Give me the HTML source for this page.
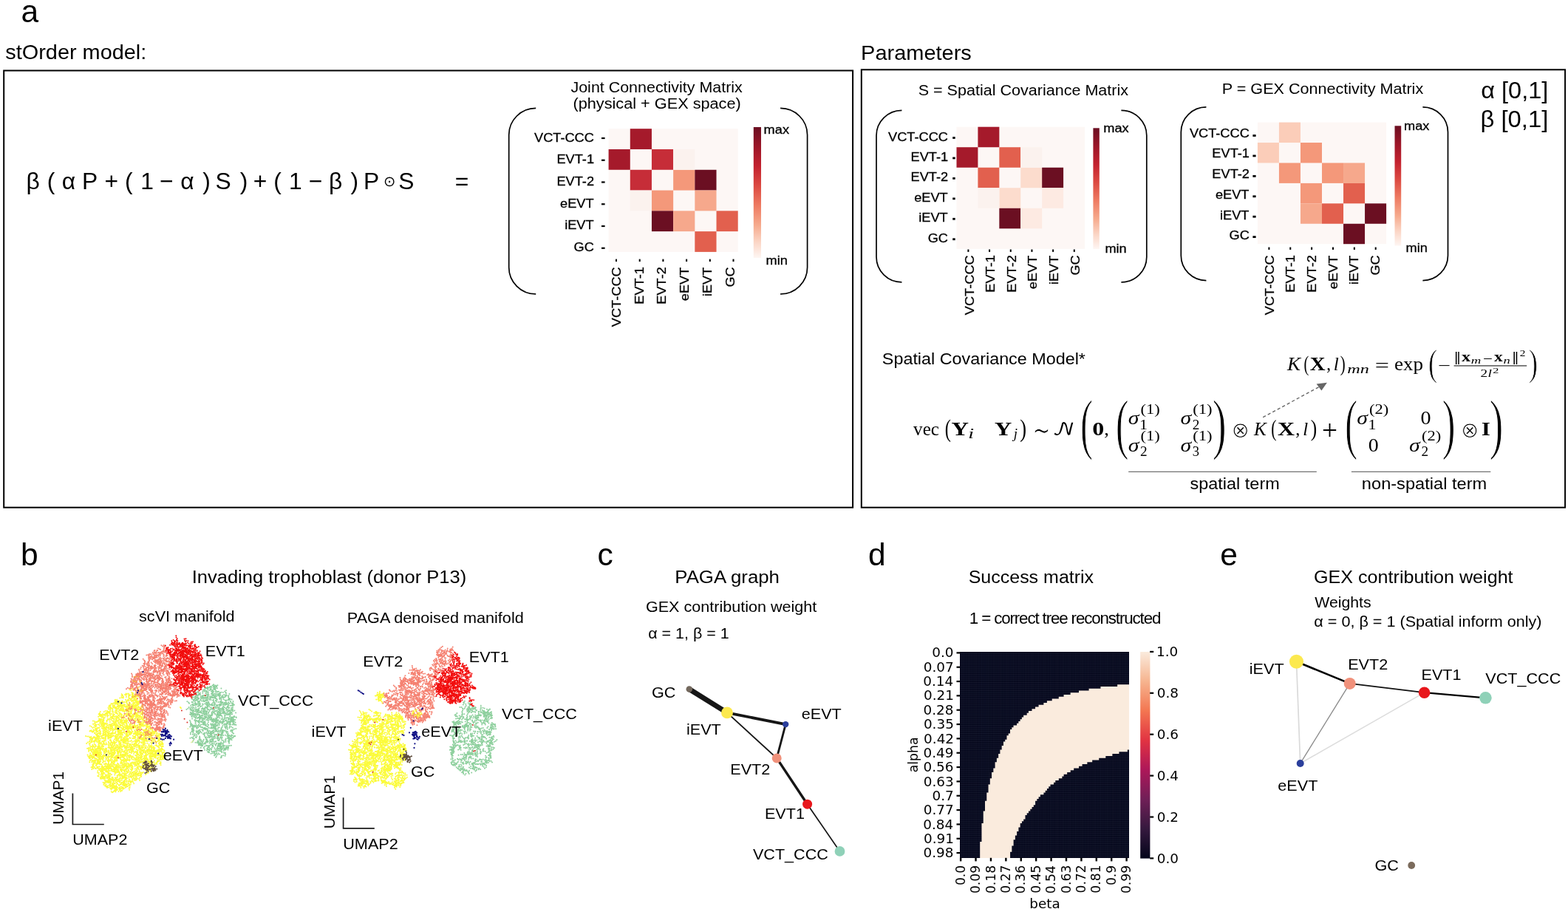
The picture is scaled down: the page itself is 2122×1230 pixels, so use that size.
<!DOCTYPE html>
<html lang="en"><head><meta charset="utf-8"><title>stOrder model figure</title>
<style>html,body{margin:0;padding:0;background:#fff}svg{display:block}</style>
</head><body>
<svg width="2122" height="1230" viewBox="0 0 2122 1230">
<rect width="2122" height="1230" fill="#fff"/>
<g fill="#000" font-family="Liberation Sans, DejaVu Sans, sans-serif">
<defs><linearGradient id="reds" x1="0" y1="0" x2="0" y2="1"><stop offset="0" stop-color="#6b0f22"/><stop offset="0.15" stop-color="#9c1628"/><stop offset="0.3" stop-color="#c3222f"/><stop offset="0.45" stop-color="#dc4a42"/><stop offset="0.6" stop-color="#ee7b62"/><stop offset="0.75" stop-color="#f6aa8d"/><stop offset="0.88" stop-color="#fbd6c6"/><stop offset="1" stop-color="#fef6f3"/></linearGradient></defs>
<text x="28.45" y="29.6" font-size="42.5">a</text>
<text transform="translate(7.28 80.3) scale(1.0526 1.0000)" font-size="27.45">stOrder model:</text>
<text transform="translate(1165.08 81) scale(1.0526 1.0000)" font-size="27.52">Parameters</text>
<rect x="5.2" y="95.5" width="1148.9" height="591.2" fill="none" stroke="#000" stroke-width="2"/>
<rect x="1165.8" y="94.3" width="952.3" height="592.4" fill="none" stroke="#000" stroke-width="2"/>
<text x="35.53" y="255.7" font-size="31.8">β</text>
<text x="63.69" y="255.7" font-size="31.8">(</text>
<text x="83.73" y="255.7" font-size="31.8">α</text>
<text x="110.96" y="255.7" font-size="31.8">P</text>
<text x="141.47" y="255.7" font-size="31.8">+</text>
<text x="168.99" y="255.7" font-size="31.8">(</text>
<text x="190.22" y="255.7" font-size="31.8">1</text>
<text x="216.07" y="255.7" font-size="31.8">−</text>
<text x="244.23" y="255.7" font-size="31.8">α</text>
<text x="274.34" y="255.7" font-size="31.8">)</text>
<text x="291.47" y="255.7" font-size="31.8">S</text>
<text x="324.84" y="255.7" font-size="31.8">)</text>
<text x="342.67" y="255.7" font-size="31.8">+</text>
<text x="370.19" y="255.7" font-size="31.8">(</text>
<text x="391.12" y="255.7" font-size="31.8">1</text>
<text x="417.87" y="255.7" font-size="31.8">−</text>
<text x="444.93" y="255.7" font-size="31.8">β</text>
<text x="474.54" y="255.7" font-size="31.8">)</text>
<text x="491.96" y="255.7" font-size="31.8">P</text>
<text x="539.17" y="255.7" font-size="31.8">S</text>
<text x="615.77" y="255.7" font-size="31.8">=</text>
<text x="519.01" y="252.2" font-size="19.5" font-family="'DejaVu Sans','Liberation Sans',sans-serif">⊙</text>
<text transform="translate(772.48 125.4) scale(1.0526 1.0000)" font-size="20.38">Joint Connectivity Matrix</text>
<text transform="translate(775.5 146.7) scale(1.0526 1.0000)" font-size="20.63">(physical + GEX space)</text>
<text transform="translate(1242.63 128.6) scale(1.0526 1.0000)" font-size="20.49">S = Spatial Covariance Matrix</text>
<text transform="translate(1653.77 126.6) scale(1.0526 1.0000)" font-size="20.52">P = GEX Connectivity Matrix</text>
<text transform="translate(2004.3 132.7) scale(1.0526 1.0000)" font-size="30.86">α [0,1]</text>
<text transform="translate(2003.47 171.7) scale(1.0526 1.0000)" font-size="31.18">β [0,1]</text>
<rect x="823.6" y="174.2" width="175.1" height="166.7" fill="#fdf7f5"/>
<rect x="852.78" y="174.2" width="29.18" height="27.78" fill="#a51a2b"/>
<rect x="881.97" y="201.98" width="29.18" height="27.78" fill="#c62d38"/>
<rect x="911.15" y="229.77" width="29.18" height="27.78" fill="#f4987a"/>
<rect x="940.33" y="229.77" width="29.18" height="27.78" fill="#6b0f22"/>
<rect x="940.33" y="257.55" width="29.18" height="27.78" fill="#f6a88c"/>
<rect x="969.52" y="285.33" width="29.18" height="27.78" fill="#e2604e"/>
<rect x="911.15" y="201.98" width="29.18" height="27.78" fill="#fbf2ee"/>
<rect x="823.6" y="201.98" width="29.18" height="27.78" fill="#a51a2b"/>
<rect x="852.78" y="229.77" width="29.18" height="27.78" fill="#c62d38"/>
<rect x="881.97" y="257.55" width="29.18" height="27.78" fill="#f4987a"/>
<rect x="881.97" y="285.33" width="29.18" height="27.78" fill="#6b0f22"/>
<rect x="911.15" y="285.33" width="29.18" height="27.78" fill="#f6a88c"/>
<rect x="940.33" y="313.12" width="29.18" height="27.78" fill="#e2604e"/>
<rect x="852.78" y="257.55" width="29.18" height="27.78" fill="#fbf2ee"/>
<text transform="translate(722.99 191.5) scale(1.0526 1.0000)" font-size="17.29" stroke="#000" stroke-width="0.3">VCT-CCC</text>
<rect x="814" y="185.9" width="4.6" height="2.2" fill="#000"/>
<text transform="translate(753.47 221.2) scale(1.0526 1.0000)" font-size="17.29" stroke="#000" stroke-width="0.3">EVT-1</text>
<rect x="814" y="215.65" width="4.6" height="2.2" fill="#000"/>
<text transform="translate(753.47 250.9) scale(1.0526 1.0000)" font-size="17.29" stroke="#000" stroke-width="0.3">EVT-2</text>
<rect x="814" y="245.4" width="4.6" height="2.2" fill="#000"/>
<text transform="translate(758.06 280.6) scale(1.0526 1.0000)" font-size="17.29" stroke="#000" stroke-width="0.3">eEVT</text>
<rect x="814" y="275.15" width="4.6" height="2.2" fill="#000"/>
<text transform="translate(764.14 310.3) scale(1.0526 1.0000)" font-size="17.29" stroke="#000" stroke-width="0.3">iEVT</text>
<rect x="814" y="304.9" width="4.6" height="2.2" fill="#000"/>
<text transform="translate(776.58 340) scale(1.0526 1.0000)" font-size="17.29" stroke="#000" stroke-width="0.3">GC</text>
<rect x="814" y="334.65" width="4.6" height="2.2" fill="#000"/>
<text transform="translate(840 442.21) rotate(-90) scale(1.0526 1.0000)" font-size="17.29" stroke="#000" stroke-width="0.3">VCT-CCC</text>
<rect x="833" y="350.6" width="2" height="3.4" fill="#000"/>
<text transform="translate(870.74 411.73) rotate(-90) scale(1.0526 1.0000)" font-size="17.29" stroke="#000" stroke-width="0.3">EVT-1</text>
<rect x="864.7" y="350.6" width="2" height="3.4" fill="#000"/>
<text transform="translate(901.48 411.73) rotate(-90) scale(1.0526 1.0000)" font-size="17.29" stroke="#000" stroke-width="0.3">EVT-2</text>
<rect x="896.4" y="350.6" width="2" height="3.4" fill="#000"/>
<text transform="translate(932.22 407.14) rotate(-90) scale(1.0526 1.0000)" font-size="17.29" stroke="#000" stroke-width="0.3">eEVT</text>
<rect x="928.1" y="350.6" width="2" height="3.4" fill="#000"/>
<text transform="translate(962.96 401.06) rotate(-90) scale(1.0526 1.0000)" font-size="17.29" stroke="#000" stroke-width="0.3">iEVT</text>
<rect x="959.8" y="350.6" width="2" height="3.4" fill="#000"/>
<text transform="translate(993.7 388.62) rotate(-90) scale(1.0526 1.0000)" font-size="17.29" stroke="#000" stroke-width="0.3">GC</text>
<rect x="991.5" y="350.6" width="2" height="3.4" fill="#000"/>
<rect x="1019.8" y="172" width="10.2" height="177" fill="url(#reds)"/>
<text transform="translate(1033.62 181.3) scale(1.0526 1.0000)" font-size="17.29" stroke="#000" stroke-width="0.3">max</text>
<text transform="translate(1036.62 357.8) scale(1.0526 1.0000)" font-size="17.29" stroke="#000" stroke-width="0.3">min</text>
<path d="M725.2 146.4 C705.04 146.4 688.7 162.58 688.7 182.53 L688.7 361.76 C688.7 381.72 705.04 397.9 725.2 397.9" fill="none" stroke="#000" stroke-width="1.7"/>
<path d="M1056.1 146.4 C1076.26 146.4 1092.6 162.58 1092.6 182.53 L1092.6 361.76 C1092.6 381.72 1076.26 397.9 1056.1 397.9" fill="none" stroke="#000" stroke-width="1.7"/>
<rect x="1294.5" y="171.7" width="173.5" height="165.1" fill="#fdf7f5"/>
<rect x="1323.42" y="171.7" width="28.92" height="27.52" fill="#a51a2b"/>
<rect x="1352.33" y="199.22" width="28.92" height="27.52" fill="#e2604e"/>
<rect x="1381.25" y="226.73" width="28.92" height="27.52" fill="#fcdccd"/>
<rect x="1410.17" y="226.73" width="28.92" height="27.52" fill="#6b0f22"/>
<rect x="1410.17" y="254.25" width="28.92" height="27.52" fill="#fdeae2"/>
<rect x="1381.25" y="199.22" width="28.92" height="27.52" fill="#fbf2ee"/>
<rect x="1294.5" y="199.22" width="28.92" height="27.52" fill="#a51a2b"/>
<rect x="1323.42" y="226.73" width="28.92" height="27.52" fill="#e2604e"/>
<rect x="1352.33" y="254.25" width="28.92" height="27.52" fill="#fcdccd"/>
<rect x="1352.33" y="281.77" width="28.92" height="27.52" fill="#6b0f22"/>
<rect x="1381.25" y="281.77" width="28.92" height="27.52" fill="#fdeae2"/>
<rect x="1323.42" y="254.25" width="28.92" height="27.52" fill="#fbf2ee"/>
<text transform="translate(1202.09 190.6) scale(1.0526 1.0000)" font-size="17.29" stroke="#000" stroke-width="0.3">VCT-CCC</text>
<rect x="1289.2" y="185.1" width="3.5" height="2.8" fill="#000"/>
<text transform="translate(1232.57 218.04) scale(1.0526 1.0000)" font-size="17.29" stroke="#000" stroke-width="0.3">EVT-1</text>
<rect x="1289.2" y="212.54" width="3.5" height="2.8" fill="#000"/>
<text transform="translate(1232.57 245.48) scale(1.0526 1.0000)" font-size="17.29" stroke="#000" stroke-width="0.3">EVT-2</text>
<rect x="1289.2" y="239.98" width="3.5" height="2.8" fill="#000"/>
<text transform="translate(1237.16 272.92) scale(1.0526 1.0000)" font-size="17.29" stroke="#000" stroke-width="0.3">eEVT</text>
<rect x="1289.2" y="267.42" width="3.5" height="2.8" fill="#000"/>
<text transform="translate(1243.24 300.36) scale(1.0526 1.0000)" font-size="17.29" stroke="#000" stroke-width="0.3">iEVT</text>
<rect x="1289.2" y="294.86" width="3.5" height="2.8" fill="#000"/>
<text transform="translate(1255.68 327.8) scale(1.0526 1.0000)" font-size="17.29" stroke="#000" stroke-width="0.3">GC</text>
<rect x="1289.2" y="322.3" width="3.5" height="2.8" fill="#000"/>
<text transform="translate(1317.6 426.21) rotate(-90) scale(1.0526 1.0000)" font-size="17.29" stroke="#000" stroke-width="0.3">VCT-CCC</text>
<rect x="1309.4" y="337.5" width="2" height="3.4" fill="#000"/>
<text transform="translate(1346.18 395.73) rotate(-90) scale(1.0526 1.0000)" font-size="17.29" stroke="#000" stroke-width="0.3">EVT-1</text>
<rect x="1338.08" y="337.5" width="2" height="3.4" fill="#000"/>
<text transform="translate(1374.76 395.73) rotate(-90) scale(1.0526 1.0000)" font-size="17.29" stroke="#000" stroke-width="0.3">EVT-2</text>
<rect x="1366.76" y="337.5" width="2" height="3.4" fill="#000"/>
<text transform="translate(1403.34 391.14) rotate(-90) scale(1.0526 1.0000)" font-size="17.29" stroke="#000" stroke-width="0.3">eEVT</text>
<rect x="1395.44" y="337.5" width="2" height="3.4" fill="#000"/>
<text transform="translate(1431.92 385.06) rotate(-90) scale(1.0526 1.0000)" font-size="17.29" stroke="#000" stroke-width="0.3">iEVT</text>
<rect x="1424.12" y="337.5" width="2" height="3.4" fill="#000"/>
<text transform="translate(1460.5 372.62) rotate(-90) scale(1.0526 1.0000)" font-size="17.29" stroke="#000" stroke-width="0.3">GC</text>
<rect x="1452.8" y="337.5" width="2" height="3.4" fill="#000"/>
<rect x="1479.4" y="173.3" width="8.4" height="163.7" fill="url(#reds)"/>
<text transform="translate(1493.32 178.8) scale(1.0526 1.0000)" font-size="17.29" stroke="#000" stroke-width="0.3">max</text>
<text transform="translate(1495.42 342.3) scale(1.0526 1.0000)" font-size="17.29" stroke="#000" stroke-width="0.3">min</text>
<path d="M1220.4 149.3 C1201.4 149.3 1186 164.55 1186 183.36 L1186 347.74 C1186 366.55 1201.4 381.8 1220.4 381.8" fill="none" stroke="#000" stroke-width="1.7"/>
<path d="M1517.4 149.3 C1536.4 149.3 1551.8 164.55 1551.8 183.36 L1551.8 347.74 C1551.8 366.55 1536.4 381.8 1517.4 381.8" fill="none" stroke="#000" stroke-width="1.7"/>
<rect x="1701.9" y="165.6" width="174.2" height="164.6" fill="#fdf7f5"/>
<rect x="1730.93" y="165.6" width="29.03" height="27.43" fill="#fbcdb9"/>
<rect x="1759.97" y="193.03" width="29.03" height="27.43" fill="#f4987a"/>
<rect x="1789" y="220.47" width="29.03" height="27.43" fill="#f4987a"/>
<rect x="1818.03" y="220.47" width="29.03" height="27.43" fill="#f6a88c"/>
<rect x="1818.03" y="247.9" width="29.03" height="27.43" fill="#e2604e"/>
<rect x="1847.07" y="275.33" width="29.03" height="27.43" fill="#6b0f22"/>
<rect x="1701.9" y="193.03" width="29.03" height="27.43" fill="#fbcdb9"/>
<rect x="1730.93" y="220.47" width="29.03" height="27.43" fill="#f4987a"/>
<rect x="1759.97" y="247.9" width="29.03" height="27.43" fill="#f4987a"/>
<rect x="1759.97" y="275.33" width="29.03" height="27.43" fill="#f6a88c"/>
<rect x="1789" y="275.33" width="29.03" height="27.43" fill="#e2604e"/>
<rect x="1818.03" y="302.77" width="29.03" height="27.43" fill="#6b0f22"/>
<text transform="translate(1609.89 185.5) scale(1.0526 1.0000)" font-size="17.29" stroke="#000" stroke-width="0.3">VCT-CCC</text>
<rect x="1695.4" y="182.1" width="4.2" height="2.8" fill="#000"/>
<text transform="translate(1640.37 213.26) scale(1.0526 1.0000)" font-size="17.29" stroke="#000" stroke-width="0.3">EVT-1</text>
<rect x="1695.4" y="209.52" width="4.2" height="2.8" fill="#000"/>
<text transform="translate(1640.37 241.02) scale(1.0526 1.0000)" font-size="17.29" stroke="#000" stroke-width="0.3">EVT-2</text>
<rect x="1695.4" y="236.94" width="4.2" height="2.8" fill="#000"/>
<text transform="translate(1644.96 268.78) scale(1.0526 1.0000)" font-size="17.29" stroke="#000" stroke-width="0.3">eEVT</text>
<rect x="1695.4" y="264.36" width="4.2" height="2.8" fill="#000"/>
<text transform="translate(1651.04 296.54) scale(1.0526 1.0000)" font-size="17.29" stroke="#000" stroke-width="0.3">iEVT</text>
<rect x="1695.4" y="291.78" width="4.2" height="2.8" fill="#000"/>
<text transform="translate(1663.48 324.3) scale(1.0526 1.0000)" font-size="17.29" stroke="#000" stroke-width="0.3">GC</text>
<rect x="1695.4" y="319.2" width="4.2" height="2.8" fill="#000"/>
<text transform="translate(1723.9 426.21) rotate(-90) scale(1.0526 1.0000)" font-size="17.29" stroke="#000" stroke-width="0.3">VCT-CCC</text>
<rect x="1716.4" y="334.5" width="2" height="3.4" fill="#000"/>
<text transform="translate(1752.46 395.73) rotate(-90) scale(1.0526 1.0000)" font-size="17.29" stroke="#000" stroke-width="0.3">EVT-1</text>
<rect x="1745.26" y="334.5" width="2" height="3.4" fill="#000"/>
<text transform="translate(1781.02 395.73) rotate(-90) scale(1.0526 1.0000)" font-size="17.29" stroke="#000" stroke-width="0.3">EVT-2</text>
<rect x="1774.12" y="334.5" width="2" height="3.4" fill="#000"/>
<text transform="translate(1809.58 391.14) rotate(-90) scale(1.0526 1.0000)" font-size="17.29" stroke="#000" stroke-width="0.3">eEVT</text>
<rect x="1802.98" y="334.5" width="2" height="3.4" fill="#000"/>
<text transform="translate(1838.14 385.06) rotate(-90) scale(1.0526 1.0000)" font-size="17.29" stroke="#000" stroke-width="0.3">iEVT</text>
<rect x="1831.84" y="334.5" width="2" height="3.4" fill="#000"/>
<text transform="translate(1866.7 372.62) rotate(-90) scale(1.0526 1.0000)" font-size="17.29" stroke="#000" stroke-width="0.3">GC</text>
<rect x="1860.7" y="334.5" width="2" height="3.4" fill="#000"/>
<rect x="1887.5" y="170.3" width="8.7" height="162.2" fill="url(#reds)"/>
<text transform="translate(1900.02 176.4) scale(1.0526 1.0000)" font-size="17.29" stroke="#000" stroke-width="0.3">max</text>
<text transform="translate(1902.62 341.1) scale(1.0526 1.0000)" font-size="17.29" stroke="#000" stroke-width="0.3">min</text>
<path d="M1632.4 144.9 C1613.57 144.9 1598.3 160.01 1598.3 178.66 L1598.3 345.84 C1598.3 364.49 1613.57 379.6 1632.4 379.6" fill="none" stroke="#000" stroke-width="1.7"/>
<path d="M1925.4 144.9 C1944.23 144.9 1959.5 160.01 1959.5 178.66 L1959.5 345.84 C1959.5 364.49 1944.23 379.6 1925.4 379.6" fill="none" stroke="#000" stroke-width="1.7"/>
<text transform="translate(1193.85 493) scale(1.0526 1.0000)" font-size="22.19">Spatial Covariance Model*</text>
<text transform="translate(1236.1 589.1) scale(0.9718 1.0000)" font-size="25.9" font-family="'Liberation Serif','DejaVu Serif',serif">vec</text>
<text transform="translate(1278.72 590.98) scale(0.7109 1.0000)" font-size="34.51" font-family="'Liberation Serif','DejaVu Serif',serif">(</text>
<text transform="translate(1287.61 589.1) scale(1.2534 1.0000)" font-size="25.9" font-family="'Liberation Serif','DejaVu Serif',serif" font-weight="bold">Y</text>
<text transform="translate(1310.25 593.3) scale(1.5125 1.0000)" font-size="18.65" font-family="'Liberation Serif','DejaVu Serif',serif" font-style="italic">i</text>
<text transform="translate(1346.02 589.1) scale(1.2422 1.0000)" font-size="25.9" font-family="'Liberation Serif','DejaVu Serif',serif" font-weight="bold">Y</text>
<text transform="translate(1371.78 593.3) scale(1.0137 1.0000)" font-size="18.65" font-family="'Liberation Serif','DejaVu Serif',serif" font-style="italic">j</text>
<text transform="translate(1380.2 590.98) scale(0.7691 1.0000)" font-size="34.51" font-family="'Liberation Serif','DejaVu Serif',serif">)</text>
<text transform="translate(1397.35 596.13) scale(0.7160 1.0000)" font-size="40.57" font-family="'DejaVu Sans','Liberation Sans',sans-serif" stroke="#fff" stroke-width="0.9" vector-effect="non-scaling-stroke">∼</text>
<text transform="translate(1424.55 588.94) scale(1.0941 1.0000)" font-size="24.6" font-family="'DejaVu Math TeX Gyre','DejaVu Serif','Liberation Serif',serif">𝒩</text>
<text transform="translate(1461.96 604.45) scale(0.5660 1.0000)" font-size="90" font-family="'Liberation Serif','DejaVu Serif',serif" stroke="#fff" stroke-width="1.2" vector-effect="non-scaling-stroke">(</text>
<text transform="translate(1478.18 589.1) scale(1.2391 1.0000)" font-size="25.9" font-family="'Liberation Serif','DejaVu Serif',serif" font-weight="bold">0</text>
<text transform="translate(1494.17 589.1) scale(1.0213 1.0000)" font-size="25.9" font-family="'Liberation Serif','DejaVu Serif',serif">,</text>
<text transform="translate(1509.76 604.45) scale(0.5954 1.0000)" font-size="90" font-family="'Liberation Serif','DejaVu Serif',serif" stroke="#fff" stroke-width="1.2" vector-effect="non-scaling-stroke">(</text>
<text transform="translate(1526.65 574) scale(1.2067 1.0000)" font-size="24.7" font-family="'Liberation Serif','DejaVu Serif',serif" font-style="italic">σ</text>
<text transform="translate(1543.5 559.7) scale(1.2082 1.0000)" font-size="18.65" font-family="'Liberation Serif','DejaVu Serif',serif">(1)</text>
<text transform="translate(1541.93 580.6) scale(1.2110 1.0000)" font-size="18.14" font-family="'Liberation Serif','DejaVu Serif',serif">1</text>
<text transform="translate(1597.45 574) scale(1.2067 1.0000)" font-size="24.7" font-family="'Liberation Serif','DejaVu Serif',serif" font-style="italic">σ</text>
<text transform="translate(1614.3 559.7) scale(1.2082 1.0000)" font-size="18.65" font-family="'Liberation Serif','DejaVu Serif',serif">(1)</text>
<text transform="translate(1613.83 580.6) scale(1.0615 1.0000)" font-size="18.14" font-family="'Liberation Serif','DejaVu Serif',serif">2</text>
<text transform="translate(1526.65 610.6) scale(1.2067 1.0000)" font-size="24.7" font-family="'Liberation Serif','DejaVu Serif',serif" font-style="italic">σ</text>
<text transform="translate(1543.5 596.3) scale(1.2082 1.0000)" font-size="18.65" font-family="'Liberation Serif','DejaVu Serif',serif">(1)</text>
<text transform="translate(1543.03 617.2) scale(1.0615 1.0000)" font-size="18.14" font-family="'Liberation Serif','DejaVu Serif',serif">2</text>
<text transform="translate(1597.45 610.6) scale(1.2067 1.0000)" font-size="24.7" font-family="'Liberation Serif','DejaVu Serif',serif" font-style="italic">σ</text>
<text transform="translate(1614.3 596.3) scale(1.2082 1.0000)" font-size="18.65" font-family="'Liberation Serif','DejaVu Serif',serif">(1)</text>
<text transform="translate(1613.76 617.2) scale(1.0236 1.0000)" font-size="18.14" font-family="'Liberation Serif','DejaVu Serif',serif">3</text>
<text transform="translate(1640.79 604.45) scale(0.6325 1.0000)" font-size="90" font-family="'Liberation Serif','DejaVu Serif',serif" stroke="#fff" stroke-width="1.2" vector-effect="non-scaling-stroke">)</text>
<text transform="translate(1666.58 592.35) scale(0.9796 1.0000)" font-size="29.7" font-family="'DejaVu Sans','Liberation Sans',sans-serif" stroke="#fff" stroke-width="0.9" vector-effect="non-scaling-stroke">⊗</text>
<text transform="translate(1697.08 589.1) scale(0.9692 1.0000)" font-size="25.9" font-family="'Liberation Serif','DejaVu Serif',serif" font-style="italic">K</text>
<text transform="translate(1720.34 590.44) scale(0.6844 1.0000)" font-size="31.43" font-family="'Liberation Serif','DejaVu Serif',serif">(</text>
<text transform="translate(1729.02 589.1) scale(1.2300 1.0000)" font-size="25.9" font-family="'Liberation Serif','DejaVu Serif',serif" font-weight="bold">X</text>
<text transform="translate(1753.14 589.1) scale(0.9466 1.0000)" font-size="25.9" font-family="'Liberation Serif','DejaVu Serif',serif">,</text>
<text transform="translate(1763.36 589.1) scale(0.9561 1.0000)" font-size="25.9" font-family="'Liberation Serif','DejaVu Serif',serif" font-style="italic">l</text>
<text transform="translate(1773.84 590.44) scale(0.8077 1.0000)" font-size="31.43" font-family="'Liberation Serif','DejaVu Serif',serif">)</text>
<text transform="translate(1788.92 594.8) scale(0.9839 1.0000)" font-size="37.87" font-family="'Liberation Serif','DejaVu Serif',serif">+</text>
<text transform="translate(1819.92 604.45) scale(0.5786 1.0000)" font-size="90" font-family="'Liberation Serif','DejaVu Serif',serif" stroke="#fff" stroke-width="1.2" vector-effect="non-scaling-stroke">(</text>
<text transform="translate(1836.25 574) scale(1.2067 1.0000)" font-size="24.7" font-family="'Liberation Serif','DejaVu Serif',serif" font-style="italic">σ</text>
<text transform="translate(1853.1 559.7) scale(1.2082 1.0000)" font-size="18.65" font-family="'Liberation Serif','DejaVu Serif',serif">(2)</text>
<text transform="translate(1851.53 580.6) scale(1.2110 1.0000)" font-size="18.14" font-family="'Liberation Serif','DejaVu Serif',serif">1</text>
<text transform="translate(1922.62 574) scale(1.0865 1.0000)" font-size="25.9" font-family="'Liberation Serif','DejaVu Serif',serif">0</text>
<text transform="translate(1851.82 610.6) scale(1.0775 1.0000)" font-size="25.9" font-family="'Liberation Serif','DejaVu Serif',serif">0</text>
<text transform="translate(1907.05 610.6) scale(1.2067 1.0000)" font-size="24.7" font-family="'Liberation Serif','DejaVu Serif',serif" font-style="italic">σ</text>
<text transform="translate(1923.9 596.3) scale(1.2082 1.0000)" font-size="18.65" font-family="'Liberation Serif','DejaVu Serif',serif">(2)</text>
<text transform="translate(1923.43 617.2) scale(1.0615 1.0000)" font-size="18.14" font-family="'Liberation Serif','DejaVu Serif',serif">2</text>
<text transform="translate(1951.56 604.45) scale(0.6068 1.0000)" font-size="90" font-family="'Liberation Serif','DejaVu Serif',serif" stroke="#fff" stroke-width="1.2" vector-effect="non-scaling-stroke">)</text>
<text transform="translate(1976.88 592.35) scale(0.9796 1.0000)" font-size="29.7" font-family="'DejaVu Sans','Liberation Sans',sans-serif" stroke="#fff" stroke-width="0.9" vector-effect="non-scaling-stroke">⊗</text>
<text transform="translate(2005.09 589.1) scale(1.1700 1.0000)" font-size="25.9" font-family="'Liberation Serif','DejaVu Serif',serif" font-weight="bold">I</text>
<text transform="translate(2015.59 604.45) scale(0.6325 1.0000)" font-size="90" font-family="'Liberation Serif','DejaVu Serif',serif" stroke="#fff" stroke-width="1.2" vector-effect="non-scaling-stroke">)</text>
<rect x="1527.2" y="637.8" width="254.6" height="1.2" fill="#6e6e6e"/>
<rect x="1828.9" y="637.8" width="188.4" height="1.2" fill="#6e6e6e"/>
<text transform="translate(1610.51 662.2) scale(1.0526 1.0000)" font-size="22.29">spatial term</text>
<text transform="translate(1842.86 662.2) scale(1.0526 1.0000)" font-size="22.45">non-spatial term</text>
<text transform="translate(1742.11 501.2) scale(1.0438 1.0000)" font-size="25.9" font-family="'Liberation Serif','DejaVu Serif',serif" font-style="italic">K</text>
<text transform="translate(1764.58 501.74) scale(0.6893 1.0000)" font-size="29.56" font-family="'Liberation Serif','DejaVu Serif',serif">(</text>
<text transform="translate(1772.87 501.2) scale(1.1142 1.0000)" font-size="25.9" font-family="'Liberation Serif','DejaVu Serif',serif" font-weight="bold">X</text>
<text transform="translate(1795.19 501.2) scale(0.8967 1.0000)" font-size="25.9" font-family="'Liberation Serif','DejaVu Serif',serif">,</text>
<text transform="translate(1804.74 501.2) scale(0.9744 1.0000)" font-size="25.9" font-family="'Liberation Serif','DejaVu Serif',serif" font-style="italic">l</text>
<text transform="translate(1813.78 501.74) scale(0.7026 1.0000)" font-size="29.56" font-family="'Liberation Serif','DejaVu Serif',serif">)</text>
<text transform="translate(1823.35 505.2) scale(1.5091 1.0000)" font-size="16.06" font-family="'Liberation Serif','DejaVu Serif',serif" font-style="italic">mn</text>
<text transform="translate(1860.87 503.35) scale(1.3322 1.0000)" font-size="25.6" font-family="'Liberation Serif','DejaVu Serif',serif">=</text>
<text transform="translate(1887.05 501.2) scale(1.0455 1.0000)" font-size="25.9" font-family="'Liberation Serif','DejaVu Serif',serif">exp</text>
<text transform="translate(1933.04 507.62) scale(0.7102 1.0000)" font-size="51.54" font-family="'Liberation Serif','DejaVu Serif',serif" stroke="#fff" stroke-width="0.8" vector-effect="non-scaling-stroke">(</text>
<text transform="translate(1946.04 502.15) scale(1.3895 1.0000)" font-size="21.82" font-family="'Liberation Serif','DejaVu Serif',serif">−</text>
<text transform="translate(1967.78 493.3) scale(1.3123 1.0000)" font-size="24.89" font-family="'Liberation Serif','DejaVu Serif',serif">‖</text>
<text transform="translate(1978 489.4) scale(1.3142 1.0000)" font-size="18.6" font-family="'Liberation Serif','DejaVu Serif',serif" font-weight="bold">x</text>
<text transform="translate(1990.84 492.2) scale(1.4896 1.0000)" font-size="12.6" font-family="'Liberation Serif','DejaVu Serif',serif" font-style="italic">m</text>
<text transform="translate(2007.07 491.5) scale(1.1474 1.0000)" font-size="20" font-family="'Liberation Serif','DejaVu Serif',serif">−</text>
<text transform="translate(2022.1 489.4) scale(1.2708 1.0000)" font-size="18.6" font-family="'Liberation Serif','DejaVu Serif',serif" font-weight="bold">x</text>
<text transform="translate(2034.55 492.2) scale(1.4753 1.0000)" font-size="12.6" font-family="'Liberation Serif','DejaVu Serif',serif" font-style="italic">n</text>
<text transform="translate(2046.28 493.3) scale(1.3123 1.0000)" font-size="24.89" font-family="'Liberation Serif','DejaVu Serif',serif">‖</text>
<text transform="translate(2056.69 481.5) scale(1.2346 1.0000)" font-size="12.4" font-family="'Liberation Serif','DejaVu Serif',serif">2</text>
<rect x="1967.6" y="494.4" width="98.6" height="1.1" fill="#1a1a1a"/>
<text transform="translate(2003.53 509.9) scale(1.2506 1.0000)" font-size="15.4" font-family="'Liberation Serif','DejaVu Serif',serif">2</text>
<text transform="translate(2013.42 509.9) scale(1.2678 1.0000)" font-size="15.4" font-family="'Liberation Serif','DejaVu Serif',serif" font-style="italic">l</text>
<text transform="translate(2020.15 505.3) scale(1.4815 1.0000)" font-size="11" font-family="'Liberation Serif','DejaVu Serif',serif">2</text>
<text transform="translate(2068.69 507.62) scale(0.7164 1.0000)" font-size="51.54" font-family="'Liberation Serif','DejaVu Serif',serif" stroke="#fff" stroke-width="0.8" vector-effect="non-scaling-stroke">)</text>
<path d="M1709.2 564.6 L1785.5 523.4" fill="none" stroke="#666" stroke-width="1.4" stroke-dasharray="4.2 3.2"/>
<path d="M1795.9 517.8 L1781.6 519.5 L1788.4 528.5 Z" fill="#666"/>
<text x="28.03" y="764.9" font-size="42.5">b</text>
<text transform="translate(259.7 789.1) scale(1.0526 1.0000)" font-size="24.25">Invading trophoblast (donor P13)</text>
<text transform="translate(188.06 840.9) scale(1.0526 1.0000)" font-size="20.51">scVI manifold</text>
<text transform="translate(469.87 843.3) scale(1.0526 1.0000)" font-size="20.56">PAGA denoised manifold</text>
<path d="M156.9 957.2h0M158.5 958.7h0M182.4 954.6h0M180.4 955.5h0M178.2 955.6h0M140.7 979.8h0M142.9 979.5h0M145.1 979.2h0M131.1 988.1h0M170.6 1035.4h0M172.2 1036.8h0M174.8 952.1h0M159.6 1044.3h0M182.2 975.5h0M157.6 1025.1h0M155.4 1025.1h0M149.2 1006.7h0M150.6 1008.4h0M148.7 1038.0h0M162.7 954.7h0M164.1 956.4h0M131.9 1021.9h0M129.9 1022.7h0M127.9 1021.8h0M151.8 971.2h0M158.3 1002.2h0M160.5 1002.4h0M146.8 992.7h0M145.7 990.7h0M153.8 1060.9h0M208.3 1000.8h0M207.3 1002.8h0M151.3 1042.2h0M153.2 1043.4h0M172.0 1043.9h0M146.5 1007.1h0M172.2 1015.8h0M173.8 1014.3h0M155.9 1046.4h0M151.4 983.0h0M171.2 939.1h0M169.2 956.0h0M136.2 1034.5h0M146.7 964.4h0M145.3 966.1h0M145.0 968.3h0M146.0 993.1h0M145.3 991.0h0M143.4 989.8h0M191.0 990.8h0M189.7 992.6h0M187.9 993.9h0M146.7 1055.1h0M148.9 1055.2h0M151.1 1054.9h0M190.1 958.5h0M144.1 1064.1h0M132.0 1016.7h0M131.6 1018.8h0M200.3 1020.8h0M198.1 1021.1h0M135.9 989.6h0M135.0 987.6h0M192.8 999.9h0M194.5 1001.2h0M161.1 973.7h0M120.8 1025.9h0M122.1 1024.2h0M121.4 1022.1h0M172.4 1027.7h0M170.4 1028.7h0M171.6 1046.2h0M135.3 1002.7h0M125.6 1025.2h0M123.8 1024.1h0M121.6 1023.9h0M182.1 1012.8h0M180.0 1013.4h0M177.8 1013.3h0M190.7 1025.4h0M191.4 1027.4h0M196.8 1033.8h0M161.5 1013.2h0M161.9 1011.1h0M163.8 1010.0h0M157.1 1066.8h0M155.0 1066.5h0M177.6 1009.8h0M178.8 1011.7h0M178.2 1016.5h0M177.2 1014.6h0M175.0 1014.1h0M177.0 983.4h0M175.0 982.6h0M188.1 1012.6h0M190.0 1013.7h0M191.6 1015.3h0M174.1 962.7h0M147.4 1043.3h0M145.2 1043.4h0M143.1 1044.0h0M150.4 1058.0h0M149.4 1060.0h0M142.1 1040.2h0M140.1 1041.2h0M138.1 1042.1h0M185.8 1048.4h0M152.6 1051.9h0M152.8 1054.1h0M152.8 1056.3h0M162.5 974.0h0M164.3 972.7h0M185.1 1020.1h0M132.8 1031.8h0M135.0 1031.9h0M130.7 986.7h0M197.2 991.6h0M122.1 1013.1h0M120.1 1014.1h0M186.9 1032.9h0M184.9 1033.7h0M174.4 1024.2h0M204.3 992.2h0M206.4 991.4h0M176.6 998.8h0M178.6 942.4h0M180.1 940.8h0M151.4 1051.8h0M153.0 1053.4h0M177.7 990.6h0M177.2 992.7h0M174.2 1042.0h0M218.9 1024.6h0M219.0 1022.4h0M219.2 1020.2h0M172.4 955.2h0M172.4 953.0h0M177.6 964.2h0M176.1 962.5h0M176.1 960.3h0M133.3 995.6h0M132.6 1030.9h0M134.6 1031.8h0M156.5 1045.9h0M171.9 1008.9h0M171.7 1011.1h0M151.9 1037.0h0M151.6 1034.8h0M150.4 1033.0h0M195.2 995.8h0M197.1 994.8h0M199.3 995.2h0M163.2 1071.0h0M132.7 1017.5h0M131.8 1015.5h0M158.8 1041.7h0M157.1 1040.3h0M156.1 1038.3h0M210.9 999.6h0M217.9 1007.3h0M216.9 1009.2h0M163.8 999.9h0M163.2 997.8h0M161.5 996.4h0M151.7 1060.8h0M213.1 1030.1h0M210.3 1008.6h0M204.5 1029.5h0M185.7 985.1h0M186.7 983.1h0M188.9 982.9h0M148.3 1038.2h0M146.9 1036.4h0M178.7 942.6h0M180.0 944.4h0M215.4 1006.9h0M161.4 1025.0h0M163.6 1025.2h0M184.1 1036.0h0M185.0 1051.2h0M156.1 977.6h0M168.3 1047.4h0M170.4 1046.9h0M165.9 986.9h0M167.1 985.0h0M169.1 984.1h0M145.5 970.1h0M145.0 967.9h0M145.2 965.7h0M157.9 965.4h0M156.1 964.2h0M181.6 955.3h0M183.4 954.1h0M135.5 982.9h0M134.5 980.9h0M135.2 978.8h0M171.3 1029.6h0M173.2 1028.5h0M175.1 1029.6h0M163.9 1069.6h0M173.7 977.8h0M203.2 982.3h0M201.0 982.4h0M205.0 1023.9h0M203.7 1025.7h0M145.4 969.9h0M146.6 968.1h0M220.1 1005.6h0M220.3 1007.8h0M184.0 971.2h0M184.8 969.1h0M198.8 1002.0h0M198.4 999.8h0M199.6 998.0h0M177.1 1059.1h0M176.4 1057.0h0M175.4 1055.1h0M176.7 1034.5h0M178.3 1036.1h0M179.6 1037.8h0M156.8 1034.9h0M157.8 1036.8h0M158.3 1039.0h0M126.6 987.2h0M126.7 989.4h0M125.1 990.8h0M163.1 1025.5h0M163.3 1027.7h0M164.9 1029.3h0M125.9 1013.7h0M188.6 968.6h0M171.9 1049.8h0M174.0 1050.4h0M176.1 1051.1h0M214.6 1011.2h0M202.2 1011.7h0M200.8 1013.4h0M200.3 1015.6h0M126.5 1037.5h0M126.4 1035.3h0M126.1 1033.1h0M167.4 1017.7h0M136.0 1053.5h0M192.3 1001.5h0M191.3 999.6h0M190.8 997.4h0M163.3 1022.2h0M163.7 1020.1h0M163.7 1017.9h0M193.6 1034.0h0M143.0 993.8h0M140.8 993.9h0M182.5 1034.5h0M122.1 1019.6h0M150.4 981.9h0M149.3 980.0h0M194.1 1008.2h0M192.5 1009.7h0M155.6 1046.2h0M163.4 1000.3h0M165.6 1000.4h0M147.1 1065.5h0M145.0 1066.1h0M143.5 1064.5h0M202.7 1035.9h0M164.8 985.3h0M166.9 985.9h0M131.6 986.0h0M130.0 987.5h0M171.2 979.6h0M136.4 999.4h0M167.2 998.4h0M168.8 996.9h0M129.8 999.7h0M130.4 1001.8h0M174.2 941.4h0M176.2 940.6h0M218.6 1007.2h0M160.2 990.3h0M159.9 988.1h0M159.4 985.9h0M155.6 947.6h0M157.6 948.3h0M156.8 950.4h0M174.3 948.6h0M166.9 998.4h0M168.2 1000.1h0M169.0 1002.2h0M211.4 993.1h0M211.8 995.2h0M204.2 991.0h0M206.0 989.8h0M206.1 987.6h0M153.7 995.6h0M151.8 996.6h0M150.3 998.3h0M125.2 1025.2h0M209.7 990.8h0M211.4 989.4h0M212.3 987.4h0M219.7 1010.0h0M217.6 1009.2h0M215.5 1008.6h0M133.5 1003.4h0M167.2 1061.1h0M169.1 1062.2h0M189.5 1030.5h0M191.7 1030.9h0M193.6 1029.9h0M140.1 999.5h0M175.0 970.0h0M177.2 969.8h0M179.1 968.7h0M153.3 1058.2h0M154.2 1056.1h0M138.6 1027.6h0M139.6 1029.6h0M134.7 1027.1h0M132.8 1028.3h0M131.0 1027.1h0M165.6 974.6h0M186.3 985.9h0M185.8 990.1h0M167.5 983.6h0M169.7 983.8h0M160.2 1011.4h0M162.0 1010.0h0M184.5 958.5h0M132.8 984.7h0M131.0 1034.5h0M161.3 990.6h0M159.6 989.2h0M158.4 987.3h0M144.9 1058.1h0M142.7 1058.6h0M141.7 1060.6h0M148.0 1051.6h0M146.1 1050.6h0M143.9 1050.2h0M152.8 1071.8h0M150.7 1071.2h0M192.3 976.4h0M191.4 978.4h0M189.4 979.4h0M219.9 1026.0h0M180.6 969.9h0M178.2 1046.1h0M177.9 1048.3h0M205.0 1012.8h0M207.1 1012.3h0M208.0 1010.2h0M207.5 998.9h0M174.3 956.1h0M174.8 958.2h0M213.3 1021.7h0M211.1 1021.6h0M209.8 1019.8h0M153.5 957.4h0M155.6 956.6h0M198.1 1027.0h0M195.9 1027.3h0M193.8 1026.7h0M178.2 956.2h0M179.9 957.5h0M184.4 1025.8h0M182.2 1025.7h0M146.6 1048.0h0M144.5 1048.5h0M143.6 1050.5h0M166.8 1065.7h0M166.3 1067.8h0M165.2 1069.7h0M185.4 950.8h0M177.3 962.6h0M157.8 948.6h0M167.0 957.9h0M167.6 960.0h0M124.5 1030.3h0M134.0 1027.2h0M136.8 972.9h0M176.6 1058.5h0M170.4 1048.8h0M168.7 1050.2h0M167.8 1052.3h0M169.0 1026.4h0M126.0 1021.0h0M127.5 1019.5h0M129.1 1018.0h0M189.5 957.5h0M191.1 959.0h0M192.9 960.2h0M147.8 962.9h0M145.6 963.2h0M189.9 994.2h0M129.5 1016.1h0M129.4 1013.9h0M185.3 940.5h0M183.8 942.2h0M183.4 944.3h0M153.6 981.4h0M151.5 981.8h0M149.7 980.6h0M217.9 1013.1h0M220.0 1013.8h0M155.8 952.7h0M154.2 951.3h0M156.4 1023.3h0M158.4 1022.2h0M159.8 1020.6h0M155.0 1008.6h0M156.8 1009.9h0M163.5 954.8h0M162.8 952.8h0M161.6 950.9h0M147.7 1040.4h0M149.5 1039.1h0M150.1 1037.0h0M158.8 1065.6h0M160.8 1066.5h0M162.8 1067.5h0M148.9 976.9h0M162.4 955.2h0M164.4 956.0h0M174.7 973.8h0M162.4 1016.4h0M160.5 1017.7h0M159.0 1019.2h0M216.4 1017.5h0M218.4 1016.7h0M192.2 954.2h0M125.5 1025.1h0M127.4 1023.8h0M181.2 1060.3h0M180.2 1058.3h0M170.1 983.9h0M170.4 986.1h0M179.4 937.5h0M153.4 1017.9h0M154.2 1015.8h0M163.0 1022.4h0M165.2 1022.4h0M143.5 1027.6h0M185.6 1021.3h0M183.9 1022.6h0M135.4 1039.9h0M136.3 1041.9h0M138.4 1042.7h0M188.9 985.7h0M205.4 1002.1h0M178.9 982.4h0M176.9 983.4h0M176.0 985.4h0M125.3 1008.1h0M124.2 1010.0h0M158.2 971.7h0M147.5 1062.4h0M149.7 1062.5h0M151.9 1062.1h0M208.0 989.7h0M206.1 990.9h0M204.4 992.3h0M177.9 1016.8h0M178.0 1019.0h0M221.7 1024.9h0M222.2 1022.8h0M224.0 1021.5h0M150.9 1016.5h0M152.4 1018.0h0M152.4 1020.2h0M151.3 1014.5h0M150.1 1012.6h0M172.5 982.7h0M170.6 981.7h0M168.5 981.1h0M163.9 956.0h0M163.6 958.2h0M162.3 960.0h0M164.0 952.9h0M165.9 954.0h0M155.8 984.1h0M157.8 984.9h0M161.8 968.9h0M163.5 970.3h0M137.6 1012.7h0M139.8 1012.8h0M171.1 1053.6h0M168.1 1021.3h0M168.8 1023.3h0M167.6 1025.2h0M152.1 1061.4h0M186.6 963.0h0M140.7 963.3h0M142.6 962.1h0M148.5 974.6h0M181.4 1049.8h0M179.4 1050.7h0M177.8 1052.3h0M131.4 977.0h0M133.4 976.0h0M134.5 974.1h0M148.5 974.1h0M146.3 973.8h0M162.6 1048.6h0M160.5 1047.9h0M147.5 1030.3h0M158.4 1011.6h0M200.3 1027.6h0M200.9 1029.7h0M150.2 1063.5h0M149.1 1061.6h0M164.8 992.1h0M182.7 948.4h0M182.1 946.3h0M180.7 944.6h0M168.4 1059.2h0M150.9 1048.2h0M148.7 1048.8h0M214.0 1025.1h0M166.9 984.0h0M165.7 985.9h0M165.0 988.0h0M134.0 974.6h0M134.1 972.4h0M136.2 1043.5h0M134.5 1042.1h0M138.3 968.5h0M136.8 966.9h0M183.5 974.9h0M183.2 972.7h0M176.9 1033.2h0M175.2 1034.7h0M176.1 1036.7h0M179.6 1053.8h0M181.7 1053.2h0M199.8 984.0h0M201.1 985.7h0M191.2 1050.8h0M190.5 1048.8h0M189.7 1046.7h0M177.1 1022.5h0M175.8 1024.3h0M128.1 1031.2h0M129.1 1029.2h0M139.3 981.2h0M156.8 985.4h0M155.1 986.8h0M158.4 981.7h0M156.4 980.9h0M155.7 978.8h0M165.9 943.4h0M164.4 941.8h0M165.1 939.7h0M189.6 993.2h0M190.1 991.1h0M155.2 1019.9h0M180.5 947.2h0M182.6 948.0h0M184.5 949.0h0M216.4 1025.8h0M216.0 1028.0h0M215.0 1030.0h0M160.5 1071.0h0M161.6 1069.1h0M128.8 1007.8h0M155.9 991.2h0M154.0 992.3h0M152.0 993.3h0M175.6 1036.3h0M173.7 1037.3h0M192.2 962.9h0M132.3 1050.1h0M167.6 1016.7h0M169.5 1015.7h0M171.7 1015.5h0M159.5 988.1h0M135.0 1009.5h0M133.7 1011.2h0M195.2 1037.6h0M193.9 1035.8h0M192.7 1033.9h0M217.0 1024.1h0M217.3 1021.9h0M174.7 1039.3h0M158.8 1057.6h0M157.2 1059.0h0M124.8 1029.1h0M127.0 1029.1h0M128.3 1030.9h0M168.1 962.2h0M165.9 962.2h0M201.5 1038.3h0M201.4 1040.5h0M196.6 998.5h0M195.3 996.7h0M194.4 994.7h0M192.8 1027.4h0M177.8 1033.9h0M177.8 1036.1h0M123.7 989.4h0M121.5 989.4h0M167.0 1057.3h0M168.5 1055.7h0M175.9 979.9h0M176.2 982.1h0M199.0 988.1h0M196.8 987.8h0M137.3 1009.9h0M148.8 958.3h0M146.5 973.3h0M152.4 1006.6h0M153.8 1004.8h0M153.6 1002.6h0M155.1 1005.8h0M154.1 1003.9h0M205.1 1006.7h0M204.3 1004.7h0M204.8 1002.6h0M179.2 1013.7h0M179.1 1011.5h0M188.0 1033.0h0M186.1 1034.1h0M215.5 998.6h0M215.5 1000.8h0M138.6 975.5h0M204.7 1014.2h0M202.6 1014.8h0M170.9 973.3h0M139.4 1006.5h0M178.9 1057.1h0M172.6 1040.2h0M173.9 1042.0h0M174.4 1044.2h0M135.8 972.9h0M137.9 973.4h0M140.0 974.3h0M189.9 983.3h0M165.3 954.6h0M163.1 955.0h0M161.0 954.8h0M169.4 1052.1h0M168.2 1050.2h0M168.0 1048.0h0M160.0 950.7h0M159.6 948.6h0M158.3 946.8h0M181.9 957.3h0M179.7 957.0h0M175.5 982.2h0M176.3 980.1h0M178.5 980.3h0M149.3 986.5h0M209.5 1021.9h0M146.6 1048.0h0M188.2 1053.9h0M189.1 1055.9h0M127.2 1031.3h0M128.6 1029.6h0M196.5 974.8h0M137.7 1042.5h0M139.9 1042.3h0M198.1 1022.3h0M198.3 1024.5h0M199.4 1026.4h0M211.7 1022.0h0M211.1 1024.2h0M180.6 973.7h0M179.6 971.7h0M178.2 970.0h0M130.0 976.9h0M128.0 976.1h0M125.9 975.5h0M168.5 967.0h0M166.8 968.4h0M164.9 967.1h0M183.4 1047.5h0M182.9 1045.3h0M180.8 1044.6h0M133.2 1029.3h0M172.1 1000.4h0M169.9 1000.9h0M170.2 959.9h0M170.2 962.1h0M139.4 1024.3h0M176.1 972.9h0M141.2 985.2h0M143.4 985.2h0M189.9 1031.4h0M188.0 1032.5h0M185.8 1032.3h0M161.0 1066.9h0M147.4 1062.7h0M145.4 1063.5h0M168.2 954.6h0M177.6 1032.5h0M179.6 1031.5h0M165.4 1051.3h0M166.4 1053.3h0M158.5 974.7h0M159.6 976.1h0M157.5 976.8h0M155.9 978.3h0M200.1 1014.0h0M160.3 955.8h0M184.0 970.6h0M184.9 968.6h0M187.1 968.3h0M203.8 1023.8h0M206.0 1024.0h0M169.2 1036.6h0M159.2 995.9h0M160.3 994.1h0M160.9 991.9h0M177.4 1051.7h0M176.5 1049.7h0M174.6 1048.5h0M205.8 986.9h0M203.6 987.2h0M129.0 997.9h0M129.3 1000.1h0M130.2 1002.1h0M158.0 1052.0h0M158.5 1054.2h0M160.3 1055.4h0M203.5 1030.0h0M187.6 992.3h0M187.0 990.2h0M185.5 988.5h0M161.6 961.2h0M168.9 1021.1h0M167.2 1022.5h0M166.0 1024.4h0M149.9 988.2h0M148.3 989.7h0M146.9 991.4h0M171.0 1052.0h0M170.0 1054.0h0M163.1 1060.9h0M161.3 1062.2h0M143.5 1022.9h0M143.8 1020.7h0M142.1 1019.3h0M187.0 990.2h0M189.2 990.3h0M191.4 990.4h0M132.7 1018.9h0M131.6 1020.8h0M133.3 1022.3h0M158.4 1059.8h0M163.3 1035.7h0M161.1 1036.3h0M148.3 1054.4h0M148.5 1056.6h0M146.4 1057.3h0M194.7 999.9h0M192.5 999.8h0M190.3 1000.0h0M192.8 1012.6h0M192.4 1014.8h0M167.5 1027.6h0M169.2 1029.0h0M170.7 1030.6h0M195.5 1032.7h0M195.3 1030.5h0M197.2 1029.3h0M166.5 1060.3h0M167.6 1058.4h0M168.4 1056.4h0M153.2 988.6h0M176.7 990.7h0M174.9 989.4h0M152.0 1024.9h0M218.6 1006.6h0M201.1 1036.2h0M198.9 1036.2h0M193.0 1004.1h0M194.6 1002.6h0M195.0 1000.4h0M162.7 1056.1h0M164.8 1055.7h0M165.6 1053.6h0M144.7 1044.5h0M143.9 1042.5h0M142.1 1041.2h0M202.7 1041.5h0M200.5 1041.7h0M170.6 1018.4h0M172.0 1020.1h0M126.8 990.0h0M127.9 991.9h0M153.7 963.4h0M150.9 958.3h0M149.5 960.0h0M149.4 962.2h0M152.0 1031.9h0M153.6 1033.4h0M154.4 1035.4h0M160.4 1034.1h0M127.5 1025.5h0M129.6 1026.3h0M131.3 1027.6h0M217.5 1003.6h0M215.6 1004.7h0M145.6 1058.1h0M147.3 1056.7h0M200.6 1016.2h0M198.4 1016.6h0M196.6 1017.8h0M136.4 1023.8h0M135.7 1025.9h0M185.3 958.4h0M186.9 957.0h0M175.3 933.3h0M177.3 934.3h0M157.6 985.9h0M149.5 1014.3h0M149.3 1016.5h0M149.0 1018.7h0M205.1 1011.2h0M191.3 1011.0h0M198.5 991.6h0M128.5 997.5h0M199.8 1015.5h0M201.6 1014.2h0M203.7 1014.8h0M188.4 948.4h0M189.6 946.5h0M155.9 1015.5h0M155.7 1013.3h0M209.2 1025.0h0M176.3 982.6h0M177.3 984.6h0M177.8 986.8h0M177.5 986.0h0M178.3 988.0h0M163.6 978.2h0M163.5 976.0h0M182.5 1046.3h0M184.6 1046.0h0M186.7 1046.7h0M158.2 1065.7h0M156.1 1065.1h0M154.8 1063.3h0M147.5 1036.7h0M142.4 1029.8h0M140.2 1030.0h0M138.8 1031.7h0M201.6 1006.9h0M201.7 1009.1h0M203.9 1009.1h0M163.1 950.8h0M164.9 949.6h0M167.0 950.3h0M130.0 988.9h0M151.9 1015.7h0M149.9 1016.7h0M154.8 1020.3h0M156.1 1018.5h0M155.1 1016.6h0M151.8 1027.7h0M150.6 1029.6h0M154.3 1025.8h0M155.1 1027.8h0M155.9 1029.9h0M125.3 1012.9h0M126.6 1014.7h0M128.6 1015.5h0M172.3 985.6h0M173.4 983.7h0M175.6 983.3h0M162.8 1020.5h0M170.4 993.8h0M140.7 1052.5h0M138.5 1052.4h0M203.5 986.3h0M170.9 1018.3h0M150.6 1009.7h0M152.0 1060.4h0M151.6 1062.6h0M149.9 1063.9h0M158.7 1010.5h0M158.7 1008.3h0M173.3 1037.6h0M171.1 1037.7h0M211.5 1020.3h0M209.6 1021.5h0M207.6 1022.4h0M166.8 972.1h0M167.6 970.0h0M168.0 967.9h0M137.6 982.8h0M137.3 980.6h0M137.4 978.4h0M178.7 956.3h0M177.5 958.1h0M181.8 1007.5h0M130.7 999.7h0M136.2 1030.1h0M135.1 1032.0h0M133.3 1033.3h0M155.7 1040.0h0M153.7 1041.0h0M142.5 1048.2h0M141.4 1046.2h0M139.7 1044.8h0M170.6 956.4h0M204.0 1024.7h0M169.3 1045.9h0M167.1 1046.4h0M165.1 1047.3h0M170.9 942.9h0M170.6 940.8h0M170.5 938.6h0M164.4 958.8h0M172.8 986.7h0M140.3 1040.8h0M140.0 1038.6h0M141.6 1037.1h0M159.1 966.1h0M157.1 965.1h0M163.2 1061.3h0M164.4 1059.5h0M146.0 1040.0h0M144.0 1040.9h0M160.8 983.1h0M162.7 982.1h0M164.8 981.4h0M121.2 997.8h0M123.2 996.7h0M143.2 965.4h0M197.1 990.9h0M195.8 989.1h0M133.0 975.6h0M167.5 1030.8h0M185.2 946.4h0M184.3 948.4h0M184.1 950.6h0M199.8 1014.9h0M194.0 1015.9h0M193.9 1018.1h0M192.4 1019.7h0M157.8 965.2h0M156.1 963.9h0M140.6 1030.7h0M142.6 1029.9h0M165.3 1010.6h0M160.5 1012.6h0M172.0 1017.5h0M173.1 1019.4h0M191.1 1019.8h0M190.9 1022.0h0M191.5 981.3h0M193.7 981.1h0M193.7 988.0h0M191.9 986.7h0M190.5 985.0h0M206.4 1002.8h0M206.3 1005.0h0M170.9 1041.3h0M171.7 1043.3h0M172.9 1045.2h0M149.2 1007.7h0M151.4 1007.6h0M175.7 956.1h0M175.4 954.0h0M175.8 951.8h0M168.5 991.9h0M166.6 990.8h0M164.6 991.5h0M157.1 984.7h0M156.9 982.5h0M158.4 980.9h0M134.4 1018.1h0M132.2 1018.2h0M193.9 1008.4h0M185.5 1007.4h0M138.5 1047.4h0M140.2 1046.1h0M139.2 1044.1h0M133.3 975.4h0M135.5 975.3h0M152.8 1020.8h0M151.3 1022.3h0M149.4 1005.6h0M151.2 1004.3h0M172.7 955.4h0M171.0 979.2h0M170.5 977.0h0M172.0 975.4h0M193.8 1018.6h0M193.1 1020.7h0M191.2 1021.8h0M138.0 979.6h0M139.5 981.2h0M140.3 983.3h0M161.9 1002.9h0M162.1 1005.1h0M161.2 1007.1h0M157.4 957.7h0M158.9 956.2h0M161.1 955.7h0M169.7 1035.2h0M168.0 1033.7h0M165.8 1033.5h0M213.8 1022.6h0M214.3 1020.4h0M214.8 1018.3h0M140.3 989.6h0M140.5 991.8h0M142.4 992.9h0M175.3 1061.5h0M175.7 1063.7h0M175.6 1065.9h0M168.2 963.2h0M165.5 948.5h0M169.4 1012.5h0M168.5 1010.5h0M168.9 1008.4h0M152.2 987.8h0M150.5 986.3h0M219.4 1014.2h0M221.5 1014.9h0M157.4 1008.1h0M155.2 1008.1h0M150.2 1025.8h0M151.4 1024.0h0M152.9 1022.4h0M165.6 1021.0h0M167.6 1021.8h0M151.0 1019.7h0M170.6 1002.9h0M168.5 1003.2h0M195.2 977.2h0M151.6 991.9h0M152.4 989.9h0M152.5 987.7h0M131.1 1038.3h0M129.9 1040.1h0M151.9 979.6h0M153.6 978.2h0M172.8 996.1h0M170.7 995.7h0M147.1 1016.4h0M189.6 977.1h0M189.0 979.2h0M120.2 1015.6h0M167.8 955.2h0M169.2 953.5h0M133.4 999.7h0M132.8 1001.8h0M130.9 1002.9h0M210.8 1018.7h0M135.9 968.8h0M137.8 967.8h0M156.3 975.5h0M171.2 1019.9h0M172.5 1021.7h0M174.6 1022.2h0M172.8 986.6h0M184.2 1028.8h0M184.6 1031.0h0M183.0 1032.5h0M173.5 964.3h0M153.1 1033.3h0M154.9 1034.5h0M127.8 1019.5h0M158.9 1065.4h0M126.4 1029.2h0M134.9 1011.6h0M134.1 1013.6h0M133.7 1015.8h0M184.9 1013.9h0M186.1 1015.7h0M186.1 1017.9h0M129.6 1013.4h0M146.7 1041.3h0M147.1 1039.1h0M174.5 1028.0h0M155.7 949.1h0M156.0 951.3h0M157.8 1068.9h0M177.2 1046.9h0M155.4 1030.6h0M139.0 975.4h0M194.6 990.2h0M195.2 988.0h0M197.1 986.9h0M144.1 1007.3h0M178.6 1004.2h0M180.6 1003.4h0M182.5 1002.2h0M165.6 1036.0h0M154.0 955.9h0M153.0 954.0h0M151.3 952.5h0M163.9 1013.2h0M168.0 977.7h0M170.2 978.2h0M183.7 990.7h0M184.7 992.7h0M185.3 994.8h0M205.9 987.9h0M186.0 953.0h0M184.5 951.4h0M184.4 949.2h0M142.5 1062.9h0M194.1 1001.8h0M194.4 1004.0h0M193.9 1006.2h0M209.4 990.2h0M211.6 990.5h0M212.9 992.2h0M215.5 1011.5h0M214.0 1009.8h0M212.0 1009.0h0M164.5 990.7h0M165.2 992.8h0M148.8 1038.5h0M174.1 990.6h0M176.2 991.5h0M178.3 992.0h0M155.3 1018.9h0M176.4 967.5h0M174.4 966.4h0M181.9 942.5h0M181.5 944.7h0M141.6 1023.0h0M143.4 1021.7h0M148.8 960.4h0M149.4 958.3h0M198.4 984.5h0M200.4 983.7h0M202.4 982.8h0M177.5 1043.5h0M178.8 1041.7h0M172.7 986.0h0M171.9 984.0h0M172.8 981.9h0M191.4 1018.5h0M197.2 1011.0h0M195.1 1010.4h0M190.3 1013.4h0M189.1 1011.5h0M187.4 1010.1h0M210.9 1022.7h0M208.9 1023.4h0M206.8 1024.1h0M176.0 989.9h0M221.1 1017.7h0M218.9 1017.6h0M163.6 976.0h0M177.1 977.7h0M164.4 1058.9h0M208.8 1032.3h0M209.3 1034.5h0M196.4 1018.4h0M196.0 1016.3h0M194.1 1015.1h0M191.4 1048.4h0M190.4 1050.3h0M179.2 1054.7h0M126.4 1030.7h0M124.3 1031.3h0M158.5 1049.5h0M188.7 1036.8h0M162.8 1038.5h0M160.8 1039.6h0M158.7 1039.1h0M217.2 1000.3h0M215.5 1001.7h0M145.3 1051.7h0M143.2 1051.1h0M141.0 1050.9h0M155.3 1038.3h0M195.5 1034.5h0M206.0 1018.5h0M204.5 1020.1h0M202.3 1019.5h0M148.1 1019.0h0M161.3 984.5h0M160.5 986.5h0M161.4 988.6h0M195.7 1027.9h0M194.3 1029.7h0M130.8 993.9h0M132.5 995.4h0M134.2 996.8h0M138.7 1008.4h0M140.1 1010.1h0M191.4 1028.5h0M190.9 1030.6h0M189.4 1032.3h0M175.5 1046.9h0M176.3 1044.9h0M215.5 1005.5h0M216.7 1003.6h0M139.4 1046.8h0M137.4 1045.9h0M136.1 1044.1h0M176.0 1034.9h0M191.1 993.8h0M197.4 996.8h0M198.3 994.8h0M171.8 1034.4h0M174.0 1034.3h0M156.4 1041.8h0M157.9 1043.3h0M158.8 1045.3h0M182.0 993.1h0M184.0 994.0h0M186.1 993.6h0M161.9 948.9h0M160.0 949.9h0M158.7 951.7h0M143.5 1016.5h0M141.4 1017.0h0M135.4 968.9h0M136.9 967.2h0M138.8 966.2h0M182.9 992.6h0M184.3 994.3h0M203.8 1038.7h0M203.6 1040.9h0M203.9 1043.0h0M167.7 955.5h0M166.0 954.0h0M165.0 955.9h0M150.0 993.7h0M129.6 1035.5h0M130.3 1033.4h0M145.9 972.7h0M179.9 939.8h0M181.1 941.7h0M133.4 1007.0h0M133.8 1004.8h0M134.6 1002.7h0M180.4 948.3h0M168.7 1044.2h0M165.7 1029.2h0M163.9 1028.0h0M207.5 1031.6h0M205.7 1032.8h0M139.0 1040.6h0M202.7 1031.8h0M205.8 1009.6h0M154.2 1029.4h0M156.4 1029.3h0M158.6 1028.9h0M170.1 1032.7h0M195.3 1023.8h0M194.5 1025.9h0M155.6 950.9h0M177.9 965.6h0M175.9 964.8h0M137.9 997.7h0M140.1 998.0h0M177.4 991.5h0M166.1 955.0h0M166.2 957.2h0M166.0 959.4h0M180.4 998.9h0M154.5 1041.8h0M153.5 1043.8h0M139.8 1022.5h0M138.0 1023.8h0M135.8 1023.6h0M188.4 972.2h0M188.0 974.4h0M172.0 1053.1h0M170.6 1054.8h0M168.7 1056.0h0M169.7 997.5h0M181.5 1044.3h0M179.4 1045.0h0M184.8 954.1h0M185.6 952.0h0M186.7 950.1h0M150.2 1011.5h0M197.1 1048.0h0M198.6 1046.4h0M200.7 1045.7h0M183.0 990.7h0M183.1 992.9h0M205.0 1019.9h0M203.9 1021.7h0M202.9 1023.7h0M129.0 1013.8h0M155.3 981.0h0M205.9 1035.5h0M204.0 1034.3h0M201.9 1033.7h0M169.6 1014.9h0M169.4 1012.7h0M170.2 1010.7h0M180.0 1017.3h0M177.8 1017.5h0M175.8 1018.3h0M127.3 988.8h0M128.9 987.4h0M130.4 985.8h0M179.3 1010.6h0M181.3 1009.7h0M164.6 1013.5h0M199.7 1017.4h0M200.7 1015.4h0M202.0 1013.6h0M180.4 1047.8h0M131.5 993.0h0M130.6 995.0h0M182.0 1031.8h0M189.3 1012.6h0M126.1 1009.6h0M127.7 1011.1h0M128.2 1013.3h0M131.5 1028.2h0M133.7 1028.4h0M134.8 1030.3h0M172.5 1039.7h0M175.5 1007.8h0M207.6 991.7h0M131.8 992.9h0M155.3 1069.3h0M153.8 1070.9h0M152.0 1072.2h0M143.4 1012.5h0M164.1 1058.8h0M166.3 1059.1h0M167.9 1057.6h0M146.2 1059.0h0M144.1 1058.6h0M143.6 1056.5h0M133.8 1021.6h0M131.6 1021.3h0M129.4 1021.8h0M193.8 1045.0h0M202.3 1024.5h0M205.8 1015.5h0M141.2 1051.1h0M215.5 1000.4h0M164.4 966.4h0M162.3 966.1h0M147.2 1005.1h0M188.5 970.1h0M189.8 968.3h0M190.7 966.3h0M176.9 1061.4h0M177.1 1059.2h0M179.1 1015.2h0M176.9 1015.0h0M174.8 1015.8h0M136.1 973.6h0M197.8 1023.8h0M196.8 1021.8h0M197.5 1019.7h0M158.0 952.4h0M157.9 950.2h0M156.9 959.8h0M156.2 961.9h0M160.5 993.4h0M160.8 991.2h0M161.3 967.6h0M178.0 985.3h0M145.2 1024.1h0M146.8 1022.7h0M148.0 1020.8h0M171.4 939.4h0M143.8 986.7h0M142.1 988.2h0M140.8 967.7h0M139.1 969.0h0M137.3 970.4h0M201.8 999.1h0M201.7 996.9h0M125.2 1035.0h0M125.4 1037.2h0M123.5 1038.3h0M150.8 1031.0h0M157.3 1056.3h0M200.0 1039.6h0M202.2 1040.0h0M162.9 1047.7h0M161.6 1045.9h0M185.2 1044.5h0M204.6 1027.6h0M203.7 1025.6h0M205.4 985.3h0M134.6 1024.5h0M146.7 1008.0h0M195.1 998.7h0M160.6 1019.1h0M159.0 1017.6h0M157.7 1015.8h0M171.7 980.2h0M170.9 978.1h0M147.9 1011.1h0M176.4 965.2h0M177.8 963.4h0M178.6 961.4h0M160.0 975.3h0M158.1 974.3h0M156.3 975.7h0M118.5 1021.4h0M119.3 1023.4h0M120.5 1025.3h0M154.2 979.4h0M163.5 1037.9h0M195.2 1029.1h0M197.3 1029.6h0M199.1 1028.4h0M172.1 962.1h0M174.3 962.5h0M188.5 948.4h0M190.5 949.3h0M147.7 1059.0h0M149.7 1060.0h0M161.0 1004.7h0M162.1 1002.8h0M163.9 1001.6h0M152.2 1060.0h0M154.4 1059.5h0M128.9 1030.8h0M128.5 1028.6h0M183.1 1003.7h0M184.7 1002.1h0M189.3 1052.2h0M148.5 1054.7h0M150.5 1053.8h0M152.6 1053.4h0M205.2 993.0h0M205.3 995.2h0M141.0 1002.2h0M140.1 1004.2h0M151.1 1066.7h0M153.2 1065.9h0M155.4 1066.0h0M158.6 1026.7h0M158.8 1024.5h0M158.0 1022.4h0M152.3 983.9h0M163.7 1030.6h0M165.1 1032.3h0M162.3 1057.9h0M160.0 985.0h0M182.4 990.6h0M181.1 992.4h0M174.6 988.3h0M174.6 986.1h0M175.3 984.0h0M170.7 1010.2h0M168.9 1011.5h0M187.7 1006.1h0M186.9 1008.1h0M159.5 1016.2h0M161.6 1016.9h0M163.2 1018.3h0M183.8 1053.1h0M183.7 1050.9h0M181.9 1049.7h0M139.7 995.1h0M141.7 994.1h0M191.4 1038.5h0M140.3 1023.6h0M140.3 1025.8h0M139.3 1027.8h0M137.8 997.7h0M137.7 995.5h0M156.7 984.3h0M194.0 973.1h0M144.5 976.4h0M171.9 951.5h0M171.8 949.3h0M154.8 1031.6h0M156.0 1029.7h0M157.6 1028.3h0M203.3 984.2h0M199.4 977.5h0M143.2 1025.0h0M213.6 1003.1h0M215.4 1001.9h0M139.6 979.5h0M141.8 979.5h0M213.4 1015.2h0M215.5 1014.6h0M137.9 1013.4h0M139.3 1015.2h0M141.1 1016.4h0M152.2 961.7h0M195.3 975.2h0M194.5 977.3h0M193.4 979.2h0M143.0 1002.2h0M144.3 1049.3h0M146.5 1049.5h0M123.0 1004.6h0M123.8 1002.6h0M124.0 1000.4h0M154.0 1040.8h0M156.2 1041.0h0M143.5 1039.3h0M145.7 1039.0h0M162.2 980.6h0M154.2 1034.5h0M185.3 1017.2h0M185.6 1019.4h0M187.3 1020.9h0M149.1 985.4h0M147.5 983.9h0M156.3 985.5h0M157.5 983.7h0M159.3 982.4h0M134.8 1033.7h0M199.9 991.1h0M198.0 990.0h0M169.4 1006.0h0M169.4 1003.8h0M188.9 1044.0h0M189.8 1046.0h0M191.3 1047.6h0M207.0 989.5h0M208.6 991.0h0M208.6 993.2h0M173.9 986.4h0M171.8 985.7h0M169.7 986.4h0M155.8 1005.9h0M155.1 1003.8h0M130.9 986.0h0M130.2 988.1h0M180.0 956.8h0M178.1 955.8h0M176.0 955.0h0M188.6 969.3h0M190.2 970.8h0M192.2 971.7h0M176.0 980.2h0M178.2 980.4h0M131.5 976.4h0M133.6 975.7h0M159.1 985.5h0M148.9 1064.5h0M150.0 1066.4h0M146.8 1003.7h0M199.3 1005.7h0M155.3 1048.4h0M134.7 1002.9h0M167.8 952.9h0M206.5 1017.0h0M207.4 1015.0h0M208.9 1013.4h0M173.7 966.8h0M181.8 1006.2h0M136.3 1033.9h0M171.0 983.5h0M172.1 985.4h0M172.4 987.6h0M154.8 1038.8h0M153.2 1037.2h0M151.9 1035.5h0M178.2 960.3h0M176.0 960.3h0M166.6 1045.9h0M162.2 994.0h0M162.9 991.9h0M160.0 994.7h0M160.3 992.5h0M161.0 990.4h0M182.3 947.3h0M193.5 994.1h0M191.9 995.6h0M152.3 1024.6h0M154.5 1024.5h0M156.7 1024.2h0M163.9 1030.7h0M125.3 984.7h0M123.7 983.2h0M121.7 982.3h0M150.0 998.4h0M165.1 978.6h0M166.6 980.1h0M157.8 982.5h0M159.6 981.2h0M163.8 1000.3h0M164.3 998.2h0M163.4 996.2h0M164.7 1032.6h0M210.6 1016.3h0M212.7 1016.9h0M164.3 960.7h0M162.1 960.2h0M160.2 959.2h0M125.6 1036.9h0M125.4 1039.1h0M124.3 1041.0h0M182.1 950.8h0M180.0 951.7h0M186.7 961.6h0M187.0 959.4h0M187.8 957.3h0M166.4 1025.1h0M164.6 1023.7h0M158.2 1015.9h0M158.0 1013.8h0M156.5 1012.1h0M202.9 996.4h0M202.6 998.6h0M151.5 958.5h0M149.7 957.3h0M149.4 955.1h0M156.6 1011.1h0M156.1 1013.3h0M135.3 1017.8h0M158.1 963.5h0M157.5 961.4h0M156.9 959.3h0M163.2 1040.6h0M215.7 1021.4h0M214.1 1019.8h0M187.1 993.6h0M186.2 995.6h0M181.7 1055.5h0M198.3 980.0h0M154.3 1009.2h0M163.1 1020.3h0M169.6 1065.7h0M169.1 1063.6h0M167.1 1062.6h0M156.3 949.6h0M158.4 950.4h0M160.2 951.6h0M162.5 1006.2h0M133.4 1012.0h0M132.2 1010.1h0M130.0 1009.6h0M161.1 1010.9h0M159.8 1009.2h0M124.3 1017.0h0M136.0 1053.8h0M135.6 1027.3h0M179.2 969.9h0M178.6 972.0h0M176.6 972.9h0M168.7 983.5h0M162.0 956.1h0M160.5 957.7h0M159.4 959.6h0M215.4 992.5h0M202.8 1030.8h0M132.5 1030.5h0M134.0 1032.0h0M134.9 1034.0h0M187.8 1045.9h0M188.5 1043.8h0M188.5 1041.6h0M133.0 1013.4h0M135.2 1012.9h0M135.8 1015.0h0M156.0 987.0h0M158.0 986.0h0M158.3 1055.3h0M159.3 1057.3h0M190.5 969.8h0M192.5 970.7h0M193.0 972.8h0M153.4 1038.3h0M155.1 1039.7h0M155.7 1041.9h0M179.0 1007.0h0M176.8 1006.9h0M174.7 1006.4h0M132.7 980.2h0M175.6 1007.5h0M163.3 988.2h0M162.5 990.2h0M127.9 1022.0h0M161.9 984.2h0M159.8 984.9h0M159.4 987.1h0M166.4 978.2h0M168.0 976.7h0M169.2 974.8h0M154.5 1004.2h0M154.8 1006.3h0M161.9 964.2h0M175.0 1025.8h0M175.3 1023.6h0M175.9 1021.5h0M153.8 1010.4h0M152.0 1011.7h0M201.4 994.4h0M199.3 993.8h0M136.0 1022.2h0M135.2 1020.1h0M133.5 1018.8h0M170.6 1000.5h0M168.4 1000.9h0M166.6 1002.2h0M137.6 1039.2h0M137.5 1037.0h0M220.8 1018.9h0M173.9 1041.9h0M172.5 1002.6h0M171.2 1000.8h0M169.0 1001.1h0M169.3 956.5h0M171.1 955.2h0M145.5 1065.0h0M182.9 1055.5h0M184.8 1054.4h0M129.6 982.1h0M183.2 1022.0h0M185.3 1022.5h0M187.2 1023.7h0M207.0 1018.9h0M206.0 1020.9h0M205.3 1023.0h0M148.6 1001.6h0M162.8 1049.4h0M192.5 980.1h0M190.6 981.3h0M188.8 982.5h0M140.9 1005.9h0M139.9 1003.9h0M140.7 1001.9h0M125.3 1011.2h0M124.8 1013.3h0M123.0 1014.6h0M164.9 1044.2h0M217.5 1031.3h0M216.3 1033.2h0M179.2 989.9h0M134.3 1037.6h0M149.0 1008.0h0M147.4 1009.4h0M146.4 1011.4h0M151.1 1041.3h0M152.3 995.6h0M176.5 1032.8h0M163.6 975.3h0M162.9 977.3h0M160.8 978.1h0M206.3 1034.0h0M151.1 1018.6h0M150.1 1020.5h0M151.0 995.4h0M148.8 995.5h0M147.5 997.3h0M143.0 1049.8h0M141.5 1051.4h0M139.4 1050.9h0M132.4 1039.8h0M182.4 1036.4h0M171.5 1064.5h0M170.7 1062.5h0M169.5 1060.6h0M203.7 1024.8h0M205.2 1026.4h0M207.3 1027.1h0M214.6 1016.3h0M216.7 1015.7h0M218.9 1015.3h0M209.5 1001.5h0M207.7 1000.2h0M206.1 998.7h0M166.2 1001.2h0M167.5 974.2h0M196.9 1012.0h0M125.0 1037.4h0M159.6 953.4h0M161.6 954.4h0M163.8 954.5h0M155.8 996.6h0M153.8 995.7h0M125.1 1000.6h0M192.8 970.5h0M183.0 1003.5h0M183.0 1005.7h0M186.0 981.2h0M194.1 978.1h0M166.6 1021.4h0M164.4 1021.7h0M185.9 1017.2h0M186.8 1015.2h0M188.4 1013.6h0M174.7 1035.9h0M173.5 1037.7h0M172.2 1039.5h0M172.4 1061.3h0M174.4 1060.3h0M125.8 1008.5h0M152.5 1012.4h0M136.3 1014.8h0M134.2 1015.5h0M186.6 1002.3h0M186.7 1000.1h0M213.4 1015.9h0M215.0 1014.3h0M217.2 1014.4h0M138.5 1026.5h0M163.5 966.6h0M214.8 1016.7h0M214.5 1014.5h0M157.1 1037.7h0M159.3 1037.8h0M180.4 983.1h0M200.4 1015.2h0M201.9 1013.5h0M202.2 1011.4h0M137.5 1009.2h0M139.2 1007.8h0M141.4 1007.5h0M139.6 1058.8h0M157.6 973.4h0M157.1 971.3h0M157.0 969.1h0M180.7 968.1h0M182.6 967.1h0M184.7 967.9h0M129.5 1028.7h0M131.1 1027.2h0M148.5 1029.0h0M149.8 1027.2h0M126.5 1009.4h0M140.0 966.8h0M157.7 970.9h0M159.3 969.4h0M161.0 968.1h0M153.6 1062.1h0M151.5 1062.8h0M146.9 1031.5h0M193.3 968.3h0M194.8 970.0h0M196.9 970.5h0M200.0 989.1h0M143.6 1061.4h0M175.3 1057.3h0M177.5 1057.2h0M139.3 1007.7h0M137.3 1006.7h0M172.2 1037.7h0M125.2 1035.1h0M174.9 983.1h0M175.9 981.2h0M204.1 1033.5h0M201.9 1033.3h0M216.3 1020.1h0M214.1 1020.3h0M140.8 988.9h0M142.7 989.9h0M144.7 987.8h0M143.8 989.9h0M141.9 990.9h0M180.2 938.2h0M178.2 937.3h0M215.2 1028.5h0M213.7 1026.9h0M133.6 1006.2h0M133.7 1008.4h0M127.0 997.0h0M125.4 998.5h0M156.7 1036.2h0M158.4 1034.8h0M159.2 1032.8h0M154.4 967.3h0M188.4 964.7h0M186.3 964.4h0M184.1 964.8h0M146.8 1017.7h0M147.8 1019.7h0M144.8 1058.3h0M192.0 971.7h0M193.2 973.5h0M146.3 989.1h0M147.5 987.2h0M147.8 963.4h0M197.2 1017.7h0M181.0 1019.9h0M126.8 1010.0h0M137.5 1053.8h0M139.5 1052.8h0M141.6 1052.0h0M180.5 953.8h0M151.3 1041.3h0M135.4 978.0h0M137.5 977.4h0M152.1 963.4h0M147.6 996.0h0M146.1 994.5h0M186.9 1039.5h0M187.8 1037.4h0M187.9 1035.2h0M205.4 1014.9h0M204.3 1016.8h0M186.0 994.1h0M186.1 991.9h0M184.9 1025.0h0M220.7 1006.7h0M210.3 988.2h0M143.4 1037.0h0M197.7 977.6h0M171.2 1000.9h0M167.6 1028.1h0M169.6 1029.1h0M171.8 1028.9h0M162.8 990.9h0M162.9 993.1h0M192.7 1031.2h0M207.9 1011.3h0M205.7 1011.3h0M203.7 1010.3h0M189.1 1049.1h0M198.7 1003.1h0M153.0 988.3h0M155.1 987.6h0M156.1 985.6h0M172.2 969.1h0M172.0 966.9h0M171.4 964.7h0M196.2 1033.1h0M197.9 1034.5h0M139.7 987.1h0M139.3 989.3h0M139.7 991.5h0M201.3 1009.0h0M148.5 1039.9h0M146.3 1040.3h0M173.2 938.5h0M171.3 939.6h0M169.1 939.9h0M193.6 1011.6h0M191.4 1011.3h0M189.2 1010.8h0M122.0 988.8h0M146.9 959.6h0M146.6 957.4h0M147.5 955.4h0M123.5 1021.7h0M124.2 1023.7h0M125.9 1025.2h0M159.5 998.4h0M158.1 1000.1h0M156.6 1001.6h0M204.2 998.9h0M188.3 980.4h0M190.5 980.3h0M191.9 982.0h0M186.4 977.2h0M187.8 975.5h0M189.3 973.9h0M148.1 954.5h0M148.7 956.6h0M128.6 1021.3h0M168.6 1052.5h0M167.1 1050.8h0M165.4 1049.4h0M149.3 1066.8h0M150.5 1068.6h0M132.2 1011.8h0M133.7 1013.4h0M165.9 1028.2h0M167.5 1029.6h0M220.8 1009.9h0M177.9 1034.0h0M176.1 1035.2h0M174.1 1036.1h0M161.1 948.5h0M159.5 950.1h0M157.5 950.8h0M134.0 988.7h0M135.5 990.2h0M136.4 992.2h0M171.7 1006.4h0M166.1 1003.8h0M204.0 1033.1h0M202.2 1031.7h0M200.6 1030.2h0M185.2 1038.9h0M199.7 1017.9h0M198.5 1016.1h0M194.4 982.9h0M192.2 982.8h0M199.3 1028.4h0M198.5 1026.4h0M197.6 1024.4h0M124.7 1025.2h0M144.0 989.3h0M163.6 1007.2h0M163.6 1005.0h0M168.6 1030.2h0M168.2 1032.4h0M167.5 1034.5h0M207.3 1021.1h0M142.9 1056.5h0M142.0 1058.5h0M186.7 1030.0h0M185.9 1028.0h0M184.4 1026.4h0M178.0 1057.8h0M173.9 1042.4h0M148.5 1048.1h0M147.9 1050.3h0M146.8 1052.2h0M135.6 1030.7h0M133.4 1030.7h0M131.6 1029.9h0M156.0 1070.6h0M156.4 1068.4h0M168.7 1036.7h0M199.9 1018.3h0M200.6 1016.2h0M201.0 1014.1h0M171.9 976.3h0M169.9 977.2h0M168.1 978.5h0M158.3 1038.6h0M176.4 982.4h0M174.7 983.8h0M173.5 985.6h0M158.9 981.7h0M157.3 980.3h0M156.2 978.3h0M193.3 1000.1h0M194.9 1001.6h0M195.4 1003.8h0M184.1 991.0h0M186.1 990.1h0M194.6 1037.9h0M119.9 1012.5h0M198.9 1021.8h0M197.5 1023.5h0M179.0 983.3h0M180.6 981.8h0M182.1 980.2h0M155.3 970.1h0M221.2 1023.5h0M220.4 1025.5h0M219.4 1027.5h0M140.4 982.0h0M139.5 979.9h0M194.5 992.3h0M194.9 990.2h0M194.5 988.0h0M144.0 1013.7h0M152.6 1005.0h0M150.4 1005.0h0M148.9 1006.5h0M139.2 1024.8h0M137.6 1026.4h0M136.1 1028.0h0M152.9 967.9h0M151.3 969.4h0M144.8 975.0h0M149.5 1023.0h0M151.2 1024.4h0M139.7 979.7h0M140.1 977.5h0M147.6 994.6h0M148.6 992.6h0M133.3 1020.2h0M132.1 1022.1h0M131.7 1024.2h0M158.7 952.9h0M147.6 998.4h0M149.7 997.7h0M132.5 999.9h0M175.1 958.8h0M176.4 957.0h0M189.2 1008.7h0M142.3 995.9h0M140.3 995.0h0M163.8 1008.3h0M121.6 1024.0h0M122.5 1022.0h0M156.9 1028.8h0M161.3 1053.8h0M162.7 1052.1h0M154.2 973.2h0M170.7 982.5h0M174.8 1024.0h0M173.1 1022.7h0M171.0 978.4h0M170.9 975.4h0M168.8 975.9h0M121.9 1029.1h0M121.3 1031.2h0M182.1 966.2h0M182.7 964.1h0M182.3 961.9h0M170.6 1036.4h0M160.8 999.0h0M158.6 998.6h0M157.5 996.7h0M154.6 1066.7h0M156.4 1068.0h0M156.1 998.3h0M161.2 957.1h0M162.9 958.5h0M132.6 1037.9h0M134.7 1037.5h0M153.6 1002.4h0M154.8 1000.5h0M156.3 998.9h0M185.3 1030.5h0M186.1 1032.5h0M187.8 1033.9h0M190.7 998.4h0M166.5 1049.9h0M165.7 1051.9h0M164.3 1053.6h0M173.8 1022.7h0M211.4 988.9h0M202.5 990.6h0M200.5 991.7h0M199.6 993.6h0M125.8 1023.4h0M126.9 1021.5h0M176.7 1013.4h0M178.6 1012.3h0M168.5 1057.2h0M142.0 998.6h0M143.1 996.7h0M127.9 1004.1h0M128.8 1002.0h0M130.3 1000.4h0M140.9 1003.0h0M187.2 950.7h0M187.5 952.9h0M149.7 1033.9h0M151.3 1035.4h0M171.4 1013.8h0M173.5 1014.4h0M142.0 1063.3h0M140.3 1061.8h0M140.5 1059.6h0M217.9 1006.2h0M219.1 1004.4h0M168.8 975.8h0M167.7 977.7h0M165.5 977.2h0M138.6 985.5h0M196.5 1015.9h0M198.6 1015.1h0M128.1 1002.3h0M126.3 1003.5h0M174.9 1035.6h0M195.0 981.3h0M168.2 1037.2h0M169.7 1035.5h0M152.4 1055.4h0M154.6 1055.1h0M176.1 1003.1h0M173.9 1003.1h0M166.3 957.6h0M133.5 1025.6h0M179.4 998.9h0M159.2 1051.5h0M159.4 1049.3h0M144.6 983.9h0M146.7 984.6h0M203.9 1015.4h0M213.7 997.2h0M212.7 995.2h0M127.6 1019.5h0M175.8 1028.0h0M149.9 993.0h0M152.1 993.0h0M167.8 1067.0h0M193.0 991.9h0M190.9 991.5h0M188.9 992.5h0M188.3 1022.1h0M189.6 1023.9h0M191.5 1025.0h0M164.1 1060.7h0M165.8 1062.0h0M167.7 1063.2h0M161.6 1004.8h0M160.6 1002.9h0M160.0 1000.8h0M174.2 941.0h0M174.2 943.2h0M174.4 945.4h0M155.5 1015.9h0M153.5 1015.0h0M151.4 1014.2h0M202.3 1015.0h0M202.2 1017.2h0M203.3 1019.1h0M146.0 1029.3h0M200.6 1013.2h0M199.9 1011.1h0M181.6 984.4h0M183.0 982.7h0M185.1 982.1h0M138.8 999.2h0M137.8 997.2h0M138.7 995.3h0M160.7 1056.6h0M161.7 1058.6h0M129.0 1019.9h0M127.0 1018.9h0M125.0 1018.1h0M209.2 1015.6h0M207.4 1016.9h0M170.7 992.0h0M172.8 991.5h0M175.0 991.3h0M186.0 948.7h0M188.1 949.2h0M189.8 950.6h0M182.9 956.8h0M181.4 958.5h0M173.3 955.8h0M175.2 954.7h0M155.9 1004.4h0M196.5 1005.7h0M131.9 1033.7h0M136.9 1018.9h0M137.3 1021.1h0M162.4 1068.7h0M162.2 1066.6h0M181.8 1034.1h0M184.0 1034.0h0M166.5 1039.6h0M193.6 1007.2h0M195.3 1005.7h0M190.3 1026.9h0M190.7 1024.8h0M167.2 1031.0h0M165.4 1032.3h0M163.4 1033.2h0M126.7 1033.8h0M137.5 1034.3h0M138.4 1036.3h0M138.7 1038.4h0M172.5 999.5h0M156.4 1026.7h0M158.6 1026.5h0M160.7 1025.9h0M159.1 1036.0h0M160.8 1037.4h0M151.1 970.4h0M198.9 984.1h0M185.1 1042.0h0M183.2 1043.1h0M141.4 1052.4h0M139.2 1052.8h0M137.8 1051.1h0M176.7 1011.8h0M177.6 1009.8h0M176.5 1007.9h0M194.3 1015.4h0M195.5 1013.5h0M197.2 1012.1h0M201.3 1037.0h0M203.2 1036.0h0M160.7 955.3h0M162.9 954.7h0M165.0 954.1h0M136.7 975.2h0M147.1 1027.8h0M149.3 1028.4h0M146.2 1028.4h0M146.6 1026.3h0M147.3 1024.2h0M137.6 977.5h0M135.6 976.6h0M171.9 984.4h0M170.3 985.8h0M170.4 1022.0h0M170.0 1019.9h0M169.1 1017.9h0M187.4 955.8h0M186.5 953.8h0M186.3 951.6h0M120.8 1023.8h0M136.7 1047.9h0M136.9 1050.1h0M135.8 1052.0h0M161.3 1013.8h0M157.4 975.1h0M182.0 951.3h0M180.3 949.9h0M178.2 949.1h0M152.2 1055.5h0M160.7 1057.1h0M162.4 1055.7h0M162.3 1053.5h0M162.2 944.4h0M164.4 944.1h0M166.6 944.4h0M199.7 1032.6h0M214.9 1005.8h0M216.6 1007.1h0M158.6 1067.9h0M156.8 1069.1h0M154.7 1069.8h0M177.5 953.2h0M179.7 953.5h0M151.5 978.9h0M150.6 980.9h0M149.3 982.7h0M150.0 1023.2h0M150.4 1021.1h0M203.8 996.4h0M153.5 1010.7h0M151.3 1010.8h0M149.6 1012.2h0M163.9 961.2h0M166.0 961.9h0M165.0 1058.7h0M166.9 1059.8h0M179.2 985.0h0M185.6 988.1h0M157.7 1010.9h0M141.8 970.7h0M140.0 971.9h0M133.5 1003.1h0M135.3 1005.1h0M204.5 1009.0h0M141.2 1041.7h0M141.1 1039.5h0M139.7 1037.8h0M194.7 1037.9h0M153.8 1057.0h0M156.0 1057.0h0M185.1 941.4h0M187.0 942.4h0M188.8 943.8h0M183.6 1016.8h0M139.0 1022.8h0M142.0 1042.3h0M172.0 1016.5h0M183.6 982.2h0M183.5 984.4h0M163.6 1043.1h0M165.6 1042.1h0M167.7 1043.0h0M135.9 1013.4h0M135.1 1011.4h0M133.8 1009.6h0M178.8 1024.4h0M183.8 969.4h0M186.0 969.2h0M131.3 996.1h0M156.4 1071.4h0M157.4 1069.4h0M123.6 1016.6h0M157.7 983.8h0M157.2 981.6h0M146.2 1057.1h0M148.2 1058.1h0M195.5 1034.3h0M195.1 1032.1h0M161.4 998.0h0M162.8 996.3h0M164.9 997.1h0M208.8 1029.4h0M207.1 1030.9h0M205.6 1032.5h0M183.7 983.9h0M142.6 984.9h0M141.6 986.9h0M176.9 1040.9h0M202.2 998.7h0M201.0 1000.6h0M182.0 999.2h0M183.9 1000.4h0M142.8 986.5h0M152.2 1066.1h0M150.2 1066.9h0M184.3 1006.5h0M184.9 1004.4h0M185.1 1002.2h0M158.2 1043.7h0M156.0 1044.1h0M148.1 1024.1h0M170.5 1034.6h0M170.7 1036.8h0M141.2 1001.9h0M142.2 1000.0h0M142.7 997.8h0M187.5 997.8h0M188.7 999.6h0M190.8 1000.2h0M144.5 1056.7h0M146.4 1055.6h0M147.7 1053.9h0M165.6 1065.9h0M163.8 1064.5h0M129.9 982.2h0M129.5 980.1h0M128.5 978.1h0M164.4 1041.0h0M181.3 1008.4h0M183.3 1009.3h0M134.3 999.0h0M132.7 997.5h0M133.4 995.4h0M190.4 1049.4h0M150.7 1039.4h0M184.6 1045.5h0M186.6 961.6h0M185.2 960.0h0M184.6 957.8h0M142.7 966.5h0M143.6 964.5h0M145.7 964.0h0M206.0 1016.6h0M203.9 1015.8h0M204.9 1033.6h0M204.3 1035.7h0M130.4 981.1h0M129.0 982.8h0M127.2 984.0h0M142.5 1036.2h0M144.7 1036.3h0M146.3 1037.9h0M137.4 1051.1h0M136.5 1053.1h0M205.0 993.8h0M123.0 997.4h0M124.4 999.1h0M157.9 1064.0h0M158.0 1066.2h0M156.9 1068.1h0M127.9 978.7h0M129.7 980.1h0M217.3 1023.5h0M219.4 1023.7h0M220.7 1021.9h0M134.4 1017.9h0M135.3 1016.0h0M136.4 1014.0h0M153.9 975.2h0M154.6 977.3h0M155.0 979.5h0M205.8 1038.4h0M204.9 1036.4h0M203.8 1034.5h0M144.2 1037.8h0M146.1 1036.7h0M165.2 1053.3h0M167.3 1052.5h0M169.4 1052.2h0M170.5 982.9h0M149.4 1019.5h0M147.4 1020.4h0M145.2 1020.2h0M146.2 999.6h0M150.0 1001.4h0M187.1 1040.5h0M126.0 979.8h0M127.7 981.2h0M165.2 1035.6h0M167.2 1034.6h0M169.4 1034.5h0M155.3 1005.3h0M157.4 1004.6h0M158.5 1002.7h0M137.9 1038.2h0M186.4 1032.4h0M184.7 1030.9h0M185.6 972.4h0M186.1 970.2h0M172.9 1000.8h0M173.4 1002.9h0M167.2 1038.9h0M168.5 1037.2h0M169.9 1027.4h0M168.3 1025.9h0M166.7 1024.4h0M138.9 976.4h0M137.8 978.3h0M137.0 980.3h0M198.4 987.5h0M197.5 989.5h0M130.9 995.4h0M129.5 993.6h0M203.5 985.0h0M153.2 976.1h0M132.3 990.2h0M132.8 992.4h0M156.3 972.7h0M154.1 972.3h0M152.1 971.3h0M154.1 1021.7h0M152.0 1021.2h0M151.1 1042.9h0M150.7 1040.7h0M151.4 1004.7h0M150.2 1002.9h0M149.4 1000.9h0M185.6 1008.7h0M187.8 1008.9h0M179.4 954.2h0M193.1 1030.6h0M190.9 1030.8h0M171.3 999.4h0M169.2 998.7h0M167.2 999.5h0M166.4 1020.5h0M136.7 1017.5h0M136.1 1019.6h0M135.1 1021.6h0M181.1 943.5h0M179.6 941.8h0M178.8 939.8h0M151.9 983.3h0M188.6 1002.7h0M186.4 1002.8h0M184.3 1002.4h0M158.1 961.2h0M156.3 982.1h0M158.8 1014.8h0M160.5 1013.4h0M149.4 1023.5h0M147.5 1024.6h0M199.2 1003.1h0M177.4 1038.4h0M178.8 1040.0h0M178.3 1042.1h0M159.2 1040.8h0M180.2 1046.6h0M182.0 1047.8h0M183.9 1049.0h0M155.4 1012.1h0M153.7 1010.7h0M151.6 1011.4h0M213.0 1029.4h0M212.3 1031.5h0M212.3 1033.7h0M186.7 1049.2h0M143.2 994.9h0M203.4 993.8h0M177.6 958.4h0M219.5 1010.1h0M187.1 1049.6h0M186.1 1047.6h0M184.1 1046.8h0M143.1 999.9h0M143.2 997.7h0M179.3 967.1h0M175.3 953.7h0M198.6 975.3h0M161.4 1016.1h0M160.9 1018.2h0M132.7 1001.0h0M133.8 1002.9h0M165.1 1017.0h0M164.4 1014.9h0M190.7 1013.8h0M191.6 1011.7h0M183.0 966.6h0M185.2 966.6h0M144.5 1015.7h0M146.7 1015.2h0M143.9 1026.8h0M145.4 1025.3h0M184.6 941.5h0M183.8 943.5h0M185.1 945.3h0M161.9 991.7h0M162.2 993.9h0M164.3 994.5h0M138.3 1003.2h0M137.0 1005.0h0M135.5 1006.7h0M143.9 993.7h0M144.9 995.7h0M146.1 997.5h0M197.8 1042.9h0M199.8 1043.7h0M200.9 1045.6h0M152.9 969.8h0M152.7 972.0h0M147.4 1035.2h0M201.7 985.5h0M199.9 984.4h0M199.3 982.2h0M157.0 994.9h0M159.1 995.7h0M162.5 1047.8h0M164.4 1049.0h0M176.4 964.9h0M127.3 1024.4h0M128.5 1026.3h0M193.9 1007.0h0M195.8 1007.9h0M197.6 1009.3h0M151.5 1010.5h0M152.7 1012.4h0M154.8 1012.9h0M159.3 952.3h0M160.0 954.3h0M203.1 1016.2h0M205.0 1015.2h0M171.9 996.7h0M171.6 998.8h0M171.3 1005.6h0M172.0 1007.7h0M172.0 1009.9h0M122.2 1015.3h0M196.2 993.7h0M219.5 1002.1h0M219.3 1004.3h0M219.7 1006.5h0M206.1 1000.0h0M205.3 997.9h0M204.8 995.8h0M152.5 961.0h0M190.2 1025.1h0M191.5 1023.4h0M190.0 1021.8h0M207.6 1013.1h0M209.5 1012.0h0M181.1 1047.4h0M179.7 1049.1h0M178.0 1050.4h0M127.2 1023.8h0M173.1 1036.7h0M175.3 1036.9h0M187.8 1010.6h0M187.7 968.1h0M170.6 975.4h0M170.6 973.2h0M144.1 1013.1h0M143.5 1015.2h0M146.8 1033.8h0M144.6 1033.8h0M142.6 1034.6h0M131.9 1037.6h0M130.2 1036.1h0M152.2 961.5h0M152.2 959.3h0M168.9 1015.9h0M173.2 957.9h0M127.2 1019.2h0M128.1 1021.2h0M130.3 1021.3h0M162.0 988.0h0M164.0 988.9h0M177.7 945.5h0M152.5 955.3h0M153.2 957.3h0M155.4 957.9h0M124.2 1010.1h0M188.9 977.1h0M176.9 984.8h0M128.7 1017.5h0M126.6 1017.0h0M129.4 1032.5h0M131.6 1032.5h0M133.4 1031.2h0M155.0 1063.9h0M152.8 1063.5h0M152.7 1065.7h0M176.7 1035.0h0M157.6 999.0h0M158.3 1001.1h0M202.6 1027.2h0M203.5 1029.2h0M195.6 1022.9h0M151.8 981.5h0M150.1 982.9h0M149.9 985.1h0M131.5 994.3h0M132.1 996.5h0M131.3 998.5h0M147.0 1037.4h0M149.2 1037.3h0M174.5 1011.1h0M172.3 1010.9h0M179.5 990.0h0M177.6 991.2h0M176.6 993.2h0M197.8 1019.3h0M196.5 1029.1h0M197.5 1027.1h0M197.0 1025.0h0M126.4 1039.9h0M128.6 1039.6h0M178.2 945.6h0M178.6 943.4h0M179.0 941.3h0M171.0 1053.6h0M191.1 980.6h0M193.2 981.3h0M195.4 981.5h0M133.8 1046.0h0M133.9 1048.2h0M133.6 1050.4h0M188.2 1027.9h0M186.6 1026.3h0M171.5 979.6h0M157.1 1022.6h0M162.4 1015.3h0M151.5 1007.9h0M177.2 1014.7h0M175.2 1013.8h0M136.0 989.8h0M135.5 992.0h0M135.5 994.2h0M134.0 991.9h0M135.7 993.3h0M162.4 1024.7h0M188.2 1001.7h0M189.0 999.6h0M148.9 1042.9h0M157.6 951.8h0M159.2 953.3h0M161.1 954.5h0M132.3 1043.3h0M132.1 1045.5h0M149.1 1035.1h0M156.6 1001.5h0M156.8 999.3h0M157.4 997.2h0M154.5 992.5h0M152.5 991.7h0M150.8 993.1h0M126.6 1015.6h0M128.7 1016.2h0M128.1 1018.3h0M190.0 1021.2h0M189.3 1019.1h0M188.9 1016.9h0M174.7 948.3h0M172.6 947.6h0M161.0 973.2h0M160.8 971.0h0M158.6 971.2h0M186.9 991.9h0M185.7 993.8h0M196.0 1001.5h0M198.1 1000.7h0M198.8 1002.7h0M131.5 1016.4h0M129.8 1015.0h0M185.4 941.7h0M174.5 939.2h0M175.2 941.3h0M146.2 984.5h0M163.2 988.4h0M187.2 1047.4h0M182.3 1017.9h0M171.4 1023.7h0M172.0 1025.8h0M195.0 1023.0h0M222.5 1017.9h0M222.6 1015.7h0M164.7 978.7h0M166.3 980.3h0M168.4 981.1h0M153.5 1019.4h0M151.7 1020.7h0M151.0 1022.8h0M153.8 995.2h0M155.9 996.0h0M157.9 996.9h0M179.5 1055.2h0M175.0 968.6h0M175.2 966.4h0M185.5 950.4h0M185.4 948.2h0M184.9 946.0h0M196.8 1002.6h0M197.1 1000.4h0M168.0 987.3h0M200.7 980.1h0M202.8 979.4h0M204.1 977.6h0M177.8 1025.3h0M177.3 1023.1h0M131.6 1031.9h0M131.6 1029.7h0M156.1 1052.4h0M156.1 1054.6h0M158.1 1055.5h0M166.7 1003.4h0M165.3 1001.7h0M122.1 1011.0h0M122.4 1013.2h0M171.3 1011.1h0M142.6 1022.0h0M168.5 1020.4h0M168.7 1022.6h0M189.1 1046.6h0M190.9 1045.3h0M193.0 1046.1h0M146.7 1030.5h0M145.3 1028.8h0M159.3 990.5h0M161.2 991.7h0M143.4 1037.7h0M184.6 1046.5h0M184.7 1048.7h0M209.2 990.2h0M209.1 992.4h0M190.4 998.2h0M208.5 1004.4h0M206.5 1005.3h0M133.8 1020.0h0M134.8 1018.1h0M190.3 978.2h0M188.1 978.2h0M186.1 977.2h0M188.0 952.5h0M186.4 954.0h0M215.1 1011.4h0M198.4 990.4h0M200.6 990.0h0M202.7 989.4h0M201.0 1029.8h0M203.1 1030.3h0M141.5 981.1h0M140.2 982.9h0M139.7 985.0h0M180.2 983.6h0M180.5 985.8h0M208.3 1021.4h0M209.7 1023.1h0M172.9 1064.1h0M174.4 1062.5h0M183.2 1053.6h0M183.9 1055.7h0M181.4 997.3h0M179.8 995.8h0M126.8 998.6h0M128.9 998.9h0M130.9 998.0h0M153.5 966.1h0M151.3 965.9h0M149.1 965.9h0M168.3 1005.0h0M170.0 1003.7h0M163.3 961.2h0M182.3 988.3h0M165.5 1038.0h0M167.5 1037.3h0M190.6 964.2h0M191.6 966.1h0M186.8 996.6h0M186.4 998.8h0M186.4 1001.0h0M166.9 1016.9h0M166.0 1014.8h0M164.2 1013.5h0M172.6 1025.7h0M185.8 991.0h0M128.9 1017.0h0M130.4 1018.6h0M131.3 1020.6h0M153.5 1060.8h0M155.5 1059.9h0M177.2 1050.4h0M148.8 995.3h0M176.4 1034.9h0M164.2 1040.2h0M164.8 1042.3h0M191.4 1005.2h0M193.3 1006.3h0M194.4 1008.2h0M177.5 955.8h0M170.7 1064.7h0M171.3 1062.6h0M144.5 1040.3h0M144.6 1038.1h0M150.1 1057.5h0M189.3 957.6h0M191.2 956.5h0M163.8 974.2h0M164.7 976.2h0M165.0 978.3h0M211.8 1007.9h0M212.8 1009.8h0M174.8 945.6h0M173.2 947.1h0M171.5 948.6h0M216.2 994.5h0M186.6 989.4h0M188.7 989.5h0M190.4 991.0h0M198.1 983.4h0M211.9 1003.7h0M213.9 1002.9h0M215.6 1001.4h0M161.9 1047.6h0M161.6 1049.8h0M162.4 1022.6h0M160.3 1022.0h0M159.6 1019.9h0M174.9 1017.6h0M164.6 957.0h0M164.3 959.2h0M165.1 961.3h0M173.9 960.0h0M173.3 957.9h0M171.6 956.5h0M195.2 989.7h0M183.1 1047.3h0M161.2 1035.6h0M161.6 1037.8h0M186.4 1019.4h0M184.4 1018.4h0M217.3 1026.5h0M219.2 1027.6h0M221.4 1027.3h0M180.5 1013.0h0M180.2 1015.2h0M181.0 1017.3h0M146.0 995.9h0M183.9 940.1h0M182.8 942.0h0M183.1 944.2h0M149.3 1046.5h0M167.4 1041.7h0M169.4 1042.7h0M171.2 1044.0h0M192.9 998.4h0M190.8 997.8h0M189.0 996.6h0M163.2 1032.0h0M182.5 940.9h0M184.5 941.8h0M198.6 982.1h0M197.7 980.1h0M214.7 995.4h0M215.6 993.4h0M167.2 1038.2h0M132.2 1032.8h0M133.1 1030.8h0M191.3 1045.5h0M193.4 1045.2h0M177.1 971.0h0M187.4 1030.1h0M189.1 1028.7h0M207.8 992.7h0M205.6 992.7h0M190.4 1039.6h0M190.9 1037.5h0M149.6 1013.9h0M148.1 1012.3h0M186.7 957.2h0M184.7 958.0h0M182.6 958.7h0M191.2 1041.0h0M192.0 1038.9h0M190.2 1037.7h0M154.0 980.0h0M155.9 981.1h0M156.0 983.3h0M148.9 966.5h0M148.8 964.3h0M189.9 959.8h0M187.8 960.5h0M147.5 1052.0h0M145.5 1053.1h0M170.8 1060.9h0M168.6 1061.3h0M131.3 1023.6h0M133.5 1023.2h0M177.0 986.4h0M174.9 985.8h0M152.2 970.5h0M153.7 968.9h0M154.7 966.9h0M188.7 989.2h0M187.8 987.1h0M194.8 975.3h0M217.3 1030.9h0M217.6 1033.1h0M217.6 1035.3h0M205.6 1032.0h0M203.6 1031.1h0M201.4 1030.9h0M168.4 1002.2h0M175.2 1034.7h0M176.7 1033.1h0M178.4 1031.7h0M135.7 963.0h0M134.8 965.0h0M134.6 967.2h0M161.5 1062.9h0M162.9 1061.2h0M130.8 1017.8h0M131.6 1015.7h0M131.5 1013.5h0M172.7 989.1h0M172.0 991.2h0M172.1 993.4h0M180.0 955.0h0M180.7 952.8h0M186.2 1037.9h0M185.5 1035.8h0M173.5 1059.3h0M173.6 1057.1h0M171.5 1056.4h0M180.9 993.2h0M182.1 951.0h0M196.5 981.7h0M198.7 981.1h0M175.7 983.6h0M173.5 983.3h0M171.3 983.7h0M155.2 1015.0h0M154.9 1017.2h0M155.1 1019.4h0M170.9 959.7h0M169.6 961.5h0M167.6 962.3h0M189.4 1046.5h0M149.9 1058.8h0M170.8 956.9h0M172.0 958.8h0M173.8 960.1h0M179.9 933.0h0M178.1 931.8h0M120.8 1003.7h0M118.7 1004.5h0M117.1 1005.9h0M201.9 979.6h0M201.1 977.5h0M154.5 1042.3h0M152.5 1041.3h0M169.2 1012.8h0M171.4 1012.4h0M173.4 1011.5h0M146.6 1042.7h0M146.3 1044.9h0M146.4 1047.1h0M158.9 993.7h0M146.1 1029.9h0M146.9 1032.0h0M189.1 1009.8h0M187.1 1010.8h0M185.0 1011.3h0M178.7 947.8h0M177.0 946.3h0M175.4 944.9h0M137.0 1047.6h0M196.3 1026.6h0M190.0 1012.7h0M192.0 1011.7h0M124.7 1014.8h0M126.8 1015.5h0M139.1 978.7h0M140.8 980.1h0M142.5 978.7h0M190.8 996.1h0M192.0 994.3h0M193.2 992.4h0M163.0 961.5h0M137.5 979.0h0M137.4 981.2h0M138.9 982.9h0M157.3 971.5h0M158.3 969.5h0M160.0 968.2h0M167.1 1008.8h0M168.9 1010.0h0M170.8 1011.2h0M172.6 987.2h0M173.0 989.4h0M146.6 984.3h0M146.1 982.1h0M147.5 980.4h0M152.2 1024.8h0M190.9 1016.7h0M189.1 1018.0h0M158.1 1029.7h0M149.5 1039.8h0M150.7 1041.6h0M151.8 1043.5h0M134.5 1033.3h0M134.0 1031.1h0M208.8 1024.3h0M210.6 1025.6h0M212.6 1026.6h0M200.7 1045.0h0M188.3 973.1h0M143.6 1033.3h0M145.4 1034.6h0M147.3 1033.5h0M183.1 966.6h0M185.2 965.8h0M186.8 967.2h0M179.3 937.9h0M178.8 940.1h0M188.0 960.3h0M167.0 1010.1h0M165.1 1011.2h0M163.0 1012.1h0M144.6 980.8h0M143.8 982.9h0M197.3 1036.7h0M160.2 1013.6h0M147.5 1051.2h0M148.7 1053.1h0M150.6 1054.2h0M183.3 934.3h0M184.0 936.4h0M184.1 938.6h0M167.3 984.3h0M166.0 982.5h0M166.4 1023.4h0M183.9 955.6h0M143.2 986.7h0M144.0 966.1h0M145.1 964.2h0M144.9 962.0h0M194.4 975.1h0M192.5 974.1h0M190.5 973.1h0M127.8 1037.8h0M183.2 954.7h0M167.1 942.9h0M166.1 940.9h0M164.6 939.3h0M196.8 993.5h0M194.6 994.1h0M192.6 995.0h0M160.2 1042.9h0M150.3 1033.3h0M151.2 1031.3h0M152.8 1029.8h0M139.3 1053.6h0M141.5 1053.2h0M157.3 1026.0h0M152.6 1006.5h0M193.3 1039.0h0M188.6 987.8h0M186.4 987.7h0M184.4 986.8h0M168.3 966.1h0M170.4 966.6h0M172.4 967.5h0M163.2 993.1h0M165.2 992.2h0M167.2 991.1h0M143.6 1005.2h0M143.2 1007.4h0M208.1 1020.7h0M206.5 1019.2h0M204.4 1018.4h0M171.8 1027.5h0M174.7 993.0h0M176.8 993.8h0M186.5 1048.9h0M187.3 1046.8h0M164.4 991.6h0M162.8 993.1h0M201.6 1002.6h0M153.6 1013.6h0M152.2 1015.2h0M150.2 1016.0h0M164.1 974.1h0M165.5 975.7h0M148.6 1061.9h0M219.6 1018.4h0M219.7 1020.6h0M128.5 1019.9h0M130.7 1019.9h0M131.6 1022.0h0M130.5 1017.2h0M130.1 1015.0h0M131.1 1013.1h0M190.0 982.5h0M188.7 984.3h0M179.1 1010.7h0M177.7 1009.0h0M176.8 1007.0h0M134.4 1027.2h0M133.4 1025.3h0M134.2 1023.2h0M182.9 1040.4h0M185.0 1041.1h0M140.5 975.3h0M153.1 1065.3h0M154.7 1066.8h0M156.6 1067.8h0M218.9 1012.6h0M218.8 1010.4h0M180.6 1025.3h0M179.9 1023.2h0M173.1 1002.0h0M173.8 999.9h0M175.2 998.3h0M184.2 968.8h0M186.2 968.1h0M191.1 1004.2h0M188.9 1004.2h0M184.0 968.4h0M184.4 966.2h0M135.1 966.2h0M134.7 968.4h0M133.1 969.8h0M125.1 1026.3h0M123.4 1027.7h0M179.8 1011.3h0M177.6 1011.4h0M159.9 1023.6h0M216.6 998.5h0M138.6 1010.8h0M136.6 1011.7h0M134.4 1012.0h0M202.4 997.0h0M204.3 995.8h0M140.8 1053.7h0M134.6 1031.6h0M186.4 1037.6h0M171.3 992.5h0M171.8 994.6h0M173.4 996.1h0M158.8 1068.7h0M162.0 1045.7h0M161.0 1043.7h0M160.0 1041.7h0M173.5 990.6h0M175.6 990.0h0M137.6 1044.6h0M139.1 1046.2h0M139.1 1048.4h0M174.6 1066.5h0M175.1 1068.7h0M174.5 945.2h0M203.3 992.6h0M205.5 992.4h0M207.5 991.5h0M166.8 1005.2h0M166.5 1007.4h0M177.9 1001.9h0M202.6 1020.3h0M202.2 1022.5h0M188.2 1025.4h0M190.1 1024.2h0M192.3 1024.0h0M172.2 952.1h0M137.3 1012.9h0M160.3 978.6h0M162.0 980.0h0M163.7 981.4h0M178.8 960.1h0M180.8 959.1h0M182.0 960.9h0M186.5 1033.9h0M171.4 1002.5h0M170.6 1000.5h0M168.5 999.7h0M150.4 1010.9h0M152.5 1010.2h0M153.2 986.3h0M152.3 984.3h0M151.3 982.3h0M167.5 1000.5h0M165.3 1000.7h0M164.0 1002.4h0M158.3 1014.1h0M141.6 1055.8h0M122.8 1010.4h0M121.7 1008.5h0M120.7 1006.5h0M137.1 968.8h0M135.7 967.1h0M133.6 966.2h0M155.1 1063.9h0M153.8 1065.7h0M184.4 1008.1h0M177.6 1025.7h0M177.8 1023.5h0M157.8 979.3h0M191.1 991.1h0M213.6 994.4h0M214.6 996.3h0M216.4 997.5h0M130.4 985.7h0M132.2 984.5h0M134.3 985.1h0M191.6 1008.7h0M192.3 1010.8h0M217.7 1027.8h0M157.2 1054.3h0M155.8 1052.6h0M190.3 1018.3h0M191.3 1016.3h0M189.4 1015.1h0M135.8 996.6h0M134.0 997.8h0M129.1 1010.5h0M128.8 1008.3h0M127.6 1006.4h0M143.4 978.8h0M141.2 978.4h0M181.0 1052.3h0M128.3 1001.4h0M128.3 1003.6h0M162.8 1041.4h0M164.7 1040.4h0M195.6 971.2h0M197.6 972.2h0M193.4 1016.3h0M194.8 1014.6h0M121.2 1024.1h0M121.9 1026.2h0M126.3 1002.9h0M124.3 1002.2h0M123.7 1000.1h0M159.8 987.6h0M157.7 986.8h0M149.3 968.6h0M149.9 970.7h0M151.4 972.3h0M156.0 975.4h0M135.0 1001.4h0M133.5 1003.0h0M131.6 1004.2h0M168.2 1042.6h0M169.4 1040.8h0M171.2 1039.6h0M198.7 1038.4h0M196.5 1038.3h0M171.7 996.5h0M173.3 995.0h0M156.0 946.7h0M169.4 1019.8h0M172.5 996.3h0M171.7 998.4h0M175.0 994.2h0M140.5 1016.9h0M140.9 1019.0h0M140.5 1021.2h0M176.1 1011.1h0M174.9 1009.2h0M172.9 1008.4h0M152.1 1066.7h0M153.3 1064.8h0M121.7 1006.3h0M157.0 1045.5h0M155.4 1044.0h0M125.4 1020.0h0M126.9 1018.5h0M127.9 1016.5h0M167.0 1057.6h0M169.2 1057.4h0M171.2 1058.3h0M137.6 985.2h0M141.5 1014.2h0M139.3 1014.3h0M202.5 1041.5h0M139.2 1037.6h0M145.0 984.6h0M146.8 985.8h0M162.7 1047.9h0M182.3 978.4h0M183.3 976.5h0M160.7 1061.9h0M158.9 1060.7h0M185.3 988.9h0M183.2 989.7h0M192.1 970.3h0M189.9 1037.7h0M192.0 1038.0h0M193.3 1036.2h0M215.7 1020.9h0M216.6 1022.9h0M217.3 1025.0h0M182.7 1027.3h0M184.9 1027.7h0M164.3 971.2h0M188.3 975.2h0M170.6 949.9h0M168.4 950.0h0M166.2 950.4h0M140.8 972.5h0M139.7 970.6h0M203.6 992.5h0M205.7 993.2h0M207.1 994.9h0M149.7 1039.5h0M149.9 1037.3h0M151.3 1035.6h0M150.7 1014.4h0M120.3 996.6h0M118.1 996.5h0M116.0 996.0h0M180.2 1007.6h0M182.4 1007.4h0M183.4 1009.4h0M211.6 1015.4h0M213.8 1014.9h0M215.6 1013.6h0M164.9 1010.0h0M164.0 1007.9h0M163.4 1005.8h0M120.1 1016.7h0M139.0 1049.4h0M139.7 1047.3h0M180.0 1049.5h0M140.7 978.7h0M139.5 980.5h0M159.0 1060.8h0M157.3 1062.2h0M156.6 1064.3h0M148.5 992.6h0M150.6 992.0h0M152.8 991.8h0M171.3 982.2h0M139.8 971.6h0M139.9 973.8h0M207.9 1037.7h0M208.1 1035.5h0M192.6 966.6h0M193.1 964.4h0M192.9 962.2h0M182.5 1028.6h0M180.3 1028.1h0M178.5 1026.9h0M140.9 1033.8h0M142.9 1032.8h0M148.7 981.9h0M149.9 983.8h0M173.8 1033.1h0M197.0 1035.7h0M196.1 1033.7h0M197.7 1012.4h0M157.3 993.9h0M156.2 992.0h0M156.5 989.8h0M172.1 952.9h0M174.1 953.9h0M161.1 1045.2h0M146.1 1036.2h0M148.2 1035.6h0M210.9 1016.0h0M197.5 997.1h0M160.9 1062.8h0M167.6 988.4h0M169.3 989.8h0M162.0 1065.5h0M162.7 1067.6h0M183.3 946.7h0M187.4 961.8h0M188.7 960.0h0M190.7 959.2h0M183.4 998.0h0M173.2 966.1h0M190.8 1036.8h0M190.2 1038.9h0M160.4 977.5h0M162.4 976.5h0M164.2 975.3h0M177.8 968.9h0M175.6 969.1h0M183.0 956.7h0M184.9 955.8h0M185.7 953.7h0M122.3 1019.4h0M120.1 1012.0h0M118.1 1012.8h0M157.5 999.0h0M172.1 1032.6h0M186.4 1030.2h0M187.5 1028.3h0M187.5 1026.1h0M173.8 971.2h0M174.0 973.4h0M172.2 974.7h0M127.5 1033.3h0M142.9 1018.2h0M145.0 1017.5h0M147.0 1018.3h0M142.0 1015.6h0M142.3 1013.4h0M217.5 1022.3h0M216.6 1024.3h0M130.4 1021.2h0M160.5 1054.6h0M154.8 954.5h0M153.2 956.0h0M169.5 1050.9h0M169.1 1048.7h0M169.6 1046.6h0M183.3 995.7h0M181.4 996.8h0M207.9 1015.7h0M140.0 1039.0h0M178.5 1032.1h0M180.7 1031.5h0M173.6 964.9h0M172.9 967.0h0M174.9 968.0h0M178.4 973.3h0M178.7 971.1h0M159.2 1038.3h0M157.0 1038.1h0M139.3 970.7h0M184.7 955.1h0M183.2 953.5h0M182.2 951.5h0M193.8 998.6h0M194.9 996.7h0M194.4 994.5h0M192.3 1015.9h0M194.1 1017.3h0M195.8 1018.6h0M213.2 1030.9h0M211.4 1032.2h0M210.4 1034.2h0M164.9 969.8h0M166.9 970.6h0M168.9 971.6h0M164.1 968.2h0M164.7 970.3h0M169.7 1021.2h0M168.1 1022.7h0M182.8 996.8h0M146.4 963.0h0M147.8 964.7h0M149.3 966.3h0M183.6 1004.2h0M185.7 1003.7h0M187.6 1002.5h0M175.4 980.0h0M150.6 1055.4h0M164.0 1049.4h0M156.9 1025.6h0M157.2 1023.4h0M170.0 947.0h0M146.5 998.8h0M148.5 997.9h0M149.9 996.2h0M139.3 993.0h0M202.7 1040.2h0M203.0 1042.4h0M204.6 1043.9h0M177.5 1017.0h0M186.8 970.7h0M154.1 1008.8h0M152.0 1008.1h0M138.5 1002.7h0M140.4 1003.9h0M141.0 1006.0h0M186.0 1053.6h0M206.0 1022.9h0M205.9 1020.7h0M185.2 1024.4h0M187.0 1025.6h0M189.2 1025.2h0M181.4 969.2h0M181.4 967.0h0M182.0 964.9h0M155.7 1046.0h0M154.2 1044.3h0M151.6 1065.0h0M125.3 989.6h0M123.5 988.3h0M161.2 972.5h0M159.3 971.5h0M173.8 1056.9h0M209.3 1019.8h0M209.6 1017.6h0M208.3 1015.8h0M202.2 1009.5h0M204.0 1010.7h0M185.4 954.6h0M135.7 1023.7h0M137.6 1024.8h0M180.9 982.5h0M165.5 1064.9h0M164.4 1066.8h0M149.2 986.3h0M151.3 985.7h0M143.5 984.0h0M141.3 983.6h0M179.0 1035.9h0M178.7 1038.1h0M179.6 1040.1h0M187.3 1049.5h0M161.4 979.6h0M163.1 981.0h0M184.0 984.0h0M185.5 985.5h0M187.3 986.8h0M192.4 1023.2h0M191.5 1025.2h0M189.3 1025.5h0M137.6 1041.3h0M135.9 1039.9h0M133.8 1040.6h0M213.3 997.6h0M213.8 999.8h0M214.2 1001.9h0M165.4 1035.4h0M167.6 1035.7h0M144.5 1052.8h0M142.4 1053.6h0M140.4 1052.8h0M129.7 981.1h0M129.8 983.3h0M129.1 985.4h0M122.4 998.8h0M122.0 1001.0h0M121.5 1003.1h0M149.7 954.1h0M150.5 952.0h0M152.7 952.1h0M162.9 982.6h0M163.8 984.7h0M193.1 1037.5h0M191.0 1038.1h0M142.7 968.5h0M142.0 966.4h0M162.6 1026.5h0M160.7 1025.3h0M159.3 1023.7h0M211.5 1018.5h0M166.8 1003.9h0M168.9 1003.5h0M161.5 987.4h0M169.1 1055.3h0M165.4 992.3h0M166.1 994.4h0M181.4 1031.7h0M180.3 1033.6h0M160.3 962.5h0M161.3 964.4h0M163.3 965.4h0M134.7 992.6h0M181.5 974.7h0M182.2 972.6h0M166.3 959.0h0M166.4 961.2h0M168.4 1038.3h0M169.2 1036.3h0M150.5 997.7h0M148.4 998.4h0M146.5 999.5h0M143.4 992.3h0M173.2 1005.3h0M172.4 1007.3h0M130.8 1018.9h0M130.4 1021.1h0M131.2 1023.1h0M200.8 1019.3h0M161.5 1012.5h0M162.3 1010.4h0M162.1 1008.3h0M210.0 1018.8h0M209.1 1016.8h0M208.6 1014.7h0M182.6 1010.6h0M184.1 1009.0h0M154.4 1032.7h0M153.5 1030.7h0M155.4 1029.5h0M160.3 954.3h0M158.6 955.8h0M157.5 957.7h0M144.4 975.0h0M209.6 1018.8h0M211.0 1017.0h0M212.3 1015.3h0M193.8 994.1h0M176.1 945.4h0M176.9 947.5h0M178.9 948.3h0M124.2 1022.4h0M123.1 1024.3h0M121.2 1025.5h0M182.9 1031.3h0M185.5 993.9h0M187.6 993.3h0M189.4 992.1h0M155.6 1063.7h0M189.0 1030.8h0M191.0 1031.6h0M151.6 975.3h0M150.5 973.4h0M148.5 972.3h0M184.7 1027.9h0M128.2 991.9h0M130.2 991.0h0M131.8 989.4h0M157.8 958.7h0M158.3 1041.6h0M156.6 1040.2h0M154.4 1040.2h0M157.5 1025.1h0M174.7 1054.5h0M174.4 1052.3h0M148.8 1050.2h0M148.5 1048.0h0M147.5 1046.1h0M182.3 982.1h0M182.7 984.2h0M180.8 985.2h0M124.2 1004.1h0M200.4 991.5h0M199.0 993.1h0M196.8 993.5h0M185.8 1043.5h0M195.4 1025.6h0" fill="none" stroke="#fbfb3a" stroke-width="2.0" stroke-linecap="round"/>
<path d="M282.8 971.7h0M284.4 970.1h0M307.0 978.3h0M282.5 996.4h0M281.2 994.7h0M280.9 992.5h0M267.4 944.4h0M310.1 980.1h0M311.3 978.3h0M312.7 976.6h0M269.5 938.2h0M268.2 936.5h0M272.6 964.8h0M284.1 1001.6h0M284.1 1003.8h0M294.5 1011.3h0M294.4 1013.5h0M293.8 1015.6h0M308.2 978.1h0M306.3 979.2h0M304.2 979.6h0M270.2 1007.4h0M272.2 1008.4h0M274.2 1009.2h0M300.0 989.3h0M300.1 991.5h0M299.7 993.7h0M258.6 956.7h0M260.3 958.1h0M298.1 988.4h0M295.9 988.7h0M293.9 989.4h0M313.6 1001.3h0M311.6 1000.5h0M309.5 999.9h0M285.2 957.6h0M287.2 958.6h0M289.0 959.9h0M287.2 981.1h0M285.8 979.4h0M298.7 994.7h0M306.5 967.1h0M304.6 968.2h0M286.9 995.5h0M291.5 976.3h0M291.8 974.1h0M292.0 971.9h0M273.3 987.3h0M274.6 989.1h0M313.7 964.1h0M269.9 954.4h0M290.1 1017.8h0M312.0 980.3h0M281.9 936.4h0M281.7 938.6h0M282.6 940.6h0M262.1 960.5h0M260.5 962.0h0M258.7 960.7h0M304.8 1018.5h0M305.2 1020.7h0M304.6 1022.8h0M316.2 997.1h0M318.2 996.1h0M295.2 998.9h0M292.6 987.3h0M294.7 986.6h0M295.3 984.4h0M283.3 1013.9h0M280.8 950.9h0M259.6 985.5h0M261.7 986.3h0M298.4 959.2h0M309.2 946.5h0M311.3 945.8h0M276.2 964.4h0M274.2 952.4h0M295.7 959.3h0M295.0 957.3h0M294.3 955.2h0M310.4 939.0h0M287.8 966.0h0M286.3 967.5h0M285.0 969.3h0M270.5 939.8h0M268.4 940.3h0M261.8 960.8h0M287.1 968.0h0M284.9 968.0h0M282.8 968.8h0M298.1 949.7h0M300.2 950.5h0M315.0 953.5h0M315.2 951.3h0M315.5 949.1h0M279.7 962.9h0M314.0 973.9h0M312.0 973.1h0M309.8 973.2h0M312.6 960.4h0M313.3 958.3h0M279.7 974.1h0M301.8 1001.9h0M300.6 958.4h0M301.9 960.2h0M311.2 996.1h0M265.9 989.5h0M296.7 984.2h0M298.0 964.0h0M298.5 966.1h0M302.9 952.5h0M304.7 953.7h0M308.7 941.5h0M306.5 941.3h0M304.8 942.8h0M309.2 953.2h0M307.1 953.0h0M293.5 1013.5h0M269.1 966.9h0M266.9 967.2h0M264.7 967.0h0M308.0 955.4h0M280.3 931.8h0M295.0 1001.5h0M294.3 999.4h0M294.5 997.2h0M260.6 964.7h0M258.4 964.7h0M257.1 966.4h0M289.8 928.8h0M300.5 994.4h0M292.0 980.4h0M287.4 934.8h0M288.7 936.6h0M298.3 1013.0h0M261.4 990.0h0M295.6 958.8h0M297.3 960.2h0M298.4 962.1h0M268.4 991.6h0M268.2 989.4h0M273.7 942.9h0M275.1 941.1h0M266.6 943.9h0M265.3 945.7h0M264.9 947.9h0M308.3 979.1h0M306.8 980.7h0M266.2 947.2h0M278.3 964.7h0M276.5 966.0h0M314.3 970.5h0M313.3 972.5h0M313.4 974.7h0M267.6 1002.4h0M269.6 1001.6h0M271.7 1000.8h0M285.5 946.9h0M308.5 1008.9h0M310.6 1009.1h0M312.1 972.8h0M311.8 975.0h0M312.0 977.2h0M261.7 947.8h0M263.3 946.2h0M289.9 953.3h0M287.9 954.0h0M285.7 953.7h0M293.6 961.2h0M264.1 950.4h0M309.9 999.5h0M312.0 998.9h0M313.5 997.3h0M271.9 983.9h0M269.9 982.9h0M268.0 984.0h0M289.3 930.8h0M291.0 932.1h0M258.1 979.1h0M257.8 977.0h0M257.0 974.9h0M301.8 936.9h0M269.4 964.1h0M267.4 963.2h0M264.1 954.5h0M281.3 983.6h0M282.8 985.1h0M285.0 985.3h0M288.1 979.3h0M288.7 981.4h0M280.9 946.9h0M310.4 997.9h0M308.9 996.2h0M309.7 1004.7h0M308.8 1002.7h0M309.7 1000.7h0M298.1 998.2h0M297.1 1000.2h0M296.3 1002.2h0M299.8 991.6h0M264.4 976.0h0M266.3 974.9h0M265.5 942.0h0M267.7 941.7h0M288.1 973.3h0M288.0 975.5h0M269.7 1006.2h0M271.8 1005.8h0M272.1 1003.7h0M275.1 933.5h0M256.0 951.7h0M311.9 999.4h0M309.8 998.7h0M308.6 996.9h0M299.4 931.4h0M313.1 994.6h0M289.2 985.5h0M287.0 985.5h0M315.6 972.2h0M302.2 995.1h0M292.3 985.4h0M291.6 987.5h0M292.6 989.5h0M277.2 943.5h0M277.6 945.6h0M265.5 989.2h0M266.5 991.1h0M267.9 992.8h0M274.6 942.5h0M275.8 1000.7h0M274.7 1002.7h0M271.7 963.5h0M272.9 961.7h0M273.6 959.6h0M302.9 940.3h0M300.8 941.0h0M271.3 1005.7h0M280.6 1012.4h0M282.0 1014.0h0M282.9 1016.0h0M309.1 999.7h0M309.2 997.5h0M309.2 995.3h0M298.0 1011.6h0M296.7 1009.9h0M294.5 1010.0h0M309.3 946.1h0M311.5 945.9h0M313.6 946.6h0M268.6 977.3h0M269.0 975.1h0M270.4 973.5h0M264.5 978.7h0M277.8 977.9h0M275.9 976.7h0M274.8 974.8h0M281.3 931.5h0M287.3 1001.3h0M288.4 1003.3h0M290.5 1003.9h0M274.4 967.7h0M274.5 965.5h0M308.7 957.0h0M309.4 954.9h0M267.5 982.4h0M268.2 984.4h0M264.0 974.1h0M264.9 976.1h0M274.7 1002.6h0M295.3 1008.6h0M312.2 964.2h0M312.8 966.3h0M274.9 972.8h0M300.8 942.0h0M269.7 970.1h0M304.9 994.7h0M267.2 967.4h0M269.4 967.2h0M279.0 1009.1h0M277.0 1010.0h0M275.6 1011.8h0M303.2 976.6h0M301.3 977.9h0M288.6 974.7h0M290.3 998.8h0M297.6 961.5h0M316.8 995.9h0M297.2 940.6h0M295.1 941.2h0M293.0 941.9h0M278.2 1006.5h0M276.0 1006.8h0M273.8 1007.1h0M265.7 953.2h0M316.1 992.5h0M277.0 1005.6h0M278.4 1003.9h0M268.7 970.9h0M270.6 969.8h0M272.5 970.9h0M294.8 953.9h0M296.8 953.2h0M275.8 944.1h0M277.9 944.5h0M285.7 1003.0h0M279.8 943.9h0M281.8 944.8h0M283.4 946.3h0M315.9 976.0h0M314.1 974.7h0M312.5 973.2h0M299.6 998.8h0M268.9 1004.9h0M266.7 1005.1h0M264.5 1004.7h0M301.8 1006.9h0M302.5 1009.0h0M302.9 1011.1h0M290.5 960.6h0M290.0 962.7h0M287.8 963.1h0M295.6 969.1h0M293.8 970.3h0M295.9 941.3h0M298.1 941.0h0M263.8 982.7h0M265.6 983.9h0M266.5 985.9h0M304.2 968.9h0M270.1 969.0h0M271.2 970.9h0M283.4 997.4h0M284.1 995.3h0M267.0 972.1h0M265.0 971.1h0M316.9 969.0h0M315.4 970.6h0M293.0 972.8h0M293.4 975.0h0M291.2 975.3h0M274.2 958.0h0M276.3 958.8h0M297.7 965.5h0M305.6 1014.3h0M305.5 1012.1h0M308.1 967.1h0M306.4 965.7h0M310.8 970.1h0M281.0 974.4h0M280.7 972.2h0M279.7 970.3h0M314.9 980.6h0M317.1 980.8h0M319.3 980.9h0M300.0 962.2h0M301.9 963.3h0M302.6 965.3h0M268.7 1008.3h0M260.5 967.9h0M259.8 970.0h0M291.4 943.4h0M270.9 953.1h0M268.8 952.6h0M298.7 965.1h0M297.0 963.7h0M267.7 945.8h0M288.4 960.7h0M286.6 959.4h0M285.6 957.4h0M276.6 985.9h0M275.2 971.7h0M277.3 971.0h0M299.0 944.3h0M300.7 942.9h0M268.5 993.6h0M264.8 967.9h0M265.7 969.9h0M264.8 971.9h0M299.1 1005.2h0M297.0 1006.0h0M305.4 950.2h0M305.5 948.0h0M274.8 1002.9h0M280.0 1015.3h0M281.1 1017.2h0M283.1 1018.2h0M285.9 985.2h0M276.1 972.7h0M273.9 972.7h0M306.0 959.2h0M280.3 1013.0h0M281.6 1011.2h0M297.6 990.7h0M301.2 990.1h0M302.2 988.2h0M280.4 962.3h0M278.2 962.6h0M308.8 975.9h0M308.9 973.7h0M304.6 951.5h0M265.1 957.1h0M304.1 988.4h0M304.4 989.1h0M302.2 988.9h0M300.1 989.5h0M315.2 979.9h0M315.5 977.7h0M259.5 966.2h0M261.3 964.9h0M263.3 965.7h0M293.2 982.1h0M294.4 980.3h0M296.2 979.0h0M299.1 1009.9h0M296.9 1009.6h0M294.7 1009.3h0M306.0 1013.1h0M304.6 1014.7h0M302.6 1015.8h0M288.6 1017.2h0M296.1 1002.1h0M296.7 1000.0h0M308.3 1011.1h0M306.1 1010.9h0M304.8 1012.7h0M309.1 950.3h0M266.5 953.8h0M264.3 953.9h0M262.1 954.4h0M277.8 930.8h0M277.1 932.9h0M276.5 935.0h0M282.1 970.3h0M279.9 970.6h0M277.8 970.2h0M313.5 957.8h0M312.8 959.9h0M297.4 1005.9h0M298.9 1007.5h0M304.2 963.3h0M304.6 965.4h0M304.3 967.6h0M289.6 930.5h0M291.7 931.2h0M293.9 931.2h0M258.0 980.3h0M268.9 940.1h0M271.1 940.1h0M271.8 942.2h0M275.5 947.4h0M274.9 945.3h0M298.0 989.3h0M301.4 976.4h0M293.5 969.8h0M300.3 977.1h0M300.6 979.3h0M276.0 948.9h0M277.9 947.7h0M277.8 998.1h0M278.9 1000.0h0M279.7 1002.1h0M280.8 959.2h0M300.2 999.1h0M300.0 1001.3h0M278.5 941.3h0M279.8 939.5h0M290.4 1012.3h0M291.4 1014.3h0M298.7 995.3h0M298.4 997.4h0M288.1 947.6h0M280.6 950.9h0M282.6 951.7h0M283.9 953.5h0M303.8 972.2h0M306.0 971.7h0M308.1 971.4h0M284.3 1003.1h0M284.4 944.2h0M286.5 943.5h0M287.8 941.7h0M264.8 978.3h0M306.1 974.3h0M306.9 990.2h0M293.6 975.6h0M295.3 974.3h0M293.5 973.0h0M307.4 963.9h0M309.3 962.8h0M311.1 961.7h0M280.6 942.1h0M280.8 939.9h0M274.3 965.2h0M275.8 963.6h0M277.5 962.3h0M259.1 979.5h0M289.4 1016.6h0M278.5 935.8h0M276.3 935.6h0M289.9 1022.2h0M291.2 1020.4h0M297.2 955.3h0M296.4 957.3h0M295.5 959.3h0M294.6 977.8h0M292.5 978.4h0M290.8 979.9h0M279.6 1003.5h0M285.9 935.5h0M287.0 937.4h0M269.2 944.9h0M292.5 935.2h0M291.4 933.3h0M289.7 931.8h0M296.3 938.7h0M268.6 945.8h0M267.7 943.8h0M265.6 943.4h0M280.9 982.8h0M282.1 980.9h0M267.1 961.6h0M268.8 960.2h0M269.7 958.2h0M288.9 963.9h0M286.7 963.7h0M284.2 973.4h0M286.2 972.5h0M289.6 944.2h0M291.5 945.2h0M293.5 946.1h0M254.3 958.7h0M252.4 959.9h0M283.7 989.0h0M300.5 942.5h0M301.7 944.3h0M302.6 946.3h0M283.4 956.2h0M281.2 956.3h0M282.5 940.4h0M285.8 989.8h0M283.7 989.1h0M285.8 994.2h0M285.2 971.6h0M305.7 953.2h0M292.6 1020.5h0M294.7 1021.1h0M286.0 938.9h0M287.5 937.2h0M288.8 935.5h0M280.1 930.5h0M282.3 930.5h0M284.0 929.1h0M276.3 963.6h0M263.9 943.9h0M264.3 941.7h0M266.4 940.8h0M269.4 1000.9h0M269.8 998.8h0M270.1 996.6h0M272.9 959.3h0M312.8 999.8h0M310.8 1000.8h0M296.1 994.8h0M303.5 980.1h0M280.9 979.6h0M264.5 945.1h0M304.2 935.5h0M306.0 934.3h0M273.5 984.0h0M319.1 964.5h0M303.6 963.5h0M314.3 976.2h0M316.0 974.8h0M295.0 940.2h0M264.7 959.4h0M302.8 943.3h0M292.9 928.4h0M290.7 928.1h0M288.8 927.0h0M311.4 999.0h0M260.1 972.6h0M279.1 963.7h0M274.3 937.7h0M274.2 935.5h0M290.7 950.4h0M291.1 952.6h0M292.8 953.9h0M298.9 967.7h0M300.5 969.2h0M305.4 983.8h0M307.0 982.3h0M282.9 992.5h0M284.5 990.9h0M260.9 993.7h0M267.9 950.0h0M269.8 949.0h0M271.3 947.3h0M278.0 956.8h0M305.6 985.9h0M304.4 984.0h0M307.9 998.7h0M309.8 999.8h0M310.4 1001.9h0M269.3 949.6h0M285.8 1013.6h0M286.8 1011.7h0M287.4 1009.5h0M270.0 949.1h0M269.3 951.2h0M269.3 953.4h0M295.4 990.0h0M295.0 992.2h0M261.1 950.2h0M274.6 945.7h0M273.7 943.7h0M273.7 941.5h0M316.4 973.5h0M295.9 993.1h0M298.0 993.9h0M299.5 995.5h0M271.3 956.2h0M273.3 955.3h0M274.6 953.5h0M270.4 1005.5h0M269.2 1003.7h0M299.3 987.2h0M300.9 988.7h0M301.9 990.7h0M280.9 1013.7h0M262.5 957.8h0M268.8 962.1h0M317.1 970.3h0M319.3 970.2h0M311.8 954.8h0M299.7 951.4h0M297.9 950.1h0M295.7 950.0h0M305.6 980.3h0M271.4 989.9h0M272.9 991.6h0M280.2 948.3h0M279.7 946.2h0M296.3 963.0h0M296.6 960.8h0M299.2 1004.3h0M298.1 1006.2h0M297.7 1008.3h0M265.7 947.3h0M288.6 940.2h0M290.1 938.7h0M292.2 938.0h0M286.2 997.3h0M284.0 997.6h0M305.5 941.9h0M303.9 943.5h0M284.3 992.2h0M282.1 991.7h0M280.2 992.8h0M277.4 992.3h0M279.2 991.1h0M307.9 986.8h0M288.5 960.3h0M260.1 953.2h0M258.3 954.4h0M285.6 929.1h0M284.1 930.6h0M285.3 1000.4h0M269.3 940.1h0M268.5 1006.2h0M270.6 1006.9h0M272.5 1008.0h0M288.2 981.0h0M262.3 988.4h0M260.6 989.8h0M257.2 983.6h0M258.7 982.1h0M260.6 980.9h0M269.0 959.1h0M269.2 961.3h0M271.1 962.4h0M311.1 998.5h0M313.1 999.5h0M315.0 998.5h0M297.4 971.6h0M295.6 970.4h0M296.6 1015.0h0M295.8 1013.0h0M293.7 1012.2h0M267.9 956.0h0M291.2 957.9h0M289.1 957.2h0M292.3 942.6h0M279.6 965.4h0M281.8 965.1h0M292.1 1024.7h0M278.9 950.9h0M280.3 952.6h0M281.1 954.6h0M303.9 957.5h0M306.0 958.2h0M285.7 968.6h0M286.5 966.5h0M286.7 964.3h0M310.7 977.8h0M300.4 977.5h0M298.3 977.0h0M293.2 994.1h0M294.0 996.2h0M294.3 998.3h0M267.2 960.6h0M266.8 962.8h0M268.1 964.6h0M271.4 970.7h0M273.6 970.5h0M271.7 1002.2h0M271.0 1000.2h0M270.4 998.0h0M312.7 970.6h0M312.1 972.7h0M302.3 1022.2h0M300.2 1022.8h0M299.7 1024.9h0M265.8 963.7h0M263.9 962.6h0M284.8 996.8h0M282.6 996.8h0M284.4 945.2h0M307.1 983.2h0M281.6 954.4h0M283.6 953.5h0M314.3 966.2h0M257.8 958.8h0M278.4 971.0h0M277.4 972.9h0M291.6 998.4h0M270.1 987.9h0M270.3 990.1h0M269.7 992.2h0M297.3 943.5h0M297.6 941.3h0M296.7 939.2h0M276.4 978.5h0M276.6 980.6h0M297.0 954.0h0M294.8 954.0h0M286.5 997.6h0M288.7 997.4h0M290.1 995.7h0M274.3 1005.0h0M293.1 1023.0h0M294.4 927.2h0M292.3 927.7h0M291.4 929.7h0M279.6 954.1h0M280.0 1000.3h0M280.9 1002.3h0M280.6 1004.5h0M280.6 967.7h0M282.6 968.7h0M290.9 927.6h0M289.1 926.3h0M308.3 967.3h0M310.4 966.6h0M311.5 964.7h0M282.4 963.8h0M283.6 961.9h0M282.4 954.2h0M288.9 977.0h0M313.5 961.3h0M314.9 959.6h0M278.6 986.0h0M268.9 976.0h0M271.1 976.2h0M273.2 975.5h0M303.6 973.5h0M302.0 975.0h0M261.4 999.2h0M259.5 998.1h0M257.4 998.8h0M283.9 943.1h0M293.3 1016.8h0M291.1 1016.8h0M295.8 962.7h0M294.4 964.4h0M295.8 966.1h0M261.8 962.4h0M264.1 959.5h0M265.1 961.4h0M267.0 962.6h0M276.8 995.9h0M316.1 970.1h0M314.2 971.1h0M312.3 972.3h0M282.2 949.5h0M265.4 969.1h0M263.6 970.4h0M280.6 967.4h0M282.8 967.3h0M270.4 991.0h0M268.2 990.9h0M266.0 991.3h0M314.9 984.7h0M313.1 983.6h0M310.9 983.5h0M319.0 980.4h0M316.9 979.6h0M277.0 958.9h0M275.8 960.7h0M274.7 962.6h0M298.9 954.6h0M298.2 952.5h0M299.4 950.7h0M281.7 1003.2h0M279.9 1001.9h0M276.9 984.7h0M274.7 984.8h0M274.7 952.9h0M311.6 968.3h0M291.7 947.9h0M293.2 949.5h0M304.7 940.4h0M314.4 960.8h0M308.7 992.5h0M308.1 990.3h0M306.1 989.4h0M260.0 980.6h0M261.8 981.9h0M297.1 941.9h0M298.0 939.9h0M298.1 937.7h0M282.2 1017.9h0M293.9 999.3h0M267.6 944.1h0M267.6 946.3h0M267.7 948.5h0M290.8 965.5h0M262.8 999.8h0M261.7 1001.8h0M260.7 1003.7h0M308.2 971.1h0M306.0 971.3h0M303.8 971.1h0M310.8 951.7h0M308.6 952.1h0M306.5 951.5h0M296.5 1013.0h0M298.7 1013.3h0M268.6 959.2h0M266.5 959.8h0M265.2 961.6h0M302.2 955.2h0M301.2 957.2h0M265.3 982.5h0M267.5 982.1h0M269.1 980.7h0M273.9 1008.5h0M304.6 1001.4h0M305.7 999.5h0M259.5 961.5h0M309.8 972.0h0M296.5 976.0h0M294.3 975.6h0M292.3 974.8h0M262.8 968.4h0M310.1 1005.8h0M310.1 1003.6h0M283.5 1005.5h0M284.4 1003.5h0M277.7 981.2h0M275.6 980.4h0M278.8 1004.6h0M309.9 944.7h0M310.6 946.8h0M311.7 948.7h0M300.3 984.6h0M299.8 986.7h0M301.6 987.9h0M288.3 982.0h0M290.4 974.4h0M289.5 972.4h0M260.6 998.7h0M261.7 996.8h0M262.7 994.8h0M309.5 945.7h0M309.1 943.5h0M309.5 941.4h0M291.8 962.2h0M293.8 961.3h0M278.4 938.2h0M297.3 968.6h0M295.4 967.5h0M293.5 966.4h0M283.3 946.7h0M312.0 976.7h0M312.9 974.6h0M314.7 973.3h0M282.3 950.3h0M312.7 987.9h0M314.5 989.2h0M314.7 991.4h0M317.4 961.5h0M315.4 962.3h0M292.6 947.7h0M275.5 962.2h0M274.2 980.2h0M272.0 980.6h0M305.9 937.6h0M300.2 1017.9h0M299.6 1006.2h0M301.8 1005.7h0M302.8 1003.7h0M292.4 1006.8h0M300.6 990.3h0M301.3 992.4h0M287.9 989.2h0M272.6 1002.8h0M274.1 1004.4h0M299.6 968.3h0M297.9 966.9h0M285.2 979.9h0M304.9 975.2h0M306.9 976.1h0M309.1 976.6h0M293.4 977.5h0M310.1 962.3h0M311.5 964.0h0M288.0 984.9h0M289.5 983.3h0M291.7 983.3h0M292.1 962.6h0M294.2 963.3h0M296.3 963.9h0M278.5 938.3h0M280.1 936.8h0M307.5 978.1h0M281.8 977.2h0M280.3 957.0h0M255.3 950.5h0M253.4 949.3h0M291.8 1008.7h0M302.5 965.5h0M300.3 965.0h0M284.1 1013.1h0M283.6 1015.3h0M290.2 996.3h0M286.4 943.6h0M288.6 944.0h0M290.8 943.7h0M285.9 991.5h0M287.5 990.0h0M289.6 990.8h0M287.1 975.5h0M286.7 973.3h0M299.9 950.1h0M295.4 1019.3h0M297.2 1020.6h0M259.6 949.9h0M301.5 981.7h0M300.7 983.8h0M299.4 985.5h0M303.1 980.0h0M286.9 1017.1h0M287.5 1019.2h0M289.7 1019.4h0M316.4 978.9h0M316.0 976.8h0M315.1 974.8h0M300.0 1017.2h0M297.9 1016.6h0M295.9 1015.8h0M266.2 984.6h0M267.5 982.8h0M268.7 981.0h0M307.7 984.7h0M305.6 983.9h0M304.3 982.1h0M293.7 946.9h0M263.3 948.4h0M262.1 946.6h0M260.0 946.0h0M290.8 974.3h0M288.6 974.0h0M303.3 962.6h0M301.9 960.9h0M302.1 958.7h0M285.0 996.2h0M293.5 968.7h0M293.9 970.9h0M287.5 940.8h0M289.7 940.7h0M291.9 940.2h0M277.3 952.3h0M271.3 969.1h0M269.4 949.6h0M272.4 1009.5h0M270.6 1008.3h0M265.0 951.7h0M267.1 952.3h0M299.1 948.7h0M300.8 950.2h0M300.8 971.4h0M301.7 973.4h0M301.7 975.6h0M260.6 958.2h0M259.8 960.2h0M257.6 960.6h0M266.5 989.3h0M268.6 988.6h0M270.6 987.6h0M300.3 1014.1h0M299.4 1016.1h0M294.5 981.7h0M292.4 982.3h0M290.5 983.5h0M263.3 938.9h0M273.2 972.9h0M271.3 971.9h0M279.1 962.5h0M279.5 964.6h0M279.9 966.8h0M303.8 1009.0h0M301.7 1008.3h0M294.0 936.6h0M296.0 935.8h0M263.3 974.6h0M265.4 975.4h0M267.5 975.9h0M310.5 985.1h0M311.0 983.0h0M310.8 980.8h0M312.4 980.5h0M311.1 978.7h0M309.6 977.1h0M280.5 988.4h0M282.0 989.9h0M283.1 952.1h0M281.0 952.9h0M279.0 953.6h0M306.3 961.5h0M307.8 959.9h0M309.1 958.1h0M278.3 966.6h0M278.5 968.8h0M292.1 1003.3h0M296.7 981.0h0M259.7 987.4h0M260.2 985.2h0M260.3 983.0h0M291.4 958.0h0M292.4 956.0h0M292.0 977.6h0M290.6 979.3h0M289.0 980.9h0M311.6 978.0h0M311.1 975.8h0M299.7 973.3h0M303.8 951.0h0M301.7 950.6h0M285.9 935.4h0M284.6 933.6h0M284.6 931.4h0M297.6 954.7h0M299.6 953.8h0M301.8 953.3h0M261.2 986.8h0M306.4 991.6h0M306.4 965.7h0M313.0 974.6h0M289.6 964.3h0M289.9 993.5h0M288.3 992.0h0M277.8 987.3h0M279.9 986.8h0M267.3 1003.9h0M268.8 1005.5h0M276.2 979.8h0M274.9 977.9h0M273.2 976.6h0M280.6 1008.9h0M281.5 1010.9h0M282.7 995.6h0M311.1 966.0h0M287.9 934.0h0M287.8 936.2h0M287.7 938.4h0M307.4 956.9h0M296.9 1007.5h0M296.6 1009.7h0M289.1 974.4h0M287.0 973.8h0M284.8 973.9h0M259.3 969.2h0M258.3 967.2h0M285.3 944.3h0M287.5 944.1h0M291.1 1020.4h0M292.9 1019.1h0M298.5 975.5h0M298.3 977.7h0M296.5 979.0h0M314.6 952.9h0M313.5 954.8h0M293.1 968.1h0M276.5 969.4h0M276.6 967.2h0M289.3 988.3h0M291.2 989.5h0M293.1 988.4h0M280.7 955.6h0M284.8 969.5h0M286.0 971.4h0M284.2 1008.6h0M283.1 1010.5h0M310.3 967.2h0M311.2 965.1h0M312.3 963.2h0M278.6 985.6h0M305.4 937.1h0M259.5 990.0h0M290.6 1022.3h0M274.4 978.0h0M273.9 975.8h0M281.1 959.9h0M280.5 957.8h0M288.2 988.4h0M279.1 957.2h0M277.2 958.1h0M275.1 958.9h0M273.3 955.6h0M271.1 955.6h0M269.0 954.8h0M286.2 984.1h0M288.4 983.7h0M289.8 982.0h0M316.6 976.4h0M318.5 977.6h0M304.2 954.0h0M267.7 961.1h0M314.8 953.3h0M313.5 951.5h0M312.3 949.7h0M264.5 978.2h0M291.8 994.1h0M291.1 996.2h0M286.9 954.5h0M262.0 939.7h0M279.9 931.6h0M281.2 932.5h0M282.9 933.9h0M285.0 933.5h0M315.0 960.1h0M264.6 997.4h0M263.8 995.3h0M263.6 993.1h0M293.5 1005.7h0M295.7 1005.9h0M309.9 960.7h0M308.1 962.0h0M276.2 959.8h0M276.6 962.0h0M285.5 944.3h0M285.6 942.1h0M268.9 933.3h0M276.4 991.7h0M276.4 993.9h0M291.2 982.6h0M290.3 980.6h0M261.5 983.7h0M261.8 985.9h0M262.1 988.0h0M290.1 955.2h0M288.0 954.5h0M286.4 953.0h0M312.6 996.1h0M314.6 995.0h0M287.5 938.9h0M288.6 940.8h0M290.6 941.8h0M258.2 981.8h0M291.4 983.8h0M290.3 953.5h0M265.4 980.9h0M263.3 981.5h0M262.8 983.7h0M292.6 975.3h0M290.5 976.0h0M288.3 976.4h0M257.2 958.7h0M255.7 957.1h0M290.8 974.0h0M292.1 975.8h0M293.5 977.5h0M294.4 936.0h0M292.4 935.1h0M271.7 946.3h0M271.8 944.1h0M308.7 965.7h0M310.7 964.8h0M289.8 996.6h0M270.2 967.3h0M271.4 969.2h0M273.5 968.5h0M265.7 998.1h0M266.4 996.0h0M265.8 993.9h0M268.0 937.0h0M265.8 937.1h0M263.6 937.1h0M299.2 995.7h0M300.7 997.4h0M279.6 1002.4h0M279.0 1000.3h0M278.8 998.1h0M299.7 1016.5h0M298.9 1014.4h0M299.4 1012.3h0M291.0 957.4h0M293.2 958.0h0M265.7 939.4h0M275.0 948.7h0M274.1 1005.4h0M272.3 1006.7h0M304.5 947.6h0M306.7 947.5h0M308.9 947.3h0M292.1 985.2h0M290.0 984.4h0M300.9 991.2h0M299.8 993.1h0M299.2 995.3h0M262.9 965.4h0M261.3 963.9h0M274.7 987.9h0M275.8 986.1h0M278.0 985.5h0M298.9 1025.3h0M299.5 1023.2h0M271.0 937.8h0M277.8 959.6h0M277.9 961.8h0M295.1 1009.8h0M295.3 1007.7h0M296.5 1005.8h0M276.4 1012.6h0M277.1 1014.7h0M270.9 982.2h0M269.4 980.7h0M282.2 974.7h0M282.3 972.5h0M283.9 971.0h0M261.5 999.3h0M313.8 988.0h0M272.9 948.4h0M275.1 948.4h0M277.8 978.4h0M278.8 980.4h0M279.1 982.6h0M281.0 943.2h0M279.9 945.1h0M291.6 935.7h0M280.3 959.1h0M279.2 957.2h0M261.7 961.3h0M306.4 980.8h0M307.0 978.7h0M290.2 1016.9h0M292.3 1016.3h0M311.4 972.7h0M270.6 951.5h0M314.0 990.2h0M312.1 989.2h0M282.2 969.8h0M284.3 970.7h0M286.4 971.0h0M310.5 957.8h0M305.1 965.1h0M303.0 964.4h0M264.7 961.8h0M282.4 1009.1h0M282.9 1011.2h0M260.9 957.5h0M260.9 955.3h0M288.6 999.7h0M288.1 1001.9h0M286.5 1003.3h0M302.8 1018.4h0M304.5 1019.8h0M259.4 989.7h0M257.9 991.4h0M258.0 993.6h0M290.7 986.1h0M260.1 942.8h0M280.1 934.8h0M277.9 934.6h0M288.7 991.2h0M287.0 992.7h0M285.0 993.6h0M261.4 991.7h0M260.7 989.6h0M280.4 952.6h0M279.8 950.5h0M267.6 965.8h0M265.4 965.9h0M275.6 979.6h0M276.1 977.5h0M277.5 975.7h0M284.6 960.1h0M282.4 960.3h0M290.2 1018.3h0M283.1 998.3h0M280.9 997.8h0M278.8 997.2h0M285.6 1007.1h0M287.1 1008.7h0M288.6 1010.3h0M310.7 1009.0h0M312.9 1008.7h0M314.9 976.9h0M316.8 975.9h0M318.2 974.1h0M279.0 947.5h0M277.4 949.0h0M290.4 932.9h0M305.5 1003.7h0M305.6 1001.5h0M290.1 950.9h0M289.1 948.9h0M288.9 946.8h0M306.3 950.4h0M305.3 952.3h0M297.0 945.2h0M299.9 958.9h0M297.7 958.5h0M269.7 976.4h0M269.7 978.6h0M262.2 969.7h0M262.6 967.5h0M262.1 965.4h0M286.6 1000.0h0M288.6 1000.9h0M295.7 959.8h0M297.9 960.0h0M300.1 959.9h0M285.4 979.6h0M286.1 981.7h0M303.1 960.3h0M302.5 962.5h0M301.8 964.5h0M306.2 989.6h0M306.5 991.8h0M307.8 993.5h0M272.9 968.1h0M268.2 940.0h0M270.0 938.7h0M270.2 974.1h0M269.8 971.9h0M267.9 970.9h0M291.8 1007.9h0M290.0 1006.6h0M288.1 1005.6h0M284.9 953.7h0M286.8 952.6h0M288.3 951.1h0M268.0 936.0h0M288.9 929.1h0M291.0 929.7h0M293.2 929.3h0M294.6 939.0h0M292.7 940.0h0M260.4 985.4h0M260.9 987.5h0M291.2 966.5h0M306.2 1009.3h0M307.2 1011.2h0M309.2 1012.2h0M281.4 990.1h0M281.5 987.9h0M280.6 985.9h0M306.4 940.2h0M305.9 938.1h0M280.8 929.8h0M278.9 930.9h0M277.2 932.4h0M296.6 993.2h0M295.8 995.2h0M295.6 997.4h0M279.0 1000.8h0M308.4 1014.6h0M307.7 1012.5h0M309.0 1010.8h0M310.7 976.9h0M286.5 965.5h0M292.2 945.0h0M290.5 943.6h0M289.5 941.7h0M302.2 977.1h0M300.2 1011.3h0M301.5 1013.1h0M303.4 1014.0h0M311.5 999.9h0M285.8 992.9h0M299.7 1006.3h0M301.7 1005.4h0M303.4 1004.0h0M261.1 943.4h0M263.3 943.5h0M265.0 942.2h0M299.3 945.2h0M299.8 943.0h0M302.0 943.3h0M294.3 964.8h0M293.8 967.0h0M295.7 968.2h0M293.3 994.2h0M286.4 1016.7h0M286.1 1014.5h0M297.2 937.6h0M299.3 936.8h0M298.4 966.5h0M296.3 967.2h0M294.3 966.3h0M260.5 967.1h0M258.4 966.4h0M315.8 952.9h0M315.2 962.2h0M313.6 960.7h0M298.3 954.3h0M299.5 952.4h0M301.2 951.0h0M297.5 946.1h0M299.5 947.0h0M280.0 946.4h0M280.8 944.3h0M281.8 942.4h0M303.1 956.8h0M301.8 958.6h0M299.6 959.2h0M288.2 997.2h0M287.9 999.4h0M288.3 1001.6h0M272.4 976.9h0M281.4 955.7h0M282.8 954.1h0M286.5 930.6h0M288.5 941.2h0M263.6 966.1h0M261.7 967.2h0M272.7 944.8h0M274.7 943.9h0M278.5 943.6h0M277.3 945.5h0M296.7 976.8h0M298.6 977.8h0M300.7 978.5h0M319.8 971.0h0M307.2 995.8h0M308.1 993.8h0M310.1 994.7h0M271.8 1011.8h0M299.0 954.3h0M276.2 941.3h0M274.2 942.1h0M288.7 983.4h0M286.6 975.9h0M285.8 973.8h0M285.3 971.7h0M275.0 993.2h0M276.7 994.6h0M298.4 1009.9h0M285.5 1019.8h0M297.6 1008.1h0M299.1 1009.7h0M315.3 987.6h0M317.1 986.4h0M319.3 986.0h0M285.9 933.0h0M270.9 963.9h0M273.0 964.5h0M275.1 965.2h0M301.1 1009.6h0M302.5 1011.2h0M303.8 1013.1h0M286.1 1004.3h0M287.3 1006.2h0M288.1 1008.2h0M257.7 963.8h0M259.8 964.6h0M261.7 965.6h0M288.0 934.1h0M289.2 932.3h0M291.4 932.1h0M315.0 957.3h0M315.2 955.1h0M316.9 953.7h0M287.7 927.4h0M285.9 928.7h0M265.4 953.2h0M263.4 952.2h0M261.3 952.7h0M306.4 947.8h0" fill="none" stroke="#8ccf9c" stroke-width="2.0" stroke-linecap="round"/>
<path d="M235.3 932.9h0M234.8 935.0h0M232.8 936.0h0M226.2 904.6h0M224.1 905.1h0M221.9 904.8h0M215.3 941.4h0M213.2 942.0h0M197.3 906.6h0M197.5 904.4h0M221.7 891.6h0M222.8 893.5h0M237.0 940.5h0M235.0 941.2h0M225.4 920.4h0M223.2 934.5h0M225.3 935.2h0M227.5 935.2h0M218.6 930.4h0M217.3 932.2h0M216.9 934.3h0M219.6 941.9h0M218.2 940.2h0M216.2 939.2h0M214.8 897.0h0M213.9 895.1h0M213.5 892.9h0M220.2 923.1h0M186.5 937.0h0M233.3 947.1h0M188.7 912.3h0M191.4 937.3h0M199.9 927.6h0M200.1 925.4h0M199.8 923.2h0M214.6 985.9h0M216.3 987.4h0M219.0 895.8h0M217.4 894.4h0M210.0 953.5h0M230.9 922.5h0M229.7 924.3h0M202.7 946.8h0M201.0 945.3h0M213.0 986.2h0M213.0 984.0h0M212.6 981.8h0M224.0 934.9h0M222.8 936.7h0M209.2 920.8h0M211.0 919.6h0M210.2 938.8h0M210.6 936.7h0M212.1 935.1h0M204.7 928.0h0M228.6 915.0h0M226.7 913.9h0M226.5 911.7h0M195.1 925.7h0M198.7 899.6h0M235.3 936.3h0M236.8 937.8h0M208.0 943.1h0M207.6 945.3h0M217.0 984.7h0M210.8 887.0h0M208.7 886.5h0M207.0 885.1h0M190.2 948.3h0M192.3 948.7h0M194.5 949.2h0M182.4 921.5h0M180.6 922.7h0M178.5 923.5h0M225.9 963.6h0M227.1 965.4h0M227.3 967.6h0M180.6 923.7h0M179.3 925.5h0M178.7 927.6h0M218.7 882.8h0M217.8 884.8h0M218.9 939.2h0M220.4 937.6h0M221.2 935.5h0M205.3 901.3h0M204.0 903.1h0M205.8 904.3h0M201.0 952.4h0M203.2 952.4h0M204.4 950.5h0M209.3 961.5h0M211.1 962.8h0M201.2 973.5h0M203.3 972.8h0M205.2 971.7h0M225.9 953.6h0M210.0 971.5h0M208.7 969.7h0M209.3 967.6h0M232.6 941.4h0M233.9 939.7h0M233.0 928.3h0M234.9 929.5h0M215.5 969.1h0M214.3 967.2h0M220.0 901.5h0M217.9 900.7h0M216.7 898.9h0M180.6 933.7h0M181.5 931.7h0M221.9 954.5h0M223.4 956.2h0M225.5 955.4h0M225.0 900.8h0M208.8 905.0h0M207.0 903.8h0M205.0 902.8h0M235.1 939.9h0M233.7 938.2h0M194.0 919.0h0M192.4 909.6h0M213.6 921.5h0M215.3 920.1h0M236.1 941.4h0M212.7 926.2h0M213.1 924.1h0M200.7 922.7h0M224.6 916.1h0M201.8 913.4h0M202.7 911.4h0M204.9 911.0h0M235.2 936.8h0M193.2 936.4h0M194.8 937.9h0M195.3 940.1h0M235.4 940.6h0M233.3 940.7h0M231.1 941.3h0M220.1 958.5h0M219.9 956.3h0M221.6 955.0h0M193.6 949.3h0M191.5 949.9h0M189.8 948.5h0M237.2 933.3h0M187.8 924.9h0M189.8 924.1h0M208.9 886.4h0M186.0 931.9h0M229.3 917.4h0M186.7 934.8h0M215.9 918.0h0M215.9 915.8h0M196.4 963.0h0M201.7 940.8h0M214.9 956.5h0M216.6 957.9h0M218.5 959.0h0M226.7 890.9h0M224.6 891.5h0M222.6 892.4h0M207.0 952.8h0M239.6 939.1h0M241.7 940.0h0M243.3 941.4h0M203.1 957.9h0M204.2 956.1h0M204.7 953.9h0M205.1 921.4h0M227.9 917.6h0M229.2 919.3h0M230.4 921.2h0M213.6 978.4h0M211.4 978.1h0M209.5 976.9h0M226.5 925.9h0M224.3 925.6h0M223.4 927.5h0M204.7 976.1h0M206.5 974.8h0M207.2 972.7h0M201.5 922.4h0M221.5 880.7h0M240.7 933.1h0M242.3 931.7h0M244.0 930.3h0M212.1 962.6h0M212.9 960.5h0M227.6 921.5h0M225.5 922.2h0M224.0 923.8h0M233.4 946.2h0M234.0 948.3h0M233.2 950.4h0M218.4 980.1h0M234.2 926.3h0M234.7 924.2h0M229.5 885.2h0M229.6 887.4h0M221.4 956.6h0M219.2 956.4h0M217.5 955.0h0M209.6 905.3h0M208.5 907.1h0M207.4 909.1h0M192.7 927.5h0M193.3 925.4h0M203.4 940.3h0M205.5 939.5h0M196.9 970.6h0M195.0 971.8h0M186.4 910.9h0M188.3 911.9h0M190.3 912.8h0M207.1 922.0h0M208.7 923.6h0M197.5 930.5h0M199.4 929.3h0M192.1 929.3h0M190.6 927.6h0M187.4 917.5h0M185.3 918.0h0M183.2 917.4h0M225.4 887.4h0M225.5 885.2h0M197.0 925.2h0M198.5 926.7h0M200.7 927.2h0M229.5 916.6h0M228.8 918.7h0M229.5 920.7h0M209.2 973.1h0M211.4 973.6h0M213.5 974.0h0M223.6 951.3h0M223.3 953.5h0M223.3 955.7h0M223.6 879.9h0M224.9 878.2h0M226.7 876.9h0M208.7 900.2h0M210.8 900.4h0M207.3 954.2h0M209.0 952.7h0M221.5 945.1h0M219.7 946.4h0M217.5 946.8h0M221.5 981.5h0M222.0 979.3h0M201.5 925.2h0M218.2 973.3h0M219.1 975.3h0M211.2 940.8h0M196.5 943.0h0M196.8 940.9h0M205.9 930.2h0M204.8 932.1h0M203.3 933.7h0M220.3 907.5h0M218.2 908.2h0M216.0 908.7h0M194.4 930.7h0M195.2 928.6h0M230.5 926.9h0M228.7 928.1h0M184.6 928.7h0M204.0 943.0h0M201.8 891.0h0M203.2 889.2h0M205.3 888.7h0M186.5 920.0h0M206.6 934.4h0M205.0 935.9h0M196.2 898.6h0M196.0 896.4h0M195.7 894.2h0M225.7 927.0h0M223.6 926.3h0M221.9 924.9h0M191.5 937.2h0M189.5 922.3h0M225.8 937.5h0M227.6 936.3h0M228.3 938.3h0M191.1 945.8h0M189.6 944.2h0M199.4 980.1h0M198.7 978.0h0M191.7 932.8h0M202.5 942.1h0M215.2 892.3h0M223.9 934.4h0M224.9 932.4h0M225.2 930.3h0M198.6 898.1h0M199.5 900.1h0M203.5 954.7h0M232.5 949.1h0M215.9 945.2h0M186.4 914.6h0M188.3 913.5h0M190.3 912.5h0M196.2 895.3h0M195.1 893.4h0M193.7 891.8h0M196.6 933.2h0M194.6 934.1h0M192.5 934.6h0M211.4 967.7h0M210.4 965.8h0M227.5 949.8h0M229.7 949.6h0M230.8 951.5h0M219.0 881.8h0M217.0 882.8h0M216.5 884.9h0M227.2 946.3h0M228.3 948.2h0M227.6 950.3h0M212.2 894.0h0M214.4 894.3h0M216.2 895.6h0M189.3 934.8h0M194.0 934.9h0M191.9 935.6h0M203.2 903.2h0M216.1 951.0h0M214.2 949.9h0M215.0 918.6h0M213.1 917.5h0M224.9 918.8h0M224.2 916.8h0M213.4 956.3h0M215.6 956.2h0M200.0 913.7h0M201.9 912.7h0M203.8 911.5h0M219.0 921.6h0M220.3 923.3h0M208.1 937.9h0M206.4 936.5h0M212.0 935.0h0M221.3 887.7h0M202.1 964.9h0M204.3 964.5h0M235.9 937.5h0M198.3 918.0h0M197.0 916.3h0M206.2 904.4h0M204.0 904.6h0M201.9 905.1h0M203.1 978.3h0M202.4 976.3h0M202.2 974.1h0M217.1 882.7h0M219.3 882.3h0M221.5 882.5h0M196.6 912.7h0M196.8 914.9h0M219.5 922.3h0M220.2 920.2h0M201.3 887.4h0M201.1 889.5h0M200.3 953.9h0M192.1 938.9h0M188.4 912.9h0M186.7 914.3h0M184.5 914.2h0M205.9 902.2h0M192.1 917.5h0M208.9 968.0h0M211.0 968.7h0M223.5 932.7h0M225.6 933.4h0M227.7 933.9h0M225.6 953.3h0M213.8 950.0h0M215.6 951.2h0M217.5 952.2h0M181.6 916.9h0M181.0 919.0h0M181.5 921.2h0M218.5 908.7h0M219.5 906.7h0M222.1 877.4h0M220.1 956.6h0M200.7 977.0h0M201.9 978.9h0M227.0 890.1h0M228.7 891.5h0M230.1 889.8h0M227.2 939.8h0M228.1 937.8h0M227.6 935.6h0M212.5 880.0h0M205.6 971.7h0M204.6 941.7h0M206.6 942.6h0M207.5 944.6h0M197.3 919.1h0M220.8 909.4h0M220.1 911.5h0M228.6 922.9h0M230.6 923.8h0M219.0 937.1h0M221.2 936.7h0M223.4 936.8h0M190.4 926.7h0M190.7 924.6h0M216.7 931.2h0M196.6 905.0h0M195.2 906.7h0M194.0 908.6h0M203.0 978.3h0M204.0 980.3h0M208.8 966.7h0M206.9 965.6h0M204.7 965.9h0M189.7 916.1h0M187.7 917.1h0M186.1 918.5h0M219.0 932.9h0M216.8 933.0h0M214.7 933.8h0M217.7 965.1h0M218.3 967.2h0M217.8 969.4h0M199.2 910.8h0M199.3 908.6h0M231.7 939.9h0M189.0 941.4h0M209.8 909.2h0M207.9 908.1h0M203.8 920.0h0M201.8 919.0h0M228.6 920.9h0M205.0 953.3h0M226.4 895.1h0M220.2 949.7h0M203.3 925.3h0M201.2 925.8h0M200.0 927.7h0M222.5 947.0h0M204.4 891.3h0M204.1 935.2h0M203.8 933.0h0M203.0 931.0h0M195.7 945.4h0M197.1 947.0h0M199.1 947.9h0M191.1 926.1h0M234.2 939.0h0M209.7 901.9h0M210.2 904.1h0M204.2 955.9h0M203.0 954.1h0M201.5 952.4h0M199.3 977.4h0M200.7 975.7h0M204.8 957.8h0M197.5 904.6h0M224.2 902.0h0M222.7 903.6h0M221.5 879.1h0M220.5 881.1h0M209.5 888.5h0M210.5 886.5h0M218.8 902.1h0M219.5 900.0h0M194.2 903.5h0M195.0 905.5h0M202.3 941.7h0M200.8 943.3h0M195.3 942.8h0M209.8 945.3h0M208.7 947.2h0M208.8 949.4h0M220.7 931.1h0M222.0 929.4h0M220.8 927.5h0M195.9 926.4h0M188.3 913.3h0M227.6 894.6h0M229.4 895.8h0M230.7 897.6h0M218.6 894.5h0M201.4 907.7h0M203.5 907.1h0M204.6 905.2h0M189.4 915.3h0M188.2 913.5h0M198.9 903.1h0M201.0 902.3h0M202.1 900.4h0M208.9 883.1h0M211.0 882.7h0M203.9 918.6h0M205.8 917.6h0M207.3 916.0h0M194.9 932.2h0M196.5 950.4h0M196.5 952.6h0M196.6 954.8h0M206.5 955.7h0M213.7 987.2h0M215.2 985.5h0M216.2 983.6h0M209.6 893.6h0M209.9 895.8h0M208.0 894.8h0M228.7 938.9h0M230.8 939.5h0M205.9 940.7h0M205.6 938.5h0M204.2 936.8h0M198.7 927.5h0M196.6 926.7h0M194.5 926.1h0M216.2 883.7h0M201.7 918.1h0M203.8 917.4h0M240.0 939.5h0M240.6 941.6h0M214.9 952.7h0M212.8 953.4h0M223.1 969.4h0M223.6 971.5h0M224.7 973.4h0M206.7 889.2h0M208.9 889.3h0M211.1 889.0h0M198.5 957.6h0M199.5 959.6h0M214.7 929.9h0M212.9 928.6h0M213.2 926.4h0M186.1 913.7h0M184.3 915.0h0M182.3 915.9h0M200.2 946.9h0M198.7 948.6h0M196.6 949.2h0M199.9 899.4h0M202.0 900.1h0M216.3 947.0h0M214.4 948.1h0M212.2 947.9h0M211.6 886.2h0M213.7 886.7h0M215.8 885.9h0M226.9 911.0h0M191.4 929.9h0M193.6 929.4h0M225.7 947.8h0M222.1 876.1h0M216.0 884.6h0M210.8 923.5h0M213.0 923.0h0M230.0 940.9h0M198.5 932.9h0M229.3 912.4h0M227.1 912.4h0M225.3 911.1h0M196.9 955.1h0M210.8 980.5h0M217.6 907.3h0M231.1 948.8h0M231.3 951.0h0M231.2 953.2h0M222.8 899.0h0M223.7 901.0h0M225.0 902.8h0M194.4 958.9h0M193.7 956.8h0M192.6 954.9h0M235.1 927.2h0M236.1 929.1h0M236.6 931.3h0M178.4 919.5h0M177.9 921.6h0M190.2 926.8h0M192.3 927.4h0M194.0 928.9h0M211.6 895.6h0M209.6 896.3h0M210.0 919.1h0M188.9 940.8h0M202.3 919.4h0M204.5 954.2h0M204.3 956.4h0M217.3 959.7h0M217.2 961.9h0M212.1 894.7h0M213.3 892.9h0M227.0 928.6h0M229.1 929.4h0M224.3 944.8h0M222.7 943.3h0M220.4 938.9h0M197.9 931.9h0M209.1 922.7h0M211.1 923.5h0M209.4 963.3h0M211.6 960.0h0M210.0 958.5h0M207.9 957.8h0M207.3 968.0h0M208.7 966.3h0M206.5 962.0h0M204.9 960.5h0M192.5 914.0h0M217.3 959.2h0M217.4 957.0h0M215.5 891.1h0M217.7 891.0h0M227.7 891.3h0M229.8 892.0h0M231.1 890.3h0M225.5 881.2h0M228.5 900.8h0M188.8 919.1h0M182.8 933.3h0M236.8 948.4h0M238.9 948.2h0M214.7 936.2h0M207.0 946.5h0M206.5 922.0h0M207.2 984.4h0M217.5 935.1h0M182.4 925.4h0M184.1 923.9h0M185.8 925.3h0M189.3 910.2h0M188.6 908.1h0M188.0 906.0h0M194.7 926.9h0M194.2 929.0h0M193.0 930.9h0M216.8 896.3h0M216.0 898.4h0M213.8 898.7h0M217.2 879.1h0M222.5 890.0h0M220.4 890.7h0M207.1 912.9h0M206.0 914.9h0M204.5 916.4h0M217.6 946.1h0M219.6 945.4h0M221.3 943.9h0M206.0 951.1h0M204.6 952.8h0M204.2 955.0h0M217.3 962.1h0M183.3 931.1h0M181.6 932.5h0M211.5 918.2h0M209.9 919.7h0M208.8 921.6h0M224.6 928.7h0M211.3 918.7h0M209.1 918.4h0M208.1 916.4h0M219.2 979.4h0M217.7 977.8h0M216.2 976.2h0M209.6 923.0h0M208.0 924.6h0M212.8 910.8h0M215.8 901.1h0M217.2 899.4h0M200.9 905.5h0M200.9 903.3h0M201.0 901.1h0M205.3 967.8h0M203.4 966.7h0M199.0 897.6h0M203.5 932.0h0M201.8 933.4h0M214.1 984.8h0M214.9 986.8h0M216.1 988.7h0M189.1 938.0h0M188.0 936.0h0M186.7 934.3h0M206.6 891.8h0M237.8 939.1h0M237.1 937.0h0M236.5 934.9h0M209.8 900.7h0M217.0 943.0h0M218.0 944.9h0M217.9 947.1h0M211.5 926.7h0M212.2 928.8h0M212.3 931.0h0M226.9 880.8h0M225.8 878.9h0M224.8 876.9h0M205.6 954.2h0M189.1 913.1h0M187.0 912.8h0M192.9 912.2h0M190.9 911.5h0M188.8 910.7h0M180.2 928.6h0M179.7 930.7h0M195.1 913.3h0M225.9 943.1h0M222.0 887.6h0M221.7 885.5h0M219.9 884.2h0M208.5 925.0h0M207.1 926.8h0M207.9 928.8h0M190.7 942.8h0M191.1 944.9h0M182.7 915.5h0M182.8 917.7h0M183.6 919.8h0M210.4 883.6h0M208.5 884.7h0M189.7 912.5h0M191.9 912.3h0M218.1 951.1h0M199.3 960.1h0M201.2 959.0h0M201.7 956.9h0M220.4 949.2h0M221.7 951.0h0M223.0 952.8h0M224.0 882.9h0M226.0 883.9h0M216.0 966.5h0M222.5 931.3h0M220.4 931.7h0M218.2 931.3h0M206.1 956.7h0M205.1 954.7h0M226.9 907.6h0M227.9 909.6h0M204.0 891.5h0M202.3 892.9h0M179.2 915.7h0M178.9 913.5h0M178.1 911.5h0M201.6 953.4h0M199.9 954.8h0M206.1 892.5h0M198.8 907.0h0M198.4 904.9h0M199.2 902.8h0M214.9 984.1h0M213.0 985.0h0M224.1 927.4h0M225.9 926.2h0M228.0 926.8h0M207.3 909.3h0M204.9 963.4h0M205.2 961.3h0M205.0 959.1h0M229.1 911.4h0M227.2 910.4h0M225.5 909.0h0M228.7 931.4h0M230.7 930.4h0M202.9 921.3h0M202.2 919.2h0M203.7 917.7h0M200.6 896.4h0M204.8 922.9h0M205.4 925.0h0M223.9 930.0h0M225.2 931.7h0M216.0 895.9h0M208.1 903.3h0M210.2 902.6h0M211.7 904.1h0M185.2 929.8h0M183.2 930.7h0M228.4 923.6h0M228.4 921.4h0M229.8 919.7h0M225.0 942.8h0M223.2 944.1h0M218.9 914.7h0M217.0 913.6h0M215.6 911.9h0M240.4 938.8h0M240.8 936.7h0M240.2 934.5h0M210.4 986.9h0M203.7 951.2h0M203.4 949.0h0M201.2 948.7h0M188.6 919.5h0M186.8 918.2h0M184.8 917.3h0M201.7 968.1h0M202.9 969.9h0M205.1 970.4h0M192.2 949.5h0M190.5 950.9h0M206.6 962.9h0M222.9 902.6h0M224.6 901.3h0M199.9 944.7h0M201.2 946.5h0M202.6 948.2h0M213.7 965.0h0M203.2 974.4h0M222.5 904.4h0M222.5 902.2h0M223.9 900.5h0M220.6 893.5h0M219.0 972.0h0M219.3 969.9h0M220.9 968.4h0M229.1 898.4h0M229.9 896.3h0M230.7 894.3h0M222.5 967.9h0M220.3 967.6h0M213.3 966.0h0M211.1 965.8h0M209.4 964.4h0M201.5 952.6h0M199.3 952.7h0M197.3 951.9h0M213.2 958.5h0M212.5 956.5h0M194.7 944.9h0M214.8 883.1h0M214.5 914.4h0M225.1 962.1h0M191.5 933.2h0M199.5 939.0h0M223.6 939.4h0M223.1 937.2h0M222.3 935.2h0M221.7 927.0h0M221.7 929.2h0M205.9 971.9h0M204.0 970.7h0M201.8 971.0h0M208.9 953.8h0M211.0 954.4h0M216.5 975.0h0M215.3 976.9h0M213.4 977.9h0M180.7 921.1h0M182.9 921.6h0M185.0 921.2h0M213.2 977.7h0M216.5 919.5h0M214.9 918.1h0M217.2 897.2h0M216.9 895.0h0M217.8 893.0h0M192.2 948.5h0M190.1 949.2h0M200.6 896.9h0M220.4 942.8h0M220.9 945.0h0M222.5 946.5h0M224.9 890.8h0M215.9 988.2h0M215.7 986.0h0M214.4 984.2h0M232.4 922.8h0M231.5 924.8h0M209.7 976.5h0M211.6 977.6h0M213.8 977.2h0M186.2 940.4h0M222.1 877.3h0M222.1 875.1h0M221.7 872.9h0M199.2 927.9h0M216.0 925.6h0M218.0 926.6h0M220.2 926.4h0M208.6 909.5h0M210.7 908.8h0M201.4 969.1h0M226.8 953.5h0M224.7 952.9h0M222.6 952.2h0M229.0 946.9h0M231.2 947.3h0M199.4 951.1h0M201.1 952.5h0M220.7 965.2h0M222.5 963.9h0M224.4 965.0h0M196.2 897.3h0M237.2 940.1h0M235.4 941.3h0M209.7 927.0h0M210.6 929.0h0M209.4 930.8h0M196.6 902.2h0M190.5 932.8h0M192.3 934.1h0M226.6 951.0h0M227.7 952.9h0M203.5 901.7h0M195.0 920.2h0M202.7 913.2h0M203.2 915.4h0M225.4 928.5h0M227.3 929.6h0M183.9 926.1h0M186.1 926.4h0M188.3 926.1h0M204.9 936.3h0M177.6 927.9h0M178.1 925.8h0M210.2 900.1h0M208.7 901.6h0M200.9 926.1h0M228.3 956.7h0M230.3 957.6h0M236.6 937.9h0M218.9 907.6h0M221.0 906.8h0M222.8 905.7h0M225.1 898.5h0M222.9 898.6h0M221.1 897.4h0M195.8 933.9h0M196.0 931.7h0M194.5 930.1h0M227.7 923.6h0M226.4 925.4h0M234.4 941.4h0M232.3 940.9h0M230.5 939.6h0M216.4 903.9h0M215.8 901.9h0M217.5 900.5h0M225.0 895.6h0M223.8 893.7h0M209.8 892.4h0M210.0 890.2h0M208.8 888.3h0M210.4 926.3h0M197.8 949.3h0M195.7 948.5h0M193.6 947.9h0M214.3 987.2h0M216.0 985.9h0M217.9 984.7h0M207.6 941.1h0M209.7 940.4h0M204.9 981.6h0M205.3 979.5h0M199.5 957.9h0M197.4 957.2h0M203.3 963.9h0M204.1 961.8h0M206.0 960.8h0M200.6 925.9h0M199.0 924.4h0M225.0 886.6h0M198.8 919.6h0M198.8 921.8h0M199.1 924.0h0M216.4 978.2h0M214.8 979.7h0M213.6 981.5h0M213.8 959.7h0M214.2 957.5h0M210.7 956.3h0M209.1 954.8h0M208.0 952.9h0M201.1 904.6h0M200.7 906.8h0M194.6 931.6h0M209.8 957.1h0M209.3 959.3h0M209.1 969.0h0M208.7 959.6h0M206.6 960.3h0M204.9 961.8h0M198.6 927.2h0M196.4 926.8h0M195.0 925.1h0M221.7 930.1h0M223.0 897.3h0M221.3 961.0h0M221.4 963.2h0M223.5 908.1h0M225.2 906.7h0M227.3 907.3h0M221.6 982.9h0M222.9 981.1h0M216.4 966.5h0M218.3 967.6h0M219.8 969.2h0M211.7 983.3h0M211.6 985.5h0M212.1 987.6h0M215.5 950.2h0M214.4 948.3h0M209.0 882.7h0M208.6 880.5h0M192.7 900.7h0M194.8 901.3h0M184.5 936.5h0M190.3 939.9h0M189.6 939.9h0M187.8 941.1h0M228.8 919.3h0M229.3 917.2h0M239.5 943.3h0M206.8 975.0h0M228.6 894.4h0M229.5 896.5h0M230.0 898.6h0M223.2 954.7h0M225.2 955.6h0M229.6 912.4h0M229.0 910.3h0M227.7 908.4h0M213.7 918.6h0M213.4 920.7h0M215.2 908.4h0M198.3 945.9h0M217.1 946.7h0M219.2 947.3h0M201.6 891.8h0M201.9 894.0h0M200.4 895.6h0M190.6 941.0h0M192.5 953.9h0M194.6 953.3h0M225.7 929.9h0M225.3 927.8h0M220.1 970.1h0M218.0 969.6h0M215.9 968.8h0M201.4 937.8h0M199.7 936.4h0M197.2 945.8h0M217.0 926.6h0M218.0 928.6h0M218.0 917.9h0M206.3 921.2h0M197.6 947.9h0M202.8 913.2h0M201.4 911.4h0M193.9 912.3h0M195.6 910.8h0M196.6 908.9h0M220.3 965.8h0M226.3 900.5h0M228.2 899.3h0M204.3 932.5h0M203.5 930.5h0M201.6 929.3h0M218.9 962.4h0M185.3 922.9h0M183.1 923.5h0M181.4 924.8h0M209.9 905.6h0M218.5 905.6h0M222.0 974.4h0M219.9 974.0h0M217.8 973.3h0M203.1 911.6h0M201.2 912.6h0M210.1 964.3h0M211.0 966.3h0M226.5 923.3h0M210.0 908.1h0M212.2 908.6h0M197.2 925.6h0M197.1 927.8h0M209.2 987.3h0M210.7 988.9h0M225.6 928.5h0M227.8 928.4h0M209.9 934.3h0M210.5 936.4h0M181.5 919.3h0M181.8 921.5h0M195.4 946.2h0M196.8 944.5h0M197.8 910.3h0M199.8 909.3h0M201.6 910.6h0M218.6 925.4h0M217.9 927.4h0M217.2 929.5h0M204.1 957.6h0M202.6 959.2h0M201.9 961.3h0M199.8 947.4h0M200.1 945.2h0M199.6 943.0h0M210.8 928.8h0M214.7 908.5h0M214.8 906.3h0M215.5 904.1h0M219.7 949.5h0M221.7 950.5h0M223.5 951.7h0M196.2 942.1h0M194.4 940.9h0M211.0 980.2h0M212.9 979.1h0M214.9 980.0h0M232.5 918.2h0M190.7 961.4h0M189.3 963.1h0M187.1 963.1h0M192.8 952.8h0M185.8 925.3h0M184.4 926.9h0M182.2 927.1h0M233.5 927.8h0M231.4 928.3h0M229.2 928.1h0M222.3 945.0h0M195.6 964.9h0M196.7 966.8h0M198.8 967.4h0M224.2 929.7h0M223.6 927.6h0M212.9 968.4h0M217.7 973.6h0M215.6 973.0h0M213.8 971.7h0M221.8 908.1h0M220.4 911.5h0M221.7 913.3h0M219.6 924.6h0M219.6 922.4h0M189.5 919.1h0M191.3 920.4h0M191.4 922.6h0M238.8 940.3h0M197.0 967.0h0M198.7 965.7h0M199.7 963.7h0M188.0 916.1h0M186.7 914.4h0M185.5 912.5h0M189.7 944.9h0M221.4 935.2h0M201.1 887.6h0M203.1 888.3h0M211.1 914.3h0M213.1 915.0h0M214.3 916.8h0M220.3 906.6h0M217.5 917.0h0M215.8 915.7h0M221.3 885.5h0M221.6 887.7h0M217.4 952.4h0M215.2 952.1h0M213.1 951.4h0M221.0 910.4h0M186.2 933.3h0M186.1 931.1h0M177.2 931.3h0M193.1 934.9h0M206.0 984.2h0M210.2 916.0h0M208.1 916.7h0M199.1 914.8h0M211.8 888.3h0M210.2 889.8h0M208.3 890.9h0M222.7 960.2h0M222.9 962.4h0M182.7 939.5h0M184.8 939.2h0M186.4 937.7h0M204.9 927.2h0M241.3 942.0h0M239.9 940.3h0M239.8 938.1h0M228.3 936.0h0M191.0 913.3h0M193.2 913.2h0M195.3 912.8h0M214.0 885.9h0M232.7 944.4h0M220.0 934.5h0M220.7 932.4h0M220.4 930.2h0M220.0 918.5h0M190.3 905.2h0M190.9 903.1h0M237.5 932.2h0M239.0 930.6h0M240.1 928.7h0M192.7 951.4h0M190.3 939.5h0M188.1 939.4h0M192.7 937.3h0M193.8 935.4h0M219.6 923.8h0M235.4 941.6h0M235.4 939.4h0M201.7 893.3h0M201.5 895.5h0M223.3 904.0h0M222.4 906.1h0M212.4 886.7h0M214.6 886.4h0M216.8 886.9h0M196.2 961.9h0M193.6 901.5h0M195.2 900.0h0M194.4 898.0h0M199.4 919.4h0M179.4 923.8h0M177.2 923.3h0M208.1 889.2h0M210.2 889.9h0M212.4 889.8h0M209.5 880.1h0M208.7 882.2h0M206.7 883.1h0M188.0 911.5h0M189.3 909.7h0M204.9 981.3h0M204.5 979.2h0M203.5 977.2h0M228.6 954.8h0M227.4 952.9h0M205.8 903.1h0M221.8 983.9h0M220.1 985.3h0M193.0 913.5h0M191.0 914.3h0M188.8 914.7h0M226.0 937.6h0M219.2 917.7h0M219.8 919.9h0M219.8 922.1h0M226.6 895.5h0M225.1 893.9h0M212.1 984.4h0M210.1 985.4h0M207.9 985.5h0M206.9 891.3h0M209.2 948.8h0M207.1 948.1h0M205.3 949.3h0M193.0 966.2h0M205.5 971.5h0M221.2 949.4h0M219.0 949.7h0M216.9 949.4h0M201.0 943.2h0M230.4 927.5h0M230.6 925.3h0M232.7 934.8h0M234.3 936.3h0M236.4 936.9h0M198.0 922.3h0M200.0 923.2h0M201.5 924.8h0M218.9 960.1h0M225.1 954.2h0M220.4 920.0h0M221.3 922.0h0M221.3 924.2h0M191.9 956.6h0M221.6 945.6h0M190.3 933.1h0M191.1 935.1h0M192.2 937.0h0M198.2 962.8h0M198.9 960.7h0M222.9 973.6h0M223.9 975.5h0M225.5 876.0h0M205.3 970.5h0M193.8 930.5h0M194.8 928.6h0M195.4 926.5h0M182.5 932.1h0M207.2 911.5h0M208.4 909.7h0M209.3 907.6h0M213.7 896.5h0M212.4 894.7h0M214.5 904.3h0M213.8 902.2h0M221.3 951.9h0M219.2 952.6h0M205.2 936.0h0M205.9 933.9h0M219.2 938.7h0M217.1 939.2h0M218.1 963.8h0M203.7 975.0h0M204.5 972.9h0M194.7 915.7h0M195.0 917.9h0M221.6 935.5h0M223.7 936.2h0M192.8 961.1h0M195.0 960.9h0M196.9 959.8h0M227.3 899.2h0M229.1 897.9h0M231.0 896.8h0M178.8 919.4h0M184.6 912.3h0M184.4 914.5h0M201.7 975.1h0M214.5 929.5h0M213.8 931.6h0M221.9 970.6h0M219.8 969.9h0M210.3 893.6h0M213.2 898.3h0M215.0 897.0h0M205.9 934.6h0M204.8 932.7h0M198.5 927.2h0M197.9 929.3h0M207.8 951.5h0M205.6 951.4h0M206.5 978.3h0M198.1 920.6h0M198.3 973.7h0M215.9 907.8h0M216.1 910.0h0M216.7 912.1h0M185.3 929.1h0M217.9 905.8h0M217.8 903.6h0M218.9 901.7h0M206.2 913.7h0M238.7 935.8h0M204.1 928.3h0M202.9 930.2h0M200.9 931.1h0M209.4 972.6h0M207.2 972.6h0M193.3 953.5h0M195.2 954.5h0M197.7 951.4h0M199.2 949.8h0M200.8 948.3h0M213.3 880.3h0M211.6 881.7h0M196.2 907.3h0M211.1 981.1h0M213.3 981.2h0M197.2 913.0h0M196.2 915.0h0M194.4 916.2h0M187.6 932.9h0M186.2 931.3h0M201.1 921.1h0M212.7 983.0h0M211.8 985.0h0M213.3 986.6h0M210.4 903.3h0M224.5 931.3h0M237.6 936.7h0M227.3 933.9h0M226.5 931.9h0M225.8 929.8h0M203.8 904.4h0M209.4 914.8h0M209.1 916.9h0M207.5 918.5h0M212.5 916.2h0M213.4 918.2h0M212.2 940.7h0M212.8 942.8h0M197.7 912.1h0M199.8 911.3h0M201.8 910.4h0M195.8 969.5h0M222.2 875.4h0M220.1 874.6h0M218.4 873.3h0M189.5 920.6h0M224.1 928.2h0M224.2 930.4h0M223.1 932.2h0M202.8 914.5h0M200.7 915.3h0M213.4 910.2h0M211.7 908.8h0M204.8 913.3h0M226.3 912.4h0M225.3 910.4h0M226.0 908.4h0M213.7 947.0h0M221.4 931.6h0M219.2 931.8h0M217.0 932.4h0M201.5 947.8h0M200.7 945.7h0M211.3 964.8h0M211.4 962.7h0M218.0 891.1h0M216.7 889.4h0M214.6 888.6h0M204.7 896.6h0M206.1 898.3h0M216.8 928.6h0M219.0 928.3h0M178.8 926.4h0M200.8 966.9h0M199.3 968.5h0M198.8 970.6h0M195.4 909.9h0M193.9 908.2h0M211.5 956.7h0M216.9 948.3h0M215.1 947.1h0M221.5 945.3h0M223.7 945.4h0M196.5 905.7h0M225.0 938.7h0M195.7 925.6h0M211.6 933.7h0M207.9 912.8h0M205.8 913.2h0M212.6 913.2h0M221.3 955.3h0M223.3 956.1h0M215.7 899.2h0M215.1 897.1h0M202.2 927.3h0M200.1 926.7h0M206.0 936.5h0M204.4 935.0h0M202.5 934.0h0M211.5 883.3h0M213.7 883.4h0M189.6 949.4h0M191.0 951.1h0M213.9 987.6h0M215.5 989.2h0M217.7 989.2h0M197.0 916.6h0M197.7 918.7h0M230.8 951.4h0M232.8 950.5h0M202.2 933.5h0M203.6 931.8h0M202.2 930.0h0M204.3 885.0h0M202.1 885.1h0M185.3 915.3h0M204.6 888.7h0M202.8 889.9h0M201.2 891.4h0M214.9 928.3h0M215.7 926.2h0M221.8 964.3h0M222.3 966.5h0M195.0 965.2h0M193.4 963.7h0M216.0 916.8h0M177.1 926.7h0M176.9 928.9h0M227.0 946.1h0M229.0 947.1h0M231.0 948.0h0M178.9 927.2h0M179.1 929.4h0M177.0 921.7h0M218.0 965.9h0M219.2 967.8h0M209.4 970.0h0M208.4 981.1h0M197.1 929.3h0M201.9 943.7h0M188.1 918.1h0M215.9 878.2h0M234.9 929.0h0M182.7 915.9h0M219.2 907.1h0M220.8 905.7h0M196.5 949.6h0M197.6 951.5h0M198.3 972.4h0M200.5 972.4h0M202.2 973.8h0M214.8 894.8h0M212.7 895.4h0M219.0 975.7h0M186.8 912.3h0M215.5 915.1h0M215.6 917.3h0M213.6 918.3h0M214.1 921.7h0M214.7 924.9h0M213.6 923.0h0M213.4 920.8h0M206.4 952.9h0M201.8 962.7h0M203.1 964.5h0M186.8 915.5h0M184.8 914.5h0M184.1 912.4h0M198.2 906.9h0M201.8 959.8h0M199.7 959.3h0M198.7 957.3h0M216.5 892.7h0M216.2 894.9h0M214.7 972.9h0M216.8 972.3h0M219.0 972.1h0M195.5 948.3h0M197.7 947.9h0M219.1 928.4h0M217.5 930.0h0M215.3 930.0h0M198.0 947.9h0M200.0 947.0h0M200.7 944.9h0M227.7 940.8h0M229.9 941.1h0M216.6 976.8h0M218.4 978.0h0M209.0 949.8h0M208.1 951.8h0M196.9 913.1h0M198.9 914.1h0M199.3 916.3h0M223.1 881.9h0M224.9 920.4h0M227.0 919.7h0M230.5 927.7h0M230.2 929.9h0M231.3 931.8h0M219.7 966.4h0M187.5 939.4h0M189.1 937.9h0M231.1 939.8h0M233.1 940.7h0M233.4 942.9h0M220.6 985.4h0M216.3 899.8h0M217.5 897.9h0M214.0 877.6h0M208.9 943.2h0M207.1 944.4h0M224.0 954.1h0M225.4 952.5h0M227.5 951.8h0M200.0 926.0h0M198.0 927.0h0M196.7 928.8h0M213.6 974.7h0M215.3 976.0h0M227.0 924.4h0M224.8 924.6h0M210.3 903.9h0M209.3 905.9h0M208.0 907.7h0M220.2 922.6h0M218.9 924.4h0M218.0 926.4h0M214.3 917.0h0M215.5 915.2h0M210.4 903.0h0M210.1 905.1h0M211.5 906.8h0M230.4 906.3h0M228.7 905.0h0M195.0 923.9h0M194.8 926.1h0M214.3 913.8h0M216.1 912.5h0M217.4 910.7h0M178.8 915.7h0M194.5 941.6h0M194.9 943.8h0M195.8 945.8h0M177.5 918.6h0M198.5 965.0h0M200.6 964.4h0M217.4 976.5h0M216.2 978.4h0M215.7 980.5h0M220.7 897.6h0M221.5 895.6h0M205.5 889.2h0M205.3 887.0h0M233.7 946.4h0M231.8 945.4h0M226.5 886.8h0M224.6 887.9h0M206.5 942.5h0M213.4 908.5h0M225.4 898.8h0M223.9 930.5h0M208.4 948.8h0M224.9 892.2h0M224.2 894.3h0M217.5 987.2h0M189.4 950.9h0M203.5 912.1h0M229.5 918.5h0M227.4 918.0h0M210.3 965.4h0M208.6 964.0h0M206.4 964.0h0M199.9 977.7h0M211.2 926.7h0M213.4 926.8h0M218.0 949.1h0M217.9 946.9h0M218.4 896.5h0M219.9 898.2h0M220.2 900.4h0M197.2 930.1h0M211.2 884.3h0M211.0 886.5h0M211.8 888.6h0M198.3 976.5h0M198.7 930.6h0M200.7 931.4h0M202.0 933.2h0M215.1 896.0h0M213.0 896.6h0M211.0 897.5h0M209.4 917.1h0M207.3 916.5h0M222.6 960.8h0M216.5 934.5h0M196.0 894.4h0M210.6 926.1h0M238.1 930.2h0M237.5 928.0h0M236.2 926.3h0M189.1 920.9h0M207.9 913.3h0M206.2 914.7h0M189.8 942.2h0M203.7 948.6h0M188.4 941.5h0M190.5 942.2h0M192.7 942.3h0M210.4 895.0h0M211.7 893.3h0M213.9 892.8h0M207.9 950.7h0M225.0 893.8h0M196.6 931.8h0M197.2 933.9h0M198.6 935.7h0M223.1 916.5h0M228.2 937.5h0M230.3 938.1h0M202.6 885.7h0M200.4 886.0h0M198.3 886.6h0M215.9 960.6h0M216.9 958.7h0M218.2 956.9h0M191.0 929.4h0M191.6 931.5h0M203.0 950.6h0M203.7 948.5h0M228.8 896.9h0M230.3 895.2h0M222.4 876.1h0M223.5 874.2h0M209.5 907.7h0M193.5 927.3h0M200.8 967.4h0M200.7 899.8h0M201.7 897.8h0M203.2 955.1h0M228.0 931.0h0M228.0 933.2h0M230.1 932.7h0M220.8 983.5h0M219.8 985.5h0M201.7 953.5h0M202.4 955.5h0M207.6 929.0h0M205.6 928.1h0M203.5 928.9h0M191.7 931.0h0M193.8 931.2h0M204.1 968.6h0M204.6 914.0h0M203.2 915.7h0M201.8 917.4h0" fill="none" stroke="#f58070" stroke-width="2.0" stroke-linecap="round"/>
<path d="M174.2 965.9h0M174.4 968.1h0M167.5 970.4h0M165.4 970.9h0M181.8 978.4h0M179.6 978.8h0M177.4 978.5h0M191.2 909.1h0M190.5 911.2h0M176.2 959.1h0M178.0 957.9h0M178.4 955.7h0M168.8 965.4h0M170.8 969.1h0M182.3 960.1h0M183.6 961.8h0M181.9 977.3h0M180.0 978.3h0M194.1 934.3h0M192.5 935.8h0M197.1 995.0h0M178.5 958.8h0M176.5 959.7h0M191.5 986.9h0M190.6 959.5h0M195.6 970.3h0M195.8 968.1h0M195.9 965.9h0M191.3 916.7h0M192.6 918.4h0M194.8 919.0h0M206.2 998.4h0M186.1 945.2h0M182.7 976.5h0M180.9 975.3h0M178.7 975.1h0M211.2 997.9h0M209.1 998.6h0M185.6 988.1h0M200.4 989.9h0M198.3 990.3h0M196.2 990.9h0M182.6 931.3h0M184.7 930.6h0M197.5 999.0h0M191.3 995.0h0M190.3 997.0h0M188.8 998.6h0M189.9 988.0h0M187.9 987.1h0M203.8 985.0h0M206.0 985.3h0M183.0 964.4h0M181.5 966.1h0M199.4 991.9h0M200.8 993.7h0M203.0 993.4h0M183.5 919.9h0M190.2 976.7h0M188.0 977.1h0M190.5 935.8h0M192.2 934.4h0M183.6 961.5h0M183.0 959.4h0M200.9 976.7h0M199.2 978.0h0M197.0 977.7h0M184.5 960.9h0M197.3 976.4h0M195.3 975.5h0M175.1 974.9h0M174.3 972.8h0M191.2 926.2h0M190.4 928.3h0M186.1 935.1h0M184.0 934.6h0M182.1 933.5h0M174.8 931.5h0M172.7 930.8h0M171.0 932.2h0M197.9 962.3h0M199.5 960.8h0M198.9 958.7h0M174.4 953.9h0M177.7 927.7h0M176.9 929.7h0M176.7 931.9h0M176.5 976.6h0M177.3 974.5h0M179.1 973.2h0" fill="none" stroke="#f58070" stroke-width="2.0" stroke-linecap="round"/>
<path d="M193.7 964.8h0M210.4 995.6h0M212.3 996.7h0M187.8 977.1h0M187.4 975.0h0M186.4 973.0h0M184.2 922.3h0M182.0 922.2h0M180.0 921.2h0M188.0 940.4h0M183.5 941.6h0M181.6 942.6h0M179.4 943.0h0M181.7 915.9h0M183.8 915.3h0M170.9 960.4h0M185.7 974.6h0M173.5 962.3h0M171.4 961.8h0M170.5 959.7h0M187.1 915.7h0M193.3 957.0h0M192.9 954.8h0M172.9 960.6h0M174.2 958.8h0M175.4 956.9h0M211.3 1005.3h0M210.3 1003.3h0M183.6 941.8h0M188.9 935.5h0M191.1 935.2h0M192.8 933.8h0M188.3 929.4h0M186.4 930.5h0M186.5 932.7h0M189.3 921.7h0M190.5 923.5h0M175.1 968.2h0M176.9 969.5h0M197.9 986.0h0M201.2 992.2h0M200.2 990.2h0M201.0 988.1h0M200.1 972.9h0M204.6 1002.1h0M203.2 1000.4h0M175.3 950.9h0M186.7 984.2h0M183.0 964.6h0M173.5 971.8h0M197.0 992.4h0M198.4 994.1h0M200.3 995.2h0M205.2 995.2h0M203.1 994.6h0M204.7 992.0h0M189.9 959.1h0M192.0 960.0h0M194.1 960.6h0M189.4 980.3h0" fill="none" stroke="#f5b040" stroke-width="2.0" stroke-linecap="round"/>
<path d="M262.5 936.3h0M264.0 934.7h0M254.2 902.8h0M244.8 885.0h0M243.5 883.2h0M243.7 882.6h0M245.9 883.0h0M247.9 883.8h0M266.7 926.7h0M265.5 928.6h0M264.0 930.2h0M253.9 923.3h0M254.4 921.2h0M236.9 906.3h0M236.5 904.2h0M244.0 909.6h0M242.3 908.1h0M265.5 876.4h0M264.8 874.4h0M264.0 872.3h0M242.6 879.0h0M240.5 879.8h0M232.3 867.1h0M278.7 919.2h0M248.5 877.7h0M250.5 876.8h0M277.1 920.2h0M254.8 890.1h0M256.2 900.6h0M245.7 920.2h0M247.8 919.9h0M250.0 920.2h0M263.3 875.4h0M262.9 873.2h0M262.2 882.4h0M264.4 882.3h0M256.2 923.9h0M270.8 902.0h0M261.7 901.3h0M263.8 902.0h0M272.0 913.6h0M269.8 914.0h0M267.7 913.7h0M241.6 902.7h0M277.7 926.1h0M279.9 926.3h0M268.0 883.0h0M233.3 885.3h0M234.9 886.8h0M263.3 880.6h0M265.0 874.9h0M266.9 876.1h0M268.8 875.1h0M268.8 901.4h0M268.5 903.6h0M266.8 904.9h0M265.6 931.6h0M252.4 887.1h0M258.4 877.2h0M256.8 875.7h0M248.6 938.6h0M250.6 937.7h0M252.8 937.4h0M242.5 906.0h0M259.8 878.6h0M258.0 877.3h0M258.1 875.1h0M281.1 925.5h0M283.3 925.5h0M277.4 909.1h0M275.3 908.4h0M258.0 870.3h0M260.2 870.3h0M261.0 868.2h0M262.7 938.9h0M264.8 938.1h0M256.5 941.0h0M258.3 942.4h0M259.4 944.3h0M243.8 888.7h0M247.3 899.6h0M249.0 898.3h0M251.0 897.3h0M250.1 909.6h0M230.1 872.8h0M280.7 914.1h0M279.8 916.1h0M233.0 881.7h0M234.1 879.8h0M259.7 889.3h0M261.7 888.2h0M272.3 891.7h0M272.9 889.6h0M272.6 887.4h0M268.8 897.8h0M268.3 899.9h0M269.8 901.5h0M266.7 901.8h0M274.0 920.1h0M272.3 918.7h0M271.6 916.6h0M255.4 920.5h0M256.8 922.2h0M242.5 914.0h0M247.7 940.3h0M261.5 899.9h0M263.5 899.0h0M273.9 905.9h0M273.5 903.7h0M272.6 901.7h0M271.5 918.7h0M236.0 868.2h0M268.3 922.2h0M245.8 918.2h0M244.8 916.2h0M246.1 914.4h0M260.2 877.9h0M262.4 877.6h0M243.6 928.4h0M243.8 930.6h0M245.4 932.2h0M276.5 905.6h0M274.5 904.6h0M272.6 903.6h0M231.3 896.7h0M233.3 897.6h0M235.5 898.2h0M253.7 925.5h0M255.3 924.0h0M232.6 872.6h0M234.8 873.2h0M236.8 874.0h0M250.3 926.8h0M259.6 934.6h0M268.2 909.7h0M227.4 876.5h0M235.8 924.1h0M246.6 908.0h0M232.2 870.4h0M246.4 906.4h0M244.6 905.1h0M242.8 903.9h0M270.1 894.9h0M267.9 895.3h0M241.5 877.3h0M240.8 879.4h0M278.7 922.8h0M273.3 916.5h0M274.6 914.7h0M231.5 902.8h0M229.3 902.9h0M229.2 900.7h0M234.6 907.8h0M236.5 909.0h0M282.0 918.5h0M261.1 922.1h0M261.2 924.3h0M259.9 926.2h0M259.2 892.0h0M230.3 884.1h0M231.8 885.7h0M231.9 887.9h0M254.4 877.4h0M259.7 886.4h0M260.3 931.8h0M259.6 922.7h0M273.5 924.0h0M271.4 923.5h0M270.3 925.4h0M256.3 907.9h0M258.3 907.0h0M268.4 886.9h0M264.1 933.4h0M233.6 888.8h0M235.2 890.3h0M269.1 929.5h0M277.4 922.4h0M273.0 903.7h0M270.5 890.5h0M268.3 890.7h0M266.2 890.3h0M253.0 877.4h0M251.1 876.1h0M273.1 913.8h0M273.7 915.9h0M258.9 868.6h0M234.1 925.9h0M232.0 926.6h0M229.8 926.8h0M266.1 911.4h0M267.3 913.3h0M268.1 915.3h0M247.0 880.6h0M247.1 889.2h0M260.0 901.4h0M240.9 870.6h0M243.0 870.1h0M243.7 872.2h0M245.6 909.0h0M245.9 906.9h0M247.3 905.2h0M246.9 886.1h0M245.2 887.5h0M266.9 913.3h0M266.7 915.5h0M267.6 917.5h0M241.8 934.4h0M261.7 916.6h0M259.5 916.7h0M276.2 908.8h0M275.8 911.0h0M274.7 912.9h0M276.9 909.6h0M279.1 910.2h0M280.8 908.9h0M282.0 917.9h0M280.0 918.8h0M277.9 919.3h0M243.5 930.7h0M242.3 928.8h0M260.3 907.4h0M236.1 889.6h0M268.9 899.7h0M236.5 867.0h0M234.6 866.0h0M262.5 878.2h0M242.9 915.5h0M253.1 934.5h0M253.2 932.3h0M251.8 930.5h0M260.8 877.0h0M262.4 878.5h0M264.6 878.1h0M268.5 884.6h0M268.1 886.7h0M251.2 882.0h0M253.2 881.2h0M234.5 886.9h0M243.3 897.7h0M243.6 899.9h0M255.3 879.5h0M255.9 881.7h0M246.8 901.4h0M244.7 900.9h0M243.0 899.4h0M272.1 906.0h0M270.5 907.6h0M268.4 908.1h0M235.4 878.4h0M236.8 880.1h0M236.4 882.3h0M266.4 908.0h0M268.0 906.4h0M270.0 905.6h0M265.4 910.0h0M267.1 908.6h0M268.8 907.2h0M248.5 904.2h0M249.5 906.2h0M251.5 907.0h0M269.4 884.8h0M267.9 886.5h0M267.8 888.7h0M241.6 884.6h0M243.6 885.4h0M247.2 925.8h0M245.2 926.7h0M254.4 889.7h0M240.7 870.1h0M242.9 870.4h0M243.6 872.5h0M274.1 890.8h0M273.0 892.7h0M272.7 894.8h0M255.7 930.9h0M263.6 886.3h0M263.9 888.5h0M263.7 890.7h0M231.0 877.9h0M268.5 900.8h0M233.8 909.0h0M234.3 911.1h0M234.9 913.2h0M269.2 895.6h0M268.3 897.6h0M259.7 894.7h0M260.8 892.8h0M260.1 890.7h0M244.2 905.2h0M234.3 886.4h0M246.0 906.0h0M248.2 905.9h0M245.0 904.8h0M246.4 906.5h0M271.1 916.5h0M271.1 914.3h0M270.2 912.3h0M241.1 924.6h0M239.6 926.2h0M238.1 927.8h0M247.0 896.8h0M249.0 897.7h0M249.7 899.9h0M236.4 910.2h0M234.7 908.7h0M233.1 907.2h0M250.2 930.9h0M261.1 921.9h0M245.2 878.7h0M245.8 880.9h0M245.5 883.1h0M259.4 939.2h0M243.1 897.9h0M266.1 931.1h0M254.5 867.2h0M252.3 867.1h0M250.1 866.8h0M277.1 923.0h0M274.9 922.9h0M246.3 873.8h0M248.0 872.3h0M232.8 889.7h0M234.5 891.1h0M236.5 892.0h0M278.1 920.0h0M279.5 921.7h0M280.6 923.6h0M238.5 907.1h0M239.0 904.9h0M253.5 934.7h0M245.9 923.1h0M242.4 921.1h0M243.0 923.2h0M245.0 924.2h0M252.5 914.9h0M254.3 916.1h0M243.6 875.8h0M241.4 875.5h0M239.8 873.9h0M253.6 904.2h0M259.8 917.4h0M262.0 917.4h0M264.0 916.7h0M278.4 911.7h0M263.6 902.7h0M257.4 922.2h0M259.5 922.8h0M261.7 923.0h0M255.6 898.8h0M262.1 929.9h0M260.0 929.3h0M258.0 930.3h0M254.6 936.0h0M253.5 934.1h0M275.1 916.2h0M277.3 916.4h0M247.1 912.3h0M248.9 911.1h0M264.8 920.3h0M265.0 922.5h0M251.0 936.8h0M250.8 934.6h0M252.6 933.4h0M238.4 880.3h0M252.8 933.3h0M263.7 917.6h0M263.9 919.8h0M264.8 921.8h0M273.7 919.4h0M273.6 921.6h0M273.3 923.7h0M245.6 896.5h0M257.1 877.3h0M247.2 884.9h0M247.3 887.1h0M248.6 888.9h0M261.1 917.0h0M262.2 918.9h0M264.3 919.6h0M235.1 893.6h0M233.2 892.4h0M257.5 887.3h0M256.1 885.6h0M244.4 873.2h0M243.2 875.1h0M239.0 918.3h0M261.8 899.5h0M261.0 901.5h0M258.8 901.9h0M237.7 877.6h0M237.1 894.3h0M249.1 909.0h0M246.9 909.2h0M245.0 910.3h0M251.6 922.0h0M253.5 920.8h0M246.5 883.5h0M231.5 908.8h0M260.3 874.2h0M258.1 874.1h0M249.8 916.8h0M247.7 917.5h0M246.4 919.3h0M247.4 919.5h0M249.5 920.1h0M250.9 921.8h0M245.0 918.8h0M242.8 918.5h0M232.1 894.2h0M268.2 885.2h0M269.8 883.7h0M264.1 901.0h0M257.1 940.6h0M259.2 941.2h0M261.2 940.5h0M264.2 920.1h0M248.3 917.0h0M248.9 919.2h0M239.7 888.3h0M272.1 904.9h0M271.4 902.8h0M271.5 900.6h0M257.5 898.0h0M255.3 897.9h0M253.5 896.7h0M255.1 900.0h0M253.3 898.7h0M251.5 897.4h0M260.4 933.7h0M258.5 934.7h0M263.7 890.4h0M270.3 891.6h0M230.9 881.8h0M229.7 883.6h0M230.4 885.7h0M237.7 883.9h0M238.5 881.9h0M240.1 880.3h0M272.3 927.7h0M264.9 922.9h0M231.7 903.8h0M232.3 901.7h0M254.3 882.4h0M252.5 916.8h0M263.7 935.5h0M261.5 936.0h0M259.8 934.7h0M270.4 902.0h0M268.8 900.5h0M248.6 882.1h0M246.4 882.2h0M244.4 881.5h0M239.0 887.1h0M251.0 879.7h0M239.9 908.0h0M256.5 935.9h0M254.8 934.4h0M252.9 935.5h0M275.1 905.0h0M227.5 880.3h0M229.5 879.3h0M268.7 898.6h0M269.5 900.6h0M240.7 907.5h0M241.5 909.5h0M241.8 911.7h0M280.0 915.2h0M279.6 917.3h0M245.5 889.7h0M247.1 888.1h0M249.2 888.6h0M266.2 890.5h0M264.0 890.4h0M244.2 905.2h0M278.9 911.5h0M239.3 902.8h0M238.8 905.0h0M238.2 907.1h0M245.4 921.0h0M246.8 922.7h0M274.3 919.8h0M274.9 921.9h0M275.8 923.9h0M253.3 897.1h0M252.6 942.2h0M261.7 913.0h0M259.9 911.8h0M273.8 915.1h0M276.0 915.3h0M277.9 914.2h0M236.9 923.4h0M238.1 921.5h0M261.9 933.2h0M261.9 931.0h0M245.3 926.2h0M246.4 924.4h0M247.0 922.3h0M234.2 906.5h0M233.4 908.6h0M233.7 910.7h0M234.0 902.7h0M246.4 938.0h0M238.5 924.3h0M264.7 938.3h0M247.2 939.9h0M248.9 938.5h0M267.4 930.9h0M266.4 932.9h0M274.6 904.5h0M274.3 906.7h0M275.0 908.8h0M254.1 915.0h0M239.0 894.8h0M269.5 892.6h0M251.8 926.0h0M254.4 878.8h0M252.2 878.8h0M241.6 914.2h0M240.8 912.1h0M248.9 942.5h0M247.3 941.1h0M246.4 939.1h0M232.2 870.8h0M252.6 918.5h0M254.7 919.3h0M236.8 870.2h0M238.7 871.3h0M240.8 871.7h0M267.0 887.1h0M268.6 885.5h0M269.8 883.7h0M262.2 937.1h0M263.4 935.2h0M264.7 933.5h0M239.4 933.6h0M273.5 913.3h0M271.6 912.3h0M269.4 912.3h0M245.8 923.3h0M271.9 913.7h0M263.4 892.7h0M273.8 908.7h0M275.9 908.1h0M278.0 907.6h0M253.8 940.7h0M251.6 940.9h0M249.5 940.3h0M264.7 894.0h0M244.3 937.4h0M238.6 916.6h0M240.6 915.9h0M264.8 899.9h0M264.2 902.0h0M263.2 904.0h0M265.5 914.2h0M267.5 913.3h0M236.4 927.3h0M235.1 925.5h0M239.7 884.4h0M239.1 882.2h0M237.9 874.2h0M238.3 872.0h0M259.3 882.0h0M235.7 882.7h0M271.4 926.2h0M273.6 926.5h0M252.2 901.7h0M269.9 901.7h0M252.0 880.8h0M251.4 882.9h0M253.5 894.7h0M252.6 896.7h0M251.7 898.7h0M252.9 910.7h0M253.7 908.7h0M255.7 907.8h0M248.9 918.4h0M250.9 919.2h0M252.8 920.3h0M247.0 930.0h0M248.9 931.2h0M244.2 938.5h0M246.1 937.5h0M232.7 903.2h0M234.7 904.2h0M258.2 910.3h0M272.0 908.1h0M274.0 907.1h0M242.3 883.1h0M241.2 881.3h0M239.1 880.5h0M257.9 939.6h0M260.1 939.8h0M258.4 928.2h0M275.8 897.6h0M239.8 864.2h0M238.5 862.5h0M238.3 860.3h0M270.6 881.2h0M269.9 883.3h0M257.6 884.3h0M260.9 900.9h0M249.7 935.6h0M248.8 933.6h0M248.5 920.9h0M239.7 915.6h0M238.4 913.8h0M236.4 914.7h0M245.5 930.4h0M247.5 929.5h0M244.1 932.0h0M244.5 934.2h0M244.6 936.4h0M245.4 914.0h0M237.2 919.9h0M235.2 919.2h0M248.0 870.5h0M245.8 871.0h0M243.7 871.4h0M238.8 872.0h0M239.1 869.8h0M239.5 867.6h0M225.2 878.5h0M224.6 880.7h0M231.0 886.5h0M271.1 900.4h0M271.6 898.2h0M273.5 897.1h0M253.8 904.5h0M251.6 904.6h0M257.2 941.3h0M231.0 880.5h0M228.8 880.4h0M227.9 882.4h0M272.3 932.4h0M272.7 930.2h0M271.5 928.3h0M248.4 883.0h0M249.3 885.0h0M250.8 886.6h0M238.5 874.8h0M240.7 874.9h0M272.1 929.4h0M271.8 927.2h0M247.2 927.8h0M249.2 928.7h0M251.2 927.9h0M249.7 928.8h0M249.8 930.9h0M249.8 933.1h0M240.3 901.3h0M249.7 929.8h0M247.9 928.6h0M241.3 879.6h0M239.3 878.7h0M251.7 879.9h0M252.5 877.8h0M258.7 880.5h0M256.7 881.5h0M226.1 883.6h0M276.2 924.1h0M274.2 923.2h0M258.6 909.1h0M257.6 911.1h0M263.0 912.5h0M240.1 897.4h0M240.2 895.2h0M239.2 893.3h0M253.0 894.9h0M255.0 894.0h0M272.0 902.9h0M274.0 903.9h0M253.4 942.5h0M267.9 932.1h0M266.3 930.6h0M257.2 900.3h0M235.1 907.7h0M232.9 907.9h0M235.3 910.1h0M237.5 910.0h0M234.1 872.1h0M232.3 870.9h0M232.8 868.7h0M256.9 930.7h0M261.5 918.4h0M260.2 920.2h0M258.2 921.1h0M234.5 899.5h0M232.5 900.2h0M230.7 901.5h0M265.0 913.7h0M263.6 915.4h0M246.8 883.5h0M248.8 882.6h0M256.2 902.8h0M258.3 902.0h0M260.4 902.5h0M251.5 893.0h0M251.0 868.5h0M250.1 866.5h0M249.5 864.4h0M238.1 909.9h0M264.4 930.0h0M262.3 930.5h0M260.1 930.7h0M278.9 917.3h0M276.9 918.3h0M274.7 918.1h0M278.6 911.8h0M276.4 911.9h0M237.8 876.7h0M236.4 875.0h0M264.5 907.7h0M262.3 907.7h0M260.6 906.3h0M264.9 921.0h0M264.3 918.8h0M267.3 911.4h0M277.7 920.1h0M272.7 920.6h0M273.1 918.4h0M274.4 916.7h0M251.7 887.8h0M259.7 925.7h0M259.1 927.8h0M260.4 929.6h0M245.6 872.4h0M243.7 873.5h0M233.9 886.5h0M234.9 884.6h0M236.2 882.8h0M250.7 934.1h0M252.4 932.8h0M253.8 931.1h0M258.8 871.1h0M261.2 913.7h0M260.0 911.8h0M254.2 897.7h0M270.4 898.7h0M263.0 904.0h0M229.5 883.1h0M228.5 881.1h0M228.1 879.0h0M264.6 925.0h0M273.6 896.2h0M273.4 894.0h0M264.0 893.8h0M261.9 893.2h0M259.8 893.9h0M269.5 886.9h0M267.4 886.2h0M265.2 886.6h0M243.3 880.5h0M241.1 880.6h0M239.2 879.5h0M242.1 910.5h0M255.9 875.2h0M256.4 873.1h0M261.5 913.0h0M272.1 919.3h0M270.4 920.7h0M235.9 890.9h0M236.1 893.1h0M247.3 876.6h0M247.4 874.4h0M247.1 872.2h0M256.9 881.2h0M258.0 883.1h0M258.3 885.3h0M253.2 935.1h0M254.1 933.2h0M267.5 926.6h0M245.4 922.4h0M276.0 913.4h0M276.8 915.5h0M256.0 910.8h0M256.7 908.7h0M247.7 875.1h0M249.6 876.0h0M261.0 882.8h0M263.2 882.8h0M265.1 883.8h0M238.8 893.3h0M239.5 891.3h0M239.8 889.1h0M232.6 899.1h0M230.4 899.6h0M228.2 899.7h0M279.7 914.4h0M232.5 892.3h0M254.0 891.4h0M253.1 889.4h0M252.5 887.3h0M250.9 929.8h0M248.8 929.5h0M265.1 939.4h0M262.9 939.6h0M226.3 878.5h0M267.1 927.7h0M235.6 903.9h0M234.5 905.8h0M252.1 891.7h0M254.1 890.9h0M256.3 890.6h0M246.8 869.7h0M231.0 888.2h0M259.3 923.9h0M255.5 883.5h0M250.7 871.8h0M249.2 873.3h0M260.3 909.3h0M258.9 927.5h0M260.3 929.3h0M247.8 882.6h0M258.3 872.2h0M257.4 874.2h0M255.2 873.7h0M223.8 873.6h0M248.5 891.2h0M255.6 870.7h0M253.8 869.6h0M251.9 870.7h0M253.0 930.9h0M248.5 940.9h0M268.5 912.5h0M268.5 910.3h0M270.9 930.8h0M271.3 933.0h0M269.6 934.4h0M244.8 901.2h0M243.2 902.7h0M245.7 875.2h0M269.3 916.1h0M267.5 917.3h0M255.5 942.3h0M256.0 940.1h0M255.7 938.0h0M266.8 880.3h0M244.9 903.0h0M227.5 876.1h0M225.5 877.0h0M231.7 897.5h0M262.7 927.5h0M270.2 902.3h0M240.6 875.6h0M239.1 877.2h0M238.5 879.3h0M252.5 933.9h0M247.2 917.4h0M274.7 928.6h0M272.6 929.1h0M271.0 930.6h0M241.8 900.2h0M282.4 914.5h0M244.9 925.4h0M240.4 867.3h0M265.4 883.8h0M263.4 884.8h0M235.9 887.2h0M236.7 885.2h0M233.3 877.6h0M231.1 877.8h0M253.1 887.0h0M254.4 885.3h0M255.2 883.2h0M270.2 897.6h0M272.2 896.6h0M279.4 925.0h0M262.4 879.6h0M264.5 880.0h0M266.5 881.0h0M256.8 935.0h0M257.6 937.0h0M256.6 939.0h0M240.0 924.5h0M237.8 925.1h0M235.8 924.3h0M247.8 939.4h0M241.2 907.9h0M239.1 908.4h0M272.0 887.0h0M245.8 897.9h0M256.6 903.2h0M280.3 911.2h0M281.1 916.0h0M282.2 917.9h0M283.7 919.5h0M259.5 907.2h0M237.7 922.4h0M236.2 920.8h0M235.4 918.8h0M235.1 893.3h0M234.8 895.5h0M234.3 897.6h0M231.3 883.3h0M229.2 883.0h0M227.5 881.6h0M269.0 889.8h0M252.8 899.4h0M252.4 901.6h0M277.2 930.1h0M276.7 927.9h0M278.4 913.3h0M277.2 915.2h0M276.9 917.4h0M266.9 899.3h0M269.1 899.4h0M281.0 922.2h0M263.7 903.4h0M262.2 901.9h0M254.0 891.4h0M252.0 890.5h0M249.9 889.7h0M275.8 922.5h0M267.4 891.8h0M269.3 893.0h0M271.5 893.2h0M243.5 900.8h0M245.0 902.4h0M246.1 904.3h0M239.1 865.6h0M255.6 918.2h0M255.1 920.3h0M251.7 895.8h0M250.0 894.5h0M259.3 887.7h0M276.2 906.1h0M243.0 891.5h0M244.3 893.3h0M261.6 922.9h0M263.4 924.1h0M243.3 887.2h0M244.6 885.4h0M251.5 864.3h0M233.8 869.8h0M235.5 871.1h0M245.5 924.0h0M279.6 921.4h0M281.8 921.7h0M269.6 889.2h0M270.2 887.0h0M271.7 885.4h0M250.1 887.8h0M251.9 887.6h0M251.4 885.4h0M252.4 883.5h0M274.5 899.1h0M243.4 897.2h0M242.3 899.0h0M270.6 928.4h0M235.9 883.9h0M247.4 880.1h0M245.8 878.6h0M243.8 879.4h0M264.1 872.4h0M264.0 874.6h0M240.6 902.0h0M239.1 903.7h0M278.7 924.1h0M241.7 872.0h0M239.9 873.3h0M238.2 874.6h0M237.2 916.4h0M235.3 890.5h0M234.0 888.8h0M231.8 870.8h0M255.6 905.3h0M253.5 906.0h0M251.3 906.3h0M248.0 890.1h0M235.0 879.0h0M250.4 887.7h0M248.2 887.4h0M267.5 884.2h0M259.1 886.8h0M280.3 914.6h0M281.4 916.5h0M282.0 918.6h0M235.9 869.7h0M237.3 868.0h0M239.1 866.7h0M268.8 912.5h0M246.8 881.6h0M228.0 884.1h0M229.6 885.6h0M275.5 908.7h0M277.6 909.1h0M245.3 907.3h0M247.1 908.6h0M233.0 896.2h0M250.2 912.3h0M234.6 871.1h0M236.4 872.3h0M257.9 886.7h0M257.4 884.6h0M249.5 877.4h0M249.0 875.2h0M238.6 900.6h0M251.5 940.1h0M252.3 938.0h0" fill="none" stroke="#f20d0d" stroke-width="2.0" stroke-linecap="round"/>
<path d="M252.4 915.8h0M241.7 892.1h0M266.4 900.3h0M268.3 901.3h0M269.4 903.3h0M267.3 895.6h0M269.0 894.2h0M257.6 912.1h0M251.1 920.1h0M250.6 922.2h0M248.5 923.0h0M245.5 923.3h0M247.5 924.2h0M249.5 925.2h0M240.6 889.7h0M242.2 891.2h0M244.3 891.8h0M259.2 891.2h0M258.7 893.3h0M245.9 903.8h0M243.8 904.6h0M241.9 903.4h0M255.4 922.7h0M253.3 923.2h0M253.0 897.4h0M254.8 898.7h0M252.3 899.4h0M250.7 897.9h0M249.0 896.6h0M239.8 909.5h0M237.7 910.2h0M236.0 911.6h0M253.3 924.6h0M251.1 924.8h0M249.6 926.4h0M249.5 912.4h0M264.4 888.0h0M262.2 887.4h0M247.8 887.7h0M248.1 885.6h0M259.3 919.1h0M261.4 919.8h0M262.3 921.8h0M254.6 893.2h0M266.4 899.9h0M252.0 914.1h0M253.7 912.8h0M255.7 911.8h0M242.1 907.1h0M244.1 906.2h0M265.5 908.0h0M251.9 921.4h0M253.3 886.0h0M251.2 886.7h0M244.4 908.8h0M245.7 910.5h0M247.5 911.9h0M247.5 913.6h0M249.3 914.9h0M251.1 916.0h0M248.5 911.9h0M259.8 897.3h0M260.6 899.3h0M249.3 900.8h0M240.2 886.2h0M241.7 884.6h0M244.5 886.6h0M245.6 884.6h0M266.4 911.8h0M267.8 913.5h0M269.7 914.7h0M256.8 879.0h0M255.1 880.4h0M261.4 904.7h0M263.0 906.2h0M243.3 898.7h0M245.5 898.6h0M237.3 907.9h0M235.1 908.1h0M254.3 882.8h0M256.4 882.5h0M247.5 893.5h0M244.4 902.2h0M242.8 900.7h0M250.1 871.1h0M251.1 878.9h0M250.9 881.0h0M245.5 891.5h0M244.1 893.2h0M242.0 892.6h0M250.0 892.4h0M248.0 921.3h0M256.0 880.4h0M258.2 880.5h0M260.0 881.7h0M268.7 898.8h0M269.6 900.8h0M269.9 903.0h0M257.6 916.2h0M259.8 916.1h0M237.7 883.9h0M236.5 885.8h0M234.4 886.4h0M252.0 926.4h0M253.1 928.2h0M254.0 930.3h0M250.8 905.8h0M252.8 904.9h0M261.8 895.8h0M264.0 895.4h0M234.1 889.2h0M233.1 887.3h0M243.4 905.8h0M244.3 903.8h0M257.3 892.2h0M241.0 921.1h0M239.2 919.8h0M251.2 898.4h0M262.5 904.5h0M261.8 902.4h0M260.6 900.6h0M261.9 925.4h0M258.8 893.6h0M257.6 895.5h0M254.8 905.6h0M261.8 904.0h0M262.6 913.1h0M262.7 910.9h0M262.6 908.7h0M255.1 914.1h0M240.0 879.3h0M247.5 915.2h0M248.3 917.2h0M252.3 906.9h0M244.6 890.9h0M242.9 892.2h0M253.9 927.4h0M253.6 925.3h0M251.5 924.5h0M246.5 926.0h0M244.4 926.5h0M242.8 925.0h0M250.8 893.8h0M248.9 892.6h0M241.7 887.4h0M240.6 889.3h0M255.7 900.7h0M253.9 899.4h0M251.8 898.8h0M257.0 905.6h0M261.6 908.7h0M263.0 895.1h0M261.8 897.0h0M238.7 892.8h0M238.7 895.0h0M239.3 897.1h0M248.5 898.2h0M250.1 896.8h0M239.8 893.0h0M258.9 905.3h0M252.2 913.2h0M259.9 907.6h0M259.8 905.4h0M245.8 920.3h0M246.9 918.3h0M248.0 916.4h0M266.3 898.1h0M268.4 897.4h0M269.8 895.7h0M253.4 913.6h0M254.0 915.7h0M255.0 917.7h0M249.6 924.8h0M246.4 877.3h0M254.2 914.4h0M254.9 916.4h0M256.5 918.0h0M263.7 885.7h0M265.8 885.0h0M267.9 884.4h0M253.2 902.2h0M251.4 901.0h0M250.1 899.2h0M249.3 909.2h0M250.0 907.1h0M261.0 891.6h0M248.8 905.8h0M246.6 906.0h0M259.2 893.3h0M240.7 903.0h0M239.1 904.5h0M237.0 905.2h0M259.0 907.8h0M259.3 905.6h0M261.3 904.8h0M256.1 915.0h0M251.7 887.8h0M250.7 885.8h0M248.8 884.7h0M264.8 903.9h0M251.2 881.7h0M251.6 879.5h0M252.2 877.4h0M260.4 877.5h0M262.5 878.1h0M264.7 878.4h0M244.9 922.5h0M243.6 920.7h0M243.5 918.5h0M247.0 907.5h0M248.7 908.9h0M250.2 910.5h0M263.1 910.4h0M239.2 883.4h0M261.5 881.0h0M260.8 883.0h0M260.9 885.2h0M252.6 922.9h0M254.5 921.8h0M261.3 888.3h0M262.2 886.3h0M253.1 888.9h0M238.5 891.9h0M236.3 891.9h0M246.7 880.4h0M249.7 902.0h0M250.8 900.1h0M250.9 897.9h0M265.7 902.5h0M266.0 904.7h0M241.0 878.9h0M242.6 880.3h0M244.2 881.8h0M257.6 904.7h0M263.9 916.1h0M265.3 914.4h0M259.2 911.6h0M257.3 910.5h0M255.1 910.5h0M248.6 872.2h0M247.0 873.8h0M244.8 874.0h0M238.0 883.7h0M240.6 885.4h0M242.2 883.8h0M244.3 883.2h0M263.9 897.3h0M265.4 895.7h0M253.6 900.9h0M252.9 898.8h0M253.6 896.7h0M253.0 922.5h0M254.9 921.4h0M256.7 920.1h0M242.8 898.3h0M242.7 900.5h0M243.8 902.5h0M248.8 923.5h0M247.1 924.9h0M249.0 872.5h0M254.1 919.1h0M251.9 919.0h0M244.8 901.6h0M246.5 903.1h0M250.2 879.4h0M252.2 880.2h0M254.4 880.4h0M258.8 914.4h0M259.4 916.6h0M260.3 918.5h0M256.5 918.4h0M256.0 920.5h0M244.6 917.5h0M245.3 915.4h0M246.3 913.5h0M261.5 902.9h0M260.6 900.9h0M264.8 892.1h0M267.0 891.8h0M266.2 901.0h0M264.6 902.5h0M263.7 904.5h0M265.2 899.4h0M242.0 908.9h0M248.2 928.7h0M250.3 929.1h0M246.7 903.1h0M248.6 902.0h0M259.6 926.8h0M253.2 906.2h0M253.7 908.3h0M265.5 890.5h0M265.0 888.3h0M265.5 886.2h0M245.1 903.7h0M245.9 901.6h0M241.6 923.8h0M239.9 925.1h0M250.6 914.7h0M263.7 898.4h0M252.1 887.1h0M250.4 888.4h0M248.2 888.9h0M243.0 901.1h0M254.5 905.1h0M255.7 903.2h0M261.0 903.8h0M243.6 920.3h0M242.5 922.2h0M264.5 885.8h0M245.4 882.7h0M247.3 883.8h0M249.2 918.2h0M251.0 894.7h0M250.1 892.7h0M236.8 887.3h0M234.8 886.5h0M260.2 889.6h0M251.9 883.0h0M249.8 882.3h0M248.0 881.2h0M253.5 895.8h0M255.4 896.9h0M262.6 914.9h0M260.6 913.9h0M260.1 911.7h0M249.0 888.4h0M248.9 890.6h0M248.2 892.7h0M237.2 905.4h0M237.6 903.2h0M238.8 901.4h0M254.1 880.1h0M253.0 882.0h0M253.1 884.2h0M252.2 901.8h0M250.8 873.3h0M243.6 904.7h0M241.4 904.7h0M241.2 908.8h0M248.2 880.0h0M250.4 880.2h0M251.1 878.1h0M261.4 895.6h0M265.9 893.9h0M263.8 893.4h0M243.9 913.1h0M254.8 897.4h0M252.9 898.5h0M251.1 897.2h0M252.0 908.1h0M252.1 905.9h0M253.0 903.8h0M260.9 914.9h0M263.1 915.4h0M265.1 916.1h0M255.4 902.5h0M235.8 887.4h0M259.9 927.2h0M260.1 895.7h0M259.9 897.9h0M260.0 900.1h0M265.7 921.0h0M240.3 917.8h0M242.1 916.5h0M248.9 876.7h0M248.5 895.0h0M249.9 896.7h0M262.1 919.9h0M264.2 919.7h0M255.2 874.8h0M239.2 918.9h0M241.4 919.0h0M252.0 926.5h0M260.4 900.3h0M251.9 873.7h0M248.1 913.5h0M251.6 920.9h0M254.5 928.2h0M255.8 930.0h0M257.9 929.5h0M254.3 899.6h0M255.9 901.0h0M256.4 903.2h0M257.0 905.1h0M257.1 905.1h0M259.3 904.7h0M254.0 927.3h0M254.8 929.4h0M249.7 880.5h0M254.1 891.7h0M255.7 893.3h0M256.3 895.4h0M246.3 877.6h0M248.5 877.8h0M265.2 913.0h0M264.3 911.0h0M263.6 884.9h0M262.7 886.9h0M261.6 888.8h0M254.6 905.5h0M252.4 905.2h0M250.3 904.9h0M246.6 885.2h0M249.2 927.5h0M249.6 929.6h0M250.6 931.6h0M252.5 926.5h0M245.0 891.8h0M259.6 889.6h0M255.8 891.9h0M257.8 891.1h0M259.2 889.4h0M238.1 901.5h0M239.7 903.0h0M240.7 905.0h0M253.0 926.6h0M255.1 926.1h0M243.8 910.2h0M251.8 902.3h0M250.7 900.4h0M248.6 899.5h0M255.4 916.0h0M254.0 917.8h0M252.2 919.1h0M246.4 916.6h0M244.3 917.0h0M256.4 882.3h0M255.1 884.1h0M244.2 887.3h0M246.1 886.2h0M253.0 873.3h0M245.8 926.7h0M243.6 926.8h0M242.3 928.6h0M237.5 882.3h0M237.4 884.5h0M235.6 885.7h0M244.8 894.7h0M246.8 895.5h0M247.3 875.9h0M260.3 885.5h0M246.8 914.4h0M248.3 881.7h0M259.8 885.6h0M260.1 887.8h0M261.9 889.0h0M258.0 917.8h0M260.1 918.4h0M247.9 888.0h0M250.0 887.3h0M254.3 897.8h0M255.5 896.0h0M256.6 894.2h0M240.1 908.7h0M262.7 919.9h0M248.5 887.6h0M246.4 888.1h0M252.4 896.4h0M250.3 897.1h0M248.5 898.3h0M253.3 890.9h0M251.7 889.3h0M255.1 928.0h0M252.9 927.4h0M251.0 926.3h0M234.8 890.5h0M232.7 889.9h0M250.8 908.6h0M258.3 916.7h0M266.9 920.4h0M266.1 922.4h0M253.8 877.2h0M263.1 894.3h0M263.8 896.4h0M264.6 898.4h0M258.2 897.1h0M260.1 922.8h0M259.6 920.7h0M267.6 909.0h0M268.4 906.9h0M240.9 884.7h0M263.8 892.0h0M260.8 916.6h0M258.6 916.7h0M252.5 877.9h0M240.7 889.9h0M256.8 873.5h0M252.5 889.0h0M254.6 888.4h0M256.8 888.8h0M241.8 894.3h0M244.0 894.5h0M245.0 896.4h0M264.8 903.4h0M265.8 901.5h0M267.3 908.3h0M265.2 907.7h0M263.2 908.4h0M235.8 884.0h0M237.6 885.4h0M256.7 881.1h0M244.3 892.6h0M244.1 894.8h0M267.9 914.1h0M257.4 926.2h0M258.6 928.0h0M258.5 930.2h0M257.4 892.7h0M255.2 892.7h0M245.9 884.2h0M267.1 914.6h0M254.7 916.5h0M252.5 916.4h0M259.4 927.8h0M260.9 929.3h0M235.7 889.8h0M266.8 889.1h0M260.2 919.7h0M261.9 918.4h0" fill="none" stroke="#f20d0d" stroke-width="2.0" stroke-linecap="round"/>
<path d="M218.0 993.9h0M218.9 995.9h0M221.1 995.7h0M224.4 996.2h0M223.7 994.2h0M221.9 1000.6h0M219.7 1000.7h0M217.7 999.8h0M226.9 990.0h0M225.0 991.1h0M224.6 993.2h0M229.8 996.9h0M227.7 996.3h0M225.5 996.6h0M226.4 987.9h0M224.8 989.3h0M230.9 1004.6h0M229.6 1006.3h0M230.1 1008.5h0M219.3 990.6h0M221.5 990.6h0M231.8 1006.3h0M229.3 994.1h0M223.9 998.9h0M218.9 990.2h0M221.0 989.4h0M223.2 989.7h0M230.1 995.1h0M231.9 996.4h0M224.4 990.5h0M221.3 995.5h0M220.0 993.8h0M228.3 997.5h0M223.9 985.7h0M222.9 987.7h0M220.8 987.2h0M227.4 989.9h0M225.9 991.5h0M223.8 992.1h0M223.9 985.9h0M229.4 997.9h0M231.0 999.4h0M235.1 1000.7h0M225.3 990.4h0M223.7 988.9h0M225.9 992.7h0M223.8 993.5h0M222.5 995.2h0M227.7 994.8h0M226.6 996.7h0M227.0 998.8h0M226.2 990.8h0M228.3 990.5h0M229.9 999.2h0M227.7 998.8h0M193.5 909.2h0M191.7 924.2h0M192.6 926.1h0M186.0 937.3h0M187.0 934.5h0M159.9 949.5h0M164.5 951.3h0M159.9 985.9h0M214.1 1019.6h0M207.6 1005.6h0M144.0 1021.5h0M201.9 1000.0h0M212.2 999.0h0" fill="none" stroke="#0a0a82" stroke-width="2.2" stroke-linecap="round"/>
<path d="M198.3 1037.9h0M197.8 1040.0h0M199.5 1041.3h0M201.5 1036.4h0M200.9 1038.5h0M201.8 1037.2h0M200.2 1038.8h0M199.6 1040.3h0M198.7 1042.4h0M207.9 1040.0h0M210.0 1040.8h0M212.2 1040.5h0M207.6 1036.1h0M196.5 1046.0h0M198.5 1045.1h0M197.3 1037.9h0M196.7 1040.0h0M210.6 1037.0h0M198.8 1033.6h0M198.2 1035.7h0M196.1 1035.0h0M204.8 1040.7h0M202.7 1041.2h0M200.5 1041.6h0M204.7 1030.8h0M200.5 1041.4h0M197.0 1041.0h0M200.9 1033.4h0M199.0 1034.5h0M196.9 1034.7h0M207.7 1043.2h0M208.7 1041.3h0M209.4 1039.2h0M204.3 1035.3h0M206.5 1035.1h0M208.7 1035.5h0M197.0 1032.1h0M197.5 1030.0h0M205.3 1033.9h0M205.8 1031.7h0M204.9 1029.7h0M195.0 1040.0h0M193.4 1038.5h0M193.9 1036.4h0M207.8 1037.2h0M205.6 1036.9h0M203.9 1035.5h0M200.7 1043.5h0M208.2 1043.2h0M210.3 1042.5h0M196.0 1032.4h0M204.8 1043.4h0M198.0 1036.0h0M200.2 1036.2h0M202.3 1037.0h0M206.4 1039.7h0M206.8 1041.9h0M194.4 1032.3h0M196.3 1031.2h0M198.5 1031.0h0" fill="none" stroke="#5e4c3c" stroke-width="2.2" stroke-linecap="round"/>
<path d="M244.0 956.9h0M245.0 958.3h0" fill="none" stroke="#fbfb3a" stroke-width="2.0" stroke-linecap="round"/>
<path d="M245.9 961.6h0M249.6 972.8h0M253.4 977.5h0M288.9 957.9h0M295.5 994.4h0M277.7 941.0h0M129.9 1021.5h0M159.9 1025.2h0M171.1 989.7h0M180.4 984.1h0" fill="none" stroke="#d9342b" stroke-width="2.0" stroke-linecap="round"/>
<path d="M254.3 985.9h0M259.0 1004.6h0M260.9 1002.8h0" fill="none" stroke="#e8f0a0" stroke-width="2.0" stroke-linecap="round"/>
<path d="M475.2 1022.2h0M476.1 1020.2h0M526.1 977.3h0M524.1 976.5h0M522.3 975.2h0M541.1 1011.5h0M539.7 1009.7h0M538.5 1007.9h0M505.3 1035.9h0M534.5 1058.3h0M532.8 1059.7h0M503.6 1003.6h0M502.1 1005.2h0M499.9 1005.2h0M485.6 1024.1h0M508.4 996.9h0M510.4 996.1h0M512.1 997.6h0M496.6 1031.8h0M497.2 1029.7h0M513.5 972.2h0M514.4 974.1h0M535.7 1024.4h0M536.3 1026.5h0M543.0 989.5h0M523.9 1037.3h0M524.9 1039.2h0M525.2 1041.4h0M480.4 1004.6h0M480.6 1006.8h0M480.9 1009.0h0M521.5 982.4h0M523.6 983.1h0M525.3 984.5h0M492.0 986.6h0M493.2 988.4h0M510.2 1003.0h0M493.6 1039.2h0M491.4 1038.9h0M489.6 1037.7h0M539.2 985.1h0M538.0 983.3h0M513.2 1014.8h0M511.3 1015.8h0M509.3 1016.8h0M506.9 1011.6h0M502.5 981.7h0M504.1 983.2h0M545.2 1057.1h0M543.1 1057.1h0M503.1 1022.3h0M505.0 1021.2h0M506.9 1020.2h0M489.3 1033.8h0M491.1 1032.5h0M489.8 966.9h0M488.3 968.5h0M511.9 1019.3h0M514.1 1019.5h0M516.1 1018.5h0M513.8 1011.2h0M542.7 1008.8h0M476.2 1010.5h0M474.7 1008.9h0M473.1 1007.4h0M520.6 990.9h0M520.1 993.0h0M534.2 1020.1h0M526.7 1041.8h0M525.4 1040.0h0M502.3 1042.6h0M500.7 1044.1h0M525.6 1010.7h0M527.8 1010.1h0M493.5 1057.5h0M493.6 1059.7h0M491.5 1060.5h0M535.7 1015.2h0M540.7 1045.0h0M524.1 1059.0h0M526.0 1060.0h0M493.4 1034.0h0M495.5 1034.2h0M495.1 1036.4h0M519.4 1039.1h0M517.3 1039.8h0M518.3 1007.6h0M516.6 1009.0h0M514.8 1010.3h0M478.3 1010.1h0M476.9 1011.7h0M495.9 1057.4h0M533.1 1022.0h0M496.3 1060.1h0M498.2 1059.0h0M544.1 969.4h0M542.0 968.6h0M539.8 968.3h0M524.9 970.8h0M541.0 1001.2h0M482.0 1037.0h0M483.9 1036.0h0M485.7 1034.6h0M524.8 1038.9h0M524.3 1041.1h0M525.5 1042.9h0M512.3 1017.6h0M510.1 1017.3h0M507.9 1016.9h0M528.8 980.4h0M495.6 972.9h0M493.7 971.9h0M516.0 1022.6h0M514.5 1024.3h0M525.1 1008.7h0M525.0 1010.9h0M536.8 1009.7h0M523.0 1002.9h0M520.9 1002.6h0M518.7 1002.2h0M521.4 999.0h0M483.1 1018.3h0M481.1 1019.0h0M537.7 970.3h0M539.8 970.9h0M520.3 1038.3h0M493.6 1013.0h0M484.1 1015.9h0M484.4 1013.7h0M485.8 1043.3h0M484.3 1044.9h0M483.0 1046.7h0M519.1 1008.3h0M516.9 1008.6h0M514.8 1007.9h0M523.5 1058.6h0M484.4 1044.4h0M501.5 973.5h0M499.7 974.7h0M534.8 996.8h0M536.1 998.6h0M538.2 998.0h0M498.3 1032.3h0M497.4 1034.3h0M497.7 1036.5h0M509.0 972.0h0M490.3 997.6h0M491.7 999.3h0M493.5 1000.5h0M506.2 973.2h0M508.0 974.5h0M508.5 976.7h0M533.0 989.5h0M541.5 1048.4h0M539.4 1049.2h0M537.2 1049.4h0M507.9 980.3h0M507.3 982.4h0M505.7 983.9h0M513.6 1017.6h0M515.6 1016.7h0M531.2 975.8h0M495.0 983.8h0M497.2 983.9h0M497.7 986.0h0M498.7 1060.9h0M497.9 1006.7h0M499.0 1004.7h0M500.8 1003.6h0M539.0 999.7h0M492.5 977.7h0M493.2 979.8h0M516.9 991.0h0M474.6 1029.9h0M487.7 992.3h0M534.0 1063.6h0M534.1 1065.8h0M535.3 1067.7h0M529.1 1041.3h0M526.9 1041.0h0M534.0 1039.6h0M535.5 1038.0h0M536.4 1036.0h0M521.3 1014.9h0M519.1 1015.1h0M516.9 1014.9h0M505.9 977.0h0M511.9 1056.2h0M509.8 1056.6h0M507.9 1055.5h0M499.5 1008.5h0M500.9 1006.8h0M511.0 976.4h0M509.0 975.6h0M499.2 1000.9h0M541.9 1019.8h0M543.8 1018.7h0M526.5 969.3h0M533.7 1005.3h0M538.8 1033.9h0M504.8 1007.8h0M502.9 1021.9h0M545.2 1020.8h0M546.3 1018.9h0M545.6 1016.8h0M523.9 1004.7h0M525.1 1002.8h0M522.7 991.6h0M524.7 992.6h0M518.4 1011.2h0M517.2 1013.0h0M515.9 1014.8h0M494.2 1029.7h0M525.5 1005.9h0M544.6 1051.9h0M544.5 1030.7h0M503.2 985.9h0M497.8 1015.2h0M496.3 1013.6h0M505.7 1004.3h0M492.2 1064.1h0M484.5 994.6h0M521.1 1048.1h0M519.1 1049.0h0M523.0 1029.0h0M524.6 1027.6h0M526.7 1027.0h0M475.4 1022.6h0M530.7 987.3h0M528.5 987.7h0M523.3 1016.4h0M523.4 1014.2h0M517.5 989.6h0M518.9 987.9h0M521.1 987.5h0M529.9 1033.5h0M529.5 1035.7h0M543.7 984.5h0M545.8 985.3h0M496.9 1002.9h0M498.0 1001.0h0M488.4 993.4h0M488.9 991.3h0M489.9 989.3h0M537.1 1026.7h0M535.6 1025.0h0M535.0 1022.9h0M535.3 996.0h0M537.2 997.1h0M536.9 999.3h0M521.7 1030.8h0M520.2 1029.2h0M519.9 1027.0h0M522.8 1042.1h0M523.6 1040.0h0M521.9 1038.6h0M527.5 1047.1h0M529.5 1048.2h0M531.3 1049.4h0M518.7 989.1h0M532.9 1029.6h0M531.3 1028.0h0M535.8 1027.8h0M538.0 1028.0h0M539.7 1026.7h0M521.9 1009.2h0M519.8 1008.5h0M535.2 985.0h0M537.1 986.0h0M548.5 979.5h0M514.4 967.6h0M513.8 995.0h0M514.1 1011.5h0M513.8 1013.7h0M527.8 997.7h0M529.9 998.0h0M531.2 991.6h0M531.3 989.4h0M511.5 968.5h0M509.9 967.0h0M510.4 964.9h0M535.8 1013.0h0M540.5 968.9h0M540.9 966.8h0M539.4 965.1h0M528.9 1022.6h0M475.1 1027.5h0M476.6 1025.8h0M497.4 1025.1h0M495.2 1025.3h0M493.2 1026.3h0M506.1 1047.2h0M505.4 1049.2h0M501.0 970.0h0M500.3 972.1h0M501.3 974.1h0M535.1 1019.7h0M499.1 967.5h0M499.2 969.7h0M487.1 1024.0h0M548.4 1046.2h0M546.2 1046.4h0M489.9 1044.3h0M489.4 1046.4h0M491.0 1047.9h0M519.2 1016.2h0M517.9 1014.4h0M544.6 1010.9h0M546.5 1009.8h0M547.7 1008.0h0M512.0 1018.7h0M473.4 1014.8h0M474.7 1016.6h0M511.2 989.9h0M513.2 991.0h0M514.9 992.3h0M523.3 1035.3h0M521.2 1035.6h0M528.3 1030.8h0M499.8 1037.1h0M525.5 981.9h0M506.7 1011.0h0M537.4 1038.2h0M535.4 1037.2h0M533.7 1035.8h0M524.1 974.3h0M525.0 972.3h0M525.2 970.1h0M518.2 992.2h0M491.4 985.3h0M493.5 984.7h0M491.3 1022.9h0M490.0 1045.4h0M492.2 1045.2h0M494.1 1046.4h0M499.3 1049.4h0M492.5 969.9h0M493.1 967.8h0M498.7 973.5h0M521.1 968.4h0M504.2 1022.5h0M506.4 1022.3h0M508.3 1021.2h0M543.2 1060.6h0M498.3 1046.1h0M497.8 1044.0h0M497.7 1041.8h0M534.2 980.7h0M521.9 1057.8h0M527.5 1026.8h0M529.7 1027.2h0M531.8 1027.9h0M478.1 1008.7h0M476.7 1010.4h0M487.0 1015.5h0M485.5 1017.1h0M483.3 1017.0h0M489.2 981.4h0M490.9 980.1h0M493.1 980.1h0M494.0 1029.5h0M495.3 1027.7h0M535.2 1059.8h0M535.4 1057.6h0M517.2 981.7h0M526.6 1059.2h0M506.5 988.9h0M507.4 990.9h0M508.2 993.0h0M513.3 969.1h0M511.7 970.7h0M509.8 971.7h0M547.9 1051.2h0M547.5 1053.4h0M547.3 1055.6h0M531.2 980.8h0M533.1 979.8h0M539.4 992.5h0M526.7 992.2h0M526.7 990.0h0M524.6 989.6h0M504.7 1003.9h0M533.1 979.7h0M510.8 1052.4h0M543.9 1009.5h0M542.4 1007.9h0M540.9 1006.3h0M547.6 1054.7h0M549.3 1053.2h0M550.9 1051.7h0M504.4 1047.3h0M505.8 1045.6h0M507.7 1046.7h0M508.6 1048.3h0M508.3 1046.1h0M524.4 1005.8h0M522.3 1005.0h0M520.2 1004.4h0M482.4 1041.7h0M519.4 1037.9h0M519.5 1040.1h0M519.8 979.6h0M519.2 977.5h0M517.1 977.0h0M496.1 1002.2h0M498.3 1002.5h0M523.3 1052.1h0M512.1 1051.0h0M545.2 1050.8h0M543.7 1049.2h0M486.1 1059.4h0M485.1 1061.4h0M484.8 1063.6h0M487.3 1010.7h0M485.2 1010.2h0M533.9 1002.6h0M524.6 1051.5h0M524.5 1049.3h0M486.7 1061.8h0M488.2 1060.2h0M546.8 975.8h0M544.9 976.9h0M547.8 979.7h0M546.9 981.6h0M547.2 983.8h0M493.8 986.0h0M495.2 987.7h0M538.0 970.6h0M537.6 972.8h0M539.5 973.9h0M537.3 1003.0h0M479.2 1020.1h0M477.0 1020.4h0M475.7 1018.6h0M499.9 1060.9h0M501.5 1059.4h0M491.7 1010.4h0M514.6 1010.7h0M516.1 1012.4h0M518.2 1012.9h0M537.0 1023.2h0M535.4 1021.6h0M533.2 1021.6h0M546.3 1049.2h0M548.4 1048.7h0M550.6 1048.7h0M512.2 1027.1h0M516.6 1017.9h0M508.0 1004.1h0M510.4 1011.9h0M490.4 1057.4h0M491.6 1055.5h0M506.3 974.9h0M499.4 1028.0h0M493.4 1019.7h0M476.3 1039.5h0M477.6 1041.3h0M526.1 1058.0h0M545.8 1045.6h0M527.8 973.2h0M529.4 971.6h0M531.5 970.9h0M544.2 990.3h0M546.2 991.1h0M512.2 998.8h0M512.3 1001.0h0M509.8 989.2h0M502.9 1026.5h0M503.8 1024.5h0M504.7 975.0h0M503.3 973.3h0M501.1 973.1h0M488.2 994.1h0M498.6 1032.7h0M497.7 1034.7h0M497.9 1036.9h0M539.2 984.5h0M491.6 1038.4h0M548.4 1027.1h0M480.2 1029.3h0M481.1 1027.3h0M482.6 1025.6h0M487.3 1027.3h0M485.3 1028.1h0M490.2 1035.3h0M505.8 1023.5h0M493.6 1017.7h0M502.3 1003.2h0M503.8 1001.7h0M542.6 1022.6h0M542.2 1024.7h0M541.6 1026.8h0M505.6 1032.9h0M503.5 1033.8h0M502.7 1035.8h0M508.7 974.2h0M507.1 972.6h0M513.9 1024.4h0M523.7 1000.0h0M520.6 1057.8h0M518.7 1058.9h0M516.6 1059.7h0M495.6 1041.6h0M520.0 1037.1h0M541.7 999.6h0M539.6 1000.4h0M537.8 1001.6h0M548.5 1023.2h0M550.3 1024.5h0M538.9 1056.4h0M539.8 1058.4h0M536.3 1057.2h0M538.4 1056.5h0M538.8 1054.4h0M529.7 1038.0h0M527.5 1037.9h0M520.2 1009.1h0M542.9 1021.5h0M542.7 1023.7h0M541.5 1025.5h0M542.5 983.0h0M540.3 983.1h0M538.3 984.0h0M479.1 1045.7h0M482.1 1011.3h0M527.1 1034.1h0M529.1 1033.1h0M530.3 1031.3h0M482.6 1046.2h0M537.2 1012.2h0M535.2 1011.2h0M533.0 1010.9h0M520.5 1051.4h0M519.6 1049.4h0M544.5 988.8h0M545.4 990.8h0M545.8 993.0h0M508.3 1026.3h0M509.5 1028.2h0M509.7 1030.4h0M488.9 974.5h0M490.9 973.6h0M493.1 973.9h0M508.6 991.9h0M547.8 1010.0h0M546.6 1008.2h0M545.6 1006.3h0M504.8 980.5h0M541.1 1008.8h0M543.6 1021.4h0M544.0 1023.6h0M543.7 1025.8h0M520.1 1019.8h0M518.0 1019.0h0M535.2 974.3h0M535.9 976.3h0M537.4 978.0h0M511.1 1000.4h0M478.8 1025.9h0M484.7 1040.0h0M485.1 1042.1h0M487.4 999.0h0M485.2 998.6h0M540.1 1050.6h0M541.7 1049.2h0M543.7 1048.2h0M497.7 1058.7h0M537.1 1032.2h0M539.3 1032.1h0M541.4 1031.2h0M537.3 968.3h0M535.2 969.1h0M496.0 1013.3h0M493.8 1013.5h0M489.3 1058.0h0M489.7 1055.8h0M508.3 1047.9h0M491.2 1017.2h0M493.1 1018.3h0M494.8 1019.6h0M501.4 1016.2h0M521.4 1043.2h0M520.7 1045.3h0M503.0 992.8h0M505.1 993.5h0M507.2 994.1h0M499.4 1031.0h0M497.4 1032.0h0M511.3 1011.2h0M495.9 1042.4h0M543.3 1028.0h0M545.4 1028.6h0M547.6 1028.9h0M489.9 985.6h0M488.5 987.3h0M527.8 1023.1h0M529.8 1024.0h0M531.9 1024.7h0M503.5 1057.3h0M501.4 1057.7h0M524.6 985.2h0M526.5 986.4h0M491.3 1035.0h0M493.4 1034.3h0M502.7 1017.4h0M500.7 1016.7h0M539.7 1033.3h0M540.7 1035.3h0M516.8 1050.9h0M518.4 1052.4h0M485.8 1025.8h0M541.1 989.5h0M530.5 1025.4h0M531.8 1023.6h0M532.5 1021.5h0M537.3 1060.4h0M537.1 1062.6h0M536.6 1064.7h0M526.9 1048.9h0M528.5 1047.5h0M530.4 1046.4h0M532.5 1013.7h0M534.6 1014.3h0M534.9 1016.5h0M544.1 1059.5h0M537.4 980.3h0M535.2 980.5h0M524.0 1035.9h0M525.3 1037.7h0M534.7 1061.4h0M536.5 1060.2h0M538.6 1059.4h0M519.8 1010.9h0M520.6 1008.9h0M524.6 1013.0h0M522.4 1013.2h0M520.5 1012.3h0M505.3 988.4h0M506.5 990.3h0M532.5 1015.8h0M534.3 1017.0h0M542.9 981.7h0M525.6 1036.6h0M495.3 1039.7h0M500.4 1003.2h0M545.6 1013.3h0M547.5 1014.3h0M548.1 1012.2h0M476.7 1010.4h0M478.5 1009.0h0M478.5 1006.8h0M495.6 1040.1h0M505.1 1043.8h0M545.1 972.1h0M544.0 974.8h0M544.2 972.7h0M520.0 1028.0h0M503.4 1025.4h0M504.9 1026.9h0M507.0 1026.4h0M530.2 1006.7h0M516.5 1034.8h0M475.9 1043.7h0M473.9 1042.9h0M529.7 984.6h0M531.7 983.7h0M532.2 981.5h0M493.0 1055.2h0M494.8 1056.4h0M497.0 1057.0h0M542.4 1039.3h0M542.2 1041.5h0M539.4 989.7h0M541.5 990.4h0M477.0 1041.0h0M477.4 1043.2h0M479.6 1043.4h0M529.7 1040.5h0M527.8 1041.7h0M526.1 1043.0h0M490.3 1060.1h0M488.2 1059.3h0M481.5 1006.9h0M482.6 1005.0h0M503.3 1022.7h0M502.7 1020.6h0M501.4 1018.9h0M529.5 1007.6h0M531.0 1025.4h0M527.4 983.9h0M525.4 984.7h0M523.2 984.9h0M516.0 985.4h0M514.5 987.1h0M513.9 989.2h0M507.6 1004.8h0M508.9 1003.0h0M532.3 992.5h0M534.1 993.8h0M534.5 996.0h0M510.9 1049.5h0M485.7 1013.4h0M487.4 1014.8h0M488.4 1016.8h0M478.1 1033.2h0M478.8 1035.3h0M479.8 1037.2h0M540.6 1012.8h0M482.5 1057.1h0M481.7 1055.1h0M507.3 1032.6h0M508.6 1030.8h0M509.3 1028.7h0M495.1 1002.6h0M495.1 1004.8h0M493.4 1006.1h0M508.0 986.4h0M534.5 1011.0h0M519.5 1013.9h0M529.7 1039.5h0M527.7 1040.3h0M525.7 1039.5h0M485.0 1045.1h0M478.6 1011.4h0M481.6 1053.0h0M483.1 1054.6h0M519.1 978.1h0M517.2 979.2h0M535.3 1034.6h0M533.1 1034.9h0M541.7 977.5h0M542.5 979.5h0M495.7 986.5h0M495.1 988.6h0M488.0 1035.4h0M489.0 1037.3h0M490.9 1038.6h0M521.7 1045.6h0M483.8 1049.3h0M479.6 1035.2h0M477.4 1034.7h0M475.7 1033.3h0M536.7 1033.5h0M521.8 1014.9h0M522.9 1016.8h0M520.8 1001.4h0M519.8 999.4h0M519.9 997.2h0M538.5 1049.1h0M540.0 1060.2h0M538.7 1058.5h0M496.1 971.5h0M497.4 969.8h0M499.2 968.5h0M543.2 988.8h0M545.4 988.9h0M547.3 987.8h0M489.8 974.6h0M489.7 976.8h0M498.3 1041.5h0M513.4 968.5h0M512.0 970.2h0M511.4 972.3h0M506.9 1002.8h0M506.1 1004.8h0M505.6 1007.0h0M475.4 1025.4h0M476.9 1023.7h0M478.8 1022.7h0M486.3 1050.1h0M479.8 1034.1h0M479.4 1036.3h0M480.0 1038.4h0M507.4 984.9h0M534.8 980.8h0M535.7 982.8h0M534.4 984.6h0M484.7 1048.4h0M482.7 1047.5h0M495.9 992.8h0M496.4 1054.5h0M497.4 1056.5h0M531.7 1019.8h0M530.4 1018.0h0M528.5 1017.0h0M531.3 972.4h0M547.1 1054.5h0M510.3 1038.3h0M509.8 1036.1h0M487.9 1050.3h0M486.5 1051.9h0M486.3 1054.1h0M509.7 989.7h0M517.0 989.1h0M506.8 1053.8h0M504.6 1054.2h0M502.8 1053.1h0M493.0 1046.6h0M492.1 1044.6h0M490.2 1043.5h0M535.5 998.4h0M511.4 989.2h0M509.4 988.3h0M507.3 987.6h0M533.0 1037.2h0M534.7 1035.8h0M535.9 1037.6h0M505.4 1042.9h0M505.1 1045.0h0M527.3 1013.1h0M528.3 1015.1h0M521.2 1035.6h0M532.0 1034.1h0M530.2 1035.3h0M493.9 1009.4h0M492.8 1007.5h0M491.7 1005.6h0M516.6 1001.0h0M517.6 1002.9h0M493.6 978.6h0M495.2 980.1h0M526.9 1023.1h0M528.4 1024.7h0M494.8 979.9h0M503.7 1016.0h0M501.6 1015.3h0M499.5 1015.8h0M479.8 1045.3h0M521.3 998.6h0M522.9 1000.1h0M492.0 975.3h0M491.7 973.1h0M492.7 971.2h0M544.7 1059.5h0M542.6 1060.1h0M524.7 970.3h0M523.4 968.5h0M521.7 967.0h0M494.1 1048.0h0M528.0 1029.2h0M493.1 1031.8h0M494.7 1033.3h0M496.7 1034.2h0M490.8 996.8h0M489.2 995.3h0M488.3 993.3h0M536.1 1064.2h0M492.7 971.3h0M492.5 973.5h0M498.4 1063.0h0M507.4 1034.1h0M508.5 1032.2h0M541.9 1062.2h0M540.9 1060.2h0M519.5 1057.9h0M519.7 1055.7h0M517.1 996.8h0M515.1 996.1h0M496.6 1004.6h0M539.8 999.8h0M537.6 1000.3h0M543.5 970.8h0M541.8 972.2h0M540.2 973.7h0M544.4 976.2h0M543.9 974.0h0M544.8 972.0h0M540.9 976.3h0M545.3 1010.4h0M546.7 1012.1h0M548.6 1013.2h0M485.0 1016.8h0M483.1 1015.6h0M535.6 1053.8h0M535.2 1051.6h0M501.3 1015.0h0M535.7 1023.2h0M536.5 1021.2h0M535.8 1019.1h0M497.9 1044.3h0M522.8 1021.3h0M522.8 1023.5h0M524.4 1025.1h0M504.7 1029.2h0M526.7 1012.4h0M487.1 1038.5h0M487.5 1036.3h0M487.4 1034.1h0M494.0 1036.4h0M496.2 1036.4h0M498.0 1035.2h0M543.6 992.3h0M496.1 1036.2h0M494.1 1037.2h0M484.4 1036.3h0M477.9 1043.1h0M480.0 1043.4h0M539.8 1047.1h0M539.0 1045.1h0M485.5 1022.6h0M539.7 1023.2h0M541.7 1024.0h0M533.5 1011.0h0M531.6 1009.9h0M531.2 1007.7h0M490.0 1063.3h0M488.8 1061.5h0M486.9 1060.4h0M485.9 1020.1h0M487.5 1018.6h0M489.7 1018.4h0M505.4 996.4h0M505.1 998.6h0M505.8 1000.7h0M535.9 1025.3h0M534.9 1023.3h0M516.8 1010.9h0M515.5 1009.2h0M514.2 1007.4h0M532.6 998.3h0M509.0 1052.2h0M506.0 1034.8h0M497.3 986.4h0M516.4 973.3h0M514.4 974.2h0M512.3 973.9h0M513.5 984.1h0M515.4 985.2h0M516.3 987.2h0M510.6 999.1h0M509.0 997.6h0M504.9 1029.3h0M486.6 1022.0h0M488.8 1022.3h0M539.8 1062.9h0M510.2 1036.3h0M513.6 992.7h0M474.0 1018.2h0M474.7 1020.2h0M475.8 1022.1h0M538.7 981.0h0M530.6 1028.0h0M528.9 1029.4h0M509.5 1048.2h0M493.9 1015.6h0M494.2 1017.8h0M494.0 1020.0h0M515.1 1020.5h0M513.0 1021.2h0M492.7 1010.1h0M491.8 1012.1h0M490.1 1013.5h0M492.3 1009.4h0M490.4 1061.1h0M523.5 1047.6h0M522.0 1049.2h0M520.8 1051.1h0M523.1 1040.0h0M524.2 1003.1h0M522.1 1003.6h0M518.8 970.4h0M520.8 969.5h0M506.3 1048.3h0M506.8 1050.4h0M508.7 1042.0h0M527.0 1046.6h0M529.2 1046.5h0M531.3 1047.1h0M535.0 1024.6h0M536.2 1022.8h0M537.9 1021.3h0M530.6 1017.0h0M531.3 1019.1h0M515.4 1053.7h0M516.6 1055.6h0M512.0 1011.7h0M509.1 963.1h0M510.2 1000.9h0M532.9 1011.3h0M532.4 1059.9h0M530.6 1061.3h0M528.5 1060.7h0M528.1 972.8h0M513.7 979.6h0M515.2 981.3h0M502.9 1055.7h0M504.8 1057.0h0M507.0 1057.1h0M483.6 1012.5h0M482.3 1014.3h0M482.0 1016.5h0M491.0 1039.2h0M517.8 1056.5h0M519.3 1058.0h0M521.3 1059.0h0M520.4 975.5h0M520.6 973.4h0M548.1 1020.1h0M546.9 1021.9h0M545.5 1023.6h0M507.7 1052.6h0M506.3 1054.3h0M537.8 967.0h0M488.8 986.0h0M495.5 1008.0h0M496.7 1009.9h0M497.3 1012.0h0M517.6 999.3h0M515.6 1000.2h0M503.6 1031.4h0M501.5 1031.0h0M499.3 1030.6h0M504.3 1030.3h0M538.0 1059.1h0M515.2 972.7h0M515.2 970.5h0M499.5 1043.9h0M499.4 1046.1h0M529.0 999.9h0M527.8 1001.7h0M526.9 1003.7h0M520.0 1043.1h0M518.6 1044.7h0M514.7 1017.4h0M512.7 1018.3h0M510.5 1017.8h0M514.9 1001.2h0M513.8 1003.0h0M519.4 1025.5h0M511.7 1004.4h0M496.3 1022.2h0M521.6 1032.8h0M521.6 1035.0h0M521.1 1037.2h0M528.6 988.2h0M526.5 987.5h0M524.4 988.2h0M480.6 1023.8h0M482.8 1023.9h0M484.7 1025.1h0M522.8 1059.5h0M522.7 1061.7h0M522.9 1063.9h0M497.8 1061.4h0M495.6 1061.3h0M494.2 1062.9h0M526.1 1039.6h0M524.3 1040.9h0M515.6 999.5h0M517.1 1001.0h0M519.3 1001.6h0M523.2 1035.6h0M525.2 1036.3h0M527.1 1035.1h0M539.6 1014.6h0M538.3 1016.4h0M537.8 1018.5h0M486.2 998.5h0M484.0 999.1h0M511.6 1043.1h0M499.8 1034.8h0M499.5 1032.7h0M509.7 976.7h0M509.3 974.6h0M508.7 972.4h0M518.5 977.8h0M522.3 1047.5h0M520.4 1048.6h0M518.3 1049.1h0M500.4 991.8h0M484.9 1050.1h0M486.7 1048.7h0M502.4 981.0h0M500.2 980.7h0M499.4 982.8h0M496.3 964.4h0M494.1 964.4h0M491.9 964.7h0M477.9 1031.0h0M476.9 1029.1h0M517.0 1009.7h0M488.0 989.4h0M487.9 991.6h0M488.8 993.6h0M543.1 972.0h0M541.4 970.6h0M508.6 990.4h0M511.8 1022.9h0M509.7 1022.2h0M507.5 1022.1h0M487.0 1025.6h0M489.1 1026.3h0M491.1 1027.2h0M515.6 997.1h0M516.7 999.0h0M519.8 975.1h0M517.8 974.1h0M521.9 1002.1h0M521.9 999.9h0M523.3 998.2h0M508.7 973.8h0M547.7 980.2h0M545.8 981.3h0M504.1 1009.7h0M499.2 1009.5h0M501.3 1010.3h0M503.3 1011.1h0M480.7 1018.4h0M481.6 1020.4h0M488.5 1027.7h0M490.7 1027.6h0M539.1 1008.6h0M540.7 1010.0h0M542.7 1011.0h0M518.2 981.6h0M516.2 982.7h0M533.6 981.3h0M528.5 1002.8h0M529.8 1004.5h0M531.8 1005.3h0M493.2 965.2h0M491.9 967.0h0M546.7 1016.3h0M547.9 1014.5h0M549.0 1012.5h0M530.7 976.5h0M490.5 1041.3h0M492.7 1041.1h0M494.6 1039.9h0M490.8 1055.1h0M477.8 1039.1h0M476.2 1037.6h0M507.8 994.6h0M536.0 966.3h0M536.5 964.2h0M484.0 1043.8h0M482.2 1045.1h0M492.6 969.3h0M494.8 968.9h0M496.9 968.3h0M517.3 1043.3h0M518.9 1041.9h0M490.9 980.1h0M523.2 1025.8h0M524.3 1023.9h0M525.8 1022.2h0M526.1 968.1h0M524.1 967.3h0M522.0 966.5h0M539.9 1016.1h0M522.6 978.9h0M524.3 977.5h0M526.3 976.6h0M535.8 1063.5h0M534.0 1062.4h0M531.9 1061.6h0M530.5 1031.0h0M502.4 1020.6h0M500.6 1021.8h0M510.2 986.1h0M512.4 985.6h0M486.8 1054.8h0M489.0 1054.9h0M491.1 1054.5h0M535.1 1032.4h0M534.1 1030.5h0M533.6 1028.4h0M479.2 1004.0h0M524.5 1039.4h0M495.6 1042.1h0M495.9 1005.0h0M502.2 1043.4h0M504.1 1042.3h0M505.8 1040.9h0M481.2 1021.0h0M479.3 1019.9h0M494.7 979.0h0M494.1 976.9h0M494.9 974.8h0M506.0 1054.5h0M474.0 1015.1h0M471.9 1014.4h0M528.8 1016.8h0M527.0 1015.6h0M524.8 1015.4h0M484.5 1040.7h0M516.1 983.8h0M518.1 984.7h0M518.6 986.9h0M508.3 1050.1h0M506.4 1049.0h0M504.8 1047.4h0M520.4 1042.2h0M522.1 1040.7h0M529.3 1032.2h0M507.8 1024.7h0M510.0 1024.4h0M498.1 1017.4h0M505.8 1007.5h0M504.2 1005.9h0M502.9 1004.2h0M538.4 979.2h0M538.2 977.0h0M499.0 1007.8h0M496.9 1008.3h0M520.7 1058.4h0M488.2 989.5h0M487.0 991.4h0M533.5 1018.6h0M532.1 1020.3h0M514.6 1002.4h0M516.8 1002.1h0M518.9 1002.9h0M528.5 977.0h0M524.3 1040.8h0M524.8 1042.9h0M495.5 1037.1h0M497.5 1038.0h0M499.0 1039.6h0M546.7 1020.8h0M485.5 1013.1h0M482.0 1023.7h0M492.1 996.2h0M513.7 1045.1h0M526.1 974.3h0M492.7 1000.6h0M493.9 1014.4h0M495.0 1012.5h0M517.2 996.9h0M535.6 1058.1h0M533.6 1057.0h0M522.4 1028.8h0M520.9 1027.2h0M511.4 1000.3h0M513.3 999.2h0M515.4 999.8h0M537.0 1034.9h0M538.1 1036.8h0M494.0 1041.8h0M493.4 1039.7h0M493.8 1037.5h0M542.7 973.1h0M540.6 973.5h0M527.0 1029.2h0M526.7 1027.0h0M525.2 1025.4h0M510.0 1023.8h0M511.5 1022.2h0M513.7 1022.1h0M529.0 974.9h0M530.0 972.9h0M531.7 971.5h0M506.0 969.2h0M543.5 1045.5h0M486.8 1054.5h0M487.6 1056.6h0M489.5 1057.7h0M511.5 996.1h0M509.4 995.3h0M508.2 993.5h0M484.1 1013.2h0M485.6 1014.9h0M508.4 1045.0h0M540.1 969.2h0M539.9 971.4h0M540.0 973.6h0M533.1 997.0h0M530.4 970.3h0M506.5 1035.2h0M507.0 1037.3h0M505.8 993.7h0M503.1 962.4h0M501.2 961.3h0M499.5 959.9h0M540.1 1033.5h0M542.2 1033.0h0M542.4 1030.8h0M510.8 977.6h0M541.0 982.5h0M538.9 982.6h0M530.8 1025.6h0M532.7 1024.4h0M534.8 1023.7h0M534.6 1012.9h0M541.7 1008.3h0M539.6 1008.8h0M537.6 1009.6h0M480.2 1051.8h0M481.1 1053.8h0M517.7 1005.2h0M517.4 1003.0h0M519.6 1002.7h0M541.6 1018.6h0M542.2 1020.7h0M495.4 1010.8h0M537.6 985.4h0M535.4 985.4h0M533.2 985.1h0M525.2 1039.9h0M526.7 1041.5h0M527.8 1043.3h0M539.9 1014.9h0M541.5 1016.5h0M538.9 987.2h0M538.7 985.0h0M538.9 982.8h0M482.7 1057.8h0M480.6 1058.5h0M478.9 1057.1h0M491.6 990.0h0M493.7 990.5h0M517.8 996.5h0M515.7 997.2h0M513.6 997.7h0M520.3 1001.1h0M497.2 993.1h0M496.2 995.1h0M494.8 996.8h0M487.5 993.9h0M485.9 992.4h0M484.3 990.9h0M476.7 1013.0h0M475.1 1014.5h0M498.9 969.4h0M496.7 969.5h0M494.5 969.5h0M488.0 1004.2h0M490.2 1003.7h0M491.8 1002.2h0M474.8 1015.3h0M530.5 1011.7h0M538.3 1012.0h0M540.5 1012.0h0M541.9 1013.6h0M512.5 1016.1h0M492.6 1020.5h0M492.6 1018.3h0M492.2 1016.2h0M547.1 1025.7h0M490.0 984.3h0M515.9 996.3h0M514.2 997.7h0M530.8 986.3h0M526.2 1015.9h0M524.5 1017.2h0M522.3 1017.0h0M517.2 1015.2h0M541.8 1028.0h0M541.1 1025.9h0M539.6 1024.3h0M476.2 1008.6h0M496.9 998.3h0M495.5 996.6h0M494.8 994.5h0M535.3 987.8h0M536.8 986.2h0M501.0 1014.8h0M503.2 1014.3h0M504.0 1016.3h0M488.0 1014.5h0M522.6 981.1h0M520.8 979.8h0M539.4 980.6h0M539.0 978.4h0M538.6 976.3h0M518.6 1041.3h0M477.9 1047.2h0M476.4 1045.6h0M475.1 1043.8h0M523.8 979.3h0M514.3 1022.6h0M513.2 1024.5h0M492.5 995.6h0M493.1 997.7h0M510.4 983.3h0M512.0 981.8h0M514.1 982.4h0M540.2 1010.3h0M538.6 1011.8h0M536.5 1012.4h0M505.6 1042.8h0M507.7 1041.9h0M509.4 1040.5h0M537.6 990.3h0M498.3 1009.2h0M499.6 1007.5h0M500.7 1005.6h0M478.8 1009.8h0M480.7 1010.8h0M482.6 1012.0h0M531.6 1012.6h0M529.6 1011.6h0M527.4 1011.1h0M525.5 985.7h0M523.3 985.2h0M497.9 1057.0h0M495.8 1057.5h0M501.7 1032.5h0M510.2 1048.1h0M509.1 1046.2h0M511.2 1046.8h0M509.7 1048.4h0M508.3 1050.1h0M496.6 1014.0h0M492.0 1016.3h0M489.9 1015.4h0M495.9 1017.5h0M492.8 969.5h0M495.0 968.9h0M497.1 968.2h0M514.1 1003.5h0M536.8 1020.7h0M505.7 1019.9h0M503.5 1019.8h0M495.2 977.0h0M493.4 975.7h0M491.3 975.0h0M538.2 1051.9h0M542.3 1062.9h0M541.3 1064.9h0M530.0 983.4h0M531.5 985.1h0M544.2 1055.2h0M545.2 1057.2h0M546.5 1059.0h0M496.8 1006.6h0M495.3 1005.0h0M519.6 1019.5h0M526.9 1036.9h0M524.7 1037.0h0M529.0 1060.5h0M528.3 1021.7h0M529.1 1019.6h0M493.6 1063.2h0M495.4 1064.5h0M538.1 1020.5h0M498.0 1004.4h0M500.2 1004.0h0M502.4 1004.1h0M509.6 1020.8h0M509.1 1022.9h0M499.4 1047.2h0M499.0 1045.1h0M495.9 1056.4h0M525.9 1022.5h0M506.6 1029.9h0M508.7 1029.4h0M510.9 1028.9h0M529.4 995.0h0M522.4 1023.3h0M523.9 1021.6h0M525.0 1019.8h0M518.8 1029.4h0M531.5 986.3h0M506.5 990.8h0M504.4 990.4h0M480.1 1001.0h0M482.0 1002.1h0M475.0 1021.6h0M540.1 1055.3h0M494.0 1035.8h0M494.0 1033.6h0M520.3 1021.4h0M518.1 1021.1h0M516.8 1019.4h0M482.1 1010.7h0M505.9 1053.0h0M542.8 1024.8h0M541.2 1026.4h0M489.9 981.9h0M491.8 983.0h0M493.8 983.8h0M515.9 1042.7h0M480.2 1054.8h0M535.2 994.6h0M536.4 992.7h0M538.3 991.6h0M520.7 991.1h0M508.6 1039.3h0M508.1 1037.2h0M508.2 1035.0h0M491.7 1058.2h0M489.9 1057.1h0M517.7 1022.0h0M507.9 989.1h0M506.8 991.0h0M508.2 963.3h0M509.3 965.2h0M509.4 967.4h0M478.4 1027.6h0M520.8 1048.1h0M502.5 1048.8h0M504.7 1049.0h0M491.7 1057.4h0M490.4 1059.2h0M490.7 1019.1h0M496.8 973.7h0M496.9 971.5h0M497.6 969.4h0M535.3 998.2h0M536.4 1000.1h0M535.8 1002.2h0M489.8 976.7h0M488.4 974.9h0M486.4 974.1h0M525.4 990.5h0M527.1 989.3h0M520.8 1033.0h0M522.5 1031.7h0M536.2 1038.5h0M535.8 1036.3h0M536.6 1034.3h0M538.8 1031.6h0M539.1 1033.8h0M516.4 1005.0h0M476.9 1019.4h0M536.5 1061.4h0M536.0 1059.3h0M500.5 1012.9h0M495.4 988.5h0M497.5 987.7h0M532.4 971.8h0M534.5 971.2h0M497.9 982.5h0M529.2 1014.2h0M531.1 1013.3h0M506.2 1046.0h0M505.6 1043.9h0M491.4 982.8h0M491.7 980.6h0M492.0 978.5h0M516.4 1011.6h0M506.0 1018.5h0M497.7 975.3h0M499.6 974.2h0M536.6 970.1h0M536.5 967.9h0M534.4 967.3h0M498.8 973.3h0M498.8 975.5h0M496.9 974.4h0M505.4 1058.8h0M519.4 1011.2h0M519.8 1013.4h0M537.6 999.3h0M539.6 998.2h0M540.1 996.1h0M495.6 1052.4h0M497.5 1051.5h0M521.4 1004.9h0M516.2 991.7h0M514.7 993.3h0M514.5 995.5h0M535.7 1023.0h0M534.4 1021.2h0M490.0 990.5h0M488.4 989.0h0M515.3 1003.1h0M515.2 1000.9h0M514.1 999.0h0M498.4 1009.3h0M547.9 1025.9h0M536.4 969.9h0M535.6 972.0h0M533.5 972.7h0M497.6 989.5h0M497.0 991.7h0M516.4 1042.1h0M515.8 1040.0h0M517.2 1038.2h0M495.1 968.9h0M493.9 970.8h0M491.9 971.7h0M508.1 963.6h0M506.1 964.4h0M484.8 1017.7h0M483.4 1016.0h0M483.3 1013.8h0M535.8 1023.0h0M537.5 1024.3h0M491.9 1020.1h0M491.4 1022.2h0M537.1 986.5h0M535.8 988.3h0M534.1 989.7h0M524.9 967.5h0M526.8 968.5h0M498.5 977.7h0M517.7 1047.5h0M515.6 1048.3h0M527.6 1013.7h0M530.9 1018.1h0M532.9 1017.1h0M506.0 993.8h0M508.2 993.7h0M509.7 992.1h0M507.3 1039.1h0M520.8 1042.3h0M520.3 1040.2h0M503.3 1033.9h0M503.8 1031.8h0M495.3 996.0h0M497.2 996.9h0M536.1 1028.2h0M534.2 1029.4h0M533.2 1031.3h0M516.3 1008.1h0M514.6 1006.7h0M514.1 1004.6h0M511.8 965.1h0M489.2 1061.8h0M487.9 1063.6h0M488.3 1065.7h0M477.1 1038.4h0M476.6 1040.6h0M477.5 1042.5h0M544.5 976.2h0M545.1 974.1h0M543.3 972.9h0M538.1 1039.5h0M540.1 1040.5h0M514.6 979.5h0M516.8 979.4h0M518.9 980.1h0M503.2 1030.8h0M508.8 1053.5h0M508.1 1055.6h0M506.0 1054.8h0M513.8 1002.6h0M513.2 1000.5h0M498.8 1049.5h0M540.5 1009.2h0M538.7 1010.5h0M537.8 1012.5h0M521.7 1053.5h0M474.4 1021.6h0M474.5 1023.8h0M474.2 1026.0h0M520.9 1036.2h0M522.6 1034.8h0M524.3 1033.4h0M549.9 1015.5h0M535.4 992.1h0M528.1 1034.3h0M528.2 1032.1h0M526.2 1031.1h0M503.2 1013.1h0M540.3 975.6h0M516.7 1057.2h0M517.9 1059.0h0M527.3 976.6h0M529.4 975.8h0M531.6 976.1h0M476.0 1043.1h0M475.2 1045.2h0M502.0 1049.3h0M518.6 980.1h0M516.5 980.6h0M545.9 1058.3h0M544.0 1059.4h0M542.2 1060.7h0M548.3 1014.9h0M495.2 1039.5h0M482.4 1027.4h0M481.0 1029.1h0M492.1 1042.9h0M521.3 1022.4h0M520.6 1024.5h0M493.8 1036.2h0M533.7 1026.2h0M535.1 1027.9h0M533.9 1029.8h0M517.1 1016.8h0M519.0 1015.6h0M529.4 1030.1h0M528.6 1032.2h0M528.0 1034.3h0M506.1 1029.7h0M522.7 1058.6h0M521.1 1060.1h0M520.6 1062.2h0M516.7 1026.1h0M515.2 1027.7h0M515.3 1029.9h0M509.2 964.1h0M496.7 988.5h0M527.2 967.9h0M527.9 969.9h0M529.0 971.8h0M488.9 978.2h0M492.8 1019.6h0M492.2 1017.4h0M512.9 1013.2h0M488.7 991.4h0M487.8 993.4h0M475.7 1042.2h0M477.6 1041.1h0M478.8 1039.3h0M514.9 1006.4h0M515.6 1008.5h0M515.8 1045.6h0M501.3 1005.2h0M502.5 1003.3h0M512.9 1030.6h0M510.9 1029.7h0M523.8 1000.6h0M522.9 1002.6h0M490.8 1048.3h0M489.1 1049.7h0M530.8 993.6h0M522.2 998.6h0M524.1 997.5h0M536.5 1014.2h0M534.5 1013.3h0M506.7 1051.1h0M538.7 969.8h0M539.6 971.9h0M540.2 974.0h0M530.4 1002.4h0M539.0 1061.9h0M537.1 1063.2h0M535.0 1063.6h0M524.3 997.4h0M522.9 999.1h0M524.1 1000.9h0M498.3 978.0h0M496.3 978.8h0M495.4 980.8h0M496.6 1022.9h0M496.7 1025.1h0M483.3 1027.3h0M518.4 996.3h0M516.9 997.9h0M516.5 1000.1h0M529.0 1028.4h0M531.0 1029.3h0M492.8 1043.6h0M508.6 1023.2h0M497.2 1034.8h0M495.9 1033.1h0M494.5 1031.3h0M512.0 1053.4h0M510.2 1052.3h0M489.9 1047.4h0M542.8 989.5h0M541.3 991.1h0M509.1 1031.2h0M540.4 1050.0h0M538.2 1049.7h0M478.6 1037.8h0M495.3 966.5h0M494.8 968.7h0M494.5 970.9h0M508.3 1040.5h0M507.8 1038.3h0M506.3 1036.7h0M522.4 1023.3h0M524.6 1023.2h0M526.7 1023.6h0M482.0 1011.8h0M483.1 1009.9h0M485.3 1010.0h0M542.0 1027.1h0M543.4 1028.7h0M522.2 1006.0h0M532.3 1012.3h0M530.2 1011.8h0M516.6 986.7h0M517.7 984.8h0M519.4 983.4h0M497.7 1036.4h0M523.3 1019.9h0M525.0 1018.6h0M527.1 1017.9h0M496.8 970.2h0M496.0 972.2h0M494.0 1038.9h0M493.6 1036.8h0M492.2 1035.1h0M505.8 1053.0h0M502.6 1014.9h0M502.8 1017.1h0M504.1 1018.9h0M532.7 980.0h0M490.3 1059.4h0M528.0 1033.4h0M527.3 1031.3h0M538.6 1024.6h0M540.7 1024.2h0M540.8 1000.4h0M479.2 1006.9h0M521.1 1021.9h0M522.4 1020.2h0M523.9 1018.6h0M488.8 965.6h0M488.0 963.6h0M486.7 961.8h0M526.7 967.2h0M526.7 969.4h0M524.6 970.2h0M479.6 1034.0h0M477.6 1033.2h0M475.4 1032.7h0M535.3 977.2h0M500.3 972.6h0M502.5 972.2h0M515.8 1052.7h0M517.0 1050.8h0M494.5 1045.8h0M480.5 1058.6h0M506.5 968.0h0M508.7 968.4h0M526.9 994.1h0M492.4 1023.8h0M491.3 1025.7h0M491.4 1027.9h0M499.6 1008.1h0M501.5 1009.2h0M503.7 1009.2h0M484.1 1003.3h0M484.1 1001.1h0M484.2 998.9h0M510.8 1017.5h0M510.9 1019.7h0M508.9 1020.5h0M510.2 1022.3h0M508.8 1024.0h0M542.0 1052.4h0M539.8 1052.3h0M517.3 974.7h0M514.9 983.0h0M513.0 981.9h0M510.9 982.4h0M539.0 985.2h0M529.3 1002.3h0M527.3 1001.4h0M525.2 1000.8h0M529.9 981.9h0M531.0 980.0h0M533.2 980.1h0M507.8 981.2h0M505.8 981.9h0M508.4 1057.1h0M536.5 981.8h0M538.3 983.0h0M539.1 985.1h0M508.6 1027.5h0M532.8 989.0h0M533.3 986.9h0M477.2 1027.7h0M478.7 1029.4h0M498.2 1022.4h0M496.7 1020.9h0M495.9 1018.8h0M525.4 1015.8h0M524.6 1013.8h0M516.2 1045.1h0M515.4 1047.2h0M485.1 1040.7h0M514.6 1051.3h0M512.7 1050.1h0M516.4 979.3h0M516.4 981.5h0M517.3 983.6h0M490.8 1059.3h0M489.4 1061.0h0M504.3 1029.2h0M506.4 1029.7h0M508.4 1030.7h0M496.9 1012.2h0M494.7 1012.0h0M524.4 1041.9h0M522.2 1041.7h0M527.7 998.8h0M526.5 996.9h0M499.6 989.1h0M500.7 991.0h0M501.8 992.9h0M491.1 984.8h0M490.7 982.6h0M490.3 1003.3h0M489.2 1005.2h0M487.4 1006.5h0M500.4 1053.0h0M499.5 1051.0h0M500.4 1049.0h0M530.3 966.4h0M530.2 964.2h0M511.5 1000.2h0M506.7 1039.8h0M528.5 978.7h0M478.3 1032.5h0M477.0 1034.3h0M520.7 1003.6h0M515.0 964.9h0M512.8 964.4h0M510.7 964.1h0M505.5 983.2h0M506.0 981.0h0M508.1 980.4h0M525.3 972.7h0M495.6 976.2h0M494.1 977.8h0M493.5 979.9h0M517.5 984.1h0M479.6 1024.0h0M481.5 1022.9h0M540.3 1015.9h0M542.2 1014.8h0M504.5 1003.3h0M536.4 1045.6h0M535.1 1047.3h0M500.9 987.2h0M501.1 989.4h0M497.9 1045.1h0M496.6 1043.3h0M495.8 1041.2h0M482.4 1047.0h0M484.3 1048.0h0M517.8 1002.1h0M520.0 1001.7h0M482.6 1012.3h0M481.8 1010.3h0M481.3 1008.1h0M513.8 986.9h0M484.2 995.3h0M483.9 993.1h0M482.0 992.0h0M545.1 1045.2h0M543.7 1043.5h0M542.0 1042.1h0M511.6 985.6h0M510.2 987.3h0M487.3 1033.7h0M485.2 1033.2h0M484.3 1031.1h0M538.3 1053.5h0M539.2 1055.6h0M491.5 987.5h0M490.2 985.7h0M488.1 985.4h0M499.1 1038.8h0M511.5 1020.9h0M509.7 1022.2h0M515.6 995.6h0M517.2 994.1h0M500.1 998.7h0M500.2 996.5h0M502.4 996.0h0M533.6 975.0h0M534.7 976.9h0M535.1 979.0h0M541.9 1014.3h0M542.8 1016.3h0M542.6 1018.5h0M539.2 1023.9h0M519.7 1057.8h0M517.5 1057.6h0M515.9 1056.1h0M492.4 996.9h0M490.7 995.5h0M539.1 970.5h0M482.7 1024.3h0M480.6 1023.5h0M493.0 1019.4h0M509.1 986.6h0M532.1 1060.2h0M532.3 1062.3h0M528.6 983.7h0M512.2 1054.2h0M512.6 1056.3h0M481.7 1037.8h0M483.2 1036.1h0M507.0 1036.9h0M509.0 1036.1h0M511.2 1036.0h0M501.3 1038.2h0M500.5 1040.2h0M513.2 1042.3h0M496.7 991.8h0M494.9 990.7h0M494.6 988.5h0M490.2 975.5h0M492.4 975.4h0M539.4 1025.4h0M527.2 1023.0h0M525.4 1024.3h0M521.0 1046.5h0M519.0 1045.6h0M477.7 1021.1h0M479.6 1020.1h0M523.4 1052.6h0M487.9 989.2h0M486.5 987.5h0M510.9 999.3h0M510.4 997.2h0M509.8 995.1h0M481.1 1009.3h0M478.9 1009.4h0M476.8 1009.1h0M500.5 1026.9h0M502.0 1025.3h0M478.8 1054.8h0M476.7 1013.1h0M476.7 1015.3h0M477.9 1017.2h0M521.4 1045.9h0M521.8 1043.7h0M522.4 1041.6h0M492.1 1059.5h0M494.2 1060.2h0M496.2 1059.2h0M534.1 987.0h0M533.4 989.1h0M535.1 990.4h0M512.6 1027.8h0M513.9 1026.0h0M514.8 1024.0h0M505.2 1019.8h0M503.0 1019.6h0M500.9 1019.0h0M525.4 1036.5h0M496.6 1050.0h0M528.9 1038.5h0M506.0 1050.2h0M505.5 1048.1h0M504.3 1046.2h0M479.1 1018.7h0M481.3 1018.4h0M482.7 1016.8h0M511.5 1052.6h0M523.2 983.4h0M529.4 1004.4h0M530.7 1002.6h0M532.8 1003.1h0M548.3 1046.7h0M481.6 1037.0h0M516.0 993.6h0M516.6 991.5h0M518.3 990.0h0M482.6 1043.9h0M481.5 1045.8h0M545.4 982.5h0M535.7 980.3h0M537.8 980.9h0M539.7 981.9h0M482.6 996.8h0M482.9 994.6h0M531.0 980.4h0M518.0 1004.3h0M523.0 1008.3h0M521.9 997.0h0M522.3 994.8h0M524.2 993.8h0M520.6 1032.6h0M534.5 987.7h0M543.3 970.3h0M541.6 968.8h0M539.8 970.1h0M520.3 1020.8h0M520.5 1023.0h0M521.0 1025.1h0M482.4 1002.3h0M483.1 1000.3h0M537.8 1037.1h0M539.0 1035.3h0M539.8 1033.2h0M502.6 1026.3h0M501.9 1028.4h0M513.6 975.5h0M506.9 1040.7h0M508.2 1042.5h0M519.3 1024.1h0M520.2 1026.1h0M520.6 1028.3h0M493.9 1064.0h0M492.6 1065.9h0M532.3 1001.5h0M492.4 977.2h0M494.4 978.1h0M496.5 978.5h0M496.7 987.2h0M517.2 1034.3h0M519.4 1034.1h0M541.0 1008.4h0M540.8 1006.2h0M509.9 1008.8h0M512.1 1009.4h0M526.4 1022.1h0M524.6 1023.4h0M543.3 985.3h0M531.3 1032.3h0M532.0 1034.3h0M477.1 1044.7h0M475.2 1045.9h0M473.8 1047.6h0M489.3 994.9h0M487.2 994.5h0M485.6 993.0h0M515.1 1004.0h0M505.3 1027.5h0M505.2 1025.3h0M505.3 1023.1h0M475.7 1024.3h0M475.0 1026.4h0M488.8 971.1h0M486.6 971.1h0M484.5 970.4h0M517.7 1006.1h0M516.8 1008.1h0M508.4 1029.5h0M506.3 1029.1h0M506.1 1031.2h0M516.2 1032.0h0M516.6 1034.1h0M526.5 972.5h0M526.9 970.3h0M528.8 969.3h0M529.5 1021.2h0M529.2 1023.3h0M508.4 1020.4h0M506.4 1021.2h0M519.9 1052.8h0M517.8 1052.0h0M484.8 1040.8h0M547.1 1009.9h0M548.3 1008.0h0M508.7 991.5h0M494.4 1034.1h0M493.2 1032.2h0M525.5 1050.7h0M523.3 1050.2h0M521.4 1049.1h0M524.1 1060.0h0M529.8 972.7h0M530.3 974.8h0M500.6 1031.0h0M500.0 1033.1h0M524.5 1013.9h0M522.5 1014.7h0M520.6 1015.8h0M475.8 1021.1h0M503.3 1022.9h0M501.2 1022.3h0M541.6 1034.6h0M543.8 1035.0h0M487.0 1030.8h0M485.2 1032.0h0M497.9 988.8h0M496.1 987.5h0M495.2 985.5h0M477.1 1003.0h0M501.4 1058.2h0M537.2 993.8h0M535.0 994.1h0M533.0 993.2h0M525.4 978.9h0M524.6 976.9h0M510.4 1024.1h0M511.5 1026.0h0M513.7 1026.2h0M543.3 1056.5h0M540.4 1045.6h0M542.6 1045.4h0M544.7 1044.7h0M506.8 1020.7h0M508.5 1022.1h0M543.4 973.3h0M542.1 971.6h0M541.8 969.4h0M523.5 1028.1h0M493.6 1008.0h0M494.9 1006.2h0M492.5 967.3h0M491.6 965.3h0M491.3 963.2h0M484.4 1023.4h0M485.5 1023.5h0M487.6 1023.1h0M488.2 1020.9h0M502.0 1014.8h0M500.8 1016.6h0M505.2 993.1h0M484.0 1016.0h0M532.8 971.9h0M534.9 972.5h0M537.1 972.4h0M511.3 967.4h0M507.8 965.0h0M514.2 1046.5h0M515.4 1044.7h0M513.0 994.6h0M511.1 995.8h0M510.8 997.9h0M528.9 1029.8h0M527.1 1030.9h0M480.9 1024.1h0M536.7 1055.8h0M535.0 1057.2h0M535.0 1059.4h0M501.4 1034.1h0M499.3 1033.3h0M497.1 1033.1h0M504.0 998.7h0M504.5 996.5h0M507.0 984.5h0M508.5 982.9h0M510.7 982.9h0M538.2 977.3h0M537.6 975.1h0M534.3 999.2h0M532.5 997.9h0M530.4 997.1h0M509.3 1016.9h0M534.3 1001.8h0M493.3 1047.0h0M493.7 1049.2h0M543.7 1053.6h0M545.9 1053.3h0M547.7 1054.5h0M486.8 1038.4h0M514.9 1005.8h0M514.1 1007.8h0M504.6 1028.9h0M506.8 1029.2h0M484.1 1006.4h0M483.6 1008.5h0M499.3 1028.3h0M499.8 1030.5h0M499.6 1032.7h0M487.4 993.1h0M485.7 991.8h0M504.8 972.9h0M506.3 974.5h0M527.1 1006.0h0M528.7 1004.4h0M498.4 968.7h0M513.4 1005.1h0M514.6 1006.9h0M516.2 1008.5h0M501.2 991.8h0M543.1 1019.5h0M544.4 1021.3h0M545.9 1022.9h0M537.9 1049.5h0M540.1 1049.5h0M542.4 1045.2h0M544.2 1043.8h0M533.6 1002.4h0M533.8 1004.6h0M535.9 1004.9h0M517.8 1030.2h0M518.4 1028.1h0M520.6 1028.2h0M499.2 1024.9h0M499.3 1022.7h0M499.6 1020.5h0M480.3 1009.8h0M478.6 1008.3h0M477.9 1006.2h0M548.8 976.5h0M546.8 977.5h0M492.6 1002.9h0M493.0 1008.3h0M494.1 1010.2h0M523.1 977.5h0M524.2 975.6h0M509.6 994.8h0M509.9 992.6h0M523.8 1007.7h0M528.9 1034.2h0M530.0 1036.1h0M545.2 1014.3h0M547.3 1013.5h0M518.7 1004.9h0M519.8 1006.8h0M521.7 1007.8h0M515.3 1020.6h0M492.6 998.2h0M491.7 996.2h0M509.5 1011.7h0M498.0 989.7h0M498.7 987.6h0M496.5 987.4h0M545.8 1056.3h0M481.5 1003.4h0M485.1 1034.6h0M480.5 1018.0h0M535.3 1010.5h0M509.5 1007.7h0M507.4 1007.4h0M506.1 1005.6h0M545.5 1024.5h0M546.6 1026.4h0M548.3 1027.8h0M486.5 1060.7h0M486.3 1062.9h0M535.6 1055.2h0M533.8 1053.8h0M498.5 1015.2h0M498.2 1013.0h0M499.8 1011.5h0M488.1 1006.4h0M485.2 1013.4h0M483.1 1013.8h0M481.0 1014.6h0M547.5 1019.9h0M489.2 984.2h0M496.4 1028.1h0M496.1 1030.2h0M541.4 1057.6h0M496.6 991.2h0M496.4 989.0h0M494.4 988.2h0M546.1 1020.7h0M544.5 1019.3h0M542.3 1019.5h0M487.2 1063.8h0M486.6 1061.7h0M536.1 1031.2h0M486.0 1038.2h0M486.6 1040.2h0M486.7 1042.4h0M530.0 970.2h0M531.0 968.2h0M537.7 981.4h0M498.9 1026.9h0M496.7 1026.7h0M494.5 1026.3h0M499.8 1005.4h0M498.1 1006.7h0M496.9 1008.5h0M488.0 1006.1h0M486.3 1004.8h0M484.2 1004.2h0M527.0 1060.4h0M484.5 1032.0h0M484.7 1029.8h0M543.3 1024.8h0M545.2 1025.8h0M477.6 1010.6h0M479.8 1010.6h0M481.3 1009.1h0M525.2 1011.3h0M498.7 986.7h0M499.6 988.8h0M508.1 974.4h0M510.1 973.5h0M512.3 973.0h0M504.9 993.2h0M505.5 995.3h0M498.2 1035.7h0M496.0 1035.4h0M494.3 1034.1h0M476.1 1047.7h0M508.9 987.4h0M509.5 989.5h0M511.7 989.6h0M480.4 1027.5h0M479.5 1025.5h0M535.3 1063.5h0M534.1 1065.4h0M487.0 992.5h0M486.5 994.7h0M528.5 1017.4h0M528.2 1015.3h0M529.6 1013.6h0M530.4 979.7h0M530.4 981.9h0M529.4 1050.8h0M530.1 1052.9h0M531.0 1054.9h0M486.7 1018.4h0M521.0 1044.2h0M519.7 1046.0h0M517.9 1047.2h0M502.4 1021.0h0M501.0 1022.6h0M505.7 1026.1h0M503.5 1025.6h0M478.1 1017.7h0M478.7 1015.6h0M544.6 1052.0h0M497.2 999.9h0M497.8 1002.0h0M495.9 1003.1h0M522.4 1054.0h0M521.3 1055.9h0M519.3 1056.7h0M500.4 972.9h0M498.7 974.4h0M498.0 976.4h0M529.2 1036.9h0M527.5 1038.4h0M525.8 1039.8h0M536.7 1031.8h0M536.3 1034.0h0M536.4 1036.2h0M540.1 1003.7h0M538.9 1001.9h0M539.1 1038.7h0M503.5 1022.1h0M501.8 1020.7h0M499.8 1019.7h0M522.4 1022.5h0M502.4 982.6h0M500.3 983.4h0M498.3 984.1h0M512.8 972.9h0M544.9 1021.9h0M543.3 1020.3h0M527.5 1060.9h0M529.3 1059.5h0M531.1 1058.2h0M497.9 1005.6h0M527.3 1030.6h0M525.7 1029.0h0M525.8 1026.8h0M487.1 1034.6h0M485.0 1033.8h0M482.8 1033.7h0M539.3 1008.7h0M541.4 1008.4h0M543.6 1007.8h0M489.5 1017.7h0M524.4 978.9h0M505.8 1040.9h0M528.9 969.2h0M531.0 968.6h0M533.2 968.2h0M489.3 1000.4h0M488.7 998.3h0M506.7 1005.3h0M521.7 973.0h0M516.5 987.7h0M516.5 985.5h0M508.4 973.8h0M549.2 1013.5h0M547.2 1014.4h0M545.1 1014.8h0M485.9 1053.4h0M488.0 1054.2h0M490.2 1054.3h0M541.4 1007.0h0M543.2 1008.2h0M492.9 1001.0h0M494.2 1002.7h0M534.1 1008.1h0M533.8 1005.9h0M493.6 1014.9h0M494.3 1012.8h0M545.9 1016.6h0M544.2 1017.9h0M536.6 1023.4h0M534.6 1024.2h0M515.1 1003.1h0M517.2 1003.8h0M537.8 982.6h0M484.3 1030.3h0M486.5 1030.1h0M483.3 1035.9h0M482.5 1038.0h0M484.4 1039.1h0M515.1 985.8h0M513.8 983.9h0M535.7 1050.4h0M542.7 1055.9h0M487.5 1046.8h0M537.0 1034.4h0M534.8 1034.2h0M479.4 1022.4h0M481.0 1020.9h0M540.5 1040.1h0M540.9 1042.2h0M541.2 1044.4h0M525.1 1035.5h0M523.0 1034.9h0M510.9 983.1h0M485.8 1042.3h0M513.0 968.4h0M491.9 1024.1h0M491.7 1022.0h0M499.3 1047.1h0M501.3 1048.0h0M525.5 1026.7h0M527.5 1025.9h0M529.7 1026.0h0M513.9 994.3h0M512.1 995.5h0M510.3 996.7h0M492.7 984.0h0M533.7 989.6h0M533.2 987.5h0M522.3 1028.3h0M524.5 1028.6h0M526.7 1028.6h0M523.4 1042.5h0M524.5 1044.4h0M526.0 1046.0h0M494.7 1007.0h0" fill="none" stroke="#fbfb3a" stroke-width="2.0" stroke-linecap="round"/>
<path d="M515.5 941.4h0M517.7 941.6h0M519.9 941.4h0M513.4 942.3h0M511.5 940.8h0M513.5 939.7h0M513.9 937.5h0M509.3 941.4h0M510.4 939.4h0M510.9 937.3h0M515.7 944.8h0M514.9 942.8h0M515.9 940.8h0M512.0 942.1h0M510.0 941.0h0M507.9 941.4h0M515.8 944.5h0M512.6 946.1h0M514.2 943.0h0M511.9 945.0h0M518.0 941.7h0M518.7 939.6h0M519.4 937.5h0M513.5 944.3h0M512.5 946.2h0M512.4 948.4h0M513.4 938.1h0M514.6 942.2h0M511.4 946.3h0M509.2 946.5h0M511.8 939.7h0M514.4 947.9h0M512.4 947.1h0M517.7 940.9h0M518.8 938.9h0M518.8 943.1h0M520.8 943.9h0M513.6 941.1h0M515.4 939.9h0M517.5 939.3h0M517.3 943.6h0M516.3 939.5h0M516.0 945.9h0M515.3 943.8h0M513.2 947.4h0M515.3 947.9h0M516.9 949.4h0M512.8 946.3h0M515.0 946.4h0M515.3 947.8h0M516.7 949.4h0M517.5 951.5h0M511.8 943.5h0M513.9 944.1h0M515.7 942.0h0M514.9 939.9h0M513.9 938.0h0M514.0 935.8h0M515.2 946.2h0M515.1 944.0h0" fill="none" stroke="#fbfb3a" stroke-width="2.0" stroke-linecap="round"/>
<path d="M614.1 998.9h0M648.2 963.1h0M647.7 965.3h0M648.0 967.5h0M617.4 986.0h0M615.4 985.0h0M620.6 974.9h0M622.1 976.6h0M652.0 996.8h0M653.9 997.8h0M656.1 997.8h0M612.3 976.7h0M614.2 977.7h0M616.1 978.7h0M662.0 986.9h0M618.6 994.8h0M617.0 993.2h0M615.3 991.8h0M625.9 1021.1h0M623.7 1020.9h0M658.5 1009.6h0M660.5 1008.8h0M662.7 1009.2h0M614.1 981.5h0M613.5 983.6h0M638.2 1001.1h0M660.5 983.2h0M659.3 985.0h0M659.1 1003.8h0M658.4 1005.9h0M647.4 1040.4h0M612.7 1026.2h0M610.6 1020.4h0M610.7 1020.9h0M631.8 960.5h0M634.0 960.2h0M636.0 959.5h0M666.5 999.1h0M664.6 998.0h0M662.4 997.8h0M643.2 990.2h0M637.7 1003.9h0M638.5 1001.9h0M639.3 999.8h0M640.8 1006.6h0M641.9 1004.7h0M643.2 1002.9h0M617.0 966.8h0M617.5 969.0h0M627.2 1047.0h0M635.9 979.6h0M634.4 978.0h0M632.2 978.4h0M627.5 999.1h0M625.9 997.5h0M624.8 995.7h0M657.0 967.1h0M632.6 982.3h0M633.1 984.4h0M633.0 986.6h0M660.2 964.5h0M660.1 962.3h0M628.2 981.5h0M630.4 981.5h0M623.9 1031.2h0M625.8 1032.3h0M627.6 1033.5h0M658.7 1029.2h0M619.9 989.0h0M654.2 962.3h0M654.2 964.5h0M656.2 965.4h0M625.8 977.3h0M647.9 997.9h0M648.4 1000.0h0M661.8 1015.1h0M661.2 1017.2h0M646.7 1010.1h0M640.2 1001.8h0M642.4 1001.7h0M659.5 989.2h0M659.2 991.4h0M658.2 993.3h0M644.9 1011.3h0M642.8 1011.9h0M622.2 1011.0h0M622.7 1008.8h0M632.7 1007.2h0M630.8 1006.0h0M629.4 1004.3h0M614.1 1003.4h0M614.2 1005.6h0M642.7 1038.6h0M641.4 1036.8h0M623.6 991.8h0M625.3 993.2h0M629.9 998.2h0M628.4 999.8h0M628.3 1002.0h0M611.1 1032.4h0M666.0 984.1h0M668.2 983.8h0M670.4 983.4h0M617.8 1004.2h0M616.6 1002.3h0M612.4 989.7h0M651.5 1033.5h0M653.4 1034.7h0M655.6 1034.8h0M644.3 1038.4h0M642.3 1039.5h0M640.3 1040.4h0M624.8 1039.8h0M626.4 1041.3h0M628.0 1042.8h0M654.5 1003.1h0M656.5 1004.0h0M658.7 1004.2h0M622.9 1042.7h0M639.2 995.2h0M638.5 997.2h0M642.6 1039.3h0M652.4 1005.9h0M658.4 990.8h0M656.8 989.3h0M655.4 987.6h0M641.3 958.8h0M643.3 959.8h0M645.1 961.0h0M664.8 968.5h0M664.3 966.3h0M662.1 966.0h0M638.9 960.9h0M640.5 959.4h0M639.5 1004.3h0M641.5 1005.1h0M643.4 1006.3h0M661.8 990.0h0M652.1 1030.8h0M651.9 1028.6h0M653.7 1027.4h0M662.9 959.6h0M628.2 1025.8h0M627.3 1023.8h0M628.2 1021.8h0M651.6 985.4h0M653.7 984.9h0M638.5 1005.8h0M637.8 1003.7h0M613.3 1031.5h0M614.1 1029.4h0M615.9 1028.2h0M663.2 1023.8h0M664.0 1021.8h0M663.1 1019.7h0M644.0 1009.4h0M642.2 1010.8h0M640.9 1012.5h0M640.3 971.5h0M656.8 980.4h0M655.5 978.7h0M655.2 967.7h0M655.2 969.9h0M621.7 1010.9h0M622.3 1013.0h0M623.7 1014.7h0M667.9 979.5h0M670.1 979.9h0M670.3 982.1h0M628.8 987.0h0M628.0 984.9h0M626.6 983.2h0M621.2 1037.0h0M636.4 1019.0h0M635.1 1020.8h0M634.2 999.6h0M634.1 997.4h0M660.9 1013.2h0M657.2 1022.8h0M658.5 1024.6h0M630.6 1043.3h0M632.8 1043.5h0M633.8 1045.4h0M665.6 1014.7h0M667.6 1013.8h0M668.9 1012.0h0M648.4 1039.8h0M650.2 1041.1h0M660.4 971.4h0M659.2 973.3h0M659.9 975.4h0M636.1 1023.6h0M634.4 1024.9h0M613.7 1009.9h0M615.6 1010.9h0M622.5 971.2h0M621.8 973.3h0M623.7 1012.1h0M622.0 1013.6h0M620.1 1014.5h0M652.0 1006.6h0M650.2 1007.9h0M648.0 1007.6h0M617.8 978.2h0M619.6 979.5h0M659.1 1031.0h0M660.5 1029.3h0M663.6 1004.7h0M665.2 1006.2h0M667.1 1007.3h0M620.2 1027.7h0M618.8 992.1h0M618.1 994.2h0M616.7 995.9h0M613.8 1004.6h0M613.9 1002.4h0M613.4 1000.2h0M616.8 980.1h0M637.2 996.3h0M637.0 994.1h0M619.8 1008.2h0M621.5 1009.6h0M623.2 1011.0h0M623.9 1034.4h0M624.7 1036.5h0M622.7 1037.6h0M637.2 960.9h0M637.6 958.7h0M639.2 957.1h0M660.6 1017.9h0M658.5 1018.8h0M611.9 1013.2h0M613.8 1012.1h0M660.9 1003.4h0M662.5 1004.8h0M664.6 1005.6h0M625.8 981.9h0M616.1 992.2h0M614.6 990.6h0M613.1 989.0h0M619.4 988.6h0M619.3 990.8h0M648.4 967.1h0M650.6 967.2h0M645.7 1018.3h0M643.9 1019.6h0M642.4 1021.2h0M645.5 1039.1h0M656.1 975.6h0M643.9 979.3h0M642.6 981.0h0M646.0 1034.0h0M643.8 1033.9h0M654.4 1032.9h0M652.6 1034.1h0M650.6 1035.0h0M646.8 1029.0h0M648.9 1028.2h0M651.0 1028.0h0M655.6 958.5h0M653.5 957.7h0M628.5 1027.5h0M630.7 1027.0h0M634.0 1021.1h0M633.9 1018.9h0M638.5 994.3h0M633.9 983.5h0M631.7 983.0h0M629.9 981.9h0M622.8 998.3h0M622.6 996.2h0M655.2 975.3h0M665.2 988.0h0M620.5 1021.8h0M642.5 1018.9h0M617.4 976.7h0M619.1 978.2h0M620.3 980.0h0M641.3 1032.1h0M640.3 1034.0h0M655.2 968.4h0M657.2 967.5h0M658.9 968.9h0M634.9 1046.9h0M634.2 1044.8h0M635.1 1042.8h0M623.0 1042.2h0M624.9 1041.1h0M667.8 986.4h0M665.7 986.1h0M651.0 992.2h0M650.6 990.1h0M650.1 987.9h0M622.1 993.2h0M631.5 971.5h0M632.8 973.3h0M620.2 1004.2h0M622.3 1003.7h0M623.5 1001.8h0M622.3 1026.9h0M620.5 1028.2h0M613.2 1015.4h0M627.1 1037.8h0M663.2 1015.2h0M662.8 1013.0h0M640.1 1004.0h0M638.2 1045.5h0M614.5 1005.7h0M615.5 1007.7h0M640.4 977.6h0M642.5 976.8h0M642.7 974.7h0M611.8 1018.1h0M612.7 1016.1h0M612.5 1013.9h0M646.9 1004.3h0M623.7 1003.3h0M625.9 1003.3h0M628.1 1003.2h0M611.2 1015.0h0M653.5 1016.2h0M650.7 1000.9h0M649.0 999.4h0M640.6 977.0h0M640.7 977.2h0M639.1 975.7h0M662.3 969.3h0M661.0 971.1h0M648.7 967.4h0M647.9 974.6h0M649.9 975.3h0M633.4 974.0h0M627.9 1025.0h0M626.3 1026.5h0M625.0 1028.3h0M627.3 984.0h0M629.4 984.5h0M632.4 958.7h0M632.8 960.9h0M634.4 962.4h0M647.7 1041.3h0M636.8 979.0h0M638.3 980.6h0M651.8 1006.0h0M652.6 1004.0h0M656.8 968.7h0M654.6 969.0h0M615.3 981.0h0M617.4 981.5h0M665.0 1003.8h0M664.2 1001.8h0M625.5 983.5h0M640.2 1019.4h0M638.3 1020.5h0M643.8 957.6h0M664.2 1003.4h0M666.0 1002.2h0M666.8 1000.1h0M611.8 1020.0h0M628.7 981.8h0M630.9 982.1h0M632.9 981.4h0M663.0 989.8h0M645.2 1014.5h0M646.2 1012.5h0M646.2 1010.3h0M639.6 1016.1h0M623.2 988.8h0M625.2 987.9h0M667.2 1011.3h0M665.0 1011.1h0M663.1 1009.9h0M619.2 971.9h0M617.1 972.5h0M658.1 968.0h0M659.4 966.2h0M660.4 964.3h0M653.4 978.6h0M637.1 982.2h0M636.3 984.3h0M619.9 1030.7h0M643.1 1016.6h0M631.1 1033.5h0M632.7 1031.9h0M633.9 1030.1h0M633.2 988.8h0M619.8 1004.5h0M621.1 1002.7h0M623.8 1002.2h0M625.2 1003.9h0M625.3 963.1h0M617.9 1034.3h0M615.8 1034.0h0M638.8 1015.8h0M638.4 1017.9h0M666.4 1000.6h0M634.0 1006.6h0M664.6 969.7h0M666.0 968.1h0M629.7 976.5h0M648.5 1008.4h0M650.7 1008.8h0M652.7 1008.1h0M654.6 977.1h0M656.4 978.5h0M635.7 962.6h0M637.6 963.7h0M639.3 962.3h0M621.1 996.4h0M620.7 998.6h0M621.3 1000.7h0M658.3 970.1h0M657.2 968.2h0M655.7 966.6h0M626.8 1039.5h0M628.6 1040.7h0M629.9 1042.6h0M625.6 964.8h0M625.1 966.9h0M625.5 969.1h0M620.8 986.3h0M663.9 964.0h0M643.2 1031.3h0M619.1 975.9h0M620.1 977.8h0M621.7 979.3h0M610.9 1015.3h0M608.8 1014.8h0M655.2 964.8h0M654.0 963.0h0M652.9 961.1h0M631.4 1032.5h0M664.8 999.2h0M663.5 1001.0h0M643.2 998.7h0M636.9 1013.7h0M635.0 1012.6h0M632.9 986.9h0M635.0 986.4h0M637.1 987.1h0M624.7 995.8h0M629.5 1002.9h0M628.3 1004.7h0M628.9 1006.9h0M666.7 985.7h0M668.9 986.2h0M671.1 986.2h0M666.6 983.1h0M665.7 981.1h0M661.2 1022.1h0M663.4 1021.6h0M664.3 1023.6h0M612.8 998.6h0M614.9 998.9h0M647.5 963.1h0M630.5 1011.2h0M639.4 1016.5h0M638.5 1018.5h0M637.0 1020.0h0M662.3 1021.5h0M637.9 1020.0h0M663.1 1006.4h0M663.4 1008.5h0M662.1 1010.3h0M614.5 1016.9h0M613.6 1018.9h0M611.5 1019.7h0M629.9 980.1h0M630.3 1030.7h0M629.1 1028.9h0M632.3 975.5h0M632.1 973.3h0M631.9 971.1h0M650.7 990.7h0M648.5 990.2h0M646.3 990.1h0M619.7 991.2h0M632.2 1002.2h0M667.9 995.8h0M666.1 997.1h0M661.6 973.4h0M660.6 975.4h0M669.0 1003.7h0M670.9 1002.7h0M672.4 1001.1h0M625.1 973.7h0M626.0 971.7h0M647.9 966.0h0M648.0 968.2h0M647.0 970.2h0M650.1 974.3h0M650.7 976.4h0M651.9 978.3h0M628.3 983.1h0M628.1 985.3h0M640.8 978.4h0M617.7 1038.2h0M619.2 1039.8h0M637.2 1037.1h0M630.1 983.1h0M628.0 983.7h0M628.5 985.8h0M618.4 964.9h0M639.7 1003.6h0M651.1 1030.7h0M620.8 1037.6h0M653.0 1036.6h0M654.8 1037.8h0M656.0 1039.7h0M644.2 1023.1h0M644.2 1020.9h0M643.4 1018.8h0M650.6 964.1h0M650.4 961.9h0M650.2 959.7h0M660.4 1010.5h0M661.5 1012.4h0M659.1 963.7h0M655.0 996.8h0M656.8 998.0h0M658.2 999.7h0M639.0 1039.8h0M636.8 1039.7h0M635.0 1038.5h0M665.2 1013.2h0M665.1 1015.4h0M627.5 1027.0h0M625.5 1026.2h0M624.3 1028.1h0M634.1 1027.2h0M648.1 1009.5h0M658.6 990.9h0M658.7 993.1h0M659.6 995.1h0M635.7 969.0h0M637.8 969.5h0M611.6 1024.2h0M612.3 1026.3h0M610.4 1027.2h0M643.0 970.5h0M644.7 969.0h0M646.8 968.5h0M611.6 1021.9h0M614.7 993.7h0M613.6 995.6h0M620.2 1040.0h0M620.5 1037.8h0M614.7 1003.9h0M613.1 1002.4h0M645.1 971.5h0M644.3 969.4h0M643.3 967.5h0M617.4 1009.3h0M644.6 978.2h0M646.7 977.7h0M660.4 967.6h0M630.5 1021.1h0M631.6 1023.0h0M631.1 1025.1h0M644.7 1042.3h0M657.2 1028.2h0M657.6 1030.4h0M658.2 1032.5h0M639.9 1020.0h0M637.8 1019.6h0M640.3 1032.4h0M624.1 976.7h0M621.9 976.7h0M619.7 977.1h0M631.3 973.8h0M629.2 973.2h0M648.5 987.1h0M647.4 985.2h0M646.6 983.1h0M610.4 1013.8h0M665.6 972.0h0M666.0 1007.2h0M650.4 1017.2h0M649.6 1019.3h0M656.8 971.9h0M658.1 973.7h0M659.2 975.6h0M618.6 990.4h0M619.3 992.5h0M615.2 1031.8h0M617.0 1033.1h0M636.8 984.5h0M636.8 986.7h0M635.9 988.8h0M652.2 980.4h0M646.5 973.8h0M644.8 972.5h0M613.9 988.3h0M655.8 1028.5h0M656.9 1030.4h0M634.3 981.5h0M650.1 968.5h0M648.1 967.5h0M646.0 968.1h0M631.9 1002.8h0M632.9 965.9h0M632.0 967.9h0M632.4 970.1h0M638.5 984.1h0M666.5 981.1h0M636.6 1030.7h0M635.1 1032.3h0M635.5 1034.4h0M644.0 1023.2h0M643.9 1021.0h0M612.9 1022.5h0M612.0 1020.5h0M612.6 1018.4h0M611.5 1010.8h0M609.3 1010.5h0M613.0 1014.8h0M614.7 1004.9h0M613.7 1016.5h0M611.6 1016.9h0M610.1 1018.5h0M618.9 969.5h0M616.7 969.3h0M615.5 967.5h0M664.0 983.7h0M665.4 985.4h0M664.9 987.5h0M634.1 994.9h0M633.5 997.1h0M633.5 999.3h0M658.9 959.8h0M661.0 960.6h0M663.0 959.7h0M666.6 1005.1h0M639.9 1014.5h0M650.9 959.1h0M650.9 956.9h0M650.8 954.7h0M654.9 989.8h0M655.7 987.8h0M613.1 1016.4h0M624.5 1029.2h0M622.8 1027.8h0M660.3 1008.0h0M665.0 963.2h0M665.2 965.4h0M664.9 967.6h0M622.9 972.1h0M639.4 958.8h0M637.2 959.1h0M635.2 1024.2h0M623.5 1041.7h0M621.3 1041.5h0M629.9 1025.1h0M630.2 1022.9h0M643.5 1043.4h0M642.2 1041.6h0M640.3 1040.5h0M663.6 1024.0h0M657.9 976.0h0M659.9 976.9h0M661.4 978.5h0M655.0 992.4h0M654.1 990.4h0M653.3 988.4h0M636.9 994.3h0M627.0 1045.4h0M626.3 1043.4h0M627.7 1041.7h0M636.6 1011.7h0M638.8 1011.8h0M640.5 1026.4h0M638.3 1026.4h0M636.3 1025.5h0M664.6 990.4h0M663.6 992.3h0M661.7 993.4h0M656.0 963.3h0M654.2 964.6h0M652.1 963.8h0M645.2 971.6h0M643.0 971.5h0M642.1 992.3h0M637.1 992.5h0M639.3 992.6h0M645.8 1016.4h0M645.6 1014.2h0M646.0 1012.0h0M664.7 980.0h0M665.8 978.1h0M627.4 971.5h0M644.4 961.6h0M642.5 962.7h0M640.3 962.9h0M639.4 1034.5h0M640.1 1036.6h0M640.5 1038.7h0M655.2 962.0h0M641.9 1041.4h0M652.5 999.7h0M651.4 1001.6h0M650.7 1003.7h0M657.8 1038.3h0M658.1 1036.1h0M656.8 1034.4h0M662.1 994.3h0M615.9 992.1h0M614.9 994.1h0M649.8 985.9h0M647.7 985.3h0M638.4 1003.7h0M639.2 1001.7h0M630.2 1033.0h0M622.1 992.3h0M611.9 996.2h0M644.3 1010.7h0M645.2 1008.6h0M647.0 1007.4h0M633.0 1018.0h0M635.0 1017.3h0M616.0 1036.0h0M613.9 1035.8h0M641.0 1007.6h0M643.2 1007.6h0M645.3 1008.1h0M613.9 989.0h0M612.7 987.1h0M642.4 981.7h0M644.5 982.3h0M646.0 984.0h0M640.3 1036.5h0M637.7 1024.2h0M663.7 1025.8h0M661.8 1026.9h0M660.8 1028.8h0M642.2 1033.5h0M644.4 1033.8h0M646.6 1033.9h0M651.4 999.5h0M651.8 997.4h0M638.0 963.9h0M663.6 966.9h0M662.4 965.1h0M660.7 1002.8h0M629.6 1002.6h0M621.8 1037.3h0M621.5 1035.1h0M664.2 981.5h0M665.3 983.5h0M663.8 985.0h0M633.1 1019.9h0M635.3 1020.0h0M638.7 1033.1h0M654.3 1002.0h0M653.4 1004.0h0M651.9 1005.6h0M644.4 1027.8h0M628.9 991.9h0M635.9 980.1h0M614.3 994.2h0M613.1 996.8h0M611.5 995.2h0M609.3 995.1h0M619.6 978.7h0M651.8 999.9h0M653.0 1001.7h0M654.5 1003.3h0M623.3 987.2h0M622.5 989.2h0M620.3 989.4h0M624.4 969.4h0M622.9 971.0h0M621.0 972.0h0M645.7 972.6h0M659.7 966.3h0M661.7 967.1h0M663.8 967.8h0M631.7 979.2h0M632.5 977.1h0M657.8 971.8h0M656.3 973.5h0M654.8 975.1h0M638.1 1002.2h0M637.7 1004.3h0M637.5 971.1h0M637.8 969.0h0M639.5 967.5h0M613.8 1008.9h0M618.3 1008.3h0M616.1 1008.4h0M658.6 989.6h0M660.5 990.6h0M662.6 991.3h0M626.7 1033.8h0M626.9 1031.6h0M613.7 1018.6h0M632.1 998.1h0M630.0 998.5h0M628.7 1000.3h0M661.1 969.7h0M612.7 983.5h0M614.9 983.5h0M617.0 983.7h0M646.8 1007.9h0M644.7 1008.3h0M642.5 1008.4h0M637.2 1021.2h0M659.3 992.6h0M661.2 993.7h0M636.1 971.2h0M646.1 1024.0h0M645.8 1021.8h0M646.5 1019.7h0M662.0 964.7h0M660.6 963.0h0M661.4 961.0h0M667.7 1000.3h0M643.1 989.6h0M640.9 989.4h0M633.3 1017.3h0M635.5 1017.5h0M662.1 1001.9h0M664.3 1002.2h0M648.3 1008.7h0M616.5 1006.0h0M616.5 1009.8h0M657.4 991.4h0M658.4 989.4h0M656.2 963.6h0M658.1 964.8h0M660.2 965.5h0M651.2 990.2h0M650.9 992.4h0M651.9 994.4h0M626.0 958.7h0M624.7 957.0h0M622.5 956.9h0M654.8 965.9h0M655.9 964.0h0M655.1 961.9h0M645.6 996.0h0M647.0 997.7h0M649.2 998.3h0M658.5 968.1h0M657.6 970.2h0M623.0 1040.1h0M625.1 1039.3h0M643.7 1003.0h0M642.5 1001.2h0M631.9 1020.9h0M632.6 1018.8h0M636.4 973.6h0M634.2 973.8h0M626.7 1044.9h0M667.1 979.5h0M668.8 980.8h0M638.6 1034.2h0M640.4 1035.6h0M640.5 1037.8h0M649.4 1027.3h0M623.2 1002.2h0M613.8 1034.7h0M612.8 985.1h0M631.8 973.5h0M644.9 971.5h0M643.2 970.1h0M635.8 972.3h0M648.8 1010.7h0M649.6 1008.6h0M656.6 966.8h0M665.9 971.1h0M663.8 971.9h0M625.1 1045.3h0M643.0 1031.5h0M643.0 1029.3h0M643.5 1027.2h0M643.4 1037.9h0M617.3 1034.0h0M618.6 1032.2h0M643.1 1029.3h0M645.1 1030.3h0M647.3 1030.0h0M640.9 959.6h0M613.2 986.7h0M611.5 988.2h0M611.4 990.3h0M614.3 975.9h0M613.6 978.0h0M614.5 980.0h0M641.0 969.5h0M631.4 980.7h0M628.9 981.7h0M634.9 1014.7h0M631.5 991.6h0M662.5 1029.9h0M631.8 1030.3h0M633.2 1032.0h0M644.8 979.6h0M634.2 964.3h0M632.4 962.9h0M650.9 1034.1h0M653.1 1034.0h0M655.3 1033.6h0M640.0 1021.8h0M649.4 1033.4h0M647.3 1034.1h0M646.1 992.6h0M662.2 987.2h0M663.7 985.6h0M652.0 963.8h0M653.4 965.5h0M623.9 1004.2h0M651.5 997.0h0M663.7 1005.0h0M662.8 1007.1h0M661.8 1009.0h0M614.4 1034.0h0M612.5 1035.1h0M621.1 988.6h0M616.4 978.9h0M614.2 978.7h0M612.7 988.1h0M614.4 986.7h0M619.0 1026.8h0M653.7 978.3h0M661.3 1025.4h0M643.2 1028.6h0M626.1 966.5h0M628.3 966.3h0M653.4 996.4h0M653.1 994.2h0M668.3 997.2h0M613.8 1016.0h0M613.8 1013.8h0M613.6 1011.7h0M652.5 974.5h0M650.9 976.0h0M613.9 1010.7h0M614.2 1008.5h0M620.1 987.2h0M621.5 985.5h0M615.9 977.9h0M613.7 977.6h0M659.3 1002.8h0M662.5 1021.9h0M623.4 979.2h0M662.4 1029.2h0M664.6 1029.8h0M666.0 1031.5h0M651.1 1017.7h0M650.3 1019.7h0M634.0 1007.6h0M633.7 1009.8h0M634.7 1011.7h0M664.7 1004.7h0M645.0 1041.4h0M628.0 1011.7h0M630.1 1012.5h0M632.2 1011.9h0M647.5 971.3h0M638.3 1008.1h0M636.4 1007.1h0M634.8 1008.6h0M643.1 963.9h0M646.8 1008.3h0M644.6 1007.9h0M639.1 974.5h0M628.5 992.5h0M628.6 990.3h0M623.6 969.5h0M621.7 968.5h0M630.7 1022.6h0M629.2 1021.0h0M628.3 1019.0h0M620.1 984.1h0M618.0 983.5h0M616.1 984.5h0M656.9 1030.9h0M655.7 1032.7h0M653.5 1032.8h0M611.2 1034.1h0M610.5 1032.0h0M636.9 960.2h0M664.5 1025.5h0M611.8 1030.4h0M612.6 1028.4h0M612.5 1026.2h0M653.6 1014.2h0M654.5 1016.2h0M656.7 1016.7h0M642.3 983.8h0M644.2 985.0h0M639.3 1010.5h0M650.9 968.3h0M633.7 1044.8h0M638.9 996.2h0M641.0 995.7h0M643.1 1001.3h0M645.3 1001.6h0M649.1 1002.9h0M651.2 1003.5h0M653.3 1004.2h0M654.4 1013.2h0M610.6 1011.2h0M612.7 1012.0h0M614.8 1012.5h0M613.6 1012.5h0M613.7 1014.7h0M614.2 1016.9h0M661.9 1015.6h0M663.0 1017.4h0M664.2 1019.3h0M630.8 973.6h0M647.5 1013.6h0M649.5 1014.6h0M650.4 1016.6h0M627.2 969.9h0M645.9 971.0h0M644.5 972.7h0M644.7 974.9h0M630.5 1046.7h0M629.2 1048.6h0M650.0 1014.1h0M648.2 1012.8h0M647.8 1010.6h0M629.9 989.4h0M627.7 989.4h0M644.1 983.9h0M646.3 984.1h0M648.2 985.1h0M646.8 1010.2h0M661.0 1032.0h0M658.9 1032.5h0M626.1 961.6h0M626.7 959.5h0M628.7 958.7h0M661.3 991.2h0M663.3 991.9h0M663.7 994.1h0M631.5 1041.9h0M637.6 1002.1h0M635.7 1003.0h0M639.6 1006.7h0M657.5 1027.7h0M657.4 1025.5h0M621.9 977.5h0M627.2 1008.0h0M657.6 963.7h0M656.5 965.6h0M654.4 966.2h0M612.8 1007.4h0" fill="none" stroke="#8ccf9c" stroke-width="2.0" stroke-linecap="round"/>
<path d="M636.4 953.7h0M636.2 951.5h0M636.8 949.4h0M627.2 950.2h0M628.8 948.8h0M636.6 954.6h0M635.1 953.0h0M633.8 951.2h0M627.9 950.7h0M640.9 957.0h0M643.1 957.0h0M635.1 958.9h0M634.6 961.0h0M635.0 963.2h0M642.7 958.4h0M635.0 956.2h0M635.5 954.0h0M630.3 952.7h0M630.7 954.9h0M629.5 956.8h0M633.6 956.8h0M634.0 959.0h0M627.8 951.5h0M626.8 953.4h0M635.3 957.6h0" fill="none" stroke="#8ccf9c" stroke-width="2.0" stroke-linecap="round"/>
<path d="M541.9 939.5h0M542.1 937.3h0M569.0 932.1h0M558.9 913.1h0M560.7 934.0h0M562.3 935.6h0M564.1 936.8h0M573.0 958.6h0M531.1 947.0h0M562.0 959.2h0M563.5 960.8h0M554.6 918.4h0M556.8 918.0h0M558.9 918.6h0M559.3 942.3h0M575.5 942.0h0M542.4 922.8h0M544.5 922.2h0M546.7 922.2h0M580.6 941.9h0M581.8 940.1h0M581.3 937.9h0M568.3 951.9h0M567.0 950.2h0M565.5 948.6h0M548.8 938.9h0M566.0 926.3h0M566.5 924.1h0M567.5 922.2h0M550.3 955.5h0M554.8 937.0h0M550.8 938.2h0M551.2 936.0h0M551.5 933.9h0M546.5 951.9h0M544.4 951.3h0M542.3 950.7h0M562.0 940.3h0M560.1 939.2h0M536.4 954.0h0M582.9 934.3h0M584.9 935.1h0M586.7 936.4h0M561.4 956.7h0M560.2 954.9h0M558.6 953.4h0M559.0 956.3h0M556.8 956.4h0M554.7 957.0h0M526.0 937.8h0M537.1 935.0h0M572.9 911.8h0M575.1 911.4h0M558.6 954.5h0M556.9 953.1h0M555.6 951.3h0M556.9 962.6h0M554.7 963.1h0M580.4 938.9h0M574.5 921.7h0M572.5 920.9h0M569.2 921.3h0M568.7 923.5h0M576.5 933.3h0M572.8 937.1h0M572.3 935.0h0M559.3 942.8h0M561.1 941.6h0M562.4 939.8h0M539.2 956.4h0M581.5 924.5h0M583.7 924.3h0M561.5 951.9h0M560.3 953.7h0M561.7 933.1h0M569.2 928.7h0M571.4 928.5h0M558.6 922.7h0M586.4 941.9h0M586.6 939.8h0M577.3 967.3h0M574.6 964.9h0M575.7 966.8h0M559.1 925.0h0M561.1 926.0h0M563.0 926.9h0M540.2 957.7h0M540.9 959.8h0M539.8 961.7h0M566.6 948.5h0M565.3 946.7h0M564.9 944.6h0M589.2 915.9h0M551.5 947.0h0M549.4 946.2h0M577.3 969.0h0M577.6 966.9h0M552.5 947.7h0M551.0 946.1h0M548.8 945.5h0M537.4 939.8h0M547.8 925.5h0M545.6 925.7h0M543.4 925.5h0M543.2 951.6h0M541.7 950.0h0M569.8 961.0h0M569.7 963.2h0M572.7 949.8h0M574.6 950.7h0M576.3 952.2h0M571.9 935.6h0M574.1 935.5h0M561.0 937.8h0M561.2 940.0h0M571.2 973.4h0M570.0 975.2h0M568.4 976.8h0M570.5 955.0h0M568.4 954.2h0M566.7 952.8h0M564.4 981.3h0M551.6 920.2h0M566.7 966.0h0M568.0 967.8h0M566.1 948.0h0M564.4 946.7h0M582.4 919.7h0M581.9 921.8h0M561.0 920.6h0M574.1 943.4h0M553.2 948.9h0M530.0 953.7h0M530.4 955.9h0M555.7 968.1h0M557.9 968.4h0M559.4 970.0h0M547.2 921.1h0M561.3 909.7h0M546.8 926.1h0M545.0 927.4h0M521.2 943.1h0M537.9 941.4h0M525.2 950.7h0M565.2 967.2h0M583.0 947.3h0M582.4 945.2h0M573.5 924.2h0M572.1 925.9h0M527.9 953.4h0M564.4 924.9h0M527.8 957.1h0M526.8 959.1h0M525.3 960.6h0M543.3 921.5h0M545.2 920.3h0M546.0 918.3h0M558.2 947.4h0M560.0 948.7h0M522.1 942.1h0M523.9 940.9h0M573.1 940.0h0M573.8 942.1h0M571.6 942.0h0M570.9 910.8h0M571.8 908.8h0M562.4 969.9h0M563.5 971.9h0M561.7 923.6h0M563.6 924.7h0M573.5 946.4h0M560.4 978.9h0M530.7 936.0h0M586.4 932.6h0M584.8 934.2h0M583.4 935.8h0M567.9 911.6h0M566.3 913.1h0M564.5 914.3h0M555.5 972.1h0M557.6 971.2h0M559.7 970.6h0M540.0 933.6h0M542.2 933.1h0M544.4 933.2h0M559.8 917.6h0M562.0 918.0h0M563.9 916.8h0M560.5 905.8h0M532.4 940.4h0M530.9 942.0h0M529.3 943.5h0M571.2 928.4h0M530.5 940.8h0M548.5 963.3h0M550.5 964.1h0M564.2 906.7h0M566.4 907.2h0M549.1 934.3h0M548.3 936.3h0M540.9 928.8h0M581.2 968.9h0M581.5 971.1h0M551.4 960.8h0M552.8 967.8h0M548.4 942.3h0M547.3 944.3h0M546.5 946.3h0M570.7 950.9h0M569.6 949.0h0M567.9 947.7h0M563.9 943.8h0M564.3 946.0h0M549.4 966.1h0M548.9 968.3h0M548.9 970.5h0M542.6 949.1h0M540.6 949.9h0M558.5 977.1h0M586.3 944.4h0M586.1 946.6h0M587.4 948.4h0M539.4 928.0h0M540.3 930.0h0M559.1 968.4h0M560.5 966.7h0M560.5 964.5h0M584.7 950.9h0M582.7 951.9h0M580.5 952.0h0M542.4 933.3h0M540.4 934.3h0M536.3 944.5h0M534.7 950.0h0M547.7 964.5h0M546.1 962.9h0M544.4 964.3h0M578.2 939.4h0M576.3 938.4h0M574.2 937.7h0M562.1 912.0h0M562.0 914.2h0M560.5 915.8h0M547.4 949.5h0M548.9 951.1h0M549.7 953.1h0M527.5 954.6h0M552.4 953.4h0M529.7 945.4h0M576.9 919.3h0M565.0 930.6h0M566.3 932.4h0M567.9 933.9h0M557.0 925.4h0M559.2 925.8h0M561.3 925.0h0M545.2 941.5h0M547.3 941.0h0M549.2 939.8h0M587.8 928.9h0M589.5 930.4h0M582.7 931.8h0M562.0 910.2h0M561.5 908.1h0M560.1 971.5h0M561.7 970.0h0M558.7 934.3h0M557.5 936.2h0M556.2 938.0h0M582.6 929.5h0M584.6 928.5h0M565.7 911.6h0M565.1 909.5h0M582.1 917.9h0M582.4 920.0h0M582.3 922.2h0M576.7 931.9h0M577.3 934.0h0M542.0 924.0h0M584.3 963.1h0M559.7 923.9h0M557.6 924.5h0M561.6 966.9h0M560.3 965.1h0M579.8 958.1h0M549.9 937.0h0M552.1 936.8h0M554.1 935.9h0M551.1 939.6h0M555.7 940.2h0M557.5 941.6h0M585.7 916.0h0M556.1 944.1h0M556.5 946.2h0M579.2 925.0h0M579.2 927.2h0M579.7 929.3h0M557.1 977.0h0M559.1 962.1h0M550.9 941.9h0M550.5 944.1h0M566.0 939.1h0M564.9 937.2h0M522.5 940.9h0M520.3 940.7h0M519.5 938.6h0M582.4 959.4h0M584.3 958.4h0M586.5 958.0h0M554.2 920.8h0M556.1 922.0h0M557.0 924.0h0M574.0 941.3h0M574.3 943.5h0M568.8 945.4h0M571.0 945.4h0M550.5 950.5h0M551.2 952.6h0M552.5 954.3h0M583.0 951.0h0M583.7 953.0h0M553.1 949.6h0M551.4 948.2h0M549.5 947.2h0M556.3 936.2h0M554.1 936.2h0M581.4 928.3h0M583.6 928.3h0M585.5 929.4h0M559.6 911.4h0M558.1 909.7h0M553.6 930.3h0M551.6 931.1h0M566.0 920.2h0M525.4 951.2h0M524.8 953.3h0M525.7 955.3h0M559.9 963.8h0M558.8 965.7h0M557.4 967.4h0M563.6 918.7h0M564.7 908.7h0M553.2 948.7h0M551.8 950.5h0M551.1 952.5h0M568.0 910.5h0M527.8 946.2h0M579.1 936.2h0M585.4 951.2h0M542.4 940.2h0M544.3 941.2h0M546.0 942.7h0M581.0 915.5h0M543.9 922.4h0M542.4 920.8h0M554.1 924.2h0M552.0 923.3h0M550.3 922.0h0M567.5 947.4h0M566.7 949.5h0M564.6 950.2h0M547.6 958.8h0M549.7 959.5h0M556.6 953.1h0M554.5 953.7h0M569.9 946.9h0M571.9 946.0h0M573.8 944.9h0M563.3 929.2h0M586.5 916.2h0M588.7 915.8h0M590.7 914.9h0M563.3 904.4h0M561.2 905.1h0M581.3 935.3h0M583.3 934.3h0M573.6 966.0h0M581.0 932.7h0M581.2 933.8h0M579.5 931.9h0M580.5 929.9h0M586.1 934.9h0M586.7 937.0h0M588.3 938.5h0M567.0 921.0h0M565.6 922.7h0M565.8 924.9h0M535.0 959.5h0M535.3 957.3h0M534.9 955.1h0M570.1 909.4h0M568.7 911.1h0M545.1 963.1h0M543.9 961.2h0M561.5 910.1h0M559.5 911.0h0M573.3 973.2h0M575.5 973.1h0M577.2 971.6h0M547.9 963.7h0M550.1 963.6h0M553.1 929.5h0M564.5 976.0h0M562.7 974.7h0M561.1 976.2h0M571.1 947.6h0M587.3 916.6h0M587.6 918.7h0M586.1 920.3h0M574.1 949.2h0M567.1 937.9h0M565.2 938.9h0M579.9 949.4h0M577.8 950.1h0M569.4 967.1h0M568.7 969.2h0M567.6 971.1h0M522.6 938.5h0M523.1 940.7h0M556.5 910.4h0M556.5 912.6h0M569.4 956.6h0M567.2 956.8h0M565.1 957.6h0M543.7 951.1h0M544.1 949.0h0M550.2 957.8h0M549.3 955.8h0M547.4 954.7h0M561.3 935.8h0M559.3 936.9h0M557.5 938.0h0M582.9 931.3h0M581.4 932.8h0M581.1 935.0h0M545.6 944.7h0M546.5 942.7h0M558.3 953.2h0M558.7 951.0h0M560.9 950.7h0M562.5 918.6h0M563.9 920.3h0M566.0 921.0h0M581.9 955.8h0M583.5 957.4h0M540.2 951.4h0M539.7 949.2h0M537.8 948.1h0M583.5 937.6h0M585.5 938.5h0M555.9 973.0h0M556.4 975.1h0M552.7 958.2h0M543.6 924.6h0M543.1 926.7h0M541.5 928.2h0M566.8 910.1h0M567.7 908.1h0M568.8 906.2h0M569.2 973.4h0M571.0 974.7h0M573.0 975.7h0M560.3 977.4h0M575.0 955.2h0M578.3 966.2h0M560.9 966.5h0M544.3 924.1h0M569.0 929.6h0M569.1 931.8h0M584.0 940.0h0M544.8 925.0h0M545.4 931.5h0M545.8 929.3h0M546.9 927.4h0M550.7 967.9h0M549.2 969.5h0M568.3 961.7h0M570.5 961.3h0M572.5 960.5h0M581.5 915.1h0M556.3 931.1h0M555.4 929.0h0M566.5 928.9h0M566.0 926.7h0M564.7 925.0h0M525.3 946.4h0M527.2 945.3h0M529.0 944.1h0M528.1 948.7h0M586.3 932.7h0M584.5 934.1h0M580.4 923.4h0M531.5 956.5h0M533.1 955.0h0M534.7 953.5h0M575.4 952.2h0M552.6 963.6h0M550.5 964.2h0M548.5 963.4h0M569.4 970.7h0M583.7 943.3h0M553.0 953.2h0M554.2 951.4h0M552.8 949.6h0M536.4 945.5h0M534.3 945.1h0M532.1 944.9h0M560.5 942.2h0M562.6 941.7h0M564.8 941.4h0M565.9 966.3h0M564.5 968.0h0M563.7 970.1h0M522.2 941.3h0M561.5 906.9h0M559.3 906.4h0M546.7 944.6h0M555.8 965.4h0M554.5 963.6h0M553.4 961.7h0M561.9 913.1h0M559.7 913.1h0M564.0 916.5h0M543.7 927.8h0M542.3 929.5h0M542.9 931.6h0M586.0 935.5h0M587.6 934.0h0M548.4 914.3h0M584.5 920.6h0M585.8 918.9h0M587.7 917.6h0M573.8 971.2h0M575.9 970.7h0M578.1 970.6h0M561.7 949.1h0M562.0 951.3h0M554.1 954.8h0M552.4 953.3h0M552.1 951.1h0M573.5 974.6h0M575.7 975.0h0M556.4 970.1h0M554.9 968.5h0M555.1 966.3h0M571.4 950.6h0M569.7 951.9h0M564.1 969.7h0M549.5 968.9h0M563.8 934.4h0M533.5 935.8h0M534.9 934.2h0M536.4 932.5h0M536.1 930.4h0M534.3 929.0h0M532.8 927.4h0M555.3 936.6h0M556.6 938.4h0M574.5 938.4h0M552.9 952.3h0M552.5 950.1h0M550.6 934.7h0M549.2 933.0h0M547.5 931.5h0M573.1 939.6h0M571.1 938.6h0M575.8 924.5h0M576.9 922.6h0M577.3 920.5h0M560.6 910.7h0M560.3 912.9h0M550.0 952.9h0M552.1 952.0h0M554.3 952.2h0M578.5 959.7h0M565.3 953.1h0M550.4 931.3h0M571.9 959.8h0M570.6 950.4h0M558.8 930.8h0M556.9 931.9h0M542.5 926.5h0M543.4 928.6h0M543.5 930.7h0M557.9 979.1h0M559.4 977.6h0M572.4 968.5h0M574.0 970.0h0M585.2 958.3h0M587.4 958.2h0M549.7 933.9h0M559.5 921.5h0M557.4 921.9h0M555.2 922.0h0M549.3 948.3h0M547.4 947.3h0M555.6 922.4h0M556.6 920.4h0M584.2 926.8h0M585.9 928.1h0M559.4 920.7h0M558.1 919.0h0M559.0 917.0h0M542.6 959.2h0M544.5 960.3h0M546.6 961.0h0M535.8 950.3h0M537.4 951.8h0M539.0 953.4h0M533.3 956.1h0M535.2 955.0h0M537.2 954.3h0M550.5 935.1h0M548.6 936.1h0M582.6 926.3h0M581.1 924.7h0M581.0 922.5h0M567.7 937.9h0M566.2 939.5h0M570.1 921.7h0M572.1 920.8h0M574.2 920.0h0M559.2 974.5h0M561.4 974.3h0M575.4 956.4h0M582.9 943.2h0M566.8 919.5h0M567.9 921.5h0M523.5 938.4h0M525.6 937.9h0M533.1 938.7h0M535.0 939.7h0M544.0 955.1h0M586.7 958.0h0M585.5 956.2h0M585.7 953.7h0M586.0 955.9h0M585.3 958.0h0M542.2 955.1h0M540.4 953.9h0M539.1 952.2h0M564.6 910.7h0M566.9 917.6h0M569.0 918.2h0M543.2 921.0h0M541.8 919.3h0M541.4 917.1h0M524.9 947.7h0M526.5 949.1h0M528.7 949.2h0M566.6 932.2h0M564.8 931.0h0M563.0 932.3h0M534.6 947.0h0M577.2 939.7h0M548.7 955.0h0M542.1 925.2h0M551.6 952.3h0M552.2 950.1h0M565.1 907.4h0M571.7 977.4h0M571.9 975.2h0M576.2 926.0h0M578.2 925.0h0M556.3 978.1h0M557.8 979.7h0M566.3 926.8h0M543.6 925.6h0M544.4 927.7h0M571.6 929.7h0M577.9 931.4h0M576.1 930.1h0M574.1 930.9h0M572.1 943.3h0M549.0 943.9h0M544.5 960.8h0M542.5 961.6h0M540.3 961.6h0M567.3 936.5h0M567.6 938.7h0M565.8 940.0h0M567.5 916.7h0M567.4 918.9h0M566.4 920.9h0M570.3 953.5h0M568.9 955.3h0M522.2 938.9h0M521.9 941.1h0M523.5 942.6h0M547.9 931.6h0M547.3 929.5h0M557.5 950.2h0M556.2 948.4h0M554.4 947.3h0M583.3 930.2h0M581.6 963.1h0M558.7 905.3h0M558.1 903.2h0M557.8 901.0h0M527.4 956.3h0M526.6 954.3h0M525.3 952.5h0M553.2 953.8h0M555.3 954.6h0M556.5 951.7h0M564.4 947.6h0M563.6 945.6h0M562.4 943.7h0M563.8 951.5h0M561.6 951.4h0M575.7 965.6h0M574.3 967.3h0M573.6 969.4h0M559.7 927.0h0M567.0 933.5h0M565.1 971.6h0M566.7 973.1h0M568.3 974.6h0M548.9 920.1h0M549.1 917.9h0M547.4 916.5h0M552.9 939.0h0M553.1 936.8h0M551.1 935.9h0M561.8 925.3h0M522.2 955.7h0M523.5 954.0h0M524.9 952.3h0M559.9 946.1h0M562.1 945.8h0M576.0 965.1h0M576.4 963.0h0M576.2 960.8h0M544.6 946.3h0M543.3 944.6h0M541.6 943.1h0M543.2 949.5h0M542.1 951.5h0M544.5 934.6h0M542.3 934.6h0M566.6 974.2h0M564.7 973.0h0M567.3 961.2h0M551.4 971.4h0M553.2 970.2h0M580.8 946.8h0M582.6 945.7h0M527.3 945.4h0M525.7 943.9h0M523.9 942.6h0M560.1 955.5h0M562.3 954.9h0M564.2 953.9h0M533.9 944.5h0M552.6 966.9h0M550.7 965.7h0M524.1 944.8h0M523.3 942.8h0M521.7 941.2h0M547.5 924.0h0M553.3 910.9h0M548.5 917.7h0M583.6 966.5h0M584.4 964.4h0M583.8 928.9h0M582.2 927.4h0M580.6 925.9h0M561.5 955.5h0M552.2 928.1h0M550.4 926.7h0M549.0 925.0h0M557.3 934.6h0M555.1 934.8h0M553.0 935.5h0M581.7 950.2h0M578.8 968.7h0M577.3 925.5h0M528.7 957.0h0M528.9 954.8h0M530.1 953.0h0M580.6 949.3h0M578.6 948.3h0M580.0 970.6h0M578.9 968.8h0M577.9 966.8h0M541.8 937.2h0M536.5 957.5h0M537.4 955.5h0M539.4 954.6h0M553.7 968.2h0M553.2 958.4h0M551.9 956.7h0M568.3 953.3h0M521.9 950.6h0M519.9 949.6h0M518.6 951.4h0M564.6 964.9h0M563.8 962.9h0M573.2 951.9h0M575.0 950.7h0M535.6 937.5h0M565.1 915.8h0M543.7 937.3h0M544.9 939.2h0M543.2 940.7h0M549.2 963.2h0M549.9 961.1h0M551.6 959.7h0M529.4 944.7h0M529.9 942.5h0M560.6 976.1h0M558.4 975.8h0M557.6 973.7h0M562.1 952.8h0M585.3 935.4h0M585.6 937.5h0M585.7 939.7h0M554.3 970.7h0M556.1 925.4h0M556.6 923.2h0M558.3 921.7h0M558.9 907.4h0M556.8 906.8h0M554.6 906.7h0M527.6 934.2h0M560.5 967.7h0M560.1 969.8h0M560.3 972.0h0M550.0 918.9h0M548.1 917.9h0M585.0 940.1h0M586.6 941.6h0M588.6 942.4h0M572.2 957.6h0M536.3 958.2h0M534.1 957.8h0M533.0 957.8h0M530.8 958.2h0M529.1 956.8h0M578.2 925.7h0M523.9 942.0h0M536.9 937.8h0M538.9 938.6h0M553.8 920.7h0M527.1 942.7h0M525.7 944.5h0M560.1 943.8h0M547.6 924.2h0M545.6 923.2h0M571.9 918.0h0M573.3 916.4h0M575.5 916.6h0M551.8 919.7h0M553.8 918.9h0M555.8 919.9h0M550.6 953.2h0M551.7 955.1h0M577.6 962.5h0M562.1 967.1h0M560.5 965.6h0M536.0 930.9h0M582.1 953.0h0M582.7 955.1h0M584.9 954.9h0M544.9 927.1h0M542.9 928.2h0M540.7 927.9h0M554.8 944.0h0M556.8 942.9h0M556.7 940.7h0M523.7 948.5h0M527.5 957.7h0M528.4 955.7h0M529.9 954.1h0M573.2 943.6h0M571.8 945.2h0M561.3 969.4h0M559.6 968.0h0M584.5 949.2h0M582.8 947.8h0M535.7 951.5h0M535.7 949.3h0M536.1 947.1h0M585.9 958.1h0M576.1 960.9h0M576.9 962.9h0M561.1 966.4h0M559.8 964.7h0M575.2 933.7h0M551.9 921.5h0M577.6 945.2h0M579.1 943.6h0M568.6 945.1h0M568.5 947.3h0M526.3 949.5h0M525.0 951.3h0M522.8 951.2h0M585.6 915.0h0M583.5 914.3h0M532.6 959.1h0M530.5 959.9h0M528.4 960.6h0M547.2 920.3h0M572.4 970.4h0M574.4 969.6h0M576.6 969.4h0M557.4 911.4h0M549.4 940.5h0M548.4 938.5h0M567.3 939.1h0M565.7 940.6h0M563.5 940.4h0M585.9 931.8h0M588.0 932.4h0M590.2 932.3h0M551.4 963.9h0M553.5 963.2h0M578.5 933.7h0M561.9 916.7h0M559.8 915.9h0M557.6 915.9h0M528.3 935.2h0M527.0 933.4h0M580.3 946.8h0M567.7 969.5h0M566.6 971.4h0M548.8 922.0h0M546.6 933.5h0M567.9 937.9h0M567.6 940.1h0M575.7 915.7h0M577.6 957.0h0M579.8 957.3h0M581.6 958.5h0M568.1 950.5h0M569.4 948.7h0M575.7 959.5h0M575.8 961.7h0M577.6 963.0h0M554.0 934.6h0M551.8 935.1h0M550.3 936.7h0M563.5 968.6h0M566.8 911.2h0M567.9 913.2h0M541.1 936.9h0M576.7 935.1h0M578.4 933.7h0M580.1 968.2h0M567.1 940.3h0M564.9 940.0h0M562.8 940.6h0M560.1 926.1h0M565.0 923.5h0M562.8 923.8h0M560.7 924.2h0M566.6 946.8h0M568.2 948.2h0M570.2 949.1h0M532.8 946.6h0M530.7 947.1h0M548.6 929.8h0M579.9 916.2h0M581.4 917.9h0M565.5 925.3h0M563.3 925.6h0M547.1 953.4h0M543.2 961.7h0M544.5 959.9h0M546.4 958.7h0M584.4 921.3h0M584.2 923.5h0M584.4 925.7h0M579.5 966.5h0M578.9 964.4h0M571.5 935.3h0M569.7 936.5h0M568.0 938.0h0M574.2 955.6h0M572.2 956.4h0M577.9 922.8h0M567.1 976.0h0M564.9 975.8h0M573.2 972.4h0M571.0 972.1h0M568.9 971.6h0M550.4 936.0h0M566.7 938.7h0M564.8 924.0h0M566.7 922.8h0M568.6 921.8h0M562.6 954.4h0M548.7 947.3h0M549.0 945.1h0M571.2 914.9h0M545.1 947.9h0M547.3 947.5h0M565.7 918.7h0M565.5 916.6h0M567.3 909.8h0M567.4 912.0h0M568.2 914.0h0M551.5 952.3h0M565.4 969.8h0M563.4 970.6h0M582.5 945.9h0M583.1 948.1h0M574.0 944.1h0M575.8 945.4h0M570.2 975.4h0M568.2 976.4h0M566.1 977.2h0M553.3 960.3h0M551.8 958.7h0M580.4 939.3h0M579.7 937.3h0M551.7 956.4h0M553.8 955.7h0M579.4 948.0h0M580.8 949.7h0M565.9 944.5h0M568.1 944.6h0M551.3 921.8h0M565.7 924.3h0M564.6 922.4h0M565.0 920.2h0M556.5 919.3h0M557.4 967.8h0M532.7 934.5h0M530.7 935.5h0M525.8 944.1h0M523.8 943.3h0M523.8 941.1h0M567.1 964.8h0M567.8 966.9h0M568.2 969.0h0M558.2 944.8h0M560.2 945.8h0M553.8 921.0h0M561.0 941.3h0M562.7 942.7h0M551.3 944.6h0M553.0 943.2h0M554.8 942.0h0M535.3 947.8h0M536.8 949.4h0M560.7 951.2h0M560.6 953.4h0M554.3 930.5h0M551.7 943.9h0M549.7 943.0h0M547.9 944.2h0M558.6 980.7h0M560.6 979.9h0M570.7 918.6h0M571.6 916.6h0M573.4 944.9h0M571.6 946.2h0M571.0 966.7h0M572.9 967.8h0M575.1 968.0h0M532.6 946.7h0M584.9 934.9h0M586.7 933.7h0M566.2 975.3h0M568.3 974.8h0M569.2 972.8h0M567.0 927.2h0M564.8 926.9h0M562.8 927.7h0M537.9 939.3h0M576.3 969.4h0M574.9 971.0h0M574.2 973.1h0M584.0 915.4h0M586.2 915.4h0M588.4 915.0h0M520.5 940.4h0M522.5 939.4h0M545.2 953.1h0M545.4 950.9h0M536.9 945.1h0M538.5 946.6h0M532.9 955.0h0M573.6 954.8h0M575.3 956.1h0M576.8 957.7h0M545.9 921.7h0M546.6 919.6h0M548.6 918.6h0M563.2 952.9h0M561.8 951.2h0M559.2 911.1h0M557.2 910.1h0M550.7 956.8h0M536.5 959.1h0M538.7 959.5h0M540.5 958.4h0M577.5 968.1h0M578.9 969.8h0M552.7 923.4h0M552.9 925.6h0M542.2 945.1h0M540.1 945.8h0M533.4 946.4h0M584.9 957.1h0M522.7 948.3h0M521.2 949.9h0M566.9 942.1h0M567.4 944.3h0M567.1 946.4h0M567.9 940.3h0M528.3 954.3h0M573.7 944.8h0M574.4 942.7h0M538.7 953.9h0M540.5 952.6h0M542.5 951.8h0M547.1 960.9h0M549.2 960.3h0M553.5 933.8h0M574.7 948.1h0M572.8 949.3h0M545.8 947.1h0M546.2 944.9h0M546.6 942.8h0M552.5 973.9h0M552.7 971.7h0M551.9 969.6h0M563.3 907.9h0M560.7 947.9h0M559.0 946.5h0M571.8 929.2h0M581.7 949.2h0M580.4 951.0h0M579.1 952.8h0M570.1 961.1h0M568.3 959.8h0M566.4 958.8h0M579.5 934.2h0M577.8 935.6h0M575.6 935.5h0M552.2 965.5h0M551.3 952.1h0M549.4 950.9h0M573.6 939.0h0M555.9 924.4h0M557.7 923.1h0M559.7 922.4h0M554.8 930.1h0" fill="none" stroke="#f58070" stroke-width="2.0" stroke-linecap="round"/>
<path d="M583.5 904.6h0M599.2 902.3h0M602.5 898.8h0M600.4 898.3h0M598.2 897.7h0M602.5 893.1h0M601.1 894.8h0M602.9 896.0h0M593.7 885.8h0M591.5 886.2h0M589.1 906.8h0M586.9 906.5h0M584.1 912.5h0M609.6 894.8h0M610.8 893.0h0M612.7 891.9h0M608.8 882.0h0M579.3 912.9h0M593.9 904.6h0M594.9 906.6h0M596.6 908.0h0M597.7 879.6h0M597.9 881.8h0M595.1 893.1h0M600.0 894.8h0M598.1 893.7h0M596.0 893.0h0M579.9 912.0h0M578.1 913.2h0M608.8 888.3h0M610.4 880.2h0M612.0 878.7h0M609.7 878.6h0M611.5 877.4h0M612.7 875.6h0M590.1 891.1h0M588.3 892.4h0M586.9 894.1h0M603.6 894.7h0M603.6 896.9h0M597.3 886.9h0M588.5 910.5h0M608.5 892.2h0M600.2 883.7h0M602.2 882.9h0M594.0 887.8h0M595.6 886.3h0M612.3 889.0h0M610.2 888.3h0M609.4 886.2h0M599.0 884.5h0M597.7 886.3h0M596.4 888.0h0M597.0 894.9h0M598.4 896.6h0M599.5 898.5h0M595.1 901.9h0M609.6 894.0h0M582.3 915.0h0M588.4 899.7h0M589.1 901.8h0M596.7 885.1h0M594.6 885.8h0M601.5 886.8h0M599.7 884.5h0M594.9 895.0h0M601.1 887.6h0M592.9 905.1h0M595.4 879.4h0M593.5 880.5h0M592.3 882.4h0M602.4 898.5h0M604.6 898.8h0M606.3 897.4h0M602.4 884.9h0M600.6 883.5h0M582.3 903.7h0M590.3 899.5h0M595.6 878.5h0M593.5 879.3h0M591.0 898.0h0M589.3 899.4h0M596.7 902.4h0M594.9 901.1h0M605.0 881.2h0M607.2 881.5h0M609.1 880.5h0M603.2 890.5h0M590.1 893.2h0M589.9 906.4h0M589.2 904.3h0M590.6 902.6h0M611.4 886.9h0M613.3 887.9h0M609.7 883.6h0M609.5 881.4h0M608.3 898.5h0M610.5 898.8h0M595.8 907.0h0M597.7 908.0h0M599.9 908.5h0M612.8 884.5h0M611.2 882.9h0M594.2 882.2h0M597.7 900.5h0M598.9 898.6h0M606.4 887.9h0M598.6 888.4h0M597.7 890.4h0M596.8 892.4h0M606.8 893.8h0M608.2 895.6h0M603.0 884.8h0M604.2 882.9h0M595.8 907.6h0M597.9 908.1h0M591.6 893.7h0M589.5 894.3h0M587.8 895.7h0M588.3 906.7h0M590.5 906.3h0M598.2 887.3h0M597.2 885.4h0M596.7 883.2h0M590.9 891.9h0M609.1 879.0h0M611.3 879.4h0M613.3 880.2h0M600.9 880.8h0M600.5 882.9h0M598.9 884.4h0M580.6 914.9h0M582.2 913.3h0M592.8 897.4h0M594.0 899.3h0M598.4 888.4h0M598.3 890.6h0M599.1 892.7h0M602.6 879.4h0M601.7 881.4h0M600.8 883.4h0M595.8 897.7h0M597.9 897.0h0M597.4 897.1h0M599.5 896.5h0M588.6 912.1h0M583.6 903.7h0M594.8 887.8h0M592.7 887.2h0M591.1 885.7h0M596.3 887.8h0M594.1 888.2h0M599.8 888.5h0M600.7 886.5h0M605.4 886.7h0M604.2 884.8h0M595.4 877.4h0M597.2 876.1h0M598.9 874.7h0M583.6 903.2h0M595.3 887.7h0M591.3 895.9h0M591.1 893.8h0M613.0 890.2h0M611.1 889.3h0M609.1 888.2h0M591.7 898.0h0M591.1 895.9h0M610.3 885.7h0M599.3 880.7h0M591.3 880.7h0M591.1 882.9h0M592.4 884.6h0M593.3 889.7h0M594.0 892.2h0M596.1 891.4h0M582.2 907.1h0M581.6 905.0h0M611.9 885.7h0M590.5 901.9h0M588.6 903.1h0M602.0 898.5h0M601.7 900.7h0M587.0 909.0h0M589.5 911.5h0M609.4 889.8h0M608.0 888.2h0M586.5 900.9h0M592.5 911.8h0M593.9 910.1h0M602.4 895.4h0M602.2 897.5h0M600.9 899.3h0M595.2 885.5h0M595.4 887.7h0M597.5 907.5h0M596.6 905.5h0M593.8 906.7h0M591.9 907.8h0M589.8 908.5h0M601.8 890.3h0M600.8 888.3h0M598.7 888.1h0M596.7 896.6h0M599.3 884.5h0M585.0 912.3h0M583.1 913.3h0M580.9 913.5h0M596.2 896.6h0M594.7 894.9h0M592.2 911.7h0M590.2 912.7h0M588.6 914.2h0M587.7 908.6h0M585.2 899.4h0M587.2 898.6h0M589.3 897.8h0M584.7 904.9h0M586.4 906.3h0M588.6 906.6h0M597.6 880.6h0M588.4 914.0h0M590.5 913.5h0M592.5 912.5h0M609.6 895.3h0M611.4 890.9h0M604.1 881.5h0M605.4 879.7h0M605.7 877.5h0M608.3 896.3h0" fill="none" stroke="#f58070" stroke-width="2.0" stroke-linecap="round"/>
<path d="M561.9 961.0h0M564.0 960.2h0M559.7 962.4h0M559.8 964.6h0M562.6 962.4h0M567.3 965.4h0M569.2 966.7h0M560.8 969.3h0M561.5 967.2h0M565.8 964.3h0M567.7 969.2h0M565.7 968.2h0M563.7 967.3h0M566.9 967.1h0M564.2 966.8h0M564.7 969.0h0M565.4 971.1h0M559.1 962.4h0M558.3 964.4h0M558.1 966.6h0M568.8 964.1h0M570.6 965.5h0" fill="none" stroke="#fbfb3a" stroke-width="2.0" stroke-linecap="round"/>
<path d="M615.3 902.7h0M613.5 904.0h0M626.1 906.2h0M623.9 905.9h0M593.6 919.3h0M595.8 919.2h0M603.3 923.0h0M631.5 931.3h0M616.9 909.4h0M608.4 937.1h0M608.0 934.9h0M590.7 930.8h0M589.3 932.5h0M610.1 929.6h0M611.8 928.2h0M613.4 926.7h0M595.8 943.6h0M599.2 910.1h0M589.7 915.8h0M626.1 898.9h0M614.6 948.7h0M612.4 949.2h0M596.5 930.5h0M596.1 932.6h0M594.8 934.4h0M606.1 907.5h0M606.7 905.4h0M606.7 903.2h0M618.6 940.8h0M620.4 939.6h0M622.6 940.0h0M627.9 900.7h0M626.4 899.1h0M632.6 927.4h0M621.4 941.1h0M619.3 941.7h0M596.5 917.8h0M615.4 942.4h0M613.5 941.3h0M621.4 905.0h0M592.0 931.2h0M631.5 924.9h0M629.5 925.9h0M619.0 914.1h0M617.3 926.1h0M619.8 890.7h0M619.3 892.9h0M601.1 936.7h0M602.6 938.3h0M603.6 940.3h0M619.6 925.3h0M621.1 923.7h0M622.9 922.4h0M607.3 910.4h0M614.9 947.3h0M613.0 948.5h0M627.9 931.0h0M621.0 901.1h0M618.9 900.4h0M623.9 907.6h0M622.5 905.9h0M618.5 923.9h0M619.8 922.1h0M626.2 931.6h0M624.4 932.8h0M632.7 916.5h0M634.9 916.1h0M633.7 926.8h0M631.7 927.7h0M629.5 927.9h0M623.6 928.4h0M622.9 930.5h0M592.3 918.4h0M620.1 905.9h0M618.0 905.4h0M629.2 933.9h0M630.2 935.9h0M618.8 886.1h0M601.2 938.9h0M603.0 937.6h0M605.2 938.0h0M590.2 917.8h0M588.5 916.4h0M601.5 913.2h0M603.3 914.3h0M604.7 916.1h0M608.0 902.9h0M598.1 911.3h0M600.3 911.3h0M602.4 912.0h0M599.6 911.4h0M603.6 931.4h0M603.9 933.6h0M604.3 909.8h0M603.3 911.8h0M615.7 948.0h0M616.6 946.0h0M616.6 943.8h0M623.1 940.2h0M611.6 936.5h0M613.4 937.8h0M592.0 931.7h0M593.0 929.7h0M593.0 927.5h0M594.9 909.8h0M628.6 943.2h0M630.5 942.1h0M642.3 930.5h0M640.5 931.8h0M631.7 924.9h0M590.4 923.8h0M619.7 927.2h0M618.9 925.1h0M612.4 927.2h0M613.9 925.6h0M629.9 927.2h0M598.3 936.0h0M599.8 934.3h0M630.7 907.8h0M631.1 905.6h0M632.0 903.6h0M592.1 936.3h0M593.6 938.0h0M595.0 939.6h0M602.2 942.5h0M600.3 943.6h0M635.0 935.1h0M611.8 926.1h0M595.3 936.7h0M609.4 920.4h0M609.7 918.2h0M611.5 917.0h0M632.2 915.0h0M603.3 931.8h0M622.6 898.3h0M620.2 947.3h0M597.3 932.7h0M595.6 934.1h0M593.5 934.4h0M628.7 935.4h0M618.7 942.6h0M619.3 944.7h0M619.2 946.9h0M622.4 915.2h0M624.8 922.9h0M626.0 921.1h0M627.8 919.8h0M600.4 928.6h0M626.4 933.9h0M626.7 931.7h0M626.9 929.6h0M616.7 903.3h0M614.7 902.4h0M611.3 909.3h0M626.7 912.2h0M626.1 910.1h0M608.1 932.6h0M598.6 928.4h0M597.3 926.7h0M609.1 951.8h0M610.4 942.6h0M590.3 920.4h0M592.0 918.9h0M617.1 916.2h0M615.3 917.5h0M620.6 947.3h0M615.5 936.7h0M615.4 938.9h0M616.1 941.0h0M606.3 950.0h0M608.5 949.8h0M610.7 950.0h0M612.7 914.5h0M609.7 949.4h0M609.0 947.3h0M610.1 945.4h0M622.9 909.7h0M622.7 907.5h0M623.2 905.3h0M631.9 935.8h0M605.2 935.1h0M607.4 935.5h0M609.4 936.3h0M628.2 927.7h0M630.3 927.2h0M632.4 927.9h0M614.7 934.1h0M613.1 932.6h0M613.2 930.4h0M613.0 900.7h0M615.2 900.4h0M617.4 900.7h0M588.9 927.2h0M587.4 928.8h0M585.5 929.8h0M605.3 939.1h0M603.7 940.5h0M590.9 926.0h0M615.1 948.0h0M616.6 949.5h0M600.7 913.7h0M632.3 926.3h0M628.2 913.8h0M615.2 923.0h0M631.3 906.5h0M632.9 907.9h0M621.7 891.0h0M610.4 933.0h0M608.8 934.6h0M606.9 933.6h0M615.3 930.8h0M614.0 929.1h0M598.4 917.1h0M599.1 915.0h0M598.9 912.8h0M627.9 921.9h0M599.2 941.5h0M625.0 930.4h0M622.9 929.7h0M635.1 916.4h0M621.7 890.5h0M620.9 892.5h0M620.0 894.5h0M636.2 913.6h0M636.9 915.7h0M629.8 911.6h0M594.3 921.8h0M601.7 917.0h0M626.4 912.8h0M625.9 926.5h0M635.9 934.1h0M634.0 932.9h0M631.9 932.8h0M605.6 927.2h0M632.7 905.1h0M612.0 940.6h0M610.7 942.4h0M607.6 911.5h0M605.9 910.1h0M616.6 923.9h0M609.9 934.9h0M636.4 910.5h0M634.3 911.2h0M608.3 951.3h0M610.4 950.7h0M612.6 950.7h0M628.0 921.7h0M599.2 915.5h0M593.5 910.4h0M591.3 909.8h0M589.5 908.6h0M596.4 914.7h0M615.0 882.5h0M616.7 883.9h0M609.3 933.7h0M627.1 922.0h0M613.3 949.1h0M615.4 948.3h0M620.3 945.6h0M620.8 947.8h0M604.0 935.0h0M593.8 918.7h0M621.0 896.8h0M618.5 932.5h0M617.8 929.6h0M615.9 930.7h0M628.5 928.2h0M629.5 926.2h0M630.1 924.1h0M598.7 907.6h0M600.2 927.0h0M600.7 929.1h0M601.4 931.2h0M609.6 916.2h0M607.6 917.1h0M622.7 926.3h0M622.1 928.4h0M619.9 928.5h0M616.4 921.6h0M610.2 900.6h0M610.9 946.0h0M623.6 905.8h0M625.3 907.2h0M626.8 908.8h0M610.4 900.2h0M610.6 902.3h0M642.4 929.9h0M640.4 929.0h0M638.9 927.4h0M631.9 907.2h0M631.5 909.4h0M633.6 908.8h0M603.4 911.0h0M604.8 909.3h0M623.3 945.4h0M622.9 947.5h0M623.0 949.7h0M607.7 943.2h0M609.6 942.2h0M611.7 941.3h0M616.0 950.7h0M600.4 937.7h0M601.3 935.7h0M629.8 916.1h0M630.1 913.9h0M630.2 911.7h0M603.0 937.3h0M602.0 939.3h0M628.0 905.3h0M627.8 903.1h0M603.6 931.7h0M605.3 930.3h0M617.7 890.6h0M619.7 889.6h0M624.6 936.2h0M626.7 936.8h0M603.6 919.1h0M602.5 921.0h0M620.2 910.0h0M622.0 911.2h0M624.2 911.3h0M621.7 899.3h0M621.6 897.1h0M621.1 894.9h0M619.3 890.5h0M618.2 892.3h0M618.1 894.5h0M618.1 891.0h0M616.1 890.0h0M627.2 901.8h0M629.2 901.0h0M631.1 899.9h0M616.9 944.9h0M629.7 934.6h0M630.1 936.7h0M631.7 938.2h0M633.7 909.7h0M631.9 910.9h0M630.5 912.6h0M594.4 925.5h0M620.4 927.7h0M621.6 925.9h0M623.0 924.2h0M599.7 911.0h0M597.6 910.5h0M617.3 930.3h0M619.2 929.3h0M621.4 928.9h0M619.4 932.7h0M617.7 934.1h0M616.2 935.6h0M608.2 943.4h0M616.1 913.1h0M615.4 911.0h0M633.3 924.3h0M601.6 911.0h0M595.6 932.1h0M601.3 937.4h0M603.3 938.5h0M605.5 938.7h0M596.3 941.1h0M623.4 933.6h0M624.3 931.6h0M630.4 925.6h0M612.0 935.2h0M614.2 934.7h0M616.4 934.3h0M643.3 930.8h0M641.1 930.8h0M638.9 930.8h0M598.0 919.4h0M596.5 917.8h0M594.6 916.7h0M593.2 918.9h0M612.0 905.4h0M612.7 903.3h0M625.2 937.3h0M623.5 935.9h0M621.5 936.6h0M615.9 904.9h0M616.9 902.9h0M619.1 902.8h0M613.2 948.1h0M611.0 947.9h0M603.9 927.6h0M601.7 927.4h0M624.9 926.1h0M626.8 927.3h0M628.9 927.7h0M618.8 925.6h0M619.0 923.4h0M619.1 921.2h0M626.3 901.9h0M627.4 903.8h0M634.3 916.3h0M633.0 918.1h0M593.0 933.0h0M594.5 934.6h0M639.6 929.7h0M641.4 930.8h0M643.5 931.7h0M632.5 921.6h0M626.7 921.1h0M592.8 938.9h0M594.8 939.8h0M596.4 941.3h0M609.5 907.5h0M616.4 935.4h0M591.7 926.7h0M593.9 926.9h0M592.6 928.0h0M594.4 929.2h0M614.6 896.7h0M614.0 898.8h0M612.6 900.5h0M617.6 948.2h0M619.3 949.5h0M621.4 950.1h0M625.3 908.8h0M607.0 929.7h0M628.5 912.8h0M627.4 914.7h0M602.4 934.0h0M603.7 935.8h0M601.4 946.3h0M632.3 933.1h0M630.7 905.9h0M629.6 907.9h0M628.2 938.0h0M630.1 936.9h0M631.7 935.4h0M629.1 925.1h0M637.5 929.8h0M635.5 930.7h0M624.6 901.8h0M625.8 899.9h0M626.5 897.8h0M609.3 944.9h0M630.8 917.4h0M631.6 915.4h0M613.2 933.9h0M611.0 934.3h0M608.8 934.2h0M614.2 938.4h0M612.0 938.4h0M610.5 936.9h0M596.7 940.8h0M598.8 941.3h0M599.6 943.3h0M612.2 951.6h0M610.0 951.8h0M592.5 924.5h0M590.4 925.1h0M588.4 926.0h0M604.4 926.2h0M622.1 948.9h0M622.6 946.8h0M620.5 946.5h0M610.3 920.9h0M633.1 927.5h0M633.1 925.3h0M631.0 924.4h0M611.3 909.7h0M612.8 908.0h0M618.4 910.5h0M623.8 948.6h0M625.6 947.3h0M602.7 906.5h0M600.9 907.8h0M621.7 936.0h0M628.4 922.5h0M630.6 922.9h0M604.9 933.4h0M604.8 947.2h0M631.3 925.1h0M604.0 905.2h0M601.8 905.2h0M599.6 904.7h0M597.7 930.8h0M609.8 920.7h0M618.7 922.9h0M618.4 925.0h0M616.7 929.2h0M616.3 931.4h0M607.4 930.1h0M605.4 931.0h0M603.4 932.0h0M619.1 884.9h0M606.6 922.6h0M618.3 940.3h0M631.5 933.8h0M633.6 934.4h0M635.8 934.0h0M617.1 912.6h0M618.4 914.3h0M620.2 915.6h0M622.1 896.5h0M622.2 894.3h0M617.7 920.5h0M618.9 922.4h0M620.7 942.2h0M612.8 893.7h0M604.0 908.2h0M605.7 922.2h0M603.5 922.2h0M601.8 923.5h0M610.8 915.1h0M612.0 917.0h0M612.6 919.1h0M599.5 919.8h0M616.1 883.4h0M622.5 923.3h0M624.6 923.7h0M623.2 941.3h0M599.9 936.1h0M600.6 934.0h0M611.0 938.1h0M610.6 940.3h0M608.6 941.2h0M615.5 890.0h0M613.7 888.7h0M612.0 887.3h0M593.9 936.2h0M596.1 936.3h0M597.8 934.9h0M630.5 913.3h0M632.2 911.9h0M617.3 951.7h0M616.3 949.7h0M616.1 947.6h0M608.7 947.0h0M608.7 944.8h0M610.5 916.6h0M612.7 916.4h0M615.2 910.9h0M617.1 909.7h0M619.2 909.8h0M612.9 895.8h0M615.0 895.1h0M589.4 915.6h0M587.4 914.7h0M635.2 927.0h0M635.8 924.9h0M637.4 923.3h0M613.9 897.9h0M596.5 918.7h0M598.0 917.0h0M617.9 900.4h0M617.8 898.2h0M631.9 920.1h0M631.5 917.9h0M631.3 935.8h0M629.4 936.9h0M627.4 937.8h0M595.7 929.3h0M597.2 927.7h0M598.9 929.1h0M623.2 898.1h0M621.0 898.1h0M619.7 921.1h0M619.5 923.3h0M603.6 917.6h0M610.5 917.9h0M609.1 916.2h0M607.5 914.8h0M632.6 936.0h0M613.5 931.9h0M615.4 930.7h0M638.5 911.4h0M637.8 913.4h0M637.6 915.6h0M609.4 900.0h0M610.6 898.2h0M603.9 945.8h0M604.4 947.9h0M628.4 933.8h0M629.4 931.8h0M625.1 915.7h0M624.5 913.6h0M623.2 911.8h0M634.4 919.3h0M633.9 921.5h0M614.1 892.0h0M612.3 893.3h0M606.6 903.5h0M607.2 905.6h0M609.8 905.9h0M608.8 903.9h0M591.6 926.8h0M593.4 928.1h0M616.9 901.5h0M618.3 899.7h0M619.0 897.6h0M634.2 907.4h0M634.8 909.5h0M621.7 939.5h0M597.0 916.8h0M596.4 918.9h0M624.3 944.9h0M626.4 944.1h0M628.6 943.9h0M596.3 928.1h0M594.4 927.0h0M593.0 925.3h0M602.8 907.1h0M601.7 921.8h0M619.0 912.9h0M621.0 913.6h0M619.0 886.6h0M617.7 888.3h0M596.8 930.4h0M612.1 947.8h0M612.9 949.9h0M592.8 938.7h0M591.0 939.9h0M590.5 942.1h0M607.9 907.6h0M609.9 908.4h0M612.1 907.9h0M629.1 903.5h0M611.8 923.9h0M609.7 924.7h0M601.2 909.4h0M622.3 910.0h0M636.2 932.6h0M636.1 930.4h0M636.4 928.2h0M596.9 924.2h0M596.3 922.0h0M594.2 921.4h0M618.4 898.3h0M602.2 937.8h0M595.9 925.0h0M596.7 923.0h0M597.0 920.8h0M599.2 911.0h0M614.1 922.0h0M614.6 919.9h0M612.9 918.5h0M601.1 932.7h0M592.2 933.0h0M590.6 934.4h0M590.5 936.6h0M627.6 942.0h0M630.6 905.1h0M629.5 907.1h0M617.2 885.8h0M630.2 928.7h0M631.5 930.5h0M597.6 918.0h0M620.5 910.6h0M621.4 890.0h0M617.0 891.8h0M615.1 892.8h0M618.1 930.2h0M616.1 931.1h0M621.6 902.1h0M606.0 920.7h0M608.1 921.3h0M635.2 936.9h0M633.0 936.5h0M631.2 937.8h0M601.9 914.9h0M626.1 910.6h0M633.2 931.2h0M633.5 929.0h0M633.3 926.8h0M618.1 912.1h0M595.8 923.0h0M601.3 910.6h0M602.6 912.4h0M614.1 885.8h0M613.4 887.9h0M612.2 889.8h0M609.0 942.3h0M610.8 943.6h0M612.8 944.5h0M611.1 919.7h0M610.4 921.7h0M612.5 922.3h0M615.7 921.7h0M616.7 923.7h0M616.0 925.8h0M630.3 920.4h0M609.2 904.9h0M616.4 941.0h0M617.8 942.8h0M594.5 933.1h0M629.0 922.4h0M627.9 920.5h0M626.0 919.3h0M605.1 925.1h0M603.8 923.3h0M640.5 931.3h0M642.5 932.1h0M609.0 921.9h0M607.1 923.1h0M630.7 904.1h0M632.8 903.6h0M620.1 900.3h0" fill="none" stroke="#f20d0d" stroke-width="2.0" stroke-linecap="round"/>
<path d="M614.3 942.6h0M612.3 910.9h0M610.1 910.4h0M608.5 908.9h0M604.1 931.4h0M606.0 930.2h0M606.8 928.2h0M599.9 928.1h0M601.2 932.4h0M602.6 930.8h0M604.3 929.4h0M613.7 930.0h0M615.1 928.3h0M614.5 926.2h0M623.2 940.3h0M626.7 926.4h0M620.6 940.1h0M620.3 942.3h0M619.6 944.4h0M601.3 927.8h0M599.1 927.6h0M597.0 928.3h0M624.1 932.7h0M604.5 932.3h0M591.9 928.8h0M592.6 930.9h0M594.8 930.8h0M622.2 921.1h0M600.2 920.1h0M598.0 920.0h0M595.8 919.9h0M616.6 939.4h0M614.5 940.1h0M613.0 941.7h0M620.7 936.9h0M619.5 935.0h0M614.3 929.7h0M612.5 930.9h0M610.4 931.6h0M621.7 921.0h0M611.5 918.3h0M610.1 920.0h0M609.6 919.1h0M609.0 921.2h0M611.2 912.1h0M609.4 918.7h0M621.5 918.4h0M623.6 917.6h0M625.0 919.3h0M607.9 942.6h0M605.8 941.9h0M606.2 944.1h0M600.8 928.4h0M617.5 919.6h0M619.2 921.0h0M606.3 921.6h0M625.7 921.6h0M627.9 921.6h0M629.6 920.2h0M615.9 934.8h0M609.4 942.9h0M611.2 941.6h0M613.4 941.6h0M612.2 912.0h0M611.5 914.1h0M604.9 941.5h0M605.8 939.5h0M606.1 937.3h0M596.5 930.7h0M597.3 932.8h0M598.5 934.6h0M622.8 918.5h0M621.7 918.3h0M600.7 931.5h0M601.9 929.7h0M603.7 938.4h0M605.9 938.3h0M605.1 923.4h0M607.2 924.0h0M609.4 923.9h0M614.2 935.2h0M612.2 936.1h0M610.0 936.0h0M603.9 921.6h0M604.7 923.7h0M605.0 925.9h0M611.6 927.1h0M611.1 925.0h0M606.1 918.5h0M608.1 921.6h0M605.9 921.8h0M603.7 921.3h0M606.1 930.5h0M605.4 932.6h0M604.9 934.7h0M599.7 939.6h0M598.8 941.6h0M608.3 939.8h0M610.0 941.2h0M611.1 943.1h0M620.3 939.6h0M622.0 941.0h0M624.3 933.6h0M624.9 935.7h0M618.5 943.7h0M620.6 943.4h0M618.9 935.2h0M620.7 936.3h0M623.1 930.3h0M624.3 928.5h0M625.9 926.9h0M607.6 933.9h0M596.5 927.4h0M599.3 929.2h0M601.2 928.1h0M603.4 927.7h0M599.0 932.5h0M621.4 922.4h0M621.9 920.3h0M624.1 920.0h0M610.5 929.3h0M608.3 929.0h0M607.9 942.1h0M605.7 942.3h0M604.5 944.1h0M610.6 936.1h0M600.3 918.6h0M599.6 920.6h0M597.7 919.5h0M614.8 917.5h0M615.8 923.6h0M598.5 936.1h0M595.8 931.6h0M597.9 930.8h0M599.9 930.0h0M608.7 945.3h0M606.8 946.5h0M614.5 924.3h0M613.3 938.4h0M592.6 933.1h0M600.1 931.0h0M614.7 921.4h0M614.7 923.6h0M615.8 925.5h0M623.5 932.0h0M624.0 934.1h0M623.9 936.3h0M608.2 922.3h0M592.3 928.9h0M592.5 931.1h0M591.8 933.2h0M613.6 926.7h0M603.0 939.6h0M615.5 912.4h0M614.7 910.4h0M613.7 908.4h0M606.0 928.5h0M606.0 930.7h0M605.2 932.8h0M601.3 922.4h0M603.5 922.3h0M611.4 927.2h0M613.5 926.5h0M623.8 919.4h0M622.9 917.4h0M602.9 929.9h0M605.1 929.5h0M607.0 930.6h0M612.4 913.0h0M610.4 913.9h0M608.2 914.0h0M609.0 920.7h0M606.8 920.6h0M605.9 918.6h0M607.8 916.3h0M606.0 915.0h0M614.3 941.9h0M608.2 918.9h0M608.0 917.9h0M606.5 916.4h0M604.3 915.9h0M616.7 933.2h0M618.6 934.2h0M620.2 935.8h0M606.9 942.5h0M608.9 943.2h0M618.3 936.7h0M600.0 940.9h0M602.0 942.3h0M612.8 925.1h0M611.4 923.4h0M610.5 921.4h0M618.1 941.6h0M592.2 929.7h0M590.3 930.8h0M625.2 930.9h0M607.3 931.0h0M618.2 939.4h0M617.4 941.4h0M616.1 944.3h0M622.8 935.7h0M621.0 934.5h0M618.8 934.3h0M615.4 945.8h0M615.3 948.0h0M608.5 940.2h0M608.2 938.1h0M607.5 936.0h0M610.0 917.6h0M612.1 917.3h0M621.6 919.6h0M623.3 918.3h0M618.1 944.7h0M604.5 923.2h0M606.0 924.7h0M607.0 926.7h0M621.9 917.4h0M620.8 915.5h0M621.4 928.6h0M612.8 923.4h0M609.7 929.5h0M609.6 931.7h0M615.1 917.1h0M610.1 947.4h0M608.4 948.8h0M606.4 949.8h0M599.9 914.4h0M609.0 918.7h0M610.1 916.8h0M603.0 939.6h0M601.7 937.8h0M599.5 937.4h0M608.0 937.6h0M608.3 939.8h0M611.7 912.8h0M612.7 914.8h0M613.6 916.8h0M607.6 919.6h0M605.4 919.8h0M603.5 920.9h0M603.5 935.9h0M601.4 936.6h0M599.7 922.0h0M613.6 912.4h0M614.8 914.2h0M624.7 928.3h0M626.3 926.8h0M614.9 922.0h0M594.4 925.5h0M596.3 924.3h0M597.7 922.6h0M616.7 916.3h0M618.8 917.1h0M620.1 915.4h0M618.8 918.3h0M619.8 915.3h0M617.7 915.8h0M619.1 927.4h0M614.1 925.0h0M612.1 925.8h0M610.0 925.1h0M616.6 920.9h0M617.7 919.0h0M602.2 915.3h0M613.1 947.1h0M597.6 921.6h0M599.1 920.0h0M596.6 935.6h0M594.6 936.5h0M592.5 936.0h0M621.3 923.8h0M623.2 924.9h0M612.8 940.1h0M614.9 939.4h0M597.6 920.3h0M599.8 920.5h0M604.0 937.4h0M600.2 926.4h0M609.2 927.1h0M611.4 927.3h0M613.5 927.0h0M608.5 918.8h0M593.3 930.9h0M595.3 930.0h0M612.2 914.5h0M610.7 912.9h0M617.8 930.7h0M619.7 929.5h0M611.0 945.3h0M610.1 947.3h0M611.8 948.8h0M604.6 930.7h0M608.2 943.9h0M609.0 946.0h0M611.2 945.5h0M625.9 937.7h0M623.9 938.6h0M621.7 938.2h0M611.3 912.3h0M612.4 910.5h0M614.4 927.1h0M619.0 928.5h0M620.1 930.4h0M619.8 932.6h0M611.8 924.5h0M613.2 926.2h0M614.7 927.8h0M599.5 924.5h0M597.6 925.6h0M595.4 926.1h0M612.7 937.9h0M614.3 939.5h0M615.2 941.5h0M611.7 928.2h0M613.7 929.3h0M614.8 931.2h0M614.2 913.1h0M614.2 910.9h0M618.4 918.0h0M616.6 939.2h0M602.9 932.9h0M600.9 932.0h0M609.1 916.9h0M607.8 918.6h0M599.6 937.5h0M601.6 936.7h0M602.8 934.9h0M617.0 916.9h0M614.9 917.6h0M602.6 937.3h0" fill="none" stroke="#f20d0d" stroke-width="2.0" stroke-linecap="round"/>
<path d="M636.8 947.6h0M638.9 947.0h0M641.1 947.3h0M638.0 948.5h0M638.4 952.9h0M639.2 954.9h0M638.7 952.3h0M637.2 948.2h0M635.1 948.8h0M637.0 953.2h0M638.8 954.4h0M640.9 955.2h0M635.5 943.9h0M635.7 945.2h0M636.5 947.3h0M638.1 948.8h0" fill="none" stroke="#f20d0d" stroke-width="2.0" stroke-linecap="round"/>
<path d="M565.4 1000.5h0M567.0 999.0h0M567.9 996.9h0M558.0 993.9h0M559.4 993.9h0M558.7 991.3h0M559.4 993.4h0M560.6 995.2h0M561.0 998.2h0M559.3 999.6h0M565.5 1000.8h0M559.0 994.8h0M561.0 999.3h0M560.6 997.1h0M559.2 995.5h0M561.0 994.3h0M562.2 992.4h0M564.2 991.5h0M564.1 995.9h0M565.5 997.7h0M562.4 998.5h0M563.8 997.0h0M563.7 994.2h0M562.9 992.1h0M562.6 989.9h0M561.7 994.7h0M561.4 992.5h0M561.2 990.4h0M564.2 1000.0h0M560.1 991.1h0M484.8 934.3h0M486.6 935.3h0M488.5 936.8h0M490.4 938.1h0M491.9 939.0h0M544.6 994.1h0M546.5 995.1h0M554.0 991.3h0M561.4 1006.3h0M560.5 1011.9h0M570.8 959.6h0M571.7 958.6h0M555.8 984.8h0M559.6 975.5h0" fill="none" stroke="#0a0a82" stroke-width="2.2" stroke-linecap="round"/>
<path d="M555.0 1027.6h0M553.1 1028.7h0M551.3 1030.0h0M546.7 1025.3h0M544.7 1026.2h0M545.6 1028.2h0M546.9 1023.9h0M548.1 1022.1h0M550.8 1025.3h0M551.6 1023.2h0M546.7 1023.7h0M554.5 1025.6h0M555.6 1029.8h0M554.2 1031.6h0M552.7 1023.9h0M554.9 1024.1h0M556.9 1023.3h0M550.2 1023.5h0M552.3 1024.3h0M550.9 1022.5h0M549.4 1021.6h0M550.3 1023.6h0M554.1 1027.5h0M552.6 1029.1h0M551.6 1031.1h0M549.6 1025.6h0M551.4 1024.5h0M552.6 1022.6h0M547.8 1021.0h0M550.0 1020.7h0M550.1 1018.5h0M546.0 1021.3h0M547.0 1023.3h0M546.0 1025.3h0M553.7 1024.6h0M551.5 1025.0h0M550.2 1026.7h0M547.6 1024.6h0M548.5 1023.9h0M549.4 1025.9h0M549.0 1028.1h0M553.9 1027.9h0M551.8 1027.7h0M541.8 1024.0h0M542.1 1021.9h0" fill="none" stroke="#5e4c3c" stroke-width="2.2" stroke-linecap="round"/>
<path d="M546.5 1013.8h0M549.3 1016.6h0M539.0 1000.8h0" fill="none" stroke="#3a3a1a" stroke-width="2.0" stroke-linecap="round"/>
<path d="M499.7 1005.4h0M502.5 1004.5h0M501.6 1007.3h0M507.2 977.4h0M518.4 973.7h0M639.9 981.1h0M642.8 1015.7h0M640.9 1016.6h0M504.4 1044.7h0" fill="none" stroke="#d9342b" stroke-width="2.0" stroke-linecap="round"/>
<text transform="translate(134.37 893.4) scale(1.0526 1.0000)" font-size="20.52">EVT2</text>
<text transform="translate(277.87 888) scale(1.0526 1.0000)" font-size="20.52">EVT1</text>
<text transform="translate(322.1 955) scale(1.0526 1.0000)" font-size="20.52">VCT_CCC</text>
<text transform="translate(65.1 989) scale(1.0526 1.0000)" font-size="20.52">iEVT</text>
<text transform="translate(220.64 1028.5) scale(1.0526 1.0000)" font-size="20.52">eEVT</text>
<text transform="translate(198.02 1072.6) scale(1.0526 1.0000)" font-size="20.52">GC</text>
<path d="M98.4 1073.5 V1115.5 H140.8" fill="none" stroke="#1a1a1a" stroke-width="1.7"/>
<text transform="translate(86.2 1115.77) rotate(-90) scale(1.0526 1.0000)" font-size="19.85">UMAP1</text>
<text transform="translate(98.18 1143.4) scale(1.0526 1.0000)" font-size="20.46">UMAP2</text>
<text transform="translate(491.37 901.6) scale(1.0526 1.0000)" font-size="20.52">EVT2</text>
<text transform="translate(634.77 896.4) scale(1.0526 1.0000)" font-size="20.52">EVT1</text>
<text transform="translate(678.9 973.2) scale(1.0526 1.0000)" font-size="20.52">VCT_CCC</text>
<text transform="translate(421.6 996.6) scale(1.0526 1.0000)" font-size="20.52">iEVT</text>
<text transform="translate(570.24 996.6) scale(1.0526 1.0000)" font-size="20.52">eEVT</text>
<text transform="translate(556.02 1050.7) scale(1.0526 1.0000)" font-size="20.52">GC</text>
<path d="M464.6 1079.3 V1120.9 H506.8" fill="none" stroke="#1a1a1a" stroke-width="1.7"/>
<text transform="translate(452.6 1121.17) rotate(-90) scale(1.0526 1.0000)" font-size="19.85">UMAP1</text>
<text transform="translate(464.17 1148.5) scale(1.0526 1.0000)" font-size="20.61">UMAP2</text>
<text x="808.46" y="765.3" font-size="42.5">c</text>
<text transform="translate(913.33 789.3) scale(1.0526 1.0000)" font-size="24.55">PAGA graph</text>
<text transform="translate(873.92 827.9) scale(1.0526 1.0000)" font-size="20.5">GEX contribution weight</text>
<text transform="translate(877.14 864.2) scale(1.0526 1.0000)" font-size="20.4">α = 1, β = 1</text>
<line x1="932.8" y1="932.5" x2="984" y2="964.4" stroke="#161616" stroke-width="7"/>
<line x1="984" y1="964.4" x2="1063.2" y2="980.1" stroke="#161616" stroke-width="3.8"/>
<line x1="1063.2" y1="980.1" x2="1051.2" y2="1025.9" stroke="#161616" stroke-width="2.8"/>
<line x1="984" y1="964.4" x2="1051.2" y2="1025.9" stroke="#161616" stroke-width="1.9"/>
<line x1="1051.2" y1="1025.9" x2="1092.6" y2="1088.2" stroke="#161616" stroke-width="3.4"/>
<line x1="1092.6" y1="1088.2" x2="1136.5" y2="1151.9" stroke="#161616" stroke-width="1.7"/>
<circle cx="932.8" cy="932.5" r="4.3" fill="#73685d"/>
<circle cx="984" cy="964.4" r="7.9" fill="#fce94f"/>
<circle cx="1063.2" cy="980.1" r="4.2" fill="#2b3f9c"/>
<circle cx="1051.2" cy="1025.9" r="6.5" fill="#f0917b"/>
<circle cx="1092.6" cy="1088.2" r="6.5" fill="#e8171c"/>
<circle cx="1136.5" cy="1151.9" r="6.9" fill="#8fd1b8"/>
<text transform="translate(882.02 943.9) scale(1.0526 1.0000)" font-size="20.52">GC</text>
<text transform="translate(929 994) scale(1.0526 1.0000)" font-size="20.52">iEVT</text>
<text transform="translate(1084.74 973.3) scale(1.0526 1.0000)" font-size="20.52">eEVT</text>
<text transform="translate(988.27 1047.5) scale(1.0526 1.0000)" font-size="20.52">EVT2</text>
<text transform="translate(1034.97 1108.2) scale(1.0526 1.0000)" font-size="20.52">EVT1</text>
<text transform="translate(1018.9 1162.9) scale(1.0526 1.0000)" font-size="20.52">VCT_CCC</text>
<text x="1175.03" y="765.3" font-size="42.5">d</text>
<text transform="translate(1310.67 789.4) scale(1.0526 1.0000)" font-size="23.76">Success matrix</text>
<text transform="translate(1311.8 843.7) scale(1.0526 1.0000)" font-size="21.28" textLength="246.62" lengthAdjust="spacing">1 = correct tree reconstructed</text>
<defs><linearGradient id="rocket" x1="0" y1="1" x2="0" y2="0"><stop offset="0" stop-color="#03051a"/><stop offset="0.143" stop-color="#35193e"/><stop offset="0.286" stop-color="#701f57"/><stop offset="0.429" stop-color="#ad1759"/><stop offset="0.571" stop-color="#e13342"/><stop offset="0.714" stop-color="#f37651"/><stop offset="0.857" stop-color="#f6b48f"/><stop offset="1" stop-color="#faebdd"/></linearGradient></defs>
<rect x="1299" y="882" width="229" height="279" fill="#05071b"/>
<path d="M1301.27 882V1161M1303.53 882V1161M1305.8 882V1161M1308.07 882V1161M1310.34 882V1161M1312.6 882V1161M1314.87 882V1161M1317.14 882V1161M1319.41 882V1161M1321.67 882V1161M1323.94 882V1161M1326.21 882V1161M1328.48 882V1161M1330.74 882V1161M1333.01 882V1161M1335.28 882V1161M1337.54 882V1161M1339.81 882V1161M1342.08 882V1161M1344.35 882V1161M1346.61 882V1161M1348.88 882V1161M1351.15 882V1161M1353.42 882V1161M1355.68 882V1161M1357.95 882V1161M1360.22 882V1161M1362.49 882V1161M1364.75 882V1161M1367.02 882V1161M1369.29 882V1161M1371.55 882V1161M1373.82 882V1161M1376.09 882V1161M1378.36 882V1161M1380.62 882V1161M1382.89 882V1161M1385.16 882V1161M1387.43 882V1161M1389.69 882V1161M1391.96 882V1161M1394.23 882V1161M1396.5 882V1161M1398.76 882V1161M1401.03 882V1161M1403.3 882V1161M1405.56 882V1161M1407.83 882V1161M1410.1 882V1161M1412.37 882V1161M1414.63 882V1161M1416.9 882V1161M1419.17 882V1161M1421.44 882V1161M1423.7 882V1161M1425.97 882V1161M1428.24 882V1161M1430.5 882V1161M1432.77 882V1161M1435.04 882V1161M1437.31 882V1161M1439.57 882V1161M1441.84 882V1161M1444.11 882V1161M1446.38 882V1161M1448.64 882V1161M1450.91 882V1161M1453.18 882V1161M1455.45 882V1161M1457.71 882V1161M1459.98 882V1161M1462.25 882V1161M1464.51 882V1161M1466.78 882V1161M1469.05 882V1161M1471.32 882V1161M1473.58 882V1161M1475.85 882V1161M1478.12 882V1161M1480.39 882V1161M1482.65 882V1161M1484.92 882V1161M1487.19 882V1161M1489.46 882V1161M1491.72 882V1161M1493.99 882V1161M1496.26 882V1161M1498.52 882V1161M1500.79 882V1161M1503.06 882V1161M1505.33 882V1161M1507.59 882V1161M1509.86 882V1161M1512.13 882V1161M1514.4 882V1161M1516.66 882V1161M1518.93 882V1161M1521.2 882V1161M1523.47 882V1161M1525.73 882V1161M1299 884.76H1528M1299 887.52H1528M1299 890.29H1528M1299 893.05H1528M1299 895.81H1528M1299 898.57H1528M1299 901.34H1528M1299 904.1H1528M1299 906.86H1528M1299 909.62H1528M1299 912.39H1528M1299 915.15H1528M1299 917.91H1528M1299 920.67H1528M1299 923.44H1528M1299 926.2H1528M1299 928.96H1528M1299 931.72H1528M1299 934.49H1528M1299 937.25H1528M1299 940.01H1528M1299 942.77H1528M1299 945.53H1528M1299 948.3H1528M1299 951.06H1528M1299 953.82H1528M1299 956.58H1528M1299 959.35H1528M1299 962.11H1528M1299 964.87H1528M1299 967.63H1528M1299 970.4H1528M1299 973.16H1528M1299 975.92H1528M1299 978.68H1528M1299 981.45H1528M1299 984.21H1528M1299 986.97H1528M1299 989.73H1528M1299 992.5H1528M1299 995.26H1528M1299 998.02H1528M1299 1000.78H1528M1299 1003.54H1528M1299 1006.31H1528M1299 1009.07H1528M1299 1011.83H1528M1299 1014.59H1528M1299 1017.36H1528M1299 1020.12H1528M1299 1022.88H1528M1299 1025.64H1528M1299 1028.41H1528M1299 1031.17H1528M1299 1033.93H1528M1299 1036.69H1528M1299 1039.46H1528M1299 1042.22H1528M1299 1044.98H1528M1299 1047.74H1528M1299 1050.5H1528M1299 1053.27H1528M1299 1056.03H1528M1299 1058.79H1528M1299 1061.55H1528M1299 1064.32H1528M1299 1067.08H1528M1299 1069.84H1528M1299 1072.6H1528M1299 1075.37H1528M1299 1078.13H1528M1299 1080.89H1528M1299 1083.65H1528M1299 1086.42H1528M1299 1089.18H1528M1299 1091.94H1528M1299 1094.7H1528M1299 1097.47H1528M1299 1100.23H1528M1299 1102.99H1528M1299 1105.75H1528M1299 1108.51H1528M1299 1111.28H1528M1299 1114.04H1528M1299 1116.8H1528M1299 1119.56H1528M1299 1122.33H1528M1299 1125.09H1528M1299 1127.85H1528M1299 1130.61H1528M1299 1133.38H1528M1299 1136.14H1528M1299 1138.9H1528M1299 1141.66H1528M1299 1144.43H1528M1299 1147.19H1528M1299 1149.95H1528M1299 1152.71H1528M1299 1155.48H1528M1299 1158.24H1528" fill="none" stroke="#9a9cb8" stroke-opacity="0.13" stroke-width="0.6"/>
<path d="M1326.21 1138.9h2.32v22.1h-2.32zM1328.48 1114.04h2.32v46.96h-2.32zM1330.74 1097.47h2.32v63.53h-2.32zM1333.01 1083.65h2.32v77.35h-2.32zM1335.28 1072.6h2.32v88.4h-2.32zM1337.54 1061.55h2.32v99.45h-2.32zM1339.81 1053.27h2.32v107.73h-2.32zM1342.08 1044.98h2.32v116.02h-2.32zM1344.35 1039.46h2.32v121.54h-2.32zM1346.61 1031.17h2.32v129.83h-2.32zM1348.88 1025.64h2.32v135.36h-2.32zM1351.15 1020.12h2.32v140.88h-2.32zM1353.42 1014.59h2.32v146.41h-2.32zM1355.68 1009.07h2.32v151.93h-2.32zM1357.95 1003.54h2.32v157.46h-2.32zM1360.22 1000.78h2.32v160.22h-2.32zM1362.49 995.26h2.32v165.74h-2.32zM1364.75 992.5h2.32v168.5h-2.32zM1367.02 986.97h2.32v165.74h-2.32zM1369.29 984.21h2.32v160.22h-2.32zM1371.55 981.45h2.32v154.69h-2.32zM1373.82 981.45h2.32v149.17h-2.32zM1376.09 978.68h2.32v146.41h-2.32zM1378.36 975.92h2.32v143.64h-2.32zM1380.62 973.16h2.32v140.88h-2.32zM1382.89 970.4h2.32v140.88h-2.32zM1385.16 967.63h2.32v140.88h-2.32zM1387.43 967.63h2.32v135.36h-2.32zM1389.69 964.87h2.32v135.36h-2.32zM1391.96 962.11h2.32v135.36h-2.32zM1394.23 962.11h2.32v132.59h-2.32zM1396.5 959.35h2.32v132.59h-2.32zM1398.76 959.35h2.32v129.83h-2.32zM1401.03 956.58h2.32v127.07h-2.32zM1403.3 956.58h2.32v124.31h-2.32zM1405.56 953.82h2.32v124.31h-2.32zM1407.83 953.82h2.32v121.54h-2.32zM1410.1 953.82h2.32v121.54h-2.32zM1412.37 951.06h2.32v121.54h-2.32zM1414.63 951.06h2.32v118.78h-2.32zM1416.9 948.3h2.32v118.78h-2.32zM1419.17 948.3h2.32v116.02h-2.32zM1421.44 948.3h2.32v113.26h-2.32zM1423.7 945.53h2.32v116.02h-2.32zM1425.97 945.53h2.32v113.26h-2.32zM1428.24 945.53h2.32v110.5h-2.32zM1430.5 945.53h2.32v110.5h-2.32zM1432.77 942.77h2.32v110.5h-2.32zM1435.04 942.77h2.32v110.5h-2.32zM1437.31 942.77h2.32v107.73h-2.32zM1439.57 940.01h2.32v107.73h-2.32zM1441.84 940.01h2.32v107.73h-2.32zM1444.11 940.01h2.32v104.97h-2.32zM1446.38 940.01h2.32v104.97h-2.32zM1448.64 937.25h2.32v104.97h-2.32zM1450.91 937.25h2.32v104.97h-2.32zM1453.18 937.25h2.32v102.21h-2.32zM1455.45 937.25h2.32v102.21h-2.32zM1457.71 937.25h2.32v102.21h-2.32zM1459.98 934.49h2.32v102.21h-2.32zM1462.25 934.49h2.32v102.21h-2.32zM1464.51 934.49h2.32v99.45h-2.32zM1466.78 934.49h2.32v99.45h-2.32zM1469.05 934.49h2.32v99.45h-2.32zM1471.32 934.49h2.32v96.68h-2.32zM1473.58 931.72h2.32v99.45h-2.32zM1475.85 931.72h2.32v99.45h-2.32zM1478.12 931.72h2.32v96.68h-2.32zM1480.39 931.72h2.32v96.68h-2.32zM1482.65 931.72h2.32v96.68h-2.32zM1484.92 931.72h2.32v96.68h-2.32zM1487.19 931.72h2.32v93.92h-2.32zM1489.46 928.96h2.32v96.68h-2.32zM1491.72 928.96h2.32v96.68h-2.32zM1493.99 928.96h2.32v96.68h-2.32zM1496.26 928.96h2.32v93.92h-2.32zM1498.52 928.96h2.32v93.92h-2.32zM1500.79 928.96h2.32v93.92h-2.32zM1503.06 928.96h2.32v93.92h-2.32zM1505.33 928.96h2.32v91.16h-2.32zM1507.59 928.96h2.32v91.16h-2.32zM1509.86 928.96h2.32v91.16h-2.32zM1512.13 926.2h2.32v93.92h-2.32zM1514.4 926.2h2.32v91.16h-2.32zM1516.66 926.2h2.32v91.16h-2.32zM1518.93 926.2h2.32v91.16h-2.32zM1521.2 926.2h2.32v91.16h-2.32zM1523.47 926.2h2.32v91.16h-2.32zM1525.73 926.2h2.32v88.4h-2.32z" fill="#faebdd"/>
<rect x="1294.5" y="882.28" width="4.7" height="2.2" fill="#000"/>
<text transform="translate(1261.25 889.48) scale(1.0700 1.0000)" font-size="17.2" font-family="'DejaVu Sans','Liberation Sans',sans-serif">0.0</text>
<rect x="1294.5" y="901.62" width="4.7" height="2.2" fill="#000"/>
<text transform="translate(1249.82 908.82) scale(1.0700 1.0000)" font-size="17.2" font-family="'DejaVu Sans','Liberation Sans',sans-serif">0.07</text>
<rect x="1294.5" y="920.95" width="4.7" height="2.2" fill="#000"/>
<text transform="translate(1249.27 928.15) scale(1.0700 1.0000)" font-size="17.2" font-family="'DejaVu Sans','Liberation Sans',sans-serif">0.14</text>
<rect x="1294.5" y="940.29" width="4.7" height="2.2" fill="#000"/>
<text transform="translate(1250 947.49) scale(1.0700 1.0000)" font-size="17.2" font-family="'DejaVu Sans','Liberation Sans',sans-serif">0.21</text>
<rect x="1294.5" y="959.63" width="4.7" height="2.2" fill="#000"/>
<text transform="translate(1249.54 966.83) scale(1.0700 1.0000)" font-size="17.2" font-family="'DejaVu Sans','Liberation Sans',sans-serif">0.28</text>
<rect x="1294.5" y="978.96" width="4.7" height="2.2" fill="#000"/>
<text transform="translate(1249.91 986.16) scale(1.0700 1.0000)" font-size="17.2" font-family="'DejaVu Sans','Liberation Sans',sans-serif">0.35</text>
<rect x="1294.5" y="998.3" width="4.7" height="2.2" fill="#000"/>
<text transform="translate(1250.09 1005.5) scale(1.0700 1.0000)" font-size="17.2" font-family="'DejaVu Sans','Liberation Sans',sans-serif">0.42</text>
<rect x="1294.5" y="1017.64" width="4.7" height="2.2" fill="#000"/>
<text transform="translate(1249.54 1024.84) scale(1.0700 1.0000)" font-size="17.2" font-family="'DejaVu Sans','Liberation Sans',sans-serif">0.49</text>
<rect x="1294.5" y="1036.97" width="4.7" height="2.2" fill="#000"/>
<text transform="translate(1249.45 1044.17) scale(1.0700 1.0000)" font-size="17.2" font-family="'DejaVu Sans','Liberation Sans',sans-serif">0.56</text>
<rect x="1294.5" y="1056.31" width="4.7" height="2.2" fill="#000"/>
<text transform="translate(1249.73 1063.51) scale(1.0700 1.0000)" font-size="17.2" font-family="'DejaVu Sans','Liberation Sans',sans-serif">0.63</text>
<rect x="1294.5" y="1075.65" width="4.7" height="2.2" fill="#000"/>
<text transform="translate(1261.53 1082.85) scale(1.0700 1.0000)" font-size="17.2" font-family="'DejaVu Sans','Liberation Sans',sans-serif">0.7</text>
<rect x="1294.5" y="1094.98" width="4.7" height="2.2" fill="#000"/>
<text transform="translate(1249.82 1102.18) scale(1.0700 1.0000)" font-size="17.2" font-family="'DejaVu Sans','Liberation Sans',sans-serif">0.77</text>
<rect x="1294.5" y="1114.32" width="4.7" height="2.2" fill="#000"/>
<text transform="translate(1249.27 1121.52) scale(1.0700 1.0000)" font-size="17.2" font-family="'DejaVu Sans','Liberation Sans',sans-serif">0.84</text>
<rect x="1294.5" y="1133.66" width="4.7" height="2.2" fill="#000"/>
<text transform="translate(1250 1140.86) scale(1.0700 1.0000)" font-size="17.2" font-family="'DejaVu Sans','Liberation Sans',sans-serif">0.91</text>
<rect x="1294.5" y="1152.99" width="4.7" height="2.2" fill="#000"/>
<text transform="translate(1249.54 1160.19) scale(1.0700 1.0000)" font-size="17.2" font-family="'DejaVu Sans','Liberation Sans',sans-serif">0.98</text>
<rect x="1298.93" y="1160.8" width="2.4" height="4.6" fill="#000"/>
<text transform="translate(1305.73 1198.11) rotate(-90) scale(1 1.07)" font-size="17.2" font-family="'DejaVu Sans','Liberation Sans',sans-serif">0.0</text>
<rect x="1319.34" y="1160.8" width="2.4" height="4.6" fill="#000"/>
<text transform="translate(1326.14 1209.06) rotate(-90) scale(1 1.07)" font-size="17.2" font-family="'DejaVu Sans','Liberation Sans',sans-serif">0.09</text>
<rect x="1339.75" y="1160.8" width="2.4" height="4.6" fill="#000"/>
<text transform="translate(1346.55 1209.06) rotate(-90) scale(1 1.07)" font-size="17.2" font-family="'DejaVu Sans','Liberation Sans',sans-serif">0.18</text>
<rect x="1360.15" y="1160.8" width="2.4" height="4.6" fill="#000"/>
<text transform="translate(1366.95 1208.8) rotate(-90) scale(1 1.07)" font-size="17.2" font-family="'DejaVu Sans','Liberation Sans',sans-serif">0.27</text>
<rect x="1380.56" y="1160.8" width="2.4" height="4.6" fill="#000"/>
<text transform="translate(1387.36 1209.14) rotate(-90) scale(1 1.07)" font-size="17.2" font-family="'DejaVu Sans','Liberation Sans',sans-serif">0.36</text>
<rect x="1400.96" y="1160.8" width="2.4" height="4.6" fill="#000"/>
<text transform="translate(1407.76 1208.71) rotate(-90) scale(1 1.07)" font-size="17.2" font-family="'DejaVu Sans','Liberation Sans',sans-serif">0.45</text>
<rect x="1421.37" y="1160.8" width="2.4" height="4.6" fill="#000"/>
<text transform="translate(1428.17 1209.32) rotate(-90) scale(1 1.07)" font-size="17.2" font-family="'DejaVu Sans','Liberation Sans',sans-serif">0.54</text>
<rect x="1441.78" y="1160.8" width="2.4" height="4.6" fill="#000"/>
<text transform="translate(1448.58 1208.89) rotate(-90) scale(1 1.07)" font-size="17.2" font-family="'DejaVu Sans','Liberation Sans',sans-serif">0.63</text>
<rect x="1462.18" y="1160.8" width="2.4" height="4.6" fill="#000"/>
<text transform="translate(1468.98 1208.54) rotate(-90) scale(1 1.07)" font-size="17.2" font-family="'DejaVu Sans','Liberation Sans',sans-serif">0.72</text>
<rect x="1482.59" y="1160.8" width="2.4" height="4.6" fill="#000"/>
<text transform="translate(1489.39 1208.63) rotate(-90) scale(1 1.07)" font-size="17.2" font-family="'DejaVu Sans','Liberation Sans',sans-serif">0.81</text>
<rect x="1502.99" y="1160.8" width="2.4" height="4.6" fill="#000"/>
<text transform="translate(1509.79 1198.11) rotate(-90) scale(1 1.07)" font-size="17.2" font-family="'DejaVu Sans','Liberation Sans',sans-serif">0.9</text>
<rect x="1523.4" y="1160.8" width="2.4" height="4.6" fill="#000"/>
<text transform="translate(1530.2 1209.06) rotate(-90) scale(1 1.07)" font-size="17.2" font-family="'DejaVu Sans','Liberation Sans',sans-serif">0.99</text>
<text transform="translate(1241.6 1045.2) rotate(-90) scale(1 1.07)" font-size="17.2" font-family="'DejaVu Sans','Liberation Sans',sans-serif">alpha</text>
<text transform="translate(1393.33 1228.6) scale(1.0700 1.0000)" font-size="17.2" font-family="'DejaVu Sans','Liberation Sans',sans-serif">beta</text>
<rect x="1543.2" y="882" width="13.2" height="279.6" fill="url(#rocket)"/>
<rect x="1556.2" y="1160.3" width="5.0" height="2.2" fill="#000"/>
<text transform="translate(1565.7 1167.8) scale(1.0700 1.0000)" font-size="17.2" font-family="'DejaVu Sans','Liberation Sans',sans-serif">0.0</text>
<rect x="1556.2" y="1104.4" width="5.0" height="2.2" fill="#000"/>
<text transform="translate(1565.7 1111.9) scale(1.0700 1.0000)" font-size="17.2" font-family="'DejaVu Sans','Liberation Sans',sans-serif">0.2</text>
<rect x="1556.2" y="1048.5" width="5.0" height="2.2" fill="#000"/>
<text transform="translate(1565.7 1056) scale(1.0700 1.0000)" font-size="17.2" font-family="'DejaVu Sans','Liberation Sans',sans-serif">0.4</text>
<rect x="1556.2" y="992.6" width="5.0" height="2.2" fill="#000"/>
<text transform="translate(1565.7 1000.1) scale(1.0700 1.0000)" font-size="17.2" font-family="'DejaVu Sans','Liberation Sans',sans-serif">0.6</text>
<rect x="1556.2" y="936.7" width="5.0" height="2.2" fill="#000"/>
<text transform="translate(1565.7 944.2) scale(1.0700 1.0000)" font-size="17.2" font-family="'DejaVu Sans','Liberation Sans',sans-serif">0.8</text>
<rect x="1556.2" y="880.8" width="5.0" height="2.2" fill="#000"/>
<text transform="translate(1564.97 888.3) scale(1.0700 1.0000)" font-size="17.2" font-family="'DejaVu Sans','Liberation Sans',sans-serif">1.0</text>
<text x="1651.36" y="765" font-size="42.5">e</text>
<text transform="translate(1777.94 789.4) scale(1.0526 1.0000)" font-size="23.89">GEX contribution weight</text>
<text transform="translate(1779.2 822.2) scale(1.0526 1.0000)" font-size="20.21">Weights</text>
<text transform="translate(1778.34 848) scale(1.0526 1.0000)" font-size="20.53">α = 0, β = 1 (Spatial inform only)</text>
<line x1="1754.5" y1="895.3" x2="1759.7" y2="1033" stroke="#dadada" stroke-width="1.7"/>
<line x1="1826.7" y1="924.9" x2="1759.7" y2="1033" stroke="#8c8c8c" stroke-width="1.4"/>
<line x1="1927.6" y1="937.2" x2="1759.7" y2="1033" stroke="#dcdcdc" stroke-width="1.5"/>
<line x1="1754.5" y1="895.3" x2="1826.7" y2="924.9" stroke="#000" stroke-width="2.6"/>
<line x1="1826.7" y1="924.9" x2="1927.6" y2="937.2" stroke="#111" stroke-width="1.8"/>
<line x1="1927.6" y1="937.2" x2="2010.4" y2="944.3" stroke="#000" stroke-width="2.2"/>
<circle cx="1754.5" cy="895.3" r="9.5" fill="#fce94f"/>
<circle cx="1826.7" cy="924.9" r="8" fill="#f0917b"/>
<circle cx="1927.6" cy="937.2" r="7.8" fill="#e8171c"/>
<circle cx="2010.4" cy="944.3" r="8.3" fill="#8fd1b8"/>
<circle cx="1759.7" cy="1033" r="5" fill="#2b3f9c"/>
<circle cx="1910.2" cy="1171" r="4.9" fill="#7b6b5c"/>
<text transform="translate(1690.8 911.7) scale(1.0526 1.0000)" font-size="20.52">iEVT</text>
<text transform="translate(1824.17 906) scale(1.0526 1.0000)" font-size="20.52">EVT2</text>
<text transform="translate(1923.57 919.7) scale(1.0526 1.0000)" font-size="20.52">EVT1</text>
<text transform="translate(2010.3 925.4) scale(1.0526 1.0000)" font-size="20.52">VCT_CCC</text>
<text transform="translate(1729.34 1070.3) scale(1.0526 1.0000)" font-size="20.52">eEVT</text>
<text transform="translate(1860.52 1178.1) scale(1.0526 1.0000)" font-size="20.52">GC</text>
</g>
</svg>
</body></html>
